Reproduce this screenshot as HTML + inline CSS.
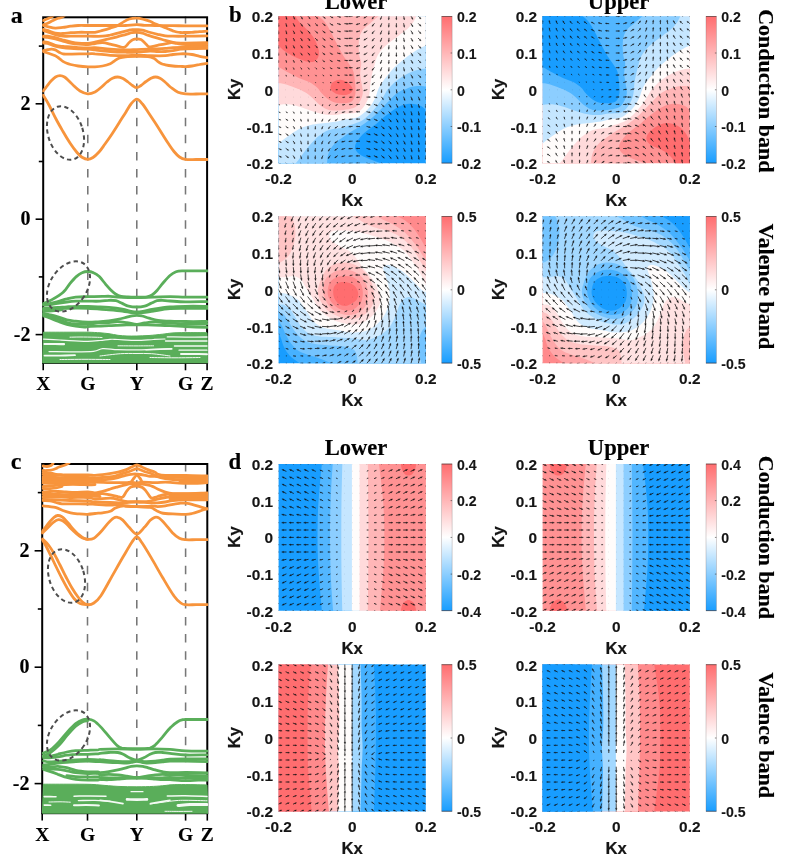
<!DOCTYPE html><html><head><meta charset="utf-8"><title>Band structure and spin texture</title>
<style>html,body{margin:0;padding:0;background:#fff}body{width:785px;height:862px;overflow:hidden}svg{display:block}.sb{font-family:"Liberation Serif","Times New Roman",serif;font-weight:bold;fill:#000;stroke:#000;stroke-width:0.15px;stroke-linejoin:round}.ab{font-family:"Liberation Sans",Arial,sans-serif;font-weight:bold;font-size:15.4px;fill:#151515;stroke:#151515;stroke-width:0.15px;stroke-linejoin:round}.cb{font-family:"Liberation Sans",Arial,sans-serif;font-weight:bold;font-size:14.1px;fill:#151515;stroke:#151515;stroke-width:0.12px;stroke-linejoin:round}.al{font-family:"Liberation Sans",Arial,sans-serif;font-weight:bold;font-size:16.8px;fill:#151515;stroke:#151515;stroke-width:0.2px;stroke-linejoin:round}</style></head><body>
<svg width="785" height="862" viewBox="0 0 785 862" role="img" aria-label="Band structures and spin textures">
<defs><linearGradient id="cbg" x1="0" y1="0" x2="0" y2="1"><stop offset="0" stop-color="#ff6d6f"/><stop offset="0.5" stop-color="#ffffff"/><stop offset="1" stop-color="#189dff"/></linearGradient></defs>
<rect width="785" height="862" fill="#fff"/>
<g>
<clipPath id="bc1"><rect x="42.3" y="16.4" width="165.7" height="347.4"/></clipPath>
<g clip-path="url(#bc1)">
<path d="M87.8 15.1 V362.9" stroke="#777" stroke-width="1.55" stroke-dasharray="8.5 8.6" fill="none"/>
<path d="M136.8 15.1 V362.9" stroke="#777" stroke-width="1.55" stroke-dasharray="8.5 8.6" fill="none"/>
<path d="M185.5 15.1 V362.9" stroke="#777" stroke-width="1.55" stroke-dasharray="8.5 8.6" fill="none"/>
</g>
<rect x="43.2" y="17.3" width="163.9" height="345.6" fill="none" stroke="#000" stroke-width="2"/>
<path d="M38.8 46.1 H43.2" stroke="#000" stroke-width="1.6"/>
<path d="M35.6 103.8 H43.2" stroke="#000" stroke-width="1.6"/>
<text x="30.4" y="109.9" text-anchor="end" class="sb" font-size="20">2</text>
<path d="M38.8 161.5 H43.2" stroke="#000" stroke-width="1.6"/>
<path d="M35.6 219.2 H43.2" stroke="#000" stroke-width="1.6"/>
<text x="30.4" y="225.3" text-anchor="end" class="sb" font-size="20">0</text>
<path d="M38.8 276.9 H43.2" stroke="#000" stroke-width="1.6"/>
<path d="M35.6 334.6 H43.2" stroke="#000" stroke-width="1.6"/>
<text x="30.4" y="340.7" text-anchor="end" class="sb" font-size="20">-2</text>
<path d="M43.2 362.9 V370.3" stroke="#000" stroke-width="1.6"/>
<path d="M87.8 362.9 V370.3" stroke="#000" stroke-width="1.6"/>
<path d="M136.8 362.9 V370.3" stroke="#000" stroke-width="1.6"/>
<path d="M185.5 362.9 V370.3" stroke="#000" stroke-width="1.6"/>
<path d="M207.1 362.9 V370.3" stroke="#000" stroke-width="1.6"/>
<text x="43.2" y="390.4" text-anchor="middle" class="sb" font-size="19.5">X</text>
<text x="87.8" y="390.4" text-anchor="middle" class="sb" font-size="19.5">G</text>
<text x="136.8" y="390.4" text-anchor="middle" class="sb" font-size="19.5">Y</text>
<text x="185.5" y="390.4" text-anchor="middle" class="sb" font-size="19.5">G</text>
<text x="207.1" y="390.4" text-anchor="middle" class="sb" font-size="19.5">Z</text>
<g clip-path="url(#bc1)">
<g fill="none" stroke="#f7943c" stroke-width="2.8" stroke-linecap="round" stroke-linejoin="round">
<path d="M43.2 95.3C44.2 96.9 46.9 101 49 105C51.1 109 53.7 114.6 56 119C58.3 123.4 60.7 127.5 63 131.5C65.3 135.5 67.7 139.5 70 143C72.3 146.5 75 150.1 77 152.5C79 154.9 80.2 156.2 82 157.3C83.8 158.4 86 159.3 87.8 159.3C89.6 159.3 91.1 158.7 93 157.5C94.9 156.3 97 154.2 99 152C101 149.8 102.8 147 105 144C107.2 141 109.7 137.5 112 134C114.3 130.5 116.7 126.7 119 123C121.3 119.3 124 115.2 126 112C128 108.8 129.2 106.1 131 104C132.8 101.9 134.9 99.2 136.8 99.2C138.7 99.2 140.6 101.9 142.5 104C144.4 106.1 146.1 109.2 148 112C149.9 114.8 151.8 117.7 154 121C156.2 124.3 158.7 128.3 161 132C163.3 135.7 165.8 139.8 168 143C170.2 146.2 172.1 149.2 174 151.5C175.9 153.8 177.6 155.7 179.5 157C181.4 158.3 182.8 159 185.5 159.4C188.2 159.8 192.4 159.5 196 159.5C199.6 159.5 205.4 159.5 207.3 159.5"/>
<path d="M43.2 91C43.8 90.2 45.7 87.7 47 86C48.3 84.3 49.6 82.5 51 81C52.4 79.5 54 77.9 55.5 77C57 76.1 58.5 75.7 60 75.7C61.5 75.7 63 76.1 64.5 77C66 77.9 67.4 79.5 69 81C70.6 82.5 72.2 84.3 74 86C75.8 87.7 77.7 89.7 80 91C82.3 92.3 85.3 93.7 87.8 93.9C90.3 94.1 92.8 93.1 95 92C97.2 90.9 99 89.2 101 87.5C103 85.8 105.1 83.5 107 82C108.9 80.5 110.7 79 112.5 78.2C114.3 77.4 116 77 117.7 77C119.5 77 121.3 77.7 123 78.5C124.7 79.3 126.4 80.8 128 82C129.6 83.2 131 84.5 132.5 85.5C134 86.5 135.4 87.7 136.8 87.7C138.2 87.7 139.5 86.5 141 85.5C142.5 84.5 144.3 82.7 146 81.5C147.7 80.3 149.4 79 151 78.2C152.6 77.5 154 77 155.5 77C157 77 158.4 77.5 160 78.3C161.6 79.1 163.2 80.5 165 82C166.8 83.5 168.8 85.8 171 87.5C173.2 89.2 175.6 91.2 178 92.3C180.4 93.4 182.5 93.6 185.5 93.9C188.5 94.2 192.4 94 196 94C199.6 94 205.4 93.9 207.3 93.9"/>
<path d="M43.4 25.5C44.1 25.7 45.6 26.2 47.6 26.6C49.6 27 52.8 28 55.3 28.1C57.8 28.2 60.4 27.7 62.9 27.4C65.5 27.1 68 26.5 70.6 26.2C73.1 25.9 75.3 25.6 78.2 25.5C81.1 25.4 84.4 25.5 88 25.5C91.6 25.5 95 25.5 100 25.5C105 25.5 113.6 25.5 117.9 25.5C122.2 25.5 122.4 25.6 125.6 25.5C128.8 25.4 133.7 24.7 136.9 24.7C140.1 24.7 141.7 25.2 144.7 25.3C147.7 25.4 150.3 25.4 155 25.5C159.7 25.6 167.8 25.5 172.9 25.6C178 25.7 180 25.8 185.7 25.9C191.4 25.9 203.4 25.9 207 25.9"/>
<path d="M43.4 29.3C44.1 29.5 45.6 29.8 47.6 30.4C49.6 31 52.8 32.6 55.3 33.1C57.8 33.6 60.4 33.6 62.9 33.5C65.5 33.4 68 32.9 70.6 32.7C73.1 32.5 75.3 32.4 78.2 32.3C81.1 32.2 85.2 32.3 88 32.3C90.8 32.3 92.6 32.6 95 32.3C97.4 32 100 31.1 102.6 30.4C105.1 29.7 107.8 28.9 110.3 28.1C112.8 27.3 115.6 26.6 117.9 25.5C120.2 24.4 122.1 22.7 124 21.6C125.9 20.5 127.2 19.6 129.4 19C131.6 18.4 134.5 18.1 136.9 18.2C139.3 18.3 141.7 18.9 143.9 19.4C146.1 19.9 148.3 20.7 150 21.3C151.7 21.9 152.5 22.6 153.8 23.2C155.1 23.8 156.3 24.2 157.6 24.7C158.9 25.2 160.2 25.7 161.5 26.2C162.8 26.7 164 27.3 165.3 27.8C166.6 28.3 167.8 28.8 169.1 29.3C170.4 29.8 171.6 30.4 172.9 30.8C174.2 31.2 175.5 31.7 176.8 32C178.1 32.3 179.1 32.4 180.6 32.5C182.1 32.6 183.8 32.5 185.7 32.5C187.6 32.5 189.7 32.4 192 32.3C194.3 32.1 197.2 31.8 199.7 31.6C202.2 31.4 205.8 31.3 207 31.2"/>
<path d="M43.4 30.4C44.1 30.7 45.6 31.3 47.6 32C49.6 32.7 52.8 33.9 55.3 34.6C57.8 35.3 60.4 35.9 62.9 36.2C65.5 36.5 66.4 36.2 70.6 36.2C74.8 36.2 82.7 36.2 88 36.2C93.3 36.2 98.9 36.4 102.6 36.2C106.3 36 107.8 35.5 110.3 35C112.8 34.5 115.4 33.7 117.9 33.1C120.5 32.5 123.3 31.8 125.6 31.2C127.9 30.6 129.8 29.9 131.7 29.7C133.6 29.4 135.1 29.6 136.9 29.7C138.7 29.8 140.5 29.7 142.4 30.1C144.3 30.5 146 31.3 148.5 32C151 32.7 154.8 33.7 157.6 34.3C160.4 34.9 162.8 35.5 165.3 35.8C167.9 36.1 169.5 36.1 172.9 36.2C176.3 36.3 180 36.3 185.7 36.2C191.4 36.1 203.4 35.9 207 35.8"/>
<path d="M43.4 36.2C44.1 36.2 45.6 36 47.6 36.2C49.6 36.5 52.8 37.1 55.3 37.7C57.8 38.3 60.4 39.3 62.9 40C65.5 40.7 68 41.4 70.6 41.9C73.1 42.4 75.3 42.9 78.2 43.1C81.1 43.4 85.2 43.6 88 43.4C90.8 43.2 92.6 42.5 95 42C97.4 41.5 100 41 102.6 40.4C105.1 39.8 107.8 39.1 110.3 38.5C112.8 37.9 115.4 37.2 117.9 36.6C120.5 36 123.3 35.2 125.6 34.6C127.9 34 129.8 33.1 131.7 32.7C133.6 32.3 135.1 32.2 136.9 32.3C138.7 32.4 140.5 32.6 142.4 33.1C144.3 33.6 146 34.6 148.5 35.4C151 36.2 154.8 37.3 157.6 38.1C160.4 38.9 162.8 39.7 165.3 40.4C167.9 41.1 170.4 41.8 172.9 42.3C175.4 42.8 178.5 43 180.6 43.1C182.7 43.2 181.3 43.3 185.7 43.2C190.1 43.1 203.4 42.8 207 42.7"/>
<path d="M43.4 36.9C44.1 37 45.6 37 47.6 37.3C49.6 37.6 52.8 38.2 55.3 38.8C57.8 39.4 60.4 40.4 62.9 41.1C65.5 41.8 68 42.6 70.6 43.1C73.1 43.6 75.3 44 78.2 44.2C81.1 44.5 85.2 44.7 88 44.6C90.8 44.5 92.6 43.8 95 43.5C97.4 43.2 100 42.6 102.6 42.7C105.1 42.8 107.8 43.6 110.3 44.2C112.8 44.8 115.8 45.6 117.9 46.1C120 46.6 121.7 47.3 123 47.4C124.3 47.5 124.5 47.4 125.6 46.5C126.7 45.6 128.1 43.4 129.4 42.3C130.7 41.1 131.9 40.2 133.2 39.6C134.4 39 135.6 38.8 136.9 38.8C138.2 38.8 139.6 39 140.9 39.6C142.2 40.2 143.5 41.6 144.7 42.7C145.8 43.8 146.8 45.4 147.8 46.1C148.8 46.8 148.9 47 150.5 46.9C152.1 46.8 155.1 45.8 157.6 45.3C160.1 44.8 163 44.2 165.3 43.8C167.6 43.4 169.5 42.8 171.4 42.7C173.3 42.6 174.4 43.1 176.8 43.4C179.2 43.7 180.7 44.4 185.7 44.6C190.7 44.8 203.4 44.6 207 44.6"/>
<path d="M43.4 41.9C44.1 42 45.6 41.7 47.6 42.3C49.6 42.9 52.8 44.6 55.3 45.3C57.8 46 60.4 46.2 62.9 46.5C65.5 46.8 68 46.7 70.6 46.9C73.1 47.1 75.3 47.4 78.2 47.6C81.1 47.8 85.2 48 88 48C90.8 48 91.3 47.4 95 47.6C98.7 47.8 105.2 48.8 110.3 49.2C115.4 49.6 121.2 49.8 125.6 49.9C130 50 133.1 49.7 136.9 49.6C140.7 49.5 145.1 49.3 148.5 49.2C151.9 49.1 154.8 48.9 157.6 48.8C160.4 48.7 162.8 48.6 165.3 48.4C167.9 48.2 169.5 47.8 172.9 47.6C176.3 47.4 180 47.4 185.7 47.3C191.4 47.2 203.4 47 207 47"/>
<path d="M43.4 43.1C44.1 43.1 45.6 42.9 47.6 43.4C49.6 43.9 52.8 45.4 55.3 46.1C57.8 46.8 60.4 47.2 62.9 47.6C65.5 48 68 48.2 70.6 48.4C73.1 48.6 75.3 48.7 78.2 48.8C81.1 48.9 85.2 49 88 49.2C90.8 49.4 91.3 49.5 95 49.9C98.7 50.3 105.2 51.1 110.3 51.5C115.4 51.9 121.2 52.1 125.6 52.2C130 52.3 132.8 52.4 136.9 52.2C141 52 146.6 51.1 150 51C153.4 50.9 155 51.4 157.6 51.5C160.2 51.6 162.8 51.6 165.3 51.5C167.9 51.4 170.4 51.1 172.9 50.7C175.4 50.3 178.5 49.5 180.6 49.2C182.7 48.9 181.3 48.9 185.7 48.8C190.1 48.7 203.4 48.5 207 48.4"/>
<path d="M43.4 50.7C44.1 50.5 46.2 49.9 47.6 49.6C49 49.4 50.2 49.2 51.5 49.2C52.8 49.2 54 49.4 55.3 49.9C56.6 50.4 57.8 51.6 59.1 52.2C60.4 52.9 61 53.5 62.9 53.8C64.8 54.1 66.4 54.1 70.6 54.1C74.8 54.1 83.9 53.8 88 53.8C92.1 53.8 91.3 53.5 95 53.8C98.7 54 105.2 55 110.3 55.3C115.4 55.6 121.2 55.7 125.6 55.7C130 55.7 132.8 55.3 136.9 55.3C141 55.3 145.3 55.6 150 55.7C154.7 55.8 161.5 55.9 165.3 55.7C169.1 55.5 170.4 54.8 172.9 54.5C175.4 54.2 178.5 53.9 180.6 53.8C182.7 53.7 183.8 53.7 185.7 53.8C187.6 53.9 189.7 54.1 192 54.5C194.3 54.9 197.2 55.9 199.7 56.4C202.2 56.9 205.8 57.4 207 57.6"/>
<path d="M43.4 51.5C44.1 51.8 45.6 52.3 47.6 53C49.6 53.7 53.4 54.8 55.3 55.7C57.2 56.6 57.8 57.3 59.1 58.3C60.4 59.2 61.6 60.6 62.9 61.4C64.2 62.2 65.5 62.8 66.8 63.3C68.1 63.8 68.7 64 70.6 64.5C72.5 65 75.3 65.6 78.2 66C81.1 66.4 85.2 66.7 88 66.8C90.8 66.9 92.6 66.9 95 66.8C97.4 66.7 100 66.5 102.6 66C105.1 65.5 108.2 64.6 110.3 63.7C112.3 62.8 113.4 61.6 114.9 60.6C116.4 59.6 117.7 58.6 119.5 58C121.3 57.4 122.7 57.1 125.6 56.8C128.5 56.5 133.2 56.4 136.9 56.4C140.6 56.4 145.2 56.3 148 56.6C150.8 56.9 152.2 57.5 153.8 58.3C155.4 59.1 156.3 60.5 157.6 61.4C158.9 62.3 160.2 63.1 161.5 63.7C162.8 64.3 163.4 64.4 165.3 64.8C167.2 65.2 170.4 65.7 172.9 66C175.4 66.3 178.5 66.3 180.6 66.4C182.7 66.5 183.8 66.7 185.7 66.6C187.6 66.5 189.7 66.3 192 66C194.3 65.7 197.2 65 199.7 64.5C202.2 64 205.8 63.5 207 63.3"/>
<path d="M43.4 20.5C44 20.2 45.8 19.5 46.9 19C48 18.5 48.9 18.2 49.9 17.7C50.9 17.2 52.5 16.3 53 16"/>
<path d="M43.4 24.7C44.1 24.4 46 23.9 47.6 23.2C49.2 22.5 51.2 21.3 53 20.5C54.8 19.7 56.9 18.7 58.3 18.2C59.7 17.7 60.4 17.8 61.4 17.4C62.4 17 63.6 16.2 64 16"/>
</g>
<g fill="none" stroke="#5aae5a" stroke-width="2.8" stroke-linecap="round" stroke-linejoin="round">
<path d="M43.7 303.4C45.1 302.8 48.7 301.5 52 299.6C55.3 297.7 60.6 294.6 63.5 291.9C66.5 289.3 67.8 286.2 69.9 283.6C72 281.1 74.3 278.4 76.3 276.6C78.3 274.8 80.1 273.6 82 272.8C84 271.9 85.9 271.5 87.8 271.5C89.7 271.5 91.6 271.9 93.5 272.8C95.4 273.6 97.3 274.7 99.3 276.6C101.3 278.5 103.7 282 105.7 284.3C107.6 286.5 109.1 288.3 110.8 290C112.5 291.7 114.2 293.2 115.9 294.2C117.6 295.3 119 295.9 121 296.4C123 296.9 125.4 296.9 128 297C130.6 297.2 133.6 297.2 136.8 297.2C140 297.2 144.5 297.2 147 296.8C149.5 296.4 150.3 296.1 152 295C153.7 293.9 155.2 292.5 157 290.5C158.8 288.5 160.8 285.5 163 283C165.2 280.5 167.8 277.4 170 275.5C172.2 273.6 174 272.6 176 271.8C178 271 176.8 271 182 270.9C187.2 270.8 203.1 270.9 207.3 270.9"/>
<path d="M43.4 304.3C44.3 304.2 46.6 304.2 49 303.8C51.4 303.4 54.8 302.4 57.8 301.6C60.8 300.8 63.8 299.6 66.8 298.9C69.8 298.1 72.2 297.5 75.7 297.1C79.2 296.7 83.5 296.8 88 296.7C92.5 296.6 98.8 296.5 102.5 296.4C106.2 296.3 107.5 296.2 110 296.3C112.5 296.4 113.3 296.9 117.8 297.1C122.3 297.3 130.9 297.6 136.8 297.6C142.8 297.6 148 297.2 153.5 297.1C159 297 164.7 296.7 170 296.7C175.3 296.7 179.3 297 185.5 297.1C191.7 297.2 203.4 297.1 207 297.1"/>
<path d="M43.4 305.2C44.3 305.1 46.6 305 49 304.7C51.4 304.4 54.8 303.8 57.8 303.4C60.8 302.9 63.8 302.4 66.8 302C69.8 301.6 72.2 301.3 75.7 301.2C79.2 301.1 84 301.2 88 301.2C92 301.2 96.5 301.3 100 301.2C103.5 301.1 106.2 300.4 108.9 300.3C111.6 300.2 113.8 300.2 116 300.7C118.2 301.2 120.2 302.5 122.3 303.4C124.4 304.3 126.1 305.5 128.5 306.1C130.9 306.7 134.1 307 136.8 307C139.5 307 142.3 306.7 144.6 306.1C146.9 305.5 148.7 304.3 150.8 303.4C152.9 302.5 155.2 301.2 157.1 300.7C159 300.2 160.2 300.2 162.4 300.3C164.6 300.4 166.2 300.8 170 301C173.8 301.2 179.3 301.7 185.5 301.8C191.7 301.9 203.4 301.6 207 301.6"/>
<path d="M43.4 308.5C44.3 308.4 46.6 308.2 49 308C51.4 307.8 54.8 307.7 57.8 307.5C60.8 307.3 63.8 307 66.8 306.8C69.8 306.6 72.2 306.4 75.7 306.3C79.2 306.2 84.3 306.4 88 306.5C91.7 306.6 94.5 306.8 98 306.9C101.5 307 104.9 307 108.9 307.4C113 307.8 118.6 308.5 122.3 309.2C126 309.9 128.8 310.9 131.2 311.4C133.6 311.9 134.9 312 136.8 312C138.7 312 140 311.9 142.8 311.4C145.6 310.9 149 309.9 153.5 309.2C158 308.5 164.7 307.5 170 307C175.3 306.5 179.3 306.4 185.5 306.3C191.7 306.2 203.4 306.3 207 306.3"/>
<path d="M43.4 309.5C45.8 309.4 52.4 309.1 57.8 308.8C63.2 308.6 70.7 308.1 75.7 308C80.7 307.9 82.5 308 88 308.3C93.5 308.6 103.2 309.4 108.9 309.8C114.6 310.2 118.6 310.5 122.3 311C126 311.5 128.8 312.4 131.2 312.7C133.6 313 134.9 313 136.8 313C138.7 313 140 313 142.8 312.7C145.6 312.4 149 311.7 153.5 311C158 310.3 164.7 309.1 170 308.7C175.3 308.2 179.3 308.4 185.5 308.3C191.7 308.2 203.4 308.3 207 308.3"/>
<path d="M43.4 313.2C44.3 313.4 46.6 313.9 49 314.5C51.4 315.1 54.8 315.9 57.8 316.8C60.8 317.7 63.8 319.2 66.8 319.9C69.8 320.6 72.2 320.8 75.7 321.2C79.2 321.6 84.3 322.1 88 322.2C91.7 322.3 94.5 322 98 321.8C101.5 321.6 105.6 321.2 108.9 320.8C112.2 320.4 114.8 320 117.8 319.4C120.8 318.8 124.4 317.8 126.8 317.2C129.2 316.6 130.4 316.2 132.1 315.9C133.8 315.6 135.2 315.4 136.8 315.4C138.4 315.4 139.9 315.4 141.9 315.9C143.9 316.3 146.3 317.4 149 318.1C151.7 318.8 154.5 319.8 158 320.3C161.5 320.8 165.4 321 170 321.2C174.6 321.4 179.3 321.4 185.5 321.5C191.7 321.6 203.4 321.5 207 321.5"/>
<path d="M43.4 314.5C44.3 314.8 46.6 315.2 49 316C51.4 316.8 54.8 317.9 57.8 319C60.8 320.1 63.8 321.7 66.8 322.5C69.8 323.3 72.2 323.7 75.7 324C79.2 324.3 84 324.5 88 324.3C92 324.1 96.5 322.9 100 322.6C103.5 322.3 105.9 322.8 108.9 322.6C111.9 322.5 114.8 321.7 117.8 321.7C120.8 321.7 123.6 322.2 126.8 322.6C130 323 133.8 324.2 136.8 324.3C139.8 324.4 141.5 323.4 144.6 323C147.7 322.6 152.3 321.8 155.3 321.7C158.3 321.6 160 322.4 162.4 322.6C164.8 322.8 166.2 322.8 170 323C173.8 323.2 179.3 323.8 185.5 324C191.7 324.2 203.4 324 207 324"/>
<path d="M43.4 315.9C44.3 316.2 46.6 316.8 49 317.7C51.4 318.6 54.8 320.1 57.8 321.2C60.8 322.3 63.8 323.5 66.8 324.3C69.8 325.1 72.7 325.7 75.7 326.1C78.7 326.6 82.5 326.9 84.6 327C86.6 327.1 85.8 326.8 88 326.6C90.2 326.5 94.5 326.2 98 326.1C101.5 326 104.1 325.9 108.9 325.7C113.7 325.5 122.1 324.9 126.8 324.8C131.4 324.7 132.4 324.8 136.8 324.8C141.2 324.8 148 324.9 153.5 325C159 325.1 164.7 325.4 170 325.7C175.3 325.9 179.3 326.2 185.5 326.5C191.7 326.8 203.4 327.2 207 327.3"/>
<path d="M43.4 311C44.3 311 47.1 311.1 49 311C50.9 310.9 52.8 310.8 55 310.5C57.2 310.2 60.8 309.7 62 309.5"/>
</g>
<path d="M43.4 332.2C47.8 332.2 62.6 332.2 70 332.2C77.4 332.2 83 332.1 88 332.2C93 332.3 96.5 332.6 100 332.8C103.5 333.1 106 333.3 109 333.7C112 334.1 115 334.9 118 335.3C121 335.7 123.9 335.9 127 336C130.1 336.1 133.1 336.1 136.8 336C140.5 335.9 144.7 335.8 149 335.5C153.3 335.2 158.6 334.6 162.4 334.2C166.2 333.8 168.2 333.3 172 333C175.8 332.7 179.7 332.7 185.5 332.6C191.3 332.6 203.4 332.7 207 332.7L208 362.9 L42.4 362.9 Z" fill="#5aae5a" stroke="#5aae5a" stroke-width="1"/>
<path d="M43.6 339.1C46.3 339.2 54.8 339.7 60 340C65.2 340.3 70.3 340.6 75 340.8C79.7 341 83.8 341.4 88 341.3C92.2 341.2 96.3 340.8 100 340.5C103.7 340.2 107 339.5 110 339.3C113 339.1 113.5 339.3 118 339.5C122.5 339.7 130.9 340.4 136.8 340.4C142.7 340.4 148.8 339.7 153.5 339.5C158.2 339.3 163.1 339.1 165 339" fill="none" stroke="#f4faf4" stroke-width="1.2" stroke-linecap="round"/>
<path d="M44.5 344C46.2 344 51.8 344 55 344C58.2 344 62.5 344.2 64 344.2" fill="none" stroke="#f4faf4" stroke-width="2.2" stroke-linecap="round"/>
<path d="M70 337.2C71.7 337.2 75.8 337 80 337C84.2 337 91.3 337.1 95 337.2C98.7 337.3 100.8 337.4 102 337.5" fill="none" stroke="#f4faf4" stroke-width="1" stroke-linecap="round"/>
<path d="M118 345.8C121 345.8 130.1 345.9 136 345.9C141.9 345.9 150.6 345.8 153.5 345.8" fill="none" stroke="#f4faf4" stroke-width="1" stroke-linecap="round"/>
<path d="M49 351.6C52.5 351.6 62.6 351.8 70 351.8C77.4 351.8 88 351.9 93.5 351.4C99 350.9 98.7 348.9 102.7 348.6C106.8 348.3 112.1 349.4 117.8 349.6C123.5 349.8 130.9 349.9 136.8 349.9C142.8 349.8 147.8 349.5 153.5 349.3C159.2 349.1 168.1 348.8 171 348.7" fill="none" stroke="#f4faf4" stroke-width="1.2" stroke-linecap="round"/>
<path d="M44.5 355.6C47.1 355.6 54.9 355.7 60 355.6C65.1 355.5 72.5 355.3 75 355.2" fill="none" stroke="#f4faf4" stroke-width="1.8" stroke-linecap="round"/>
<path d="M100 356C103.4 355.6 114.5 354.1 120.5 353.7C126.5 353.3 130.8 353.5 136 353.5C141.2 353.5 146 353.3 151.7 353.7C157.4 354.1 166.9 355.6 170 356" fill="none" stroke="#f4faf4" stroke-width="1" stroke-linecap="round"/>
<path d="M60 359.5C64.2 359.5 76.7 359.3 85 359.3C93.3 359.3 105.8 359.5 110 359.5" fill="none" stroke="#f4faf4" stroke-width="1" stroke-linecap="round"/>
<path d="M167.3 336.9C170.4 336.9 179 337.1 185.6 337.1C192.2 337.1 203.4 337 207 337" fill="none" stroke="#f4faf4" stroke-width="1.3" stroke-linecap="round"/>
<path d="M165.5 341C168.8 341 178.1 341 185 341C191.9 341 203.3 341 207 341" fill="none" stroke="#f4faf4" stroke-width="1.3" stroke-linecap="round"/>
<path d="M174.4 346C177 346 184.6 346 190 346C195.4 346 204.2 346 207 346" fill="none" stroke="#f4faf4" stroke-width="1.3" stroke-linecap="round"/>
<path d="M146 349.8C148.3 349.7 155.7 349.4 160 349.2C164.3 349 169.8 348.9 171.8 348.9" fill="none" stroke="#f4faf4" stroke-width="1.6" stroke-linecap="round"/>
<path d="M179 350.2C181.7 350.2 190.3 350.2 195 350.2C199.7 350.2 205 350.2 207 350.2" fill="none" stroke="#f4faf4" stroke-width="1.2" stroke-linecap="round"/>
<path d="M181 353.9C183.3 353.9 190.7 353.9 195 354C199.3 354.1 205 354.2 207 354.2" fill="none" stroke="#f4faf4" stroke-width="2" stroke-linecap="round"/>
<path d="M150 357.5C154.2 357.6 166.7 357.8 175 357.8C183.3 357.8 195.8 357.6 200 357.5" fill="none" stroke="#f4faf4" stroke-width="1" stroke-linecap="round"/>
</g>
<ellipse cx="65.5" cy="133" rx="17.5" ry="27.5" transform="rotate(-17 65.5 133)" fill="none" stroke="#4d4d4d" stroke-width="2" stroke-dasharray="4.3 3.3"/>
<ellipse cx="68.5" cy="286.5" rx="18.5" ry="27.5" transform="rotate(33 68.5 286.5)" fill="none" stroke="#4d4d4d" stroke-width="2" stroke-dasharray="4.3 3.3"/>
</g>
<g>
<clipPath id="bc2"><rect x="41.3" y="463.1" width="166.9" height="351"/></clipPath>
<g clip-path="url(#bc2)">
<path d="M87.5 463.1 V813.2" stroke="#777" stroke-width="1.55" stroke-dasharray="8.5 8.6" fill="none"/>
<path d="M136.8 463.1 V813.2" stroke="#777" stroke-width="1.55" stroke-dasharray="8.5 8.6" fill="none"/>
<path d="M185.6 463.1 V813.2" stroke="#777" stroke-width="1.55" stroke-dasharray="8.5 8.6" fill="none"/>
</g>
<rect x="42.2" y="464" width="165.1" height="349.2" fill="none" stroke="#000" stroke-width="2"/>
<path d="M37.8 492.6 H42.2" stroke="#000" stroke-width="1.6"/>
<path d="M34.6 550.8 H42.2" stroke="#000" stroke-width="1.6"/>
<text x="29.4" y="556.9" text-anchor="end" class="sb" font-size="20">2</text>
<path d="M37.8 609 H42.2" stroke="#000" stroke-width="1.6"/>
<path d="M34.6 667.2 H42.2" stroke="#000" stroke-width="1.6"/>
<text x="29.4" y="673.3" text-anchor="end" class="sb" font-size="20">0</text>
<path d="M37.8 725.4 H42.2" stroke="#000" stroke-width="1.6"/>
<path d="M34.6 783.6 H42.2" stroke="#000" stroke-width="1.6"/>
<text x="29.4" y="789.7" text-anchor="end" class="sb" font-size="20">-2</text>
<path d="M42.2 813.2 V820.6" stroke="#000" stroke-width="1.6"/>
<path d="M87.5 813.2 V820.6" stroke="#000" stroke-width="1.6"/>
<path d="M136.8 813.2 V820.6" stroke="#000" stroke-width="1.6"/>
<path d="M185.6 813.2 V820.6" stroke="#000" stroke-width="1.6"/>
<path d="M207.3 813.2 V820.6" stroke="#000" stroke-width="1.6"/>
<text x="42.2" y="840.7" text-anchor="middle" class="sb" font-size="19.5">X</text>
<text x="87.5" y="840.7" text-anchor="middle" class="sb" font-size="19.5">G</text>
<text x="136.8" y="840.7" text-anchor="middle" class="sb" font-size="19.5">Y</text>
<text x="185.6" y="840.7" text-anchor="middle" class="sb" font-size="19.5">G</text>
<text x="207.3" y="840.7" text-anchor="middle" class="sb" font-size="19.5">Z</text>
<g clip-path="url(#bc2)">
<g fill="none" stroke="#f7943c" stroke-width="2.8" stroke-linecap="round" stroke-linejoin="round">
<path d="M42.5 539C43.5 540 46.6 542.6 48.5 545C50.4 547.4 52.1 550.2 54 553.5C55.9 556.8 58 561.1 60 565C62 568.9 64 573.2 66 577C68 580.8 70 584.7 72 588C74 591.3 76.2 594.7 78 597C79.8 599.3 80.9 600.7 82.5 602C84.1 603.3 85.6 604.5 87.5 604.7C89.4 604.9 91.7 604.5 93.9 603C96.1 601.5 97.9 600.2 100.9 595.7C103.9 591.3 108.4 582.7 112.1 576.1C115.8 569.6 120 562.1 123.3 556.5C126.6 550.9 129.5 545.8 131.7 542.5C134 539.2 135.1 536.9 136.8 536.9C138.5 536.9 139.4 539 141.8 542.5C144.2 546 147.9 552.1 151.3 557.9C154.8 563.7 158.8 571.2 162.6 577.5C166.3 583.8 170.7 591.5 173.8 595.7C176.8 600 178.8 601.5 180.8 603C182.7 604.5 183 604.4 185.5 604.7C188.1 605 192.5 604.7 196.2 604.7C199.8 604.7 205.5 604.7 207.4 604.7"/>
<path d="M42.5 540C43.1 541 44.7 543.5 46 546C47.3 548.5 48.8 551.6 50.5 555C52.2 558.4 54.1 562.6 56 566.5C57.9 570.4 60 574.7 62 578.5C64 582.3 66 586.2 68 589.5C70 592.8 72 596.2 74 598.5C76 600.8 77.8 602.5 80 603.5C82.2 604.5 86.2 604.5 87.5 604.7"/>
<path d="M42.2 531.5C42.8 530.7 44.7 528.2 46 526.5C47.3 524.8 48.7 523 50 521.5C51.3 520 52.7 518.3 54 517.3C55.3 516.3 56.5 515.6 57.7 515.5C59 515.4 60.3 515.8 61.5 516.5C62.7 517.2 63.8 518.2 65 519.5C66.2 520.8 67.7 522.4 69 524C70.3 525.6 71.5 527.3 73 529C74.5 530.7 76.4 532.6 78 534C79.6 535.4 80.9 536.6 82.5 537.5C84.1 538.4 85.6 539.2 87.5 539.3C89.4 539.4 91.7 539.5 93.9 538.3C96.1 537 98.6 534.3 100.9 531.8C103.2 529.4 105.8 525.7 107.9 523.4C110 521.1 111.9 519.1 113.5 518.1C115.1 517.1 116.2 516.9 117.7 517.3C119.3 517.6 120.9 518.4 122.8 520.1C124.6 521.7 126.6 524.7 128.9 527.1C131.3 529.4 134.2 534.1 136.8 534.1C139.4 534.1 142.4 529.3 144.6 527.1C146.8 524.8 148.3 522.3 149.9 520.6C151.6 519 153.2 517.7 154.7 517.3C156.2 516.8 157.4 516.9 159.2 518.1C161 519.3 163.2 521.8 165.4 524.3C167.6 526.7 170 530.3 172.4 532.7C174.7 535 177.2 537.1 179.4 538.3C181.6 539.5 182.7 539.5 185.5 539.7C188.3 539.9 192.5 539.7 196.2 539.7C199.8 539.7 205.5 539.7 207.4 539.7"/>
<path d="M42.2 533C42.8 532.4 44.7 530.8 46 529.5C47.3 528.2 48.7 526.8 50 525.5C51.3 524.2 52.6 522.8 54 521.8C55.4 520.8 57.2 519.8 58.5 519.6C59.8 519.4 60.8 519.9 62 520.5C63.2 521.1 64.3 522 65.5 523C66.7 524 67.8 525.2 69 526.5C70.2 527.8 71.5 529.1 73 530.5C74.5 531.9 76.4 533.8 78 535C79.6 536.2 80.9 537.3 82.5 538C84.1 538.7 86.7 539.1 87.5 539.3"/>
<path d="M43.2 470.5C43.8 470.5 45.6 470.6 47 470.5C48.4 470.4 50.1 470.3 51.5 470C52.9 469.7 54.2 469.3 55.5 468.8C56.8 468.3 57.4 467.6 59 467C60.6 466.4 63.3 465.7 65 465C66.7 464.3 68.3 463.3 69 463"/>
<path d="M43.2 466C43.8 466.1 45.7 466.6 47 466.5C48.3 466.4 50 466 51 465.5C52 465 52.7 463.8 53 463.5"/>
<path d="M43.2 472.5C44.3 472.6 47.9 472.7 50 473C52.1 473.3 54 474 56 474.3C58 474.6 61 474.7 62 474.8"/>
<path d="M43.2 474.5C45.2 474.6 50.5 474.9 55 475C59.5 475.1 64.5 475 70 475C75.5 475 83.8 474.8 88 474.8C92.2 474.9 91.9 475.4 95 475.3C98.1 475.2 102.7 474.6 106.5 474.1C110.3 473.6 114.7 472.9 117.9 472.2C121.1 471.5 123.4 470.7 125.6 469.9C127.8 469.1 129.1 468.1 131 467.3C132.9 466.5 135 465 136.9 465C138.8 465 140.5 466.5 142.4 467.3C144.3 468.1 146.4 469.1 148.5 469.9C150.6 470.7 153.5 471.5 155 472.2C156.5 472.9 155.9 473.6 157.6 474.1C159.3 474.6 160.6 475.1 165.3 475.3C170 475.5 178.7 475.2 185.7 475.3C192.7 475.4 203.7 475.9 207.3 476"/>
<path d="M43.2 477C45.2 477.1 50.5 477.4 55 477.5C59.5 477.6 64.5 477.5 70 477.5C75.5 477.5 83.8 477.2 88 477.3C92.2 477.4 91.9 478 95 478C98.1 478 103.3 477.5 106.5 477.2C109.7 476.9 111.5 477 114 476.4C116.5 475.8 119.2 474.6 121.8 473.8C124.4 473 127.2 472.3 129.4 471.5C131.6 470.7 133.6 469.7 134.8 469.2C136.1 468.7 136.2 468.4 136.9 468.4C137.6 468.4 137.8 468.7 139 469.2C140.2 469.7 142.2 470.7 144.4 471.5C146.6 472.3 149.8 472.9 152 473.8C154.2 474.7 155.4 476 157.6 476.8C159.8 477.6 162.8 478.2 165.3 478.7C167.9 479.1 169.5 479.3 172.9 479.5C176.3 479.7 180 479.8 185.7 479.9C191.4 480 203.7 479.9 207.3 479.9"/>
<path d="M43.2 480C45.2 480.1 50.5 480.4 55 480.5C59.5 480.6 64.5 480.6 70 480.5C75.5 480.4 83.8 480 88 480C92.2 480 91.3 480.8 95 480.6C98.7 480.5 106.5 479.6 110.3 479.1C114.1 478.6 115.4 478.2 117.9 477.6C120.5 477 123 475.9 125.6 475.3C128.1 474.7 131.3 474.3 133.2 474.1C135.1 473.9 135.6 474 136.9 474.1C138.2 474.2 139 474.2 140.9 474.5C142.8 474.8 146.2 475.8 148.5 476.1C150.8 476.4 152.2 476.2 155 476.4C157.8 476.5 160.2 476.8 165.3 477C170.4 477.2 178.7 477.3 185.7 477.5C192.7 477.7 203.7 477.9 207.3 478"/>
<path d="M43.2 483C45.2 483.1 50.5 483.2 55 483.3C59.5 483.4 64.5 483.6 70 483.5C75.5 483.4 83.8 482.7 88 482.5C92.2 482.3 91.3 482.2 95 482.2C98.7 482.2 105.2 482.5 110.3 482.6C115.4 482.7 122.1 482.7 125.6 482.6C129 482.5 129.1 482.1 131 482.2C132.9 482.2 135 482.9 136.9 482.9C138.8 482.9 139.4 482.2 142.4 482.2C145.4 482.1 151.2 482.6 155 482.6C158.8 482.6 162.3 482.2 165.3 482.2C168.3 482.2 169.5 482.4 172.9 482.6C176.3 482.8 181.9 483.2 185.7 483.3C189.5 483.4 192.3 483.4 195.9 483.3C199.5 483.2 205.4 482.7 207.3 482.6"/>
<path d="M131.3 482C131.8 481.3 133.1 479.1 134 478C134.9 476.9 135.9 475.3 136.9 475.3C137.9 475.3 139 476.9 139.8 478C140.7 479.1 141.6 481.3 142 482"/>
<path d="M43.2 486.5C44.3 486.4 47.5 486.2 50 486C52.5 485.8 55.3 485.2 58 485C60.7 484.8 62.3 484.6 66 484.5C69.7 484.4 76.3 484.4 80 484.5C83.7 484.6 85.5 484.8 88 484.8C90.5 484.8 93.8 484.6 95 484.5"/>
<path d="M43.2 492C44.3 491.9 47.5 491.6 50 491.5C52.5 491.4 55.3 491.4 58 491.5C60.7 491.6 63.2 491.9 66 492C68.8 492.1 71.3 492.3 75 492.3C78.7 492.3 84.7 491.7 88 491.8C91.3 491.9 92.6 493 95 492.9C97.4 492.8 100 491.9 102.6 491.3C105.1 490.7 107.8 489.8 110.3 489C112.8 488.2 115.4 487.5 117.9 486.8C120.5 486.1 123.3 485.3 125.6 484.8C127.9 484.3 129.8 483.9 131.7 483.7C133.6 483.5 135.1 483.6 136.9 483.7C138.7 483.8 140.5 483.9 142.4 484.1C144.3 484.4 146.7 484.8 148.5 485.2C150.3 485.6 151.5 486 153 486.6C154.5 487.2 155.5 488.1 157.6 489C159.7 489.9 162.8 491.3 165.3 492.1C167.9 492.9 169.5 493.4 172.9 493.6C176.3 493.9 180 493.7 185.7 493.6C191.4 493.5 203.7 493 207.3 492.9"/>
<path d="M43.2 494.5C45.2 494.5 50.5 494.5 55 494.5C59.5 494.5 64.5 494.6 70 494.5C75.5 494.4 83.8 494.1 88 494C92.2 493.9 92.6 493.7 95 493.6C97.4 493.5 100 493.4 102.6 493.6C105.1 493.8 107.8 494.3 110.3 494.8C112.8 495.3 116.1 496.2 117.9 496.7C119.7 497.1 120.4 497.5 121.3 497.5C122.2 497.5 122.3 497.6 123.3 496.5C124.3 495.4 125.8 492.2 127.1 490.6C128.4 489 129.3 487.9 130.9 487.1C132.5 486.3 135 485.9 136.9 486C138.8 486.1 140.9 486.6 142.4 487.5C143.9 488.4 144.9 489.8 146.2 491.3C147.5 492.8 149 495.6 150 496.7C151 497.8 151 498.2 152.3 498.2C153.6 498.2 155.4 497.1 157.6 496.5C159.8 495.9 162.8 494.9 165.3 494.5C167.9 494.1 169.5 493.9 172.9 493.8C176.3 493.7 180 494 185.7 494C191.4 494 203.7 494 207.3 494"/>
<path d="M43.2 497C45.2 497 50.5 496.9 55 497C59.5 497.1 64.5 497.4 70 497.5C75.5 497.6 83.8 497.2 88 497.5C92.2 497.8 91.3 498.9 95 499C98.7 499.1 106.2 498.1 110.3 498.2C114.4 498.3 117 499.3 119.5 499.8C122 500.3 122.7 501 125.6 501.3C128.5 501.6 133.1 501.7 136.9 501.7C140.7 501.7 145.5 501.6 148.5 501.3C151.5 501 152.2 500.4 155 499.8C157.8 499.2 162.3 498 165.3 497.5C168.3 497 169.5 496.7 172.9 496.7C176.3 496.7 180 497.5 185.7 497.5C191.4 497.5 203.7 496.8 207.3 496.7"/>
<path d="M43.2 499.3C45.2 499.4 50.5 499.6 55 499.8C59.5 500 64.5 500.3 70 500.5C75.5 500.7 83.8 500.8 88 501C92.2 501.2 91.3 501.8 95 502C98.7 502.2 106.2 502.4 110.3 502.5C114.4 502.6 117 502.8 119.5 502.8C122 502.8 122.7 502.6 125.6 502.5C128.5 502.4 132.8 501.9 136.9 502C141 502.1 146.6 502.7 150 502.8C153.4 502.9 155 502.9 157.6 502.8C160.2 502.7 162.8 502.4 165.3 502C167.9 501.6 169.5 500.9 172.9 500.5C176.3 500.1 180 499.9 185.7 499.8C191.4 499.7 203.7 499.8 207.3 499.8"/>
<path d="M43.2 500.5C44.3 500.6 47.9 500.5 50 500.8C52.1 501.1 54 502 56 502.5C58 503 59.7 503.6 62 503.8C64.3 504 65.7 503.8 70 503.8C74.3 503.8 83.8 503.9 88 504C92.2 504.1 91.3 504.1 95 504.3C98.7 504.5 106.5 505.1 110.3 505.1C114.1 505.1 115.4 504.4 117.9 504.5C120.5 504.6 122.4 505.6 125.6 506C128.8 506.4 133.1 506.6 136.9 506.6C140.7 506.7 145.9 506.4 148.5 506.3C151.1 506.2 150.8 505.8 152.3 505.9C153.8 505.9 155.4 506.6 157.6 506.6C159.8 506.6 162.8 506.3 165.3 505.9C167.9 505.5 170.4 504.8 172.9 504.3C175.4 503.9 178.5 503.4 180.6 503.2C182.7 503 183.8 503 185.7 503.2C187.6 503.4 189.7 503.7 192 504.3C194.3 504.9 197.1 505.8 199.7 506.6C202.2 507.4 206 508.5 207.3 508.9"/>
<path d="M43.2 505.9C45.2 506.1 52 506.6 55.3 507.4C58.6 508.2 60.4 509.6 62.9 510.5C65.5 511.4 68 512.2 70.6 512.8C73.1 513.4 75.4 513.6 78.2 513.9C81 514.1 84.6 514.4 87.4 514.3C90.2 514.2 92.5 513.8 95 513.5C97.5 513.2 100 513.2 102.6 512.8C105.1 512.4 108.2 512 110.3 511.2C112.3 510.4 113.2 509 114.9 508.2C116.6 507.4 118.4 506.7 120.2 506.3C122 505.9 122.8 505.9 125.6 506C128.4 506.1 132.8 506.4 136.9 506.6C141 506.8 147.2 507 150 507.4C152.8 507.8 152.5 508.3 153.8 508.9C155.1 509.5 156.3 510.6 157.6 511.2C158.9 511.8 160.2 512.4 161.5 512.8C162.8 513.2 163.4 513.3 165.3 513.5C167.2 513.7 169.5 513.8 172.9 513.9C176.3 514 182.5 514.4 185.7 514.3C188.9 514.2 189.7 514 192 513.5C194.3 513 197.8 511.8 199.7 511.2C201.6 510.6 202.2 510.1 203.5 509.7C204.8 509.3 206.7 509 207.3 508.9"/>
<path d="M43.2 488.5C44.3 488.5 47.9 488.7 50 488.6C52.1 488.5 54 488.4 56 488C58 487.6 61 486.8 62 486.5"/>
<path d="M43.2 478.5C45.2 478.6 50.5 478.9 55 479C59.5 479.1 64.5 479.1 70 479C75.5 478.9 83 478.7 88 478.7C93 478.7 98 478.9 100 479"/>
<path d="M43.2 481.5C45.2 481.6 50.5 481.9 55 482C59.5 482.1 64.5 482.1 70 482C75.5 481.9 83 481.4 88 481.3C93 481.2 98 481.5 100 481.5"/>
<path d="M60 496C61.7 496 65.3 496 70 496C74.7 496 83 495.7 88 495.8C93 495.9 98 496.4 100 496.5"/>
<path d="M170 495.5C172.6 495.6 179.5 495.8 185.7 495.8C191.9 495.8 203.7 495.6 207.3 495.5"/>
<path d="M170 498.7C172.6 498.7 179.5 498.8 185.7 498.8C191.9 498.8 203.7 498.6 207.3 498.5"/>
<path d="M180 481.5C181.7 481.5 185.4 481.6 190 481.5C194.6 481.4 204.4 481.2 207.3 481.2"/>
</g>
<g fill="none" stroke="#5aae5a" stroke-width="2.8" stroke-linecap="round" stroke-linejoin="round">
<path d="M43.2 753.1C44.4 752.6 47.8 751.6 50.4 749.8C53.1 747.9 56.1 744.9 58.9 741.9C61.7 739 64.5 735.2 67.3 732.1C70.1 729.1 73.1 725.8 75.7 723.7C78.2 721.7 80.7 720.5 82.7 719.8C84.7 719 85.9 719 87.7 719.2C89.6 719.4 91.7 719.6 93.9 720.9C96.1 722.2 98.3 724.4 100.9 727.1C103.5 729.7 106.7 733.9 109.3 736.9C111.9 739.8 114.2 742.9 116.3 744.7C118.4 746.6 118.5 747.4 121.9 748.1C125.3 748.7 132.1 748.7 136.8 748.7C141.4 748.7 146.8 748.7 149.9 748.1C153.1 747.4 153.4 746.6 155.5 744.7C157.7 742.9 160 739.8 162.6 736.9C165.1 733.9 168.4 729.6 171 727.1C173.5 724.5 176.1 722.7 178 721.5C179.8 720.3 180.9 720.1 182.2 719.8C183.4 719.5 182.2 719.6 185.5 719.5C189.7 719.5 203.8 719.5 207.4 719.5"/>
<path d="M43.2 755.9C44.4 755.4 47.8 754.4 50.4 752.6C53.1 750.8 56.1 748.2 58.9 745.3C61.7 742.4 64.5 738.4 67.3 735.2C70.1 732 73.1 728.5 75.7 726.2C78.2 724 80.7 722.7 82.7 721.7C84.7 720.8 86.9 720.8 87.7 720.6"/>
<path d="M43.6 756.5C44.5 756.5 46.5 756.9 48.9 756.5C51.3 756.1 54.8 755 57.8 754.3C60.8 753.5 63.8 752.6 66.8 752C69.8 751.4 72.2 751 75.7 750.7C79.2 750.4 84.3 750.4 88 750.3C91.7 750.1 96 749.9 98 749.8C100 749.6 98 749.5 100 749.4C103.3 749.2 111.7 748.9 117.8 748.9C123.9 748.9 130.9 749.4 136.8 749.4C142.8 749.4 148 748.9 153.5 748.9C159 748.9 164.7 749.1 170 749.4C175.3 749.7 179.4 750.5 185.6 750.8C191.8 751.1 203.8 751.1 207.4 751.2"/>
<path d="M43.6 757.8C44.5 757.8 46.5 757.9 48.9 757.8C51.3 757.6 54.8 757.3 57.8 756.9C60.8 756.5 63.8 755.6 66.8 755.2C69.8 754.8 72.2 754.4 75.7 754.3C79.2 754.1 84.3 754.4 88 754.3C91.7 754.2 96 753.9 98 753.8C100 753.6 98.2 753.6 100 753.4C101.8 753.2 105.9 752.6 108.9 752.5C111.9 752.4 115.4 752.2 117.8 752.5C120.2 752.8 121.3 753.4 123.2 754.3C125.1 755.2 127.1 756.8 129.4 757.8C131.7 758.8 134.4 760.1 136.8 760.1C139.2 760.1 141.5 758.8 143.7 757.8C145.9 756.8 148.1 755.2 150 754.3C151.9 753.4 153.2 752.8 155.3 752.5C157.4 752.2 160 752.4 162.4 752.5C164.8 752.6 166.1 753 170 753.4C173.9 753.8 179.4 754.8 185.6 755C191.8 755.2 203.8 754.8 207.4 754.8"/>
<path d="M43.6 761C44.5 761.1 46.5 761.8 48.9 761.9C51.3 762 54.8 761.6 57.8 761.4C60.8 761.2 63.8 760.8 66.8 760.5C69.8 760.2 72.2 760 75.7 759.8C79.2 759.6 84.3 759.4 88 759.4C91.7 759.4 96 759.8 98 759.8C100 759.8 98.2 759.5 100 759.6C101.8 759.8 105.9 760.4 108.9 760.7C111.9 761 114.8 761.2 117.8 761.4C120.8 761.6 124.4 761.7 126.8 761.7C129.2 761.7 130.4 761.6 132.1 761.4C133.8 761.2 135.2 760.7 136.8 760.7C138.4 760.7 140.3 761.2 141.9 761.4C143.5 761.6 144.2 761.7 146.4 761.7C148.6 761.7 152.6 761.5 155.3 761.2C158 760.9 160 760.4 162.4 760.1C164.8 759.8 166.1 759.4 170 759.2C173.9 759 179.4 759 185.6 759C191.8 759 203.8 759 207.4 759"/>
<path d="M43.6 765C44.5 764.9 46.5 764.8 48.9 764.5C51.3 764.2 54.8 763.6 57.8 763.2C60.8 762.8 63.8 762.5 66.8 762.3C69.8 762 72.2 761.9 75.7 761.7C79.2 761.5 84.3 761.2 88 761.2C91.7 761.2 96 761.6 98 761.7C100 761.8 98.2 761.6 100 761.7C101.8 761.8 105.9 762.1 108.9 762.3C111.9 762.5 114.8 762.6 117.8 762.7C120.8 762.8 124.4 763.1 126.8 763C129.2 762.9 130.4 762.6 132.1 762.3C133.8 762 135.2 761.4 136.8 761.4C138.4 761.4 140.3 762 141.9 762.3C143.5 762.6 144.2 763 146.4 763C148.6 763 152.6 762.7 155.3 762.5C158 762.3 160 762.1 162.4 761.9C164.8 761.6 166.1 761.1 170 761C173.9 760.9 179.4 761.1 185.6 761.2C191.8 761.3 203.8 761.5 207.4 761.6"/>
<path d="M43.6 766.8C44.5 766.9 46.5 767.3 48.9 767.2C51.3 767.1 54.8 766.2 57.8 766.3C60.8 766.4 63.8 767 66.8 767.7C69.8 768.4 72.2 769.6 75.7 770.3C79.2 771 84.3 771.5 88 771.8C91.7 772 96 771.7 98 771.8C100 771.9 98.2 772.6 100 772.6C101.8 772.6 105.9 772.2 108.9 771.7C111.9 771.2 115.1 770.5 117.8 769.9C120.5 769.3 122.8 768.7 125 768.1C127.2 767.5 129.2 766.7 131.2 766.3C133.2 765.9 134.9 765.9 136.8 765.9C138.7 765.9 140.8 765.9 142.8 766.3C144.9 766.7 147 767.5 149.1 768.1C151.2 768.7 153.1 769.3 155.3 769.9C157.5 770.5 160 771.2 162.4 771.7C164.8 772.2 166.1 772.5 170 772.6C173.9 772.7 179.4 772.5 185.6 772.5C191.8 772.5 203.8 772.8 207.4 772.8"/>
<path d="M43.6 767.7C44.5 767.9 46.5 768.7 48.9 769C51.3 769.3 54.8 769.1 57.8 769.4C60.8 769.7 63.8 770.3 66.8 770.8C69.8 771.3 72.2 772.1 75.7 772.6C79.2 773.1 84.3 773.4 88 773.5C91.7 773.6 96 773.3 98 773.5C100 773.7 98.2 774.7 100 774.8C101.8 774.9 105.9 774.3 108.9 774.3C111.9 774.3 114.8 774.5 117.8 774.8C120.8 775.1 123.6 775.6 126.8 776.1C130 776.6 133.5 777.5 136.8 777.5C140.1 777.5 143.3 776.6 146.4 776.1C149.5 775.6 152.6 775.1 155.3 774.8C158 774.5 160 774.3 162.4 774.3C164.8 774.3 166.1 774.6 170 774.8C173.9 775 179.4 775.4 185.6 775.5C191.8 775.6 203.8 775.6 207.4 775.6"/>
<path d="M66.8 775.7C68.3 775.9 72.2 776.4 75.7 776.6C79.2 776.8 84.3 776.9 88 777C91.7 777.1 96 776.9 98 777C100 777.1 98.2 777.4 100 777.5C101.8 777.6 105.9 777.8 108.9 777.9C111.9 778 114.8 778 117.8 777.9C120.8 777.8 123.6 777.5 126.8 777.5C130 777.5 133.5 777.9 136.8 777.9C140.1 777.9 143.3 777.5 146.4 777.5C149.5 777.5 152.6 777.8 155.3 777.9C158 778 160 778 162.4 777.9C164.8 777.8 166.1 777.5 170 777.5C173.9 777.5 179.4 778.1 185.6 778.2C191.8 778.3 203.8 778 207.4 778"/>
<path d="M43.6 769.4C44.5 769.7 46.5 770.4 48.9 771.2C51.3 772 54.8 773.2 57.8 774.3C60.8 775.3 63.8 776.7 66.8 777.5C69.8 778.3 72.2 778.9 75.7 779.3C79.2 779.7 84.3 780 88 780.1C91.7 780.2 96 780.2 98 780.1C100 780 98.2 779.8 100 779.7C101.8 779.6 105.9 779.8 108.9 779.7C111.9 779.6 114.8 779.3 117.8 779.1C120.8 778.9 123.6 778.5 126.8 778.4C130 778.2 133.5 778.2 136.8 778.2C140.1 778.2 143.3 778.2 146.4 778.4C149.5 778.5 152.6 778.9 155.3 779.1C158 779.3 160 779.6 162.4 779.7C164.8 779.8 166.1 779.5 170 779.7C173.9 779.9 180.8 780.6 185.6 780.7C190.3 780.8 194.9 780.3 198.5 780.2C202.1 780.1 205.9 780.2 207.4 780.2"/>
</g>
<path d="M43.4 784.2C47.8 784.2 62.6 784.2 70 784.2C77.4 784.2 83 784.2 88 784.3C93 784.4 95 784.6 100 785C105 785.4 111.9 786.1 118 786.4C124.1 786.7 130.9 786.8 136.8 786.8C142.7 786.8 148.8 786.6 153.5 786.4C158.2 786.2 161.9 785.8 165 785.5C168.1 785.2 168.6 784.9 172 784.8C175.4 784.6 179.8 784.6 185.6 784.6C191.4 784.6 203.4 784.9 207 785L208 813.2 L42.4 813.2 Z" fill="#5aae5a" stroke="#5aae5a" stroke-width="1"/>
<path d="M44.2 796.6C45.2 796.6 48 796.6 50 796.6C52 796.6 55 796.8 56 796.8" fill="none" stroke="#f4faf4" stroke-width="1.6" stroke-linecap="round"/>
<path d="M74 796.2C76.7 796.2 84.7 796 90 796C95.3 796 103.3 796.2 106 796.3" fill="none" stroke="#f4faf4" stroke-width="1.5" stroke-linecap="round"/>
<path d="M49 802C50.8 802 56.5 801.8 60 801.8C63.5 801.8 68.6 802.1 70.3 802.2" fill="none" stroke="#f4faf4" stroke-width="1" stroke-linecap="round"/>
<path d="M78.4 800.6C81.2 800.6 89.7 800.3 95 800.4C100.3 800.5 107.5 801.1 110 801.2" fill="none" stroke="#f4faf4" stroke-width="1.4" stroke-linecap="round"/>
<path d="M44.2 805.1C45.3 805.1 49.6 805.2 50.7 805.2" fill="none" stroke="#f4faf4" stroke-width="1.6" stroke-linecap="round"/>
<path d="M74 805.2C76 805.2 81.8 805 86 805C90.2 805 96.8 805.3 98.9 805.4" fill="none" stroke="#f4faf4" stroke-width="2" stroke-linecap="round"/>
<path d="M127 799.4C128.6 799.4 133.5 799.6 136.8 799.6C140.1 799.6 145.3 799.4 147 799.4" fill="none" stroke="#f4faf4" stroke-width="2.6" stroke-linecap="round"/>
<path d="M131 791.7C133 791.7 141 791.7 143 791.7" fill="none" stroke="#f4faf4" stroke-width="1.2" stroke-linecap="round"/>
<path d="M100 800.2C101.8 800.4 107.2 801 111 801.6C114.8 802.2 121 803.3 123 803.6" fill="none" stroke="#f4faf4" stroke-width="1.6" stroke-linecap="round"/>
<path d="M150.5 803.6C152.4 803.3 158.8 802.2 162 801.6C165.2 801 168.7 800.4 170 800.2" fill="none" stroke="#f4faf4" stroke-width="1.6" stroke-linecap="round"/>
<path d="M167.3 796C170.2 796 178.4 795.7 185 795.8C191.6 795.9 203.3 796.3 207 796.4" fill="none" stroke="#f4faf4" stroke-width="1.5" stroke-linecap="round"/>
<path d="M150 804C152.2 803.7 158.7 802.8 163 802.2C167.3 801.6 172.2 800.9 176 800.6C179.8 800.3 180.8 800.3 186 800.3C191.2 800.3 203.5 800.7 207 800.8" fill="none" stroke="#f4faf4" stroke-width="1" stroke-linecap="round"/>
<path d="M178 805.5C180 805.4 185.2 804.8 190 804.6C194.8 804.4 204.2 804.5 207 804.5" fill="none" stroke="#f4faf4" stroke-width="3" stroke-linecap="round"/>
<path d="M165 811.3C167.5 811.3 175.5 811.4 180 811.4C184.5 811.4 190 811.3 192 811.3" fill="none" stroke="#f4faf4" stroke-width="1" stroke-linecap="round"/>
</g>
<ellipse cx="66.5" cy="576" rx="17.5" ry="27.5" transform="rotate(-17 66.5 576)" fill="none" stroke="#4d4d4d" stroke-width="2" stroke-dasharray="4.3 3.3"/>
<ellipse cx="68.5" cy="735.5" rx="18.5" ry="27.5" transform="rotate(33 68.5 735.5)" fill="none" stroke="#4d4d4d" stroke-width="2" stroke-dasharray="4.3 3.3"/>
</g>
<g>
<clipPath id="hc1"><rect x="278.6" y="16.3" width="147.2" height="146.9"/></clipPath>
<g clip-path="url(#hc1)">
<rect x="277.6" y="15.3" width="149.2" height="148.9" fill="#189dff"/>
<path d="M433.8 109.9L425.8 109.9C425.1 109.3 423.1 107.2 421.3 106.3C419.5 105.4 417.2 104.7 415.2 104.3C413.2 103.9 411.5 103.5 409.1 103.8C406.7 104 403.7 104.7 401 105.8C398.3 106.9 395.5 108.6 392.8 110.4C390.1 112.2 387.3 114.3 384.6 116.5C381.9 118.7 379.2 121.5 376.5 123.7C373.8 125.9 370.9 127.8 368.3 129.8C365.8 131.8 363.2 133.7 361.2 135.9C359.2 138.1 357.1 141 356.1 143C355.1 145 354.8 146.4 355.1 148.1C355.5 149.8 356.5 151.7 358.2 153.2C359.9 154.7 362.8 156.1 365.3 157.3C367.8 158.5 370.8 159.4 373.4 160.4C375.9 161.4 379.4 162.7 380.6 163.2L380.6 171.2L270.6 171.2L270.6 8.3L433.8 8.3Z" fill="#52b6ff"/>
<path d="M433.8 86.4L425.8 86.4C424.7 86.3 421.8 85.8 419.3 85.9C416.9 86 413.5 86.3 411.1 86.9C408.7 87.5 406.6 88.9 405 89.5C403.4 90.1 403 89.7 401.5 90.5C400 91.3 398 92.3 395.9 94.1C393.8 95.9 391.2 98.7 388.7 101.2C386.1 103.8 383.3 106.7 380.6 109.4C377.9 112.1 375.1 115.2 372.4 117.6C369.7 120 367 121.8 364.3 123.7C361.6 125.6 358.6 127.3 356.1 128.8C353.6 130.3 351.5 131.5 349.4 132.8C347.3 134.2 345.5 135.4 343.3 136.9C341.1 138.4 338.2 140.1 336.2 142C334.2 143.9 332.5 145.9 331.1 148.1C329.7 150.3 328.7 152.8 328 155.3C327.3 157.8 327.2 161.9 327 163.2L327 171.2L270.6 171.2L270.6 8.3L433.8 8.3Z" fill="#8cceff"/>
<path d="M433.8 68.6L425.8 68.6C424.7 68.8 421.8 69 419.3 69.6C416.9 70.2 413.8 71 411.1 72.1C408.4 73.2 405.5 74.7 403 76.2C400.5 77.7 398.1 79.4 395.9 81.3C393.7 83.2 391.1 86 389.7 87.4C388.2 88.9 388.2 88.5 387.2 90C386.2 91.5 385.2 93.7 383.6 96.2C382 98.8 379.7 102.4 377.5 105.3C375.3 108.2 372.9 111 370.4 113.5C367.8 116 364.8 118.9 362.2 120.6C359.6 122.3 357.2 122.7 355.1 123.5C353 124.3 351.4 124.5 349.4 125.2C347.4 125.9 345.7 127.1 343.3 127.7C340.9 128.3 337.8 128.3 335.1 128.8C332.4 129.3 329.7 129.6 327 130.8C324.3 132 321.4 133.9 318.8 135.9C316.2 137.9 313.9 140.6 311.7 143C309.5 145.4 307.5 147.8 305.6 150.2C303.7 152.6 302.1 155.1 300.5 157.3C298.9 159.5 296.7 162.2 295.9 163.2L295.9 171.2L270.6 171.2L270.6 8.3L433.8 8.3Z" fill="#c5e6ff"/>
<path d="M433.8 45.6L425.8 45.6C424.7 46.1 421.8 47.3 419.3 48.7C416.9 50.1 413.8 51.9 411.1 53.8C408.4 55.7 405.7 57.7 403 59.9C400.3 62.1 397.4 64.5 394.8 67C392.2 69.5 389.9 72.5 387.7 75.2C385.5 77.9 383.2 80.8 381.6 83.3C380 85.8 379 87.7 378 90C377 92.3 376.8 94.5 375.5 97.2C374.2 99.9 372.4 103.6 370.4 106.3C368.3 109 365.6 111.6 363.2 113.5C360.8 115.4 359.1 116.8 356.1 117.8C353.1 118.8 348.5 119 345.3 119.6C342.1 120.2 340.1 121.1 337.2 121.6C334.3 122.1 331.2 122.3 328 122.7C324.8 123.1 321.2 123.2 317.8 123.7C314.4 124.2 310.7 124.8 307.6 125.7C304.6 126.6 302.2 127.4 299.5 128.8C296.8 130.2 293.9 132.2 291.3 133.9C288.8 135.6 286.3 137.4 284.2 139C282.1 140.6 279.5 142.8 278.6 143.5L270.6 143.5L270.6 8.3L433.8 8.3Z" fill="#fffcfb"/>
<path d="M416.2 8.3L416.2 16.3C415.7 17.3 414.7 20 413.2 22.2C411.7 24.4 409.5 27.1 407.1 29.3C404.7 31.5 401.6 33.4 398.9 35.4C396.2 37.4 393.4 39.5 390.8 41.6C388.2 43.7 385.8 45.3 383.6 47.7C381.4 50.1 379 52.9 377.5 55.8C376 58.7 375.4 61.8 374.5 65C373.6 68.2 372.6 72.2 371.9 75.2C371.2 78.2 370.7 80.8 370.4 83.3C370.1 85.8 370.2 87.5 369.9 90C369.5 92.5 369.4 95.3 368.3 98.2C367.2 101.1 365.2 105 363.2 107.4C361.2 109.8 359.1 111.7 356.1 112.7C353.1 113.7 348.8 113.1 345.3 113.5C341.8 113.9 338.5 114.8 335.1 115C331.7 115.2 328.4 115 325 114.5C321.6 114 318.2 112.9 314.8 111.9C311.4 110.9 308 109.5 304.6 108.4C301.2 107.3 297.5 106 294.4 105.3C291.3 104.6 288.8 104.4 286.2 104.3C283.6 104.2 279.9 104.7 278.6 104.8L270.6 104.8L270.6 8.3Z" fill="#ffdadb"/>
<path d="M378.5 8.3L378.5 16.3C377.1 17.4 372.9 21 370.4 23.2C367.8 25.4 365 27.1 363.2 29.3C361.4 31.5 360.4 34 359.7 36.5C358.9 39 358.8 41.6 358.7 44.6C358.6 47.6 358.8 51.7 359.2 54.8C359.6 57.9 361 60 361.2 63C361.4 66 360.2 70 360.2 73.1C360.2 76.1 360.8 78.5 361.2 81.3C361.6 84.1 362.5 87.5 362.7 90C362.9 92.5 362.9 93.8 362.2 96.2C361.4 98.6 359.6 102.3 358.2 104.3C356.8 106.3 356 107.1 353.5 108C351 108.9 346.7 109.5 343.3 109.9C339.9 110.3 336.2 110.7 333.1 110.4C330.1 110.2 327.6 109.6 325 108.4C322.4 107.2 320 105.2 317.8 103.3C315.6 101.4 313.9 99.1 311.7 97.2C309.5 95.3 306.8 93.5 304.6 92.1C302.4 90.7 300.2 89.8 298.5 89C296.8 88.2 296.4 88.2 294.4 87.4C292.3 86.6 288.8 85.1 286.2 84.4C283.6 83.7 279.9 83.5 278.6 83.3L270.6 83.3L270.6 8.3Z" fill="#ffb6b7"/>
<path d="M318.8 8.3L318.8 16.3C319.8 17.3 322.9 19.5 325 22.2C327.1 24.9 329.2 29 331.1 32.4C333 35.8 334.2 38.7 336.2 42.6C338.2 46.5 340.9 51.9 343.3 55.8C345.7 59.7 348.7 63.3 350.4 66C352.1 68.7 352.7 69.1 353.5 72C354.3 74.9 354.8 80.3 355.1 83.3C355.4 86.3 355.5 88 355.5 90C355.5 92 355.7 93.2 355.1 95.1C354.5 97 354 99.8 352 101.2C350 102.6 346.3 103.1 343.3 103.3C340.3 103.5 336.8 103.1 334.1 102.3C331.4 101.5 329.1 99.8 327 98.2C324.9 96.7 323.1 94.8 321.5 93C319.9 91.2 319.3 89.5 317.3 87.7C315.3 85.9 312.7 83.9 309.7 82.3C306.7 80.7 302.9 79.7 299.5 78.2C296.1 76.7 292.8 75 289.3 73.1C285.8 71.2 280.4 68 278.6 67L270.6 67L270.6 8.3Z" fill="#ff9293"/>
<path d="M295.4 8.3L295.4 16.3C296.1 17.3 297.5 19.9 299.5 22.2C301.5 24.5 305.1 27.4 307.6 30.3C310.2 33.2 312.9 36.1 314.8 39.5C316.7 42.9 318.3 47.6 318.8 50.7C319.3 53.8 318.8 56 317.8 57.9C316.8 59.8 314.9 61.4 312.7 61.9C310.5 62.4 307.7 61.8 304.6 60.9C301.6 60 297.8 58.5 294.4 56.8C291 55.1 286.8 52.6 284.2 50.7C281.6 48.8 279.5 46.5 278.6 45.6L270.6 45.6L270.6 8.3Z" fill="#ff6d6f"/>
<path d="M330.5 88C330.4 86.8 330.9 85.1 331.5 84C332.1 82.9 332.6 82.2 334 81.5C335.4 80.8 337.8 79.7 340 79.8C342.2 79.9 345.1 80.9 347 82C348.9 83.1 350.6 85.2 351.5 86.5C352.4 87.8 352.8 88.8 352.5 90C352.2 91.2 351.3 92.7 350 93.5C348.7 94.3 346.7 95 344.5 95.1C342.3 95.2 339.1 94.7 337 94C334.9 93.3 333.1 92 332 91C330.9 90 330.6 89.2 330.5 88Z" fill="#ff6d6f"/>
<path d="M278.6 15.9L278.6 18.2M278.6 23.3L278.6 25.5M278.6 30.6L278.6 32.8M278.6 38L278.6 40.1M278.6 45.3L278.6 47.3M278.6 52.7L278.6 54.6M278.6 60.1L278.6 61.7M278.6 67.5L278.6 68.8M278.6 74.9L278.6 75.8M278.6 82.4h.1M278.6 89.8h.1M278.6 97.1h.1M278.5 104.4L279.3 104.8M278.4 111.7L279.6 112.3M278.3 119L279.8 119.7M278.3 126.3L280 127.1M278.3 133.7L280.1 134.5M278.3 141L280.2 141.9M278.3 148.4L280.2 149.3M278.3 155.7L280.3 156.6M278.2 163L280.3 164M285.9 15.9L286.4 18.1M285.9 23.3L286.4 25.4M285.9 30.6L286.4 32.7M285.9 38L286.4 40M285.9 45.3L286.4 47.3M285.9 52.7L286.4 54.5M285.9 60.1L286.3 61.7M285.9 67.5L286.3 68.8M285.9 74.9L286.2 75.8M285.9 82.4h.1M285.9 89.8h.1M285.9 97.1h.1M285.8 104.3L286.5 104.9M285.8 111.6L286.9 112.4M285.7 119L287.1 119.9M285.7 126.3L287.2 127.4M285.7 133.6L287.3 134.8M285.7 141L287.4 142.2M285.7 148.3L287.4 149.5M285.6 155.6L287.5 156.9M285.6 163L287.5 164.3M293.2 15.9L294.1 18M293.2 23.3L294.1 25.3M293.2 30.7L294.1 32.6M293.2 38L294.1 39.9M293.2 45.4L294 47.2M293.2 52.7L294 54.4M293.2 60.1L293.9 61.6M293.2 67.5L293.8 68.7M293.3 74.9L293.6 75.8M293.3 82.4h.1M293.3 89.8h.1M293.3 97.1h.1M293.2 104.3L293.7 105.1M293.2 111.6L293.9 112.8M293.2 118.9L294 120.3M293.2 126.2L294.1 127.8M293.1 133.5L294.1 135.3M293.1 140.9L294.2 142.7M293.1 148.2L294.2 150.1M293.1 155.5L294.2 157.4M293.1 162.9L294.3 164.8M300.5 16L301.8 17.8M300.5 23.3L301.7 25.1M300.5 30.7L301.7 32.5M300.5 38L301.7 39.8M300.5 45.4L301.6 47M300.5 52.8L301.6 54.3M300.5 60.1L301.5 61.5M300.5 67.5L301.3 68.6M300.6 74.9L301.1 75.7M300.6 82.4h.1M300.6 89.8h.1M300.6 97.1h.1M300.6 104.3L300.9 105.2M300.6 111.6L301 112.9M300.6 118.9L301 120.5M300.6 126.2L301.1 128M300.6 133.5L301.1 135.4M300.6 140.8L301.1 142.8M300.6 148.1L301.1 150.2M300.6 155.5L301.2 157.6M300.6 162.8L301.2 165M307.8 16L309.2 17.7M307.8 23.4L309.2 25.1M307.8 30.7L309.2 32.4M307.8 38.1L309.2 39.7M307.8 45.4L309.1 47M307.8 52.8L309 54.2M307.9 60.1L308.9 61.4M307.9 67.5L308.8 68.6M307.9 74.9L308.5 75.7M308 82.4h.1M308 89.8h.1M308 97.1h.1M308 104.3L308.1 105.2M308 111.5L308.1 112.9M308 118.8L308.1 120.5M308 126.2L308 128M308 133.5L308 135.5M308 140.8L308 142.9M308 148.1L308 150.3M308 155.5L308 157.7M308 162.8L308 165.1M315.1 16L316.7 17.6M315.1 23.4L316.7 24.9M315.1 30.7L316.7 32.3M315.1 38.1L316.6 39.6M315.2 45.4L316.6 46.9M315.2 52.8L316.5 54.1M315.2 60.2L316.4 61.4M315.2 67.5L316.2 68.5M315.3 74.9L316 75.7M315.3 82.3L315.7 82.8M315.4 89.8h.1M315.4 97L315.5 97.6M315.4 104.3L315.4 105.3M315.4 111.5L315.3 112.9M315.4 118.8L315.3 120.5M315.4 126.2L315.3 128M315.4 133.5L315.3 135.5M315.4 140.8L315.2 142.9M315.4 148.1L315.2 150.3M315.4 155.5L315.2 157.7M315.4 162.8L315.2 165.1M322.5 16.1L324.2 17.5M322.5 23.4L324.2 24.8M322.5 30.8L324.2 32.1M322.5 38.1L324.2 39.4M322.5 45.5L324.1 46.7M322.5 52.8L324 54M322.5 60.2L323.9 61.3M322.6 67.6L323.7 68.5M322.6 74.9L323.5 75.6M322.7 82.3L323.2 82.8M322.7 89.8h.1M322.8 97L322.7 97.6M322.8 104.3L322.5 105.3M322.8 111.5L322.4 112.9M322.9 118.8L322.3 120.5M322.9 126.2L322.2 128M322.9 133.5L322.2 135.4M322.9 140.8L322.2 142.8M322.9 148.2L322.1 150.2M322.9 155.5L322.1 157.6M322.9 162.8L322.1 165M329.8 16.1L331.8 17.3M329.8 23.4L331.7 24.6M329.8 30.8L331.7 31.9M329.8 38.1L331.7 39.2M329.8 45.5L331.6 46.5M329.8 52.9L331.5 53.8M329.8 60.2L331.4 61.1M329.9 67.6L331.3 68.4M329.9 75L331 75.6M330 82.3L330.8 82.8M330 89.7L330.5 89.9M330.2 97L329.7 97.5M330.2 104.3L329.5 105.3M330.3 111.6L329.4 112.9M330.3 118.9L329.2 120.4M330.3 126.2L329.2 127.8M330.3 133.5L329.1 135.2M330.3 140.9L329.1 142.6M330.3 148.2L329.1 150M330.3 155.5L329 157.4M330.3 162.9L329 164.8M337.1 16.2L339.3 16.8M337.1 23.5L339.3 24.1M337.1 30.9L339.3 31.5M337.1 38.2L339.3 38.8M337.1 45.6L339.2 46.1M337.1 52.9L339.1 53.5M337.2 60.3L339.1 60.8M337.2 67.6L338.9 68.1M337.2 75L338.7 75.4M337.3 82.4L338.5 82.6M337.7 89.7L336.6 89.8M337.7 97L336.5 97.4M337.7 104.3L336.4 105.1M337.7 111.6L336.2 112.6M337.8 118.9L336.1 120M337.8 126.3L336.1 127.5M337.8 133.6L336 134.9M337.8 140.9L336 142.2M337.8 148.3L335.9 149.6M337.8 155.6L335.9 156.9M337.8 163L335.9 164.3M344.4 16.3L346.8 16.5M344.4 23.6L346.8 23.8M344.4 31L346.8 31.2M344.4 38.3L346.7 38.5M344.5 45.6L346.7 45.8M344.5 53L346.7 53.2M344.5 60.3L346.6 60.5M344.5 67.7L346.5 67.8M344.5 75L346.3 75.2M344.6 82.4L346.2 82.5M345.1 89.7L343.6 89.8M345.1 97.1L343.5 97.3M345.1 104.4L343.4 104.8M345.2 111.7L343.2 112.2M345.2 119L343.1 119.6M345.2 126.4L343.1 126.9M345.2 133.7L343 134.3M345.2 141.1L343 141.7M345.2 148.4L343 149M345.2 155.8L343 156.4M345.2 163.1L343 163.7M352.6 16.3L350.2 16.3M352.6 23.6L350.2 23.6M352.6 31L350.2 31M352.6 38.3L350.2 38.3M352.6 45.7L350.3 45.7M352.6 53L350.3 53M352.6 60.4L350.3 60.4M352.6 67.7L350.4 67.7M352.6 75.1L350.5 75.1M352.5 82.4L350.6 82.4M352.5 89.7L350.6 89.8M352.5 97.1L350.6 97.2M352.6 104.4L350.5 104.6M352.6 111.8L350.4 111.9M352.6 119.1L350.3 119.3M352.6 126.4L350.3 126.6M352.6 133.8L350.3 134M352.6 141.1L350.3 141.3M352.6 148.5L350.2 148.7M352.6 155.8L350.2 156M352.6 163.2L350.2 163.4M360 16.2L357.6 16.8M360 23.5L357.6 24.2M360 30.9L357.6 31.5M360 38.2L357.6 38.8M360 45.6L357.7 46.2M360 52.9L357.7 53.5M360 60.3L357.7 60.9M359.9 67.6L357.7 68.2M359.9 75L357.8 75.5M359.9 82.3L357.8 82.8M359.9 89.7L357.8 90.1M359.9 97.1L357.7 97.3M359.9 104.4L357.7 104.5M360 111.8L357.7 111.8M360 119.1L357.6 119.1M360 126.5L357.6 126.5M360 133.8L357.6 133.8M360 141.2L357.6 141.2M360 148.5L357.6 148.5M360 155.9L357.6 155.9M360 163.2L357.6 163.2M367.3 16.1L365.2 17.3M367.3 23.4L365.2 24.6M367.3 30.8L365.2 32M367.3 38.1L365.2 39.3M367.3 45.5L365.2 46.7M367.3 52.8L365.2 54M367.3 60.2L365.2 61.4M367.3 67.5L365.2 68.7M367.3 74.9L365.2 76M367.3 82.2L365.2 83.2M367.3 89.6L365.1 90.3M366.5 97.1L368.8 97.1M366.5 104.4L368.8 104.8M366.5 111.7L368.8 112.2M366.5 119L368.8 119.6M366.5 126.4L368.8 127M366.5 133.7L368.8 134.3M366.5 141.1L368.9 141.7M366.5 148.4L368.9 149M366.5 155.7L368.9 156.4M366.5 163.1L368.9 163.7M374.5 16L373 17.8M374.5 23.3L373 25.2M374.5 30.7L373 32.5M374.5 38L373 39.9M374.5 45.4L373 47.2M374.5 52.7L373 54.6M374.5 60.1L373 61.9M374.5 67.4L373 69.2M374.6 74.7L373 76.6M374.6 82.1L372.9 83.8M374.6 89.6L373 90.7M373.9 97L375.9 97.4M373.9 104.3L376.1 105.2M373.9 111.6L376.1 112.6M373.9 119L376.1 120M373.9 126.3L376.1 127.3M373.9 133.6L376.1 134.7M373.9 141L376.1 142M373.9 148.3L376.1 149.4M373.9 155.7L376.1 156.7M373.9 163L376.1 164.1M381.8 15.9L381 18.2M381.8 23.3L381 25.5M381.8 30.6L381 32.9M381.8 37.9L381 40.2M381.8 45.3L381 47.6M381.8 52.6L381 54.9M381.8 60L381 62.3M381.8 67.3L381 69.6M381.8 74.7L381 77M381.8 82L381.1 84.3M381.7 89.4L381.5 91.5M381.4 96.8L382.6 98.6M381.3 104.2L383.1 105.8M381.3 111.5L383.2 113.1M381.3 118.9L383.2 120.4M381.3 126.2L383.2 127.8M381.3 133.6L383.2 135.1M381.3 140.9L383.2 142.5M381.3 148.2L383.2 149.8M381.3 155.6L383.2 157.1M381.3 162.9L383.2 164.5M389 15.9L388.8 18.3M389 23.2L388.8 25.7M389 30.6L388.8 33M389 37.9L388.8 40.3M389 45.3L388.8 47.7M389 52.6L388.8 55M389 60L388.8 62.4M389 67.3L388.8 69.7M389 74.6L388.9 77.1M389 82L389 84.4M388.9 89.3L389.3 91.7M388.8 96.7L389.9 98.9M388.8 104.1L390.1 106.1M388.7 111.5L390.2 113.4M388.7 118.8L390.3 120.7M388.7 126.2L390.3 128M388.7 133.5L390.3 135.4M388.7 140.8L390.3 142.7M388.7 148.2L390.3 150.1M388.7 155.5L390.3 157.4M388.7 162.9L390.3 164.7M396.4 15.9L396.4 18.3M396.4 23.2L396.4 25.7M396.4 30.6L396.4 33M396.4 37.9L396.4 40.4M396.4 45.3L396.4 47.7M396.4 52.6L396.4 55M396.4 60L396.4 62.4M396.4 67.3L396.4 69.7M396.3 74.6L396.4 77.1M396.3 82L396.5 84.4M396.3 89.3L396.7 91.7M396.2 96.7L397 99M396.2 104.1L397.2 106.3M396.2 111.4L397.3 113.6M396.2 118.8L397.4 120.9M396.2 126.1L397.4 128.2M396.2 133.5L397.4 135.6M396.2 140.8L397.4 142.9M396.2 148.1L397.4 150.3M396.2 155.5L397.4 157.6M396.2 162.8L397.4 164.9M403.6 15.9L404.1 18.3M403.6 23.2L404.1 25.6M403.6 30.6L404.1 33M403.6 37.9L404.1 40.3M403.6 45.3L404.1 47.7M403.6 52.6L404.1 55M403.6 60L404.1 62.4M403.6 67.3L404.1 69.7M403.6 74.6L404.1 77M403.6 82L404.1 84.4M403.6 89.3L404.3 91.7M403.6 96.7L404.4 99M403.6 104.1L404.5 106.3M403.5 111.4L404.5 113.6M403.5 118.7L404.6 121M403.5 126.1L404.6 128.3M403.5 133.4L404.6 135.6M403.5 140.8L404.6 143M403.5 148.1L404.6 150.3M403.5 155.5L404.6 157.7M403.5 162.8L404.6 165M410.9 15.9L412.1 18M410.9 23.3L412.1 25.4M410.9 30.6L412.1 32.7M410.9 38L412.1 40.1M410.9 45.3L412.1 47.4M410.9 52.7L412.1 54.8M410.9 60L412.1 62.1M410.9 67.4L412.1 69.5M410.9 74.7L412.1 76.8M410.9 82L412 84.2M410.9 89.4L411.9 91.6M410.9 96.7L411.8 99M411 104L411.7 106.4M411 111.4L411.6 113.7M411 118.7L411.6 121.1M411 126.1L411.6 128.4M411 133.4L411.6 135.8M411 140.8L411.6 143.1M411 148.1L411.6 150.5M411 155.4L411.6 157.8M411 162.8L411.6 165.1M418.1 16L419.9 17.7M418.1 23.3L419.9 25.1M418.1 30.7L419.9 32.4M418.1 38L419.9 39.8M418.1 45.4L419.9 47.1M418.1 52.7L419.9 54.5M418.1 60.1L419.9 61.8M418.1 67.4L419.9 69.2M418.2 74.8L419.8 76.5M418.2 82.1L419.7 83.9M418.2 89.4L419.5 91.4M418.3 96.7L419.2 99M418.3 104L418.9 106.4M418.4 111.4L418.8 113.8M418.4 118.7L418.8 121.1M418.4 126.1L418.8 128.5M418.4 133.4L418.8 135.8M418.4 140.8L418.8 143.2M418.4 148.1L418.8 150.5M418.4 155.4L418.8 157.8M418.4 162.8L418.8 165.2M425.5 16L427.3 17.6M425.5 23.4L427.3 24.9M425.5 30.7L427.3 32.3M425.5 38.1L427.3 39.6M425.5 45.4L427.3 47M425.5 52.8L427.3 54.3M425.5 60.1L427.3 61.7M425.5 67.4L427.3 69M425.5 74.8L427.3 76.4M425.5 82.1L427.2 83.8M425.6 89.4L426.9 91.4M425.7 96.7L426.3 99M425.8 104L426 106.4M425.8 111.4L425.9 113.8M425.8 118.7L425.8 121.1M425.8 126.1L425.8 128.5M425.8 133.4L425.8 135.8M425.8 140.7L425.8 143.2M425.8 148.1L425.8 150.5M425.8 155.4L425.8 157.9M425.8 162.8L425.8 165.2" stroke="#111" stroke-width="0.78" fill="none"/>
<path d="M278.6 19.8L278 18.2L279.2 18.2zM278.6 27.1L278 25.5L279.2 25.5zM278.6 34.4L278 32.8L279.2 32.8zM278.6 41.6L278.1 40.1L279.1 40.1zM278.6 48.8L278.1 47.3L279.1 47.3zM278.6 55.9L278.1 54.6L279.1 54.6zM278.6 62.9L278.2 61.7L279 61.7zM278.6 69.8L278.3 68.8L279 68.8zM278.6 76.5L278.4 75.8L278.9 75.8zM279.8 105.1L279.1 105L279.4 104.6zM280.5 112.7L279.4 112.6L279.7 112zM280.9 120.2L279.6 120.1L280 119.3zM281.2 127.7L279.8 127.6L280.2 126.7zM281.4 135.1L279.9 135L280.3 134zM281.5 142.5L279.9 142.4L280.4 141.4zM281.6 149.9L280 149.8L280.5 148.8zM281.7 157.3L280 157.2L280.5 156.1zM281.8 164.7L280 164.5L280.5 163.5zM286.9 19.7L285.9 18.3L287 18zM286.9 27L285.9 25.6L287 25.3zM286.8 34.2L285.9 32.9L287 32.6zM286.8 41.5L285.9 40.2L286.9 39.9zM286.8 48.7L285.9 47.4L286.9 47.1zM286.7 55.8L285.9 54.6L286.8 54.4zM286.6 62.8L285.9 61.8L286.7 61.6zM286.5 69.7L285.9 68.9L286.6 68.7zM286.4 76.4L285.9 75.9L286.4 75.7zM287.1 105.4L286.4 105.1L286.7 104.7zM287.6 113L286.6 112.7L287.1 112.2zM288 120.6L286.8 120.3L287.3 119.6zM288.3 128.1L286.9 127.8L287.5 127zM288.5 135.6L287 135.2L287.6 134.3zM288.6 143L287.1 142.6L287.7 141.7zM288.7 150.4L287.1 150L287.8 149.1zM288.8 157.8L287.1 157.4L287.8 156.4zM288.8 165.2L287.2 164.8L287.8 163.8zM294.8 19.5L293.6 18.2L294.6 17.7zM294.8 26.8L293.6 25.6L294.6 25.1zM294.7 34L293.6 32.9L294.6 32.4zM294.7 41.3L293.6 40.1L294.5 39.7zM294.6 48.5L293.5 47.4L294.5 47zM294.5 55.6L293.5 54.6L294.4 54.2zM294.4 62.7L293.5 61.8L294.3 61.4zM294.2 69.6L293.5 68.9L294.1 68.6zM293.9 76.4L293.4 75.9L293.9 75.7zM294 105.7L293.5 105.2L293.9 105zM294.4 113.6L293.6 112.9L294.2 112.6zM294.6 121.4L293.6 120.5L294.4 120.1zM294.8 129L293.7 128L294.5 127.6zM294.9 136.5L293.7 135.5L294.6 135zM294.9 144L293.7 142.9L294.7 142.4zM295 151.4L293.7 150.3L294.7 149.8zM295 158.8L293.7 157.7L294.7 157.2zM295.1 166.2L293.7 165.1L294.8 164.5zM302.7 19.2L301.3 18.2L302.2 17.5zM302.7 26.5L301.3 25.5L302.2 24.8zM302.6 33.7L301.2 32.8L302.2 32.1zM302.5 41L301.2 40.1L302.1 39.4zM302.5 48.2L301.2 47.3L302.1 46.7zM302.3 55.4L301.2 54.6L302 54zM302.2 62.5L301.1 61.7L301.8 61.2zM301.9 69.4L301 68.8L301.6 68.4zM301.5 76.3L300.9 75.8L301.3 75.6zM301.1 105.8L300.7 105.3L301.2 105.1zM301.3 113.8L300.6 113L301.3 112.8zM301.4 121.6L300.6 120.6L301.5 120.3zM301.4 129.3L300.6 128.1L301.6 127.8zM301.5 136.8L300.6 135.6L301.6 135.3zM301.5 144.3L300.6 143L301.7 142.7zM301.6 151.8L300.6 150.4L301.7 150.1zM301.6 159.2L300.6 157.8L301.7 157.5zM301.6 166.6L300.6 165.2L301.7 164.9zM310.3 19L308.8 18.1L309.7 17.4zM310.3 26.3L308.8 25.4L309.7 24.7zM310.2 33.6L308.8 32.7L309.6 32zM310.1 40.8L308.7 40L309.6 39.3zM310 48.1L308.7 47.3L309.5 46.6zM309.9 55.3L308.7 54.5L309.4 53.9zM309.7 62.4L308.6 61.7L309.3 61.2zM309.4 69.4L308.5 68.8L309 68.4zM309 76.2L308.3 75.8L308.7 75.5zM308.2 105.9L307.9 105.3L308.4 105.2zM308.1 113.9L307.7 112.9L308.4 112.9zM308.1 121.7L307.6 120.5L308.5 120.5zM308 129.4L307.6 128L308.5 128zM308 136.9L307.5 135.5L308.6 135.5zM308 144.4L307.5 142.9L308.6 142.9zM308 151.9L307.5 150.3L308.6 150.3zM308 159.3L307.5 157.7L308.6 157.7zM308 166.7L307.5 165.1L308.6 165.1zM317.9 18.8L316.3 18L317.1 17.2zM317.8 26.1L316.3 25.4L317.1 24.5zM317.8 33.4L316.3 32.7L317.1 31.9zM317.7 40.7L316.2 40L317 39.2zM317.6 47.9L316.2 47.2L317 46.5zM317.5 55.1L316.2 54.5L316.9 53.8zM317.3 62.2L316.1 61.7L316.7 61.1zM316.9 69.3L316 68.8L316.5 68.3zM316.5 76.2L315.8 75.8L316.2 75.5zM316 83.1L315.6 82.9L315.8 82.7zM315.6 98L315.3 97.6L315.6 97.5zM315.4 106L315.1 105.3L315.7 105.3zM315.3 114L315 112.9L315.7 113zM315.2 121.7L314.9 120.5L315.7 120.6zM315.2 129.4L314.8 128L315.8 128.1zM315.1 136.9L314.7 135.4L315.8 135.5zM315.1 144.4L314.7 142.9L315.8 143zM315.1 151.9L314.7 150.3L315.8 150.4zM315.1 159.3L314.7 157.6L315.8 157.7zM315.1 166.7L314.6 165L315.8 165.1zM325.5 18.5L323.9 17.9L324.6 17zM325.5 25.8L323.9 25.2L324.6 24.3zM325.4 33.1L323.8 32.6L324.5 31.7zM325.4 40.4L323.8 39.9L324.5 39zM325.3 47.6L323.8 47.1L324.4 46.3zM325.1 54.9L323.7 54.4L324.3 53.6zM324.9 62L323.6 61.6L324.2 60.9zM324.6 69.1L323.5 68.8L324 68.2zM324.1 76.1L323.3 75.9L323.6 75.4zM323.6 83.1L323.1 82.9L323.3 82.7zM322.7 98L322.6 97.6L322.9 97.6zM322.3 106.1L322.2 105.2L322.8 105.4zM322 113.9L322 112.8L322.7 113.1zM321.8 121.7L321.8 120.3L322.7 120.6zM321.7 129.3L321.7 127.8L322.7 128.1zM321.7 136.8L321.7 135.2L322.7 135.6zM321.6 144.3L321.6 142.6L322.7 143zM321.6 151.7L321.6 150L322.7 150.4zM321.6 159.1L321.6 157.4L322.7 157.8zM321.6 166.5L321.6 164.8L322.7 165.2zM333.2 18.1L331.5 17.8L332.1 16.7zM333.2 25.4L331.4 25.1L332 24.1zM333.1 32.7L331.4 32.4L332 31.4zM333 40L331.4 39.7L332 38.7zM332.9 47.3L331.4 47L331.9 46.1zM332.8 54.6L331.3 54.3L331.8 53.4zM332.6 61.8L331.2 61.5L331.7 60.7zM332.3 68.9L331.1 68.7L331.5 68zM331.8 76L330.9 75.9L331.2 75.3zM331.4 83.1L330.7 83L330.9 82.6zM330.9 90.1L330.5 90.1L330.6 89.8zM329.4 97.9L329.6 97.4L329.9 97.6zM329 106L329.2 105.1L329.8 105.5zM328.7 113.8L329 112.6L329.7 113.1zM328.5 121.5L328.9 120.1L329.6 120.6zM328.3 129L328.7 127.5L329.6 128.1zM328.3 136.5L328.7 134.9L329.6 135.6zM328.2 143.9L328.6 142.3L329.6 143zM328.1 151.3L328.6 149.7L329.5 150.4zM328.1 158.7L328.6 157.1L329.5 157.7zM328.1 166.1L328.5 164.4L329.5 165.1zM341 17.2L339.2 17.4L339.5 16.2zM340.9 24.6L339.2 24.7L339.5 23.6zM340.9 31.9L339.1 32L339.5 30.9zM340.8 39.2L339.1 39.4L339.4 38.3zM340.7 46.6L339.1 46.7L339.4 45.6zM340.6 53.9L339 54L339.3 52.9zM340.4 61.2L338.9 61.3L339.2 60.3zM340.2 68.4L338.8 68.5L339 67.6zM339.8 75.6L338.6 75.7L338.8 75zM339.4 82.7L338.4 82.9L338.6 82.3zM335.7 89.8L336.5 89.5L336.6 90.1zM335.6 97.7L336.4 97.1L336.6 97.7zM335.4 105.6L336.2 104.7L336.6 105.4zM335.2 113.3L336 112.2L336.5 113zM335 120.9L335.9 119.6L336.4 120.5zM334.8 128.3L335.8 127L336.4 127.9zM334.7 135.8L335.7 134.4L336.3 135.3zM334.6 143.2L335.6 141.7L336.3 142.7zM334.6 150.5L335.6 149.1L336.3 150.1zM334.6 157.9L335.6 156.5L336.3 157.4zM334.5 165.3L335.6 163.8L336.3 164.8zM348.5 16.6L346.7 17.1L346.8 15.9zM348.5 24L346.7 24.4L346.8 23.2zM348.4 31.3L346.7 31.8L346.8 30.6zM348.4 38.6L346.7 39.1L346.8 37.9zM348.3 46L346.7 46.4L346.8 45.3zM348.2 53.3L346.6 53.8L346.7 52.6zM348.1 60.7L346.5 61.1L346.6 60zM347.9 68L346.4 68.4L346.5 67.3zM347.7 75.3L346.3 75.6L346.4 74.7zM347.4 82.5L346.2 82.9L346.2 82zM342.4 89.8L343.5 89.4L343.6 90.2zM342.3 97.4L343.4 96.9L343.6 97.7zM342.1 105L343.3 104.3L343.5 105.2zM341.8 112.5L343.1 111.7L343.4 112.7zM341.7 120L343 119L343.3 120.1zM341.5 127.4L342.9 126.4L343.2 127.5zM341.5 134.7L342.9 133.7L343.2 134.9zM341.4 142.1L342.8 141.1L343.2 142.2zM341.4 149.4L342.8 148.4L343.1 149.6zM341.3 156.8L342.8 155.8L343.1 156.9zM341.3 164.1L342.8 163.1L343.1 164.3zM348.5 16.3L350.2 15.7L350.2 16.9zM348.5 23.6L350.2 23L350.2 24.3zM348.5 31L350.2 30.4L350.2 31.6zM348.5 38.3L350.2 37.7L350.2 38.9zM348.6 45.7L350.3 45.1L350.3 46.3zM348.6 53L350.3 52.4L350.3 53.6zM348.7 60.4L350.3 59.8L350.3 61zM348.8 67.7L350.4 67.1L350.4 68.3zM349 75.1L350.5 74.5L350.5 75.6zM349.1 82.4L350.6 81.9L350.6 82.9zM349.2 89.8L350.6 89.3L350.6 90.3zM349.1 97.3L350.5 96.7L350.6 97.7zM349 104.7L350.4 104L350.5 105.1zM348.8 112.1L350.4 111.4L350.4 112.5zM348.7 119.4L350.3 118.7L350.4 119.9zM348.6 126.8L350.3 126L350.4 127.2zM348.6 134.1L350.2 133.4L350.3 134.6zM348.6 141.5L350.2 140.7L350.3 141.9zM348.5 148.8L350.2 148.1L350.3 149.3zM348.5 156.2L350.2 155.4L350.3 156.6zM348.5 163.5L350.2 162.8L350.3 164zM355.9 17.3L357.5 16.2L357.8 17.4zM355.9 24.6L357.5 23.6L357.8 24.8zM356 32L357.5 30.9L357.8 32.1zM356 39.3L357.5 38.2L357.8 39.5zM356 46.6L357.5 45.6L357.8 46.8zM356 54L357.5 52.9L357.8 54.1zM356 61.3L357.5 60.3L357.8 61.5zM356.1 68.6L357.6 67.6L357.9 68.8zM356.2 75.9L357.6 74.9L357.9 76.1zM356.2 83.2L357.7 82.2L357.9 83.4zM356.2 90.3L357.7 89.5L357.9 90.6zM356.2 97.4L357.7 96.7L357.8 97.8zM356.1 104.6L357.7 103.9L357.7 105.1zM356 111.8L357.6 111.2L357.7 112.4zM355.9 119.1L357.6 118.5L357.6 119.7zM355.9 126.5L357.6 125.9L357.6 127.1zM355.9 133.8L357.6 133.2L357.6 134.4zM355.8 141.2L357.6 140.5L357.6 141.8zM355.8 148.5L357.6 147.9L357.6 149.1zM355.8 155.9L357.6 155.2L357.6 156.5zM355.8 163.2L357.6 162.6L357.6 163.8zM363.7 18.2L364.9 16.8L365.5 17.9zM363.7 25.5L364.9 24.1L365.5 25.2zM363.7 32.9L364.9 31.4L365.5 32.5zM363.7 40.2L364.9 38.8L365.5 39.9zM363.7 47.5L364.9 46.1L365.5 47.2zM363.7 54.9L364.9 53.5L365.5 54.6zM363.7 62.2L364.9 60.8L365.5 61.9zM363.7 69.5L364.9 68.1L365.5 69.2zM363.7 76.8L364.9 75.4L365.5 76.5zM363.7 83.9L364.9 82.7L365.4 83.8zM363.5 90.7L364.9 89.7L365.2 90.8zM370.5 97.1L368.8 97.7L368.8 96.5zM370.5 105.1L368.7 105.4L368.9 104.2zM370.5 112.6L368.7 112.8L369 111.6zM370.5 120.1L368.7 120.2L369 119zM370.5 127.4L368.7 127.6L369 126.4zM370.5 134.8L368.7 134.9L369 133.7zM370.5 142.1L368.7 142.3L369 141.1zM370.5 149.5L368.7 149.6L369 148.4zM370.6 156.8L368.7 157L369 155.8zM370.6 164.2L368.7 164.3L369 163.1zM371.9 19.2L372.5 17.4L373.5 18.2zM371.9 26.5L372.5 24.8L373.5 25.6zM371.9 33.9L372.5 32.1L373.5 32.9zM371.9 41.2L372.5 39.5L373.5 40.3zM371.9 48.6L372.5 46.8L373.5 47.6zM371.9 55.9L372.5 54.2L373.5 55zM371.9 63.2L372.5 61.5L373.5 62.3zM371.9 70.6L372.5 68.8L373.5 69.6zM371.8 77.9L372.5 76.2L373.5 77zM371.8 85.1L372.5 83.4L373.4 84.3zM371.8 91.5L372.7 90.3L373.3 91.1zM377.3 97.7L375.8 97.9L376 96.9zM377.7 105.8L375.9 105.8L376.4 104.6zM377.7 113.3L375.8 113.2L376.4 112zM377.7 120.7L375.8 120.5L376.4 119.4zM377.7 128.1L375.8 127.9L376.4 126.7zM377.7 135.4L375.8 135.2L376.4 134.1zM377.7 142.8L375.8 142.6L376.4 141.4zM377.7 150.1L375.8 149.9L376.4 148.8zM377.7 157.4L375.8 157.3L376.4 156.1zM377.7 164.8L375.8 164.6L376.4 163.5zM380.3 19.8L380.4 18L381.5 18.4zM380.3 27.2L380.4 25.3L381.5 25.8zM380.3 34.5L380.4 32.7L381.5 33.1zM380.3 41.9L380.4 40L381.5 40.4zM380.4 49.2L380.4 47.4L381.5 47.8zM380.4 56.6L380.4 54.7L381.5 55.1zM380.4 63.9L380.4 62L381.6 62.5zM380.4 71.3L380.4 69.4L381.6 69.8zM380.4 78.6L380.4 76.7L381.6 77.2zM380.6 86L380.5 84.1L381.7 84.5zM381.4 93L381 91.5L382.1 91.5zM383.5 99.8L382.2 98.9L383.1 98.3zM384.3 107L382.6 106.3L383.5 105.4zM384.5 114.3L382.7 113.6L383.6 112.6zM384.5 121.6L382.8 120.9L383.6 119.9zM384.5 128.9L382.8 128.3L383.6 127.3zM384.5 136.2L382.8 135.6L383.6 134.6zM384.5 143.6L382.8 142.9L383.6 142zM384.5 150.9L382.8 150.3L383.6 149.3zM384.5 158.3L382.8 157.6L383.6 156.7zM384.5 165.6L382.8 165L383.6 164zM388.7 20.1L388.2 18.3L389.5 18.4zM388.7 27.4L388.2 25.6L389.5 25.7zM388.7 34.8L388.2 32.9L389.5 33.1zM388.7 42.1L388.2 40.3L389.5 40.4zM388.7 49.4L388.2 47.6L389.5 47.7zM388.7 56.8L388.2 55L389.5 55.1zM388.7 64.1L388.2 62.3L389.5 62.4zM388.7 71.5L388.2 69.7L389.5 69.8zM388.8 78.8L388.3 77L389.5 77.1zM389 86.2L388.4 84.4L389.6 84.4zM389.6 93.5L388.7 91.8L390 91.6zM390.6 100.5L389.3 99.2L390.4 98.6zM391.2 107.5L389.6 106.4L390.7 105.7zM391.3 114.7L389.8 113.8L390.7 113zM391.4 122L389.8 121.1L390.8 120.3zM391.4 129.4L389.8 128.4L390.8 127.6zM391.4 136.7L389.8 135.8L390.8 135zM391.4 144.1L389.8 143.1L390.8 142.3zM391.4 151.4L389.8 150.5L390.8 149.6zM391.4 158.7L389.8 157.8L390.8 157zM391.4 166.1L389.8 165.2L390.8 164.3zM396.4 20.1L395.7 18.3L397 18.3zM396.4 27.4L395.7 25.7L397 25.7zM396.4 34.8L395.7 33L397 33zM396.4 42.1L395.7 40.4L397 40.4zM396.4 49.5L395.7 47.7L397 47.7zM396.4 56.8L395.7 55L397 55zM396.4 64.1L395.7 62.4L397 62.4zM396.4 71.5L395.7 69.7L397 69.7zM396.5 78.8L395.8 77.1L397 77.1zM396.6 86.2L395.9 84.5L397.1 84.4zM397 93.5L396.1 91.8L397.3 91.6zM397.6 100.6L396.4 99.2L397.6 98.8zM398 107.8L396.7 106.5L397.8 106zM398.2 115.1L396.8 113.9L397.9 113.2zM398.2 122.4L396.8 121.2L397.9 120.6zM398.2 129.8L396.8 128.5L397.9 127.9zM398.2 137.1L396.8 135.9L397.9 135.2zM398.2 144.4L396.8 143.2L397.9 142.6zM398.2 151.8L396.8 150.6L397.9 149.9zM398.2 159.1L396.8 157.9L397.9 157.3zM398.2 166.5L396.8 165.3L397.9 164.6zM404.4 20L403.4 18.4L404.7 18.2zM404.4 27.4L403.4 25.7L404.7 25.5zM404.4 34.7L403.4 33.1L404.7 32.9zM404.4 42.1L403.4 40.4L404.7 40.2zM404.4 49.4L403.4 47.8L404.7 47.6zM404.4 56.7L403.4 55.1L404.7 54.9zM404.4 64.1L403.4 62.5L404.7 62.2zM404.4 71.4L403.5 69.8L404.7 69.6zM404.4 78.8L403.5 77.2L404.7 76.9zM404.5 86.1L403.5 84.5L404.8 84.2zM404.7 93.4L403.6 91.9L404.9 91.5zM405 100.7L403.8 99.2L405 98.8zM405.2 107.9L403.9 106.5L405.1 106.1zM405.3 115.2L404 113.9L405.1 113.4zM405.3 122.6L404 121.2L405.1 120.7zM405.3 129.9L404 128.6L405.1 128zM405.3 137.2L404 135.9L405.1 135.4zM405.3 144.6L404 143.3L405.1 142.7zM405.3 151.9L404 150.6L405.1 150.1zM405.3 159.3L404 158L405.1 157.4zM405.3 166.6L404 165.3L405.1 164.8zM413 19.6L411.5 18.4L412.6 17.7zM413 26.9L411.5 25.7L412.6 25.1zM413 34.3L411.5 33.1L412.6 32.4zM413 41.6L411.5 40.4L412.6 39.8zM413 49L411.5 47.7L412.6 47.1zM413 56.3L411.5 55.1L412.6 54.5zM413 63.6L411.5 62.4L412.6 61.8zM413 71L411.5 69.8L412.6 69.2zM412.9 78.4L411.5 77.1L412.6 76.5zM412.8 85.7L411.5 84.5L412.6 83.9zM412.7 93.2L411.3 91.8L412.5 91.3zM412.4 100.6L411.2 99.2L412.4 98.8zM412.2 108L411.1 106.6L412.3 106.2zM412.1 115.4L411 113.9L412.2 113.6zM412.1 122.8L411 121.2L412.2 120.9zM412.1 130.1L411 128.6L412.2 128.3zM412.1 137.5L411 135.9L412.2 135.6zM412.1 144.8L411 143.3L412.2 142.9zM412.1 152.2L411 150.6L412.2 150.3zM412.1 159.5L411 158L412.2 157.6zM412.1 166.9L411 165.3L412.2 165zM421.1 19L419.4 18.2L420.3 17.3zM421.1 26.3L419.4 25.5L420.3 24.6zM421.1 33.7L419.4 32.9L420.3 32zM421.1 41L419.4 40.2L420.3 39.3zM421.1 48.4L419.4 47.6L420.3 46.7zM421.1 55.7L419.4 54.9L420.3 54zM421.1 63L419.4 62.2L420.3 61.4zM421.1 70.4L419.4 69.6L420.3 68.7zM421 77.8L419.4 77L420.3 76.1zM420.9 85.3L419.3 84.4L420.2 83.5zM420.5 92.9L419 91.8L420.1 91.1zM419.9 100.6L418.6 99.2L419.8 98.7zM419.4 108.1L418.3 106.6L419.6 106.2zM419.2 115.5L418.2 113.9L419.5 113.6zM419.1 122.8L418.2 121.2L419.4 121zM419.1 130.2L418.2 128.6L419.4 128.3zM419.1 137.5L418.2 135.9L419.4 135.7zM419.1 144.9L418.2 143.3L419.4 143zM419.1 152.2L418.2 150.6L419.4 150.4zM419.1 159.6L418.2 158L419.4 157.7zM419.1 166.9L418.2 165.3L419.4 165.1zM428.7 18.7L426.9 18.1L427.8 17.1zM428.7 26.1L426.9 25.4L427.8 24.5zM428.7 33.4L426.9 32.8L427.8 31.8zM428.7 40.8L426.9 40.1L427.8 39.1zM428.7 48.1L426.9 47.5L427.8 46.5zM428.7 55.5L426.9 54.8L427.8 53.8zM428.7 62.8L426.9 62.2L427.8 61.2zM428.7 70.2L426.9 69.5L427.7 68.5zM428.6 77.6L426.9 76.9L427.7 75.9zM428.5 85.1L426.8 84.3L427.7 83.4zM427.9 92.9L426.4 91.8L427.5 91.1zM426.8 100.7L425.7 99.2L427 98.9zM426.1 108.2L425.3 106.5L426.6 106.4zM425.9 115.6L425.2 113.8L426.5 113.8zM425.8 122.9L425.2 121.2L426.5 121.1zM425.8 130.3L425.2 128.5L426.4 128.5zM425.8 137.6L425.2 135.8L426.4 135.8zM425.8 144.9L425.2 143.2L426.4 143.2zM425.8 152.3L425.2 150.5L426.4 150.5zM425.8 159.6L425.2 157.9L426.4 157.9zM425.8 167L425.2 165.2L426.4 165.2z" stroke="#111" stroke-width="0.3" fill="#111" stroke-linejoin="round"/>
</g>
<text x="273.1" y="22.3" text-anchor="end" class="ab">0.2</text>
<text x="273.1" y="59" text-anchor="end" class="ab">0.1</text>
<text x="273.1" y="95.8" text-anchor="end" class="ab">0</text>
<text x="273.1" y="132.5" text-anchor="end" class="ab">-0.1</text>
<text x="273.1" y="169.2" text-anchor="end" class="ab">-0.2</text>
<text x="278.6" y="183.9" text-anchor="middle" class="ab">-0.2</text>
<text x="352.2" y="183.9" text-anchor="middle" class="ab">0</text>
<text x="425.8" y="183.9" text-anchor="middle" class="ab">0.2</text>
<text x="352.2" y="205.9" text-anchor="middle" class="al">Kx</text>
<text transform="translate(240.4 89.3) rotate(-90)" text-anchor="middle" class="al">Ky</text>
<rect x="441.7" y="16.3" width="10.4" height="146.9" fill="url(#cbg)" stroke="#6a5a5a" stroke-opacity="0.45" stroke-width="0.6"/>
<path d="M441.7 16.5h10.4M441.7 163h10.4" stroke="#2a1a1a" stroke-opacity="0.6" stroke-width="0.8"/>
<text x="456.9" y="22" class="cb">0.2</text>
<path d="M452.1 53h-1.5" stroke="#333" stroke-width="0.6"/>
<text x="456.9" y="58.7" class="cb">0.1</text>
<path d="M452.1 89.8h-1.5" stroke="#333" stroke-width="0.6"/>
<text x="456.9" y="95.5" class="cb">0</text>
<path d="M452.1 126.5h-1.5" stroke="#333" stroke-width="0.6"/>
<text x="456.9" y="132.2" class="cb">-0.1</text>
<text x="456.9" y="168.9" class="cb">-0.2</text>
</g>
<g>
<clipPath id="hc2"><rect x="542.6" y="16.3" width="147.2" height="146.9"/></clipPath>
<g clip-path="url(#hc2)">
<rect x="541.6" y="15.3" width="149.2" height="148.9" fill="#ff9293"/>
<path d="M697.8 141L689.8 141C689 139.6 687.1 135.2 685.3 132.8C683.5 130.4 681.4 128.2 679.2 126.7C677 125.2 674.5 124.3 672.1 123.7C669.7 123.1 667.4 122.9 665 123.2C662.6 123.5 660.2 124.4 657.8 125.7C655.4 127 652.6 128.9 650.7 130.8C648.8 132.7 647.1 135 646.6 136.9C646.1 138.8 646.6 140.5 647.6 142C648.6 143.5 650.7 144.9 652.7 146.1C654.8 147.3 657.5 147.9 659.9 149.1C662.3 150.3 665 151.7 667 153.2C669 154.7 670.8 156.6 672.1 158.3C673.5 160 674.6 162.4 675.1 163.2L675.1 171.2L697.8 171.2Z" fill="#ff6d6f"/>
<path d="M697.8 109.9L689.8 109.9C689 109.3 687.1 107.2 685.3 106.3C683.5 105.4 681.2 104.7 679.2 104.3C677.2 103.9 675.5 103.5 673.1 103.8C670.7 104 667.7 104.7 665 105.8C662.3 106.9 659.5 108.6 656.8 110.4C654.1 112.2 651.3 114.3 648.6 116.5C645.9 118.7 643.2 121.5 640.5 123.7C637.8 125.9 634.8 127.8 632.3 129.8C629.8 131.8 627.2 133.7 625.2 135.9C623.2 138.1 621.1 141 620.1 143C619.1 145 618.8 146.4 619.1 148.1C619.5 149.8 620.5 151.7 622.2 153.2C623.9 154.7 626.8 156.1 629.3 157.3C631.8 158.5 634.8 159.4 637.4 160.4C640 161.4 643.4 162.7 644.6 163.2L644.6 171.2L534.6 171.2L534.6 8.3L697.8 8.3Z" fill="#ffb6b7"/>
<path d="M697.8 86.4L689.8 86.4C688.7 86.3 685.8 85.8 683.3 85.9C680.8 86 677.5 86.3 675.1 86.9C672.7 87.5 670.6 88.9 669 89.5C667.4 90.1 667 89.7 665.5 90.5C664 91.3 662 92.3 659.9 94.1C657.8 95.9 655.2 98.7 652.7 101.2C650.2 103.8 647.3 106.7 644.6 109.4C641.9 112.1 639.1 115.2 636.4 117.6C633.7 120 631 121.8 628.3 123.7C625.6 125.6 622.6 127.3 620.1 128.8C617.6 130.3 615.5 131.5 613.4 132.8C611.3 134.2 609.5 135.4 607.3 136.9C605.1 138.4 602.2 140.1 600.2 142C598.2 143.9 596.5 145.9 595.1 148.1C593.7 150.3 592.7 152.8 592 155.3C591.3 157.8 591.2 161.9 591 163.2L591 171.2L534.6 171.2L534.6 8.3L697.8 8.3Z" fill="#ffdadb"/>
<path d="M697.8 68.6L689.8 68.6C688.7 68.8 685.8 69 683.3 69.6C680.8 70.2 677.8 71 675.1 72.1C672.4 73.2 669.5 74.7 667 76.2C664.5 77.7 662.1 79.4 659.9 81.3C657.7 83.2 655.2 86 653.7 87.4C652.2 88.9 652.2 88.5 651.2 90C650.2 91.5 649.2 93.7 647.6 96.2C646 98.8 643.7 102.4 641.5 105.3C639.3 108.2 636.9 111 634.4 113.5C631.9 116 628.8 118.9 626.2 120.6C623.7 122.3 621.2 122.7 619.1 123.5C617 124.3 615.4 124.5 613.4 125.2C611.4 125.9 609.7 127.1 607.3 127.7C604.9 128.3 601.8 128.3 599.1 128.8C596.4 129.3 593.7 129.6 591 130.8C588.3 132 585.3 133.9 582.8 135.9C580.2 137.9 577.9 140.6 575.7 143C573.5 145.4 571.5 147.8 569.6 150.2C567.7 152.6 566.1 155.1 564.5 157.3C562.9 159.5 560.7 162.2 559.9 163.2L559.9 171.2L534.6 171.2L534.6 8.3L697.8 8.3Z" fill="#fffcfb"/>
<path d="M697.8 45.6L689.8 45.6C688.7 46.1 685.8 47.3 683.3 48.7C680.8 50.1 677.8 51.9 675.1 53.8C672.4 55.7 669.7 57.7 667 59.9C664.3 62.1 661.3 64.5 658.8 67C656.2 69.5 653.9 72.5 651.7 75.2C649.5 77.9 647.2 80.8 645.6 83.3C644 85.8 643 87.7 642 90C641 92.3 640.8 94.5 639.5 97.2C638.2 99.9 636.4 103.6 634.4 106.3C632.4 109 629.6 111.6 627.2 113.5C624.8 115.4 623.1 116.8 620.1 117.8C617.1 118.8 612.4 119 609.3 119.6C606.1 120.2 604.1 121.1 601.2 121.6C598.3 122.1 595.2 122.3 592 122.7C588.8 123.1 585.2 123.2 581.8 123.7C578.4 124.2 574.6 124.8 571.6 125.7C568.6 126.6 566.2 127.4 563.5 128.8C560.8 130.2 557.8 132.2 555.3 133.9C552.8 135.6 550.3 137.4 548.2 139C546.1 140.6 543.5 142.8 542.6 143.5L534.6 143.5L534.6 8.3L697.8 8.3Z" fill="#c5e6ff"/>
<path d="M680.2 8.3L680.2 16.3C679.7 17.3 678.7 20 677.2 22.2C675.7 24.4 673.5 27.1 671.1 29.3C668.7 31.5 665.6 33.4 662.9 35.4C660.2 37.4 657.3 39.5 654.8 41.6C652.2 43.7 649.8 45.3 647.6 47.7C645.4 50.1 643 52.9 641.5 55.8C640 58.7 639.4 61.8 638.5 65C637.6 68.2 636.6 72.2 635.9 75.2C635.2 78.2 634.7 80.8 634.4 83.3C634.1 85.8 634.2 87.5 633.9 90C633.5 92.5 633.4 95.3 632.3 98.2C631.2 101.1 629.2 105 627.2 107.4C625.2 109.8 623.1 111.7 620.1 112.7C617.1 113.7 612.8 113.1 609.3 113.5C605.8 113.9 602.5 114.8 599.1 115C595.7 115.2 592.4 115 589 114.5C585.6 114 582.2 112.9 578.8 111.9C575.4 110.9 572 109.5 568.6 108.4C565.2 107.3 561.5 106 558.4 105.3C555.3 104.6 552.8 104.4 550.2 104.3C547.6 104.2 543.9 104.7 542.6 104.8L534.6 104.8L534.6 8.3Z" fill="#8cceff"/>
<path d="M642.5 8.3L642.5 16.3C641.1 17.4 636.9 21 634.4 23.2C631.9 25.4 629 27.1 627.2 29.3C625.4 31.5 624.5 34 623.7 36.5C623 39 622.8 41.6 622.7 44.6C622.6 47.6 622.8 51.7 623.2 54.8C623.6 57.9 625 60 625.2 63C625.4 66 624.2 70 624.2 73.1C624.2 76.1 624.8 78.5 625.2 81.3C625.6 84.1 626.5 87.5 626.7 90C626.9 92.5 627 93.8 626.2 96.2C625.5 98.6 623.7 102.3 622.2 104.3C620.8 106.3 620 107.1 617.5 108C615 108.9 610.7 109.5 607.3 109.9C603.9 110.3 600.1 110.7 597.1 110.4C594.1 110.2 591.5 109.6 589 108.4C586.5 107.2 584 105.2 581.8 103.3C579.6 101.4 577.9 99.1 575.7 97.2C573.5 95.3 570.8 93.5 568.6 92.1C566.4 90.7 564.2 89.8 562.5 89C560.8 88.2 560.4 88.2 558.4 87.4C556.4 86.6 552.8 85.1 550.2 84.4C547.6 83.7 543.9 83.5 542.6 83.3L534.6 83.3L534.6 8.3Z" fill="#52b6ff"/>
<path d="M582.8 8.3L582.8 16.3C583.8 17.3 587 19.5 589 22.2C591 24.9 593.2 29 595.1 32.4C597 35.8 598.2 38.7 600.2 42.6C602.2 46.5 604.9 51.9 607.3 55.8C609.7 59.7 612.7 63.3 614.4 66C616.1 68.7 616.7 69.1 617.5 72C618.3 74.9 618.8 80.3 619.1 83.3C619.4 86.3 619.5 88 619.5 90C619.5 92 619.7 93.2 619.1 95.1C618.5 97 618 99.8 616 101.2C614 102.6 610.3 103.1 607.3 103.3C604.3 103.5 600.8 103.1 598.1 102.3C595.4 101.5 593.1 99.8 591 98.2C588.9 96.7 587.1 94.8 585.5 93C583.9 91.2 583.3 89.5 581.3 87.7C579.3 85.9 576.7 83.9 573.7 82.3C570.7 80.7 566.9 79.7 563.5 78.2C560.1 76.7 556.8 75 553.3 73.1C549.8 71.2 544.4 68 542.6 67L534.6 67L534.6 8.3Z" fill="#189dff"/>
<path d="M559.4 8.3L559.4 16.3C560.1 17.3 561.5 19.9 563.5 22.2C565.5 24.5 569.1 27.4 571.6 30.3C574.1 33.2 576.9 36.1 578.8 39.5C580.7 42.9 582.3 47.6 582.8 50.7C583.3 53.8 582.8 56 581.8 57.9C580.8 59.8 578.9 61.4 576.7 61.9C574.5 62.4 571.7 61.8 568.6 60.9C565.5 60 561.8 58.5 558.4 56.8C555 55.1 550.8 52.6 548.2 50.7C545.6 48.8 543.5 46.5 542.6 45.6L534.6 45.6L534.6 8.3Z" fill="#189dff"/>
<path d="M594.5 88C594.4 86.8 594.9 85.1 595.5 84C596.1 82.9 596.6 82.2 598 81.5C599.4 80.8 601.8 79.7 604 79.8C606.2 79.9 609.1 80.9 611 82C612.9 83.1 614.6 85.2 615.5 86.5C616.4 87.8 616.8 88.8 616.5 90C616.2 91.2 615.3 92.7 614 93.5C612.7 94.3 610.7 95 608.5 95.1C606.3 95.2 603.1 94.7 601 94C598.9 93.3 597.1 92 596 91C594.9 90 594.6 89.2 594.5 88Z" fill="#189dff"/>
<path d="M542.6 16.7L542.6 14.4M542.6 24L542.6 21.8M542.6 31.4L542.6 29.2M542.6 38.7L542.6 36.6M542.6 46L542.6 44M542.6 53.3L542.6 51.5M542.6 60.7L542.6 59M542.6 67.9L542.6 66.6M542.6 75.2L542.6 74.3M542.6 82.4h.1M542.6 89.8h.1M542.6 97.1h.1M542.7 104.5L541.9 104.1M542.8 111.9L541.6 111.3M542.9 119.3L541.4 118.5M542.9 126.6L541.2 125.8M542.9 134L541.1 133.1M542.9 141.3L541 140.4M542.9 148.7L541 147.8M542.9 156L540.9 155.1M543 163.4L540.9 162.4M550.1 16.7L549.5 14.5M550.1 24L549.5 21.9M550.1 31.4L549.5 29.3M550.1 38.7L549.5 36.7M550 46L549.5 44.1M550 53.3L549.6 51.5M550 60.6L549.6 59.1M550 67.9L549.7 66.6M550 75.2L549.7 74.3M549.9 82.4h.1M549.9 89.8h.1M549.9 97.1h.1M550.1 104.5L549.4 104M550.1 111.9L549.1 111.1M550.2 119.3L548.8 118.3M550.2 126.7L548.7 125.6M550.2 134L548.6 132.9M550.3 141.4L548.5 140.2M550.3 148.7L548.5 147.5M550.3 156.1L548.5 154.8M550.3 163.4L548.4 162.1M557.5 16.7L556.5 14.6M557.5 24L556.5 22M557.5 31.3L556.6 29.4M557.5 38.7L556.6 36.8M557.5 46L556.6 44.2M557.5 53.3L556.7 51.6M557.4 60.6L556.7 59.1M557.4 67.9L556.8 66.7M557.4 75.2L557 74.4M557.3 82.4h.1M557.3 89.8h.1M557.3 97.1h.1M557.4 104.6L556.9 103.8M557.4 112L556.8 110.8M557.5 119.4L556.6 117.9M557.5 126.8L556.6 125.1M557.5 134.1L556.5 132.4M557.5 141.5L556.5 139.7M557.5 148.8L556.4 147M557.5 156.2L556.4 154.3M557.5 163.5L556.4 161.6M564.9 16.6L563.6 14.8M564.9 24L563.6 22.1M564.9 31.3L563.7 29.5M564.9 38.6L563.7 36.9M564.9 46L563.7 44.3M564.9 53.3L563.8 51.8M564.8 60.6L563.9 59.2M564.8 67.9L564 66.8M564.8 75.2L564.2 74.4M564.6 82.4h.1M564.6 89.8h.1M564.6 97.1h.1M564.7 104.6L564.4 103.7M564.7 112L564.4 110.7M564.8 119.4L564.3 117.8M564.8 126.8L564.3 125M564.8 134.2L564.3 132.2M564.8 141.5L564.2 139.5M564.8 148.9L564.2 146.8M564.8 156.2L564.2 154.1M564.8 163.6L564.2 161.4M572.3 16.6L570.8 14.9M572.3 23.9L570.9 22.2M572.3 31.3L570.9 29.6M572.3 38.6L570.9 37M572.3 45.9L571 44.4M572.2 53.3L571 51.8M572.2 60.6L571.2 59.3M572.2 67.9L571.3 66.8M572.1 75.2L571.5 74.4M572 82.4h.1M572 89.8h.1M572 97.1h.1M572.1 104.6L572 103.6M572 112L572 110.7M572 119.4L572 117.7M572 126.8L572 124.9M572 134.2L572 132.2M572 141.5L572 139.4M572 148.9L572 146.7M572 156.2L572 154M572 163.6L572 161.3M579.7 16.6L578.1 15M579.7 23.9L578.1 22.3M579.7 31.3L578.1 29.7M579.7 38.6L578.2 37.1M579.6 45.9L578.2 44.5M579.6 53.3L578.3 51.9M579.6 60.6L578.4 59.4M579.6 67.9L578.6 66.9M579.5 75.2L578.8 74.5M579.5 82.5L579.1 82M579.4 89.8h.1M579.4 97.2L579.3 96.6M579.4 104.6L579.4 103.6M579.4 112L579.5 110.6M579.4 119.4L579.5 117.7M579.4 126.8L579.5 124.9M579.4 134.2L579.5 132.2M579.4 141.5L579.6 139.4M579.4 148.9L579.6 146.7M579.4 156.2L579.6 154M579.4 163.6L579.6 161.3M587.1 16.5L585.3 15.1M587.1 23.9L585.3 22.5M587.1 31.2L585.3 29.9M587.1 38.6L585.4 37.2M587 45.9L585.4 44.6M587 53.2L585.5 52M587 60.6L585.6 59.5M587 67.9L585.8 67M586.9 75.2L586.1 74.5M586.9 82.5L586.3 82M586.7 89.8h.1M586.8 97.2L586.8 96.6M586.7 104.6L587 103.6M586.7 112L587.2 110.6M586.7 119.4L587.2 117.8M586.6 126.8L587.3 125M586.6 134.2L587.3 132.2M586.6 141.5L587.4 139.5M586.6 148.9L587.4 146.8M586.6 156.2L587.4 154.1M586.6 163.6L587.4 161.4M594.5 16.5L592.5 15.3M594.5 23.8L592.5 22.7M594.5 31.2L592.5 30.1M594.4 38.5L592.6 37.4M594.4 45.9L592.6 44.8M594.4 53.2L592.7 52.2M594.4 60.5L592.8 59.6M594.4 67.9L593 67.1M594.3 75.2L593.2 74.5M594.3 82.5L593.5 82M594.2 89.8L593.7 89.6M594 97.2L594.5 96.7M594 104.6L594.7 103.6M594 112L594.9 110.7M593.9 119.4L595 117.9M593.9 126.8L595.1 125.1M593.9 134.1L595.1 132.4M593.9 141.5L595.2 139.7M593.9 148.8L595.2 147M593.9 156.2L595.2 154.3M593.9 163.5L595.2 161.6M601.9 16.4L599.6 15.8M601.9 23.7L599.6 23.2M601.9 31.1L599.7 30.5M601.9 38.4L599.7 37.9M601.8 45.8L599.7 45.2M601.8 53.1L599.8 52.6M601.8 60.5L599.9 60M601.8 67.8L600.1 67.3M601.7 75.1L600.3 74.8M601.7 82.4L600.5 82.2M601.3 89.8L602.4 89.7M601.3 97.2L602.5 96.8M601.3 104.6L602.6 103.8M601.2 112L602.7 111M601.2 119.3L602.8 118.2M601.2 126.7L602.9 125.5M601.2 134L603 132.8M601.2 141.4L603 140.1M601.2 148.7L603 147.4M601.2 156.1L603 154.8M601.2 163.4L603.1 162.1M609.2 16.3L606.9 16.1M609.2 23.7L606.9 23.5M609.2 31L606.9 30.8M609.2 38.4L606.9 38.2M609.2 45.7L607 45.5M609.2 53.1L607 52.9M609.2 60.4L607.1 60.2M609.2 67.7L607.2 67.6M609.2 75.1L607.3 75M609.1 82.4L607.5 82.4M608.6 89.8L610.1 89.7M608.6 97.1L610.2 96.9M608.5 104.5L610.3 104.1M608.5 111.9L610.4 111.4M608.5 119.2L610.5 118.7M608.5 126.6L610.6 126M608.5 133.9L610.6 133.3M608.5 141.3L610.7 140.7M608.5 148.6L610.7 148M608.4 156L610.7 155.4M608.4 163.3L610.7 162.7M615.8 16.3L618.2 16.3M615.8 23.6L618.2 23.6M615.8 31L618.2 31M615.8 38.3L618.2 38.3M615.8 45.7L618.1 45.7M615.8 53L618.1 53M615.8 60.4L618.1 60.4M615.8 67.7L618 67.7M615.8 75.1L617.9 75.1M615.9 82.4L617.8 82.4M615.9 89.8L617.8 89.7M615.9 97.1L617.8 97M615.8 104.5L617.9 104.3M615.8 111.8L618 111.6M615.8 119.2L618.1 119M615.8 126.5L618.1 126.3M615.8 133.9L618.1 133.7M615.8 141.2L618.1 141M615.8 148.5L618.2 148.3M615.8 155.9L618.2 155.7M615.8 163.2L618.2 163M623.2 16.4L625.5 15.8M623.2 23.8L625.5 23.1M623.2 31.1L625.5 30.5M623.2 38.4L625.5 37.8M623.2 45.8L625.5 45.2M623.2 53.1L625.5 52.5M623.2 60.5L625.4 59.9M623.2 67.8L625.4 67.2M623.2 75.2L625.4 74.6M623.2 82.5L625.3 82M623.2 89.8L625.3 89.4M623.2 97.1L625.4 96.9M623.2 104.5L625.4 104.4M623.2 111.8L625.5 111.8M623.2 119.1L625.5 119.1M623.2 126.5L625.5 126.5M623.1 133.8L625.5 133.8M623.1 141.2L625.5 141.2M623.1 148.5L625.5 148.5M623.1 155.9L625.6 155.9M623.1 163.2L625.6 163.2M630.6 16.5L632.7 15.3M630.6 23.9L632.7 22.6M630.6 31.2L632.7 30M630.6 38.5L632.7 37.3M630.6 45.9L632.6 44.7M630.6 53.2L632.6 52M630.6 60.6L632.6 59.4M630.6 67.9L632.6 66.7M630.6 75.3L632.6 74.1M630.6 82.6L632.7 81.6M630.5 89.9L632.8 89.2M631.3 97.1L629 97.1M631.3 104.5L629 104.1M631.3 111.9L629 111.3M631.3 119.2L629 118.6M631.3 126.6L629 126M631.3 133.9L629 133.3M631.3 141.3L629 140.6M631.3 148.6L629 148M631.3 156L629 155.3M631.3 163.3L629 162.7M638 16.6L639.6 14.8M638 24L639.6 22.1M638 31.3L639.6 29.5M638 38.7L639.6 36.8M638 46L639.6 44.1M638 53.3L639.6 51.5M638 60.7L639.6 58.8M638 68L639.6 66.2M638 75.4L639.6 73.6M638 82.7L639.6 81M638 89.9L639.6 88.8M638.6 97.2L636.7 96.8M638.7 104.6L636.4 103.7M638.7 112L636.5 111M638.7 119.3L636.5 118.3M638.7 126.7L636.5 125.6M638.7 134L636.5 133M638.7 141.3L636.5 140.3M638.7 148.7L636.5 147.7M638.7 156L636.5 155M638.7 163.4L636.5 162.3M645.5 16.7L646.3 14.4M645.5 24L646.3 21.8M645.5 31.4L646.3 29.1M645.5 38.7L646.3 36.4M645.5 46.1L646.3 43.8M645.5 53.4L646.3 51.1M645.5 60.8L646.3 58.5M645.5 68.1L646.3 65.8M645.5 75.5L646.3 73.2M645.5 82.8L646.2 80.5M645.6 90.1L645.8 88M645.8 97.4L644.7 95.6M645.9 104.7L644.2 103.1M646 112.1L644.1 110.5M646 119.4L644.1 117.8M646 126.7L644.1 125.2M646 134.1L644.1 132.5M646 141.4L644.1 139.9M646 148.8L644.1 147.2M646 156.1L644.1 154.6M646 163.5L644.1 161.9M653 16.7L653.2 14.3M653 24.1L653.2 21.6M653 31.4L653.2 29M653 38.8L653.2 36.3M653 46.1L653.2 43.7M653 53.4L653.2 51M653 60.8L653.2 58.4M653 68.1L653.2 65.7M653 75.5L653.1 73.1M653 82.8L653 80.4M653.1 90.2L652.7 87.8M653.2 97.5L652.1 95.3M653.2 104.8L651.9 102.8M653.3 112.1L651.8 110.2M653.3 119.5L651.7 117.6M653.3 126.8L651.7 124.9M653.3 134.1L651.7 132.3M653.3 141.5L651.7 139.6M653.3 148.8L651.7 147M653.3 156.2L651.7 154.3M653.3 163.5L651.7 161.7M660.4 16.7L660.4 14.3M660.4 24.1L660.4 21.6M660.4 31.4L660.4 29M660.4 38.8L660.4 36.3M660.4 46.1L660.4 43.7M660.4 53.4L660.4 51M660.4 60.8L660.4 58.4M660.4 68.1L660.3 65.7M660.4 75.5L660.3 73M660.4 82.8L660.2 80.4M660.4 90.2L660 87.8M660.5 97.5L659.7 95.2M660.5 104.8L659.5 102.6M660.6 112.2L659.4 110M660.6 119.5L659.4 117.4M660.6 126.8L659.4 124.7M660.6 134.2L659.4 132.1M660.6 141.5L659.4 139.4M660.6 148.9L659.4 146.8M660.6 156.2L659.4 154.1M660.6 163.6L659.4 161.5M667.8 16.7L667.4 14.3M667.8 24.1L667.4 21.7M667.8 31.4L667.4 29M667.8 38.7L667.4 36.3M667.8 46.1L667.4 43.7M667.8 53.4L667.4 51M667.8 60.8L667.4 58.4M667.8 68.1L667.4 65.7M667.8 75.5L667.3 73.1M667.8 82.8L667.3 80.4M667.8 90.2L667.2 87.8M667.9 97.5L667 95.2M667.9 104.8L666.9 102.6M667.9 112.2L666.9 109.9M667.9 119.5L666.9 117.3M667.9 126.9L666.9 124.6M667.9 134.2L666.9 132M667.9 141.5L666.9 139.3M667.9 148.9L666.9 146.7M667.9 156.2L666.9 154M667.9 163.6L666.9 161.4M675.3 16.7L674.1 14.6M675.3 24L674.1 21.9M675.3 31.4L674.1 29.2M675.3 38.7L674.1 36.6M675.3 46L674.1 43.9M675.3 53.4L674.1 51.3M675.3 60.7L674.1 58.6M675.3 68.1L674.1 66M675.3 75.4L674.1 73.3M675.3 82.8L674.1 80.6M675.3 90.1L674.2 87.9M675.2 97.5L674.4 95.2M675.2 104.8L674.5 102.5M675.2 112.2L674.5 109.8M675.2 119.5L674.5 117.2M675.2 126.9L674.6 124.5M675.2 134.2L674.6 131.9M675.2 141.6L674.6 139.2M675.2 148.9L674.6 146.6M675.2 156.3L674.6 153.9M675.2 163.6L674.6 161.3M682.7 16.6L681 14.9M682.7 23.9L681 22.2M682.7 31.3L681 29.6M682.7 38.6L681 36.9M682.7 46L681 44.3M682.7 53.3L681 51.6M682.7 60.7L681 58.9M682.7 68L681 66.3M682.7 75.4L681.1 73.6M682.7 82.7L681.1 80.9M682.7 90.1L681.3 88.1M682.6 97.5L681.7 95.2M682.5 104.8L681.9 102.5M682.5 112.2L682 109.8M682.5 119.5L682.1 117.1M682.5 126.9L682.1 124.5M682.5 134.2L682.1 131.8M682.5 141.6L682.1 139.2M682.5 148.9L682.1 146.5M682.5 156.3L682.1 153.9M682.5 163.6L682.1 161.2M690.1 16.6L688.3 15M690.1 23.9L688.3 22.3M690.1 31.3L688.3 29.7M690.1 38.6L688.3 37M690.1 46L688.3 44.4M690.1 53.3L688.3 51.7M690.1 60.6L688.3 59.1M690.1 68L688.3 66.4M690.1 75.3L688.3 73.7M690.1 82.7L688.4 81M690 90.1L688.7 88.1M689.9 97.5L689.3 95.2M689.8 104.9L689.6 102.4M689.8 112.2L689.7 109.8M689.8 119.5L689.8 117.1M689.8 126.9L689.8 124.5M689.8 134.2L689.8 131.8M689.8 141.6L689.8 139.1M689.8 148.9L689.8 146.5M689.8 156.3L689.8 153.8M689.8 163.6L689.8 161.2" stroke="#111" stroke-width="0.78" fill="none"/>
<path d="M542.6 12.8L543.2 14.4L542 14.4zM542.6 20.2L543.2 21.8L542 21.8zM542.6 27.6L543.2 29.2L542 29.2zM542.6 35.1L543.1 36.6L542.1 36.6zM542.6 42.6L543.1 44L542.1 44zM542.6 50.1L543.1 51.5L542.1 51.5zM542.6 57.8L543 59L542.2 59zM542.6 65.6L542.9 66.6L542.2 66.6zM542.6 73.6L542.8 74.3L542.3 74.3zM541.4 103.7L542.1 103.9L541.8 104.3zM540.7 110.9L541.8 111L541.5 111.6zM540.3 118L541.6 118.2L541.2 118.9zM540 125.3L541.4 125.4L541 126.3zM539.8 132.5L541.3 132.6L540.9 133.6zM539.7 139.8L541.3 139.9L540.8 140.9zM539.6 147.1L541.2 147.2L540.7 148.3zM539.5 154.4L541.2 154.6L540.7 155.6zM539.4 161.7L541.2 161.9L540.7 162.9zM549.1 12.9L550 14.3L548.9 14.6zM549.1 20.3L550 21.7L548.9 22zM549.1 27.7L550 29.1L549 29.4zM549.1 35.2L550 36.5L549 36.8zM549.2 42.7L550 43.9L549 44.2zM549.2 50.2L550 51.4L549.1 51.7zM549.3 57.9L550 58.9L549.2 59.2zM549.4 65.7L550 66.6L549.3 66.7zM549.6 73.7L550 74.3L549.5 74.4zM548.9 103.5L549.5 103.8L549.2 104.1zM548.3 110.5L549.3 110.8L548.9 111.4zM547.9 117.6L549.1 118L548.6 118.7zM547.6 124.8L549 125.2L548.4 126zM547.4 132L548.9 132.4L548.3 133.3zM547.3 139.3L548.9 139.7L548.2 140.6zM547.2 146.6L548.8 147L548.2 147.9zM547.1 153.9L548.8 154.3L548.1 155.3zM547.1 161.2L548.8 161.6L548.1 162.6zM555.8 13.1L557.1 14.4L556 14.9zM555.9 20.5L557.1 21.7L556 22.2zM555.9 27.9L557.1 29.1L556 29.6zM555.9 35.4L557.1 36.5L556.1 37zM556 42.9L557.1 44L556.1 44.4zM556.1 50.4L557.1 51.4L556.2 51.8zM556.2 58L557.1 58.9L556.4 59.3zM556.4 65.8L557.2 66.6L556.5 66.9zM556.7 73.8L557.2 74.3L556.8 74.5zM556.6 103.2L557.2 103.7L556.7 103.9zM556.3 110L557.1 110.6L556.5 111zM556 116.9L557 117.7L556.3 118.2zM555.9 124L557 124.9L556.1 125.4zM555.8 131.1L556.9 132.1L556 132.6zM555.7 138.3L556.9 139.4L556 139.9zM555.6 145.6L556.9 146.7L555.9 147.2zM555.6 152.9L556.9 154L555.9 154.6zM555.6 160.2L556.9 161.3L555.9 161.9zM562.7 13.4L564.1 14.4L563.1 15.1zM562.7 20.8L564.1 21.8L563.2 22.5zM562.7 28.2L564.1 29.2L563.2 29.8zM562.8 35.7L564.1 36.6L563.2 37.2zM562.9 43.1L564.2 44L563.3 44.6zM563 50.7L564.2 51.5L563.4 52zM563.2 58.3L564.3 59L563.5 59.5zM563.5 66L564.3 66.6L563.8 67zM563.9 73.9L564.4 74.3L564 74.6zM564.2 103.1L564.7 103.6L564.2 103.8zM564.1 109.8L564.7 110.6L564 110.8zM564 116.7L564.7 117.7L563.9 117.9zM563.9 123.7L564.7 124.9L563.8 125.1zM563.9 130.8L564.8 132.1L563.7 132.4zM563.8 138L564.8 139.3L563.7 139.6zM563.8 145.3L564.8 146.6L563.7 146.9zM563.8 152.5L564.8 153.9L563.6 154.2zM563.8 159.8L564.8 161.2L563.6 161.5zM569.8 13.6L571.3 14.5L570.4 15.2zM569.8 21L571.3 21.9L570.4 22.6zM569.9 28.4L571.3 29.2L570.5 30zM569.9 35.8L571.3 36.6L570.5 37.4zM570 43.3L571.4 44.1L570.6 44.7zM570.2 50.8L571.4 51.5L570.7 52.2zM570.4 58.4L571.5 59L570.8 59.6zM570.7 66.1L571.6 66.6L571 67.1zM571.1 73.9L571.7 74.3L571.4 74.6zM571.9 103L572.2 103.6L571.7 103.7zM572 109.7L572.4 110.6L571.7 110.7zM572 116.5L572.5 117.7L571.6 117.8zM572 123.6L572.5 124.9L571.5 124.9zM572 130.7L572.6 132.2L571.5 132.2zM572 137.9L572.6 139.4L571.5 139.4zM572 145.1L572.6 146.7L571.5 146.7zM572 152.4L572.6 154L571.5 154zM572 159.7L572.6 161.3L571.5 161.3zM576.9 13.8L578.5 14.6L577.7 15.4zM577 21.2L578.5 21.9L577.7 22.8zM577 28.6L578.5 29.3L577.7 30.1zM577.1 36L578.6 36.7L577.8 37.5zM577.2 43.5L578.6 44.1L577.8 44.9zM577.3 51L578.6 51.6L577.9 52.3zM577.5 58.5L578.7 59.1L578.1 59.7zM577.9 66.2L578.8 66.6L578.3 67.1zM578.3 73.9L579 74.3L578.6 74.6zM578.8 81.7L579.2 81.9L579 82.1zM579.2 96.2L579.5 96.6L579.2 96.7zM579.4 102.9L579.7 103.6L579.1 103.6zM579.5 109.6L579.8 110.6L579.1 110.6zM579.6 116.5L579.9 117.8L579.1 117.7zM579.6 123.6L580 125L579 124.9zM579.7 130.7L580.1 132.2L579 132.1zM579.7 137.9L580.1 139.5L579 139.4zM579.7 145.1L580.1 146.8L579 146.7zM579.7 152.4L580.1 154.1L579 154zM579.7 159.7L580.2 161.4L579 161.3zM584 14.1L585.6 14.7L584.9 15.6zM584 21.5L585.7 22L584.9 23zM584.1 28.9L585.7 29.4L585 30.3zM584.1 36.3L585.7 36.8L585 37.7zM584.3 43.7L585.8 44.2L585.1 45.1zM584.4 51.2L585.8 51.6L585.2 52.4zM584.6 58.7L585.9 59.1L585.3 59.8zM585 66.3L586 66.7L585.6 67.3zM585.4 74L586.2 74.3L585.9 74.7zM585.9 81.7L586.4 81.9L586.2 82.2zM586.8 96.2L587 96.6L586.6 96.6zM587.2 102.8L587.3 103.6L586.7 103.5zM587.5 109.6L587.5 110.8L586.8 110.5zM587.7 116.6L587.7 117.9L586.8 117.6zM587.8 123.7L587.8 125.1L586.8 124.8zM587.8 130.8L587.8 132.4L586.8 132zM587.9 138L587.9 139.7L586.8 139.3zM587.9 145.3L587.9 147L586.8 146.6zM588 152.6L587.9 154.3L586.8 153.9zM588 159.9L588 161.6L586.8 161.2zM591 14.5L592.8 14.8L592.2 15.9zM591.1 21.9L592.8 22.2L592.2 23.2zM591.1 29.3L592.8 29.6L592.2 30.6zM591.2 36.6L592.8 36.9L592.3 37.9zM591.3 44.1L592.9 44.3L592.3 45.3zM591.4 51.5L593 51.8L592.4 52.7zM591.7 59L593 59.2L592.6 60zM592 66.5L593.2 66.7L592.8 67.4zM592.4 74.1L593.4 74.3L593 74.8zM592.9 81.7L593.6 81.8L593.3 82.2zM593.3 89.4L593.8 89.4L593.6 89.7zM594.8 96.3L594.6 96.8L594.4 96.6zM595.3 102.8L595 103.8L594.5 103.4zM595.5 109.8L595.2 110.9L594.5 110.5zM595.8 116.8L595.4 118.2L594.6 117.6zM595.9 123.9L595.5 125.4L594.6 124.8zM596 131.2L595.6 132.7L594.7 132.1zM596.1 138.4L595.6 140L594.7 139.4zM596.1 145.7L595.7 147.3L594.7 146.7zM596.1 153L595.7 154.7L594.7 154zM596.2 160.3L595.7 162L594.7 161.3zM598 15.4L599.8 15.2L599.5 16.4zM598 22.7L599.8 22.6L599.5 23.7zM598.1 30.1L599.8 29.9L599.5 31.1zM598.1 37.4L599.8 37.3L599.5 38.4zM598.2 44.8L599.9 44.7L599.6 45.8zM598.3 52.2L600 52.1L599.7 53.1zM598.5 59.6L600 59.5L599.8 60.4zM598.8 67L600.2 66.9L599.9 67.8zM599.2 74.5L600.3 74.4L600.2 75.2zM599.6 82.1L600.5 81.9L600.4 82.6zM603.2 89.7L602.4 90L602.4 89.4zM603.3 96.5L602.6 97.1L602.4 96.4zM603.5 103.3L602.8 104.2L602.4 103.5zM603.8 110.3L603 111.4L602.5 110.6zM604 117.4L603.1 118.6L602.5 117.8zM604.1 124.6L603.2 125.9L602.6 125zM604.2 131.9L603.3 133.3L602.6 132.3zM604.3 139.2L603.3 140.6L602.7 139.6zM604.4 146.5L603.4 147.9L602.7 146.9zM604.4 153.8L603.4 155.3L602.7 154.3zM604.4 161.1L603.4 162.6L602.7 161.6zM605.2 16L606.9 15.5L606.8 16.7zM605.2 23.3L607 22.9L606.9 24.1zM605.2 30.7L607 30.2L606.9 31.4zM605.3 38L607 37.6L606.9 38.8zM605.3 45.4L607 44.9L606.9 46.1zM605.4 52.7L607.1 52.3L607 53.4zM605.6 60.1L607.1 59.7L607 60.8zM605.8 67.5L607.2 67.1L607.2 68.1zM606 74.9L607.4 74.5L607.3 75.4zM606.3 82.3L607.5 81.9L607.5 82.8zM611.3 89.7L610.1 90.1L610.1 89.3zM611.4 96.7L610.2 97.3L610.1 96.5zM611.6 103.8L610.4 104.6L610.2 103.7zM611.8 111L610.6 111.9L610.3 110.9zM612 118.3L610.7 119.2L610.4 118.2zM612.1 125.6L610.7 126.6L610.5 125.5zM612.2 132.9L610.8 133.9L610.5 132.8zM612.3 140.2L610.8 141.3L610.5 140.1zM612.3 147.6L610.9 148.6L610.5 147.4zM612.4 154.9L610.9 155.9L610.6 154.8zM612.4 162.3L610.9 163.3L610.6 162.1zM619.9 16.3L618.2 16.9L618.2 15.7zM619.9 23.6L618.2 24.3L618.2 23zM619.9 31L618.2 31.6L618.2 30.4zM619.9 38.3L618.2 38.9L618.2 37.7zM619.8 45.7L618.1 46.3L618.1 45.1zM619.8 53L618.1 53.6L618.1 52.4zM619.7 60.4L618.1 61L618.1 59.8zM619.6 67.7L618 68.3L618 67.1zM619.4 75L617.9 75.6L617.9 74.5zM619.3 82.4L617.8 82.9L617.8 81.9zM619.2 89.7L617.8 90.2L617.8 89.2zM619.3 96.9L617.9 97.5L617.8 96.5zM619.4 104.2L618 104.9L617.9 103.8zM619.6 111.5L618 112.2L618 111.1zM619.7 118.8L618.1 119.6L618 118.4zM619.8 126.2L618.1 126.9L618 125.7zM619.8 133.5L618.2 134.3L618.1 133zM619.8 140.8L618.2 141.6L618.1 140.4zM619.9 148.2L618.2 149L618.1 147.7zM619.9 155.5L618.2 156.3L618.1 155.1zM619.9 162.9L618.2 163.6L618.1 162.4zM627.2 15.3L625.7 16.4L625.3 15.2zM627.2 22.7L625.6 23.7L625.3 22.5zM627.2 30L625.6 31.1L625.3 29.9zM627.2 37.4L625.6 38.4L625.3 37.2zM627.1 44.7L625.6 45.8L625.3 44.6zM627.1 52.1L625.6 53.1L625.3 51.9zM627.1 59.4L625.6 60.5L625.3 59.3zM627 66.8L625.6 67.8L625.3 66.6zM627 74.2L625.5 75.2L625.2 74zM626.9 81.6L625.5 82.6L625.2 81.4zM626.9 89.2L625.4 90L625.2 88.9zM627 96.8L625.4 97.5L625.3 96.4zM627.1 104.3L625.4 105L625.4 103.8zM627.1 111.7L625.5 112.4L625.5 111.2zM627.2 119.1L625.5 119.7L625.5 118.5zM627.2 126.5L625.5 127.1L625.5 125.9zM627.3 133.8L625.5 134.4L625.5 133.2zM627.3 141.2L625.5 141.8L625.5 140.5zM627.3 148.5L625.5 149.1L625.5 147.9zM627.3 155.9L625.6 156.5L625.6 155.2zM627.3 163.2L625.6 163.8L625.6 162.6zM634.2 14.4L633 15.8L632.3 14.7zM634.2 21.8L633 23.2L632.3 22.1zM634.2 29.1L633 30.5L632.3 29.4zM634.2 36.5L633 37.9L632.3 36.8zM634.2 43.8L633 45.2L632.3 44.1zM634.2 51.2L633 52.6L632.3 51.5zM634.1 58.5L632.9 59.9L632.3 58.8zM634.1 65.9L632.9 67.3L632.3 66.2zM634.1 73.3L632.9 74.7L632.3 73.6zM634.2 80.9L632.9 82.1L632.4 81zM634.4 88.8L632.9 89.8L632.6 88.7zM627.3 97.1L629 96.5L629 97.7zM627.3 103.8L629.1 103.5L628.9 104.7zM627.3 110.9L629.2 110.7L628.9 111.9zM627.3 118.2L629.2 118L628.8 119.2zM627.3 125.5L629.2 125.4L628.8 126.6zM627.3 132.9L629.2 132.7L628.8 133.9zM627.3 140.2L629.2 140L628.8 141.3zM627.3 147.5L629.1 147.4L628.8 148.6zM627.3 154.9L629.1 154.7L628.8 155.9zM627.3 162.2L629.1 162.1L628.8 163.3zM640.7 13.4L640.1 15.2L639.1 14.4zM640.7 20.8L640.1 22.5L639.1 21.7zM640.7 28.1L640.1 29.9L639.1 29zM640.7 35.5L640.1 37.2L639.1 36.4zM640.7 42.8L640.1 44.5L639.1 43.7zM640.7 50.1L640.1 51.9L639.1 51.1zM640.7 57.5L640 59.2L639.1 58.4zM640.7 64.9L640 66.6L639.1 65.8zM640.7 72.2L640 74L639.1 73.2zM640.8 79.7L640.1 81.4L639.2 80.5zM640.8 88L639.9 89.2L639.3 88.4zM635.3 96.5L636.8 96.3L636.6 97.3zM634.8 103.1L636.7 103.1L636.2 104.3zM634.9 110.3L636.7 110.4L636.2 111.5zM634.9 117.6L636.7 117.7L636.2 118.9zM634.9 124.9L636.7 125.1L636.2 126.2zM634.9 132.2L636.7 132.4L636.2 133.5zM634.9 139.6L636.7 139.7L636.2 140.9zM634.9 146.9L636.7 147.1L636.2 148.2zM634.9 154.3L636.7 154.4L636.2 155.6zM634.9 161.6L636.7 161.8L636.2 162.9zM646.9 12.8L646.9 14.6L645.7 14.2zM646.9 20.1L646.9 22L645.7 21.5zM646.9 27.4L646.9 29.3L645.7 28.9zM646.9 34.8L646.9 36.7L645.7 36.2zM646.9 42.1L646.9 44L645.7 43.6zM646.9 49.5L646.9 51.4L645.7 50.9zM646.9 56.8L646.9 58.7L645.7 58.3zM646.9 64.2L646.9 66L645.7 65.6zM646.9 71.5L646.9 73.4L645.7 73zM646.7 78.8L646.8 80.7L645.6 80.3zM645.9 86.5L646.3 88L645.2 88zM643.8 94.4L645.1 95.3L644.2 95.9zM642.9 101.8L644.6 102.6L643.8 103.5zM642.8 109.3L644.5 110L643.7 110.9zM642.8 116.7L644.5 117.3L643.7 118.3zM642.8 124L644.5 124.7L643.7 125.7zM642.8 131.4L644.5 132L643.7 133zM642.7 138.7L644.5 139.4L643.7 140.4zM642.7 146.1L644.5 146.7L643.7 147.7zM642.7 153.4L644.5 154.1L643.7 155zM642.7 160.8L644.5 161.4L643.7 162.4zM653.3 12.5L653.8 14.3L652.5 14.2zM653.3 19.9L653.8 21.7L652.5 21.6zM653.3 27.2L653.8 29L652.5 28.9zM653.3 34.6L653.8 36.4L652.5 36.3zM653.3 41.9L653.8 43.7L652.5 43.6zM653.3 49.3L653.8 51.1L652.5 51zM653.3 56.6L653.8 58.4L652.5 58.3zM653.3 64L653.8 65.8L652.5 65.7zM653.2 71.3L653.7 73.1L652.5 73zM653 78.6L653.6 80.4L652.4 80.4zM652.4 86L653.3 87.7L652 87.9zM651.4 93.7L652.7 95L651.6 95.5zM650.8 101.4L652.4 102.4L651.3 103.2zM650.7 108.8L652.2 109.8L651.3 110.6zM650.6 116.2L652.2 117.2L651.2 118zM650.6 123.6L652.2 124.5L651.2 125.3zM650.6 130.9L652.2 131.9L651.2 132.7zM650.6 138.3L652.2 139.2L651.2 140zM650.6 145.6L652.2 146.6L651.2 147.4zM650.6 153L652.2 153.9L651.2 154.7zM650.6 160.3L652.2 161.2L651.2 162.1zM660.4 12.5L661 14.3L659.7 14.3zM660.4 19.9L661 21.6L659.7 21.6zM660.4 27.2L661 29L659.7 29zM660.4 34.6L661 36.3L659.7 36.3zM660.4 41.9L661 43.7L659.7 43.7zM660.4 49.2L661 51L659.7 51zM660.4 56.6L661 58.4L659.7 58.4zM660.3 63.9L661 65.7L659.7 65.7zM660.3 71.3L660.9 73L659.7 73.1zM660.1 78.6L660.8 80.4L659.6 80.4zM659.7 86L660.6 87.7L659.4 87.9zM659.1 93.5L660.3 95L659.1 95.4zM658.7 101L660.1 102.4L658.9 102.9zM658.6 108.5L660 109.7L658.8 110.3zM658.5 115.8L659.9 117.1L658.8 117.7zM658.5 123.2L659.9 124.4L658.8 125zM658.5 130.5L659.9 131.8L658.8 132.4zM658.5 137.9L659.9 139.1L658.8 139.7zM658.5 145.2L659.9 146.4L658.8 147.1zM658.5 152.6L659.9 153.8L658.8 154.4zM658.5 159.9L659.9 161.1L658.8 161.8zM667.1 12.6L668 14.2L666.7 14.4zM667.1 19.9L668 21.5L666.7 21.8zM667.1 27.3L668 28.9L666.7 29.1zM667.1 34.6L668 36.2L666.7 36.5zM667.1 42L668 43.6L666.7 43.8zM667.1 49.3L668 50.9L666.7 51.2zM667.1 56.6L668 58.3L666.7 58.5zM667 64L668 65.6L666.7 65.8zM667 71.3L668 73L666.7 73.2zM666.9 78.7L667.9 80.3L666.7 80.6zM666.7 86.1L667.8 87.6L666.6 88zM666.5 93.5L667.6 95L666.4 95.4zM666.3 101L667.5 102.3L666.4 102.8zM666.2 108.3L667.5 109.7L666.3 110.2zM666.1 115.7L667.5 117L666.3 117.6zM666.1 123L667.4 124.4L666.3 124.9zM666.1 130.4L667.4 131.7L666.3 132.3zM666.1 137.7L667.4 139.1L666.3 139.6zM666.1 145.1L667.4 146.4L666.3 147zM666.1 152.4L667.4 153.8L666.3 154.3zM666.1 159.8L667.4 161.1L666.3 161.6zM673.2 13L674.6 14.2L673.5 14.9zM673.2 20.4L674.6 21.6L673.5 22.2zM673.2 27.7L674.6 28.9L673.5 29.6zM673.2 35.1L674.6 36.3L673.5 36.9zM673.2 42.4L674.6 43.6L673.5 44.3zM673.2 49.8L674.6 51L673.5 51.6zM673.2 57.1L674.6 58.3L673.5 58.9zM673.2 64.4L674.6 65.6L673.5 66.3zM673.2 71.8L674.7 73L673.5 73.6zM673.3 79.1L674.7 80.3L673.6 80.9zM673.5 86.3L674.8 87.7L673.7 88.2zM673.8 93.6L675 95L673.8 95.4zM674 100.8L675.1 102.3L673.9 102.7zM674.1 108.1L675.1 109.7L673.9 110zM674.1 115.5L675.2 117L673.9 117.4zM674.1 122.8L675.2 124.4L673.9 124.7zM674.1 130.2L675.2 131.7L673.9 132zM674.1 137.5L675.2 139.1L673.9 139.4zM674.1 144.9L675.2 146.4L673.9 146.7zM674.1 152.2L675.2 153.7L673.9 154.1zM674.1 159.5L675.2 161.1L673.9 161.4zM679.8 13.6L681.5 14.4L680.6 15.3zM679.8 21L681.5 21.8L680.6 22.7zM679.8 28.3L681.5 29.1L680.6 30zM679.8 35.7L681.5 36.5L680.6 37.4zM679.8 43L681.5 43.8L680.6 44.7zM679.8 50.3L681.5 51.1L680.6 52zM679.8 57.7L681.5 58.5L680.6 59.4zM679.8 65L681.5 65.8L680.6 66.7zM679.8 72.3L681.5 73.2L680.6 74zM680 79.5L681.6 80.5L680.6 81.3zM680.4 86.6L681.9 87.7L680.8 88.4zM681 93.6L682.3 95L681.1 95.5zM681.5 100.8L682.5 102.3L681.3 102.6zM681.7 108.1L682.7 109.7L681.4 109.9zM681.8 115.4L682.7 117L681.4 117.3zM681.8 122.8L682.7 124.4L681.5 124.6zM681.8 130.1L682.7 131.7L681.5 131.9zM681.8 137.4L682.7 139.1L681.5 139.3zM681.8 144.8L682.7 146.4L681.5 146.6zM681.8 152.1L682.7 153.8L681.5 154zM681.8 159.5L682.7 161.1L681.5 161.3zM686.9 13.9L688.7 14.5L687.8 15.5zM686.9 21.2L688.7 21.9L687.8 22.8zM686.9 28.6L688.7 29.2L687.8 30.2zM686.9 35.9L688.7 36.6L687.8 37.5zM686.9 43.2L688.7 43.9L687.8 44.9zM686.9 50.6L688.7 51.2L687.8 52.2zM686.9 57.9L688.7 58.6L687.8 59.6zM686.9 65.3L688.7 65.9L687.9 66.9zM687 72.5L688.7 73.2L687.9 74.2zM687.1 79.7L688.8 80.5L687.9 81.4zM687.7 86.6L689.2 87.7L688.1 88.4zM688.8 93.5L689.9 95L688.6 95.3zM689.5 100.7L690.3 102.4L689 102.5zM689.7 108L690.4 109.8L689.1 109.8zM689.8 115.4L690.4 117.1L689.1 117.1zM689.8 122.7L690.4 124.5L689.2 124.5zM689.8 130L690.4 131.8L689.2 131.8zM689.8 137.4L690.4 139.1L689.2 139.1zM689.8 144.7L690.4 146.5L689.2 146.5zM689.8 152.1L690.4 153.8L689.2 153.8zM689.8 159.4L690.4 161.2L689.2 161.2z" stroke="#111" stroke-width="0.3" fill="#111" stroke-linejoin="round"/>
</g>
<text x="537.1" y="22.3" text-anchor="end" class="ab">0.2</text>
<text x="537.1" y="59" text-anchor="end" class="ab">0.1</text>
<text x="537.1" y="95.8" text-anchor="end" class="ab">0</text>
<text x="537.1" y="132.5" text-anchor="end" class="ab">-0.1</text>
<text x="537.1" y="169.2" text-anchor="end" class="ab">-0.2</text>
<text x="542.6" y="183.9" text-anchor="middle" class="ab">-0.2</text>
<text x="616.2" y="183.9" text-anchor="middle" class="ab">0</text>
<text x="689.8" y="183.9" text-anchor="middle" class="ab">0.2</text>
<text x="616.2" y="205.9" text-anchor="middle" class="al">Kx</text>
<text transform="translate(504.4 89.3) rotate(-90)" text-anchor="middle" class="al">Ky</text>
<rect x="706" y="16.3" width="10.4" height="146.9" fill="url(#cbg)" stroke="#6a5a5a" stroke-opacity="0.45" stroke-width="0.6"/>
<path d="M706 16.5h10.4M706 163h10.4" stroke="#2a1a1a" stroke-opacity="0.6" stroke-width="0.8"/>
<text x="721.2" y="22" class="cb">0.2</text>
<path d="M716.4 53h-1.5" stroke="#333" stroke-width="0.6"/>
<text x="721.2" y="58.7" class="cb">0.1</text>
<path d="M716.4 89.8h-1.5" stroke="#333" stroke-width="0.6"/>
<text x="721.2" y="95.5" class="cb">0</text>
<path d="M716.4 126.5h-1.5" stroke="#333" stroke-width="0.6"/>
<text x="721.2" y="132.2" class="cb">-0.1</text>
<text x="721.2" y="168.9" class="cb">-0.2</text>
</g>
<g>
<clipPath id="hc3"><rect x="278.6" y="216.3" width="147.2" height="146.9"/></clipPath>
<g clip-path="url(#hc3)">
<rect x="277.6" y="215.3" width="149.2" height="148.9" fill="#189dff"/>
<path d="M270.6 332.8L278.6 332.8C279 333.8 280.1 336.2 281 338.5C281.9 340.8 282.5 344 283.7 346.5C284.9 349 286.4 351.5 288 353.5C289.6 355.5 291.1 357 293 358.6C294.9 360.2 298.4 362.4 299.5 363.1L299.5 371.1L433.8 371.2L433.8 208.3L270.6 208.3Z" fill="#46b1ff"/>
<path d="M270.6 321.2L278.6 321.2C279.2 322 280.8 323.7 282 326C283.2 328.3 284.4 332 286 335C287.6 338 289.5 341.4 291.5 344C293.5 346.6 295.4 348.8 298 350.5C300.6 352.2 303.8 353.3 307 354.5C310.2 355.7 313.8 356.4 317 357.5C320.2 358.6 323.7 360.1 326 361C328.3 361.9 330.2 362.8 331 363.1L331 371.1L433.8 371.2L433.8 208.3L270.6 208.3Z" fill="#74c4ff"/>
<path d="M270.6 312.2L278.6 312.2C279.4 312.5 281.7 312.5 283.3 313.9C284.9 315.3 286.7 318.1 288.2 320.4C289.7 322.7 290.8 325.4 292.3 327.7C293.8 330 295.3 332.2 297.2 334.2C299.1 336.2 301.2 338.4 303.7 339.9C306.1 341.4 308.9 342.4 311.9 343.2C314.9 344 318.2 344.4 321.7 344.8C325.2 345.2 330.1 345.5 333.1 345.7C336.2 345.9 337.2 345.7 340 346.1C342.8 346.5 347.5 347.2 350 348.1C352.5 349 353.9 349.7 355.1 351.2C356.3 352.7 356.7 355.3 357.1 357.3C357.5 359.3 357.5 362.1 357.6 363.1L357.6 371.1L421.3 371.1L421.3 363.1C421 361.5 419.7 356.1 419.3 353.2C418.9 350.3 418.8 348.5 418.8 346C418.8 343.5 419 340.5 419.5 338C420 335.5 420.9 332.9 422 331C423.1 329.1 425.2 327.5 425.8 326.8L433.8 326.8L433.8 208.3L270.6 208.3Z" fill="#a3d8ff"/>
<path d="M270.6 304.9L278.6 304.9C279.5 304.9 282.3 304.2 284.2 304.9C286.1 305.6 288.1 307.1 289.9 309C291.7 310.9 293.2 313.7 294.8 316.3C296.4 318.9 297.9 322.1 299.6 324.5C301.4 326.9 303.1 329.2 305.3 331C307.5 332.8 310 334.2 312.7 335.1C315.4 336.1 317.1 336.3 321.7 336.7C326.2 337.1 334.6 337.2 340 337.5C345.4 337.8 349.7 338 354 338.5C358.3 339 362.6 340.4 366 340.3C369.4 340.2 371.5 338.9 374.2 337.8C376.9 336.7 379.9 335.3 382.3 333.7C384.7 332.1 386.9 330.3 388.8 328C390.7 325.7 392.3 322.6 393.7 319.9C395.1 317.2 395.9 314.4 397 311.7C398.1 309 399 305.8 400.2 303.6C401.4 301.4 402.8 299.8 404.3 298.7C405.8 297.6 407.4 297 409.2 297C411 297 413 297.9 414.9 298.7C416.8 299.5 418.8 300.9 420.6 301.9C422.4 302.8 424.9 304 425.8 304.4L433.8 304.4L433.8 208.3L270.6 208.3Z" fill="#d1ebff"/>
<path d="M270.6 293.1L278.6 293.1C280 293.3 284.6 293.4 287.2 294.1C289.8 294.8 292.5 296.4 294.4 297.5C296.3 298.6 297.4 299.1 298.8 300.5C300.2 301.9 301.4 303.6 302.9 305.7C304.4 307.8 306.2 310.6 307.8 313C309.4 315.4 310.9 318.3 312.7 320.4C314.5 322.4 316.1 323.9 318.4 325.3C320.7 326.7 322.9 327.6 326.5 328.5C330.1 329.4 336.1 329.8 340 330.5C343.9 331.2 346.3 332.3 350 332.5C353.7 332.7 358.5 332.6 362.2 331.8C365.9 331 369.3 329.6 372.4 327.7C375.5 325.8 378.2 323.5 380.6 320.6C383 317.7 385.2 314.1 386.7 310.4C388.2 306.7 389.3 301.6 389.7 298.2C390.1 294.8 389.6 293 389.2 290C388.8 287 387.9 283.1 387 280C386.1 276.9 384.6 273.6 384 271.5C383.4 269.4 383.2 268.5 383.5 267.5C383.8 266.5 384.8 265.6 386 265.3C387.2 265 388.7 264.9 390.8 265.5C392.9 266.1 396.2 267.5 398.9 269.1C401.6 270.7 404.4 272.8 407.1 275.2C409.8 277.6 412.8 280.9 415.2 283.3C417.6 285.7 419.5 288 421.3 289.5C423.1 291 425.1 292 425.8 292.5L433.8 292.5L433.8 208.3L270.6 208.3Z" fill="#fffcfb"/>
<path d="M270.6 277.2L278.6 277.2C279.9 277.2 283.6 277.4 286.2 277.2C288.8 277 292 275.8 294.4 276.2C296.8 276.6 298.8 277.8 300.5 279.3C302.2 280.8 303.4 283.4 304.6 285.4C305.9 287.3 306.6 288.9 308 291C309.4 293.1 310.9 295.3 312.7 298.2C314.5 301.1 316.4 305.4 318.8 308.4C321.2 311.4 323.9 313.8 327 316C330.1 318.2 333.8 320.2 337.2 321.5C340.6 322.8 344.6 323.5 347.4 324C350.2 324.5 351.9 324.6 354 324.5C356.1 324.4 357.6 324.7 360.2 323.7C362.8 322.7 366.7 320.8 369.4 318.6C372.1 316.4 374.7 313 376.5 310.4C378.3 307.8 379.4 305.4 380 303C380.6 300.6 380.6 298.2 380.3 296C380 293.8 378.9 292.2 378 290C377.1 287.8 376.3 285.3 375 283C373.7 280.7 371.9 278.4 370 276C368.1 273.6 365.7 271.2 363.8 268.8C361.9 266.4 360.3 263.9 358.7 261.7C357.1 259.5 355.7 257.5 354 255.6C352.3 253.7 350.8 252 348.5 250.5C346.2 249 342.9 247.8 340.4 246.4C337.8 245 335 243.8 333.2 242.3C331.4 240.9 330.3 238.9 329.7 237.7C329.1 236.5 329.2 236.1 329.5 235.2C329.8 234.3 330.1 232.9 331.2 232.1C332.3 231.3 333.9 230.8 336.3 230.6C338.7 230.3 342.3 230.4 345.5 230.6C348.7 230.8 352.3 231.1 355.7 231.6C359.1 232.1 362.5 232.8 365.9 233.7C369.3 234.5 372.6 235.6 376 236.7C379.4 237.8 383.3 239.1 386.2 240.3C389.1 241.5 391.1 242.7 393.4 243.9C395.7 245.1 397.9 245.9 400 247.4C402.1 248.9 404.1 250.6 406.1 252.8C408.1 255.1 410.2 258 412.2 260.9C414.2 263.8 416.4 267 418.3 270.1C420.2 273.2 422.1 276.8 423.4 279.3C424.6 281.9 425.4 284.4 425.8 285.4L433.8 285.4L433.8 208.3L270.6 208.3Z" fill="#ffe2e2"/>
<path d="M291.3 208.3L291.3 216.3C291.8 217.6 293.7 221.2 294.4 224.2C295.1 227.2 295.6 230.8 295.4 234.4C295.2 238 294.4 242.2 293.4 245.6C292.4 249 290.8 252.4 289.3 254.8C287.8 257.2 286 258.5 284.2 259.9C282.4 261.3 279.5 262.5 278.6 263L270.6 263L270.6 208.3Z" fill="#ffc5c5"/>
<path d="M320 282.1C321.1 278.9 322.2 275.6 324.1 272.9C326 270.2 328.5 267.5 331.2 265.8C333.9 264.1 337.2 263.1 340.4 262.7C343.6 262.3 347.6 262.5 350.6 263.2C353.7 263.9 356.3 265.4 358.7 266.8C361.1 268.2 362.9 269.9 364.8 271.9C366.7 273.9 368.5 276.4 369.9 279C371.3 281.6 372.3 284.3 373 287.2C373.7 290.1 374.4 293.3 374.3 296.3C374.2 299.3 373.6 302.5 372.5 305C371.4 307.5 369.9 309.6 368 311.5C366.1 313.4 363.7 315.2 361 316.5C358.3 317.8 355 318.8 352 319C349 319.2 346 318.8 343 318C340 317.2 336.8 316 334 314.5C331.2 313 328.2 311.2 326 309C323.8 306.8 321.9 303.8 320.5 301C319.1 298.2 317.9 295.1 317.8 292C317.7 288.9 318.9 285.3 320 282.1Z" fill="#ffc5c5"/>
<path d="M352.8 208.3L352.8 216.3C353.8 216.9 356.9 218.4 358.9 219.6C360.9 220.8 362.8 222.3 365 223.5C367.2 224.7 369.5 225.6 372 226.5C374.5 227.4 377.6 228.4 380 229.1C382.4 229.8 383.8 229.6 386.4 230.4C389 231.2 392.9 232.6 395.9 234.2C398.9 235.8 401.8 237.9 404.2 239.9C406.6 241.9 408.7 244.1 410.6 246.3C412.5 248.5 414.2 251 415.7 253.3C417.2 255.6 418.3 257.9 419.5 260C420.7 262.1 421.9 264.2 423 266C424.1 267.8 425.3 270.2 425.8 271L433.8 271L433.8 208.3Z" fill="#ffc5c5"/>
<path d="M323.1 291.2C323 287.7 323.6 283.1 325.1 280C326.6 276.9 329.3 274.6 332.2 272.9C335.1 271.2 339 270.1 342.4 269.8C345.8 269.5 349.5 269.9 352.6 270.9C355.7 271.9 358.6 274 360.8 276C363 278 364.7 280.4 365.9 283.1C367.1 285.8 367.6 289.4 367.9 292.3C368.1 295.2 367.8 298.1 367.4 300.4C367 302.7 366.4 304.4 365.5 306C364.6 307.6 363.8 308.7 362 310C360.2 311.3 357.5 313.2 355 314C352.5 314.8 349.7 315.2 347 315C344.3 314.8 341.7 314.2 339 313C336.3 311.8 333.2 310 331 308C328.8 306 327.3 303.8 326 301C324.7 298.2 323.2 294.7 323.1 291.2Z" fill="#ffa7a9"/>
<path d="M377.5 208.3L377.5 216.3C378.4 216.9 381.2 218.8 383 219.8C384.8 220.8 385.8 220.9 388.3 222.1C390.8 223.3 394.9 225.4 397.8 227.2C400.7 229 403.2 230.8 405.5 232.9C407.8 235 409.8 237.5 411.8 239.9C413.8 242.3 415.9 245.2 417.6 247.6C419.3 250 420.6 252.5 422 254.6C423.4 256.7 425.2 259.4 425.8 260.3L433.8 260.3L433.8 208.3Z" fill="#ffa7a9"/>
<path d="M327.6 291.2C327.8 288.6 328.6 284.5 330.2 282.1C331.8 279.7 334.6 278 337.3 277C340 276 343.6 275.8 346.5 276C349.4 276.2 352.2 276.6 354.6 278C357 279.4 359.4 281.7 360.8 284.1C362.2 286.5 362.6 289.6 362.8 292.3C363 295 362.5 298.3 361.8 300.4C361.1 302.5 360 303.6 358.7 305C357.4 306.4 355.9 308.1 354 309C352.1 309.9 349.3 310.7 347 310.7C344.7 310.7 342.2 310 340 309C337.8 308 335.3 306.3 333.5 304.5C331.7 302.7 330 300.2 329 298C328 295.8 327.4 293.8 327.6 291.2Z" fill="#ff8a8c"/>
<path d="M397.8 208.3L397.8 216.3C399.1 217.1 403.2 219.1 405.5 220.8C407.8 222.5 409.9 224.6 411.8 226.6C413.7 228.6 415.3 230.7 416.9 232.9C418.5 235.1 419.9 237.4 421.4 239.9C422.9 242.4 425.1 246.8 425.8 248.2L433.8 248.2L433.8 208.3Z" fill="#ff8a8c"/>
<path d="M333.2 291.2C333.3 289 333.9 286.6 335.3 285.1C336.7 283.6 339 282.4 341.4 282.1C343.8 281.8 347.2 282.2 349.6 283.1C352 284 354.3 285.5 355.7 287.2C357.1 288.9 358 291.3 358.2 293.3C358.4 295.3 357.8 297.7 356.7 299.4C355.6 301.1 353.5 302.4 351.6 303.5C349.7 304.6 347.6 305.9 345.5 306C343.4 306.1 340.8 305.2 339 304C337.2 302.8 335.5 300.6 334.5 298.5C333.5 296.4 333.1 293.4 333.2 291.2Z" fill="#ff6d6f"/>
<path d="M278.7 215.8L278 218.5M278.7 223.2L278.1 225.9M278.7 230.5L278.2 233.2M278.7 237.9L278.3 240.6M278.6 245.2L278.5 248M278.6 252.6L278.7 255.3M278.5 259.9L278.9 262.6M278.5 267.1L279.3 271M278.4 274.5L279.6 278.3M278.3 281.7L280.4 286.6M278.2 289.1L280.8 293.7M278.2 296.5L281.2 300.8M278.1 303.9L281.6 307.8M278.1 311.4L281.1 314.1M278.2 318.8L280.4 320.5M278.3 326.3L279.8 327.2M278.5 333.8L279 334M278.5 341.1L279.1 341.3M278.5 348.5L279.1 348.7M278.5 355.8L279.1 356M278.5 363.2L279.1 363.3M286.1 215.9L285.2 218.5M286.1 223.2L285.3 225.8M286.1 230.5L285.4 233.2M286 237.9L285.6 240.6M286 245.2L285.7 247.9M286 252.6L285.9 255.3M285.9 259.7L286.2 263.8M285.9 267.1L286.5 271.1M285.8 274.4L286.9 278.3M285.7 281.7L287.7 286.6M285.6 289.1L288.1 293.7M285.5 296.5L288.6 300.8M285.4 303.9L289 307.8M285.5 311.4L288.5 314M285.6 318.9L287.8 320.4M285.5 326.2L288 327.6M285.5 333.6L288.1 334.7M285.7 341.1L287.3 341.6M285.7 348.4L287.3 348.9M285.9 355.8L286.4 355.9M285.9 363.2L286.4 363.3M293.6 215.7L292 219.4M293.5 223.2L292.5 225.8M293.5 230.5L292.6 233.2M293.4 237.9L292.8 240.6M293.4 245.2L292.9 247.9M293.4 252.4L293 256.4M293.3 259.7L293.3 263.8M293.3 267.1L293.7 271.1M293.2 274.4L294.1 278.4M293.1 281.7L294.9 286.7M293 289.1L295.5 293.7M292.9 296.5L296 300.8M292.8 303.9L296.5 307.7M292.7 311.3L296.9 314.6M292.8 318.8L296.2 320.9M292.7 326.2L296.4 327.9M292.9 333.7L295.5 334.6M292.9 341L295.5 341.8M293 348.5L294.7 348.8M293 355.8L294.7 356M293.2 363.2L293.8 363.2M301 215.7L299.1 219.3M300.9 223.1L299.3 226.7M300.9 230.4L299.4 234.2M300.9 237.7L299.6 241.6M300.8 245.1L299.9 249M300.8 252.4L300.1 256.4M300.7 259.7L300.5 263.8M300.7 267.1L300.8 271.1M300.6 274.4L301.3 278.4M300.4 281.7L302.1 286.7M300.3 289.1L302.8 293.8M300.2 296.5L303.4 300.7M300.1 303.9L303.9 307.6M300.1 311.3L304.4 314.4M300 318.8L304.7 321.3M300.1 326.2L303.8 327.7M300.1 333.6L303.9 334.7M300.2 341.1L302.9 341.6M300.2 348.5L302.9 348.8M300.4 355.8L302.1 355.9M300.4 363.2L302.1 363.2M308.4 215.8L306.3 219.2M308.3 223.1L306.4 226.6M308.3 230.4L306.5 234M308.3 237.8L306.7 241.5M308.2 245.1L306.9 248.9M308.2 252.4L307.2 256.3M308.1 259.7L307.5 263.7M308.1 267.1L307.9 271.1M308 274.4L308.4 278.4M307.9 281.8L309 285.7M307.8 289.2L309.5 292.8M307.6 296.5L310.8 300.7M307.5 303.9L311.4 307.5M307.4 311.4L311.9 314.2M307.3 318.8L312.2 320.9M307.3 326.3L312.4 327.8M307.4 333.7L311.4 334.4M307.4 341.1L311.4 341.5M307.6 348.5L310.3 348.6M307.7 355.9L309.5 355.8M307.7 363.2L309.5 363.1M315.8 215.8L313.4 219.1M315.8 223.1L313.5 226.5M315.7 230.4L313.6 233.9M315.7 237.8L313.8 241.3M315.7 245.1L314 248.8M315.6 252.4L314.2 256.2M315.6 259.8L314.5 263.7M315.5 267.1L314.9 271.1M315.4 274.4L315.5 278.5M315.3 281.8L316.1 285.7M315.1 289.2L316.8 292.8M315 296.6L317.5 299.8M314.8 304L319 307.3M314.7 311.4L319.4 313.8M314.7 318.9L319.7 320.5M314.7 326.3L319.9 327.3M314.6 333.8L319.9 334.2M314.8 341.2L318.8 341.2M314.9 348.5L317.7 348.4M314.9 355.9L317.7 355.6M315.1 363.2L316.8 363M323.2 215.8L320.6 218.9M323.2 223.2L320.6 226.3M323.1 230.5L320.7 233.7M323.1 237.8L320.8 241.1M323.1 245.1L321 248.6M323.1 252.5L321.2 256M323 259.8L321.5 263.5M322.9 267.1L321.8 271M322.8 274.4L322.4 278.4M322.7 281.9L323 284.7M322.6 289.3L323.6 291.9M322.5 296.7L324.2 298.8M322.2 304.1L325.6 306.3M322.2 311.6L326 312.9M322 319L327.2 319.9M322 326.4L327.3 326.7M322 333.9L327.3 333.6M322.1 341.2L326.1 340.8M322.3 348.6L325 348.1M322.3 356L325 355.4M322.5 363.3L324.1 362.8M330.6 215.9L327.7 218.7M330.6 223.2L327.7 226.1M330.6 230.5L327.8 233.5M330.5 237.9L327.9 240.9M330.5 245.2L328 248.3M330.5 252.5L328.1 255.8M330.5 259.8L328.3 263.3M330.3 267.3L329.1 269.8M330.2 274.8L329.7 276.4M330.1 282.3L330.1 282.9M330.1 289.6L330.2 290.2M330.1 297L330.4 297.5M329.9 304.3L331.4 305.1M329.7 311.7L332.4 312.1M329.4 319.1L334.7 319.1M329.4 326.6L334.6 325.9M329.4 334L334.6 332.9M329.5 341.3L333.4 340.3M329.7 348.6L332.3 347.8M329.7 356L332.3 355.1M329.8 363.3L331.5 362.7M338 215.9L334.8 218.4M338 223.2L334.9 225.8M338.1 230.5L334 233.9M338 237.8L334.1 241.4M337.9 245.2L335 248M337.9 252.6L335.1 255.4M337.9 259.9L335.2 262.9M337.8 267.3L336 269.5M337.6 274.8L336.7 276.2M337.5 282.3L337.2 282.8M337.4 289.8h.1M337.4 297.1h.1M337.4 304.4L337.9 304.6M337.2 311.8L338.9 311.7M336.9 319.3L340.8 318.3M336.8 326.7L341.8 325M336.8 334.1L341.7 332.2M336.9 341.4L340.6 339.8M337 348.7L339.6 347.6M337.1 356.1L339.5 354.9M337.1 363.4L339.5 362.2M345.4 215.9L342 218.2M345.4 223.3L342 225.5M345.5 230.6L341.1 233.5M345.5 237.9L341.1 240.9M345.5 245.3L341.1 248.2M345.4 252.7L342 255M345.4 260L342.1 262.3M345.2 267.4L343 269M345.1 274.9L343.6 275.8M344.9 282.4L344.4 282.6M344.8 289.8h.1M344.8 297.1h.1M344.8 304.4h.1M344.6 311.9L346.1 311.2M344.3 319.5L347.8 317.4M344.2 326.9L348.7 324.1M344.2 334.2L348.7 331.5M344.3 341.5L347.7 339.4M344.4 348.8L346.8 347.3M344.4 356.1L346.8 354.6M344.4 363.5L346.8 362M352.8 216L349.2 217.9M352.8 223.3L349.2 225.2M352.8 230.7L349.2 232.6M352.9 238L348.1 240.4M352.9 245.4L348.1 247.6M352.9 252.7L348.1 254.9M352.8 260.1L349.1 261.7M352.6 267.6L350.1 268.5M352.5 275L350.8 275.4M352.3 282.4L351.7 282.3M352.2 289.8h.1M352.2 297.1h.1M352.1 304.5L352.5 304.1M352 312L353.1 310.7M351.8 319.6L354.5 316.6M351.7 327L355.5 323.3M351.6 334.3L355.6 330.8M351.7 341.6L354.8 339M351.7 348.9L354.8 346.3M351.8 356.2L354 354.4M351.8 363.5L354 361.8M360 216.1L357.5 217.2M360.1 223.4L356.4 224.9M360.2 230.8L356.4 232.2M360.3 238.1L355.3 239.8M360.3 245.5L355.2 247M360.3 252.8L355.2 254.2M360.3 260.2L355.1 261.2M360 267.7L357.3 267.9M360 275.1L357.3 275M359.8 282.5L358.2 281.9M359.6 289.8L359.2 289.4M359.6 297.2L359.5 296.6M359.5 304.7L359.8 303M359.4 312.2L360.3 309.6M359.3 319.7L361.2 316.1M359.1 327.1L362.1 322.7M359.1 334.4L362.4 330.2M359.1 341.6L361.8 338.6M359.1 349L361.9 346M359.1 356.3L361.9 353.4M359.1 363.6L362 360.8M367.4 216.2L364.8 217M367.4 223.5L364.7 224.3M367.5 230.8L363.6 231.9M367.7 238.2L362.5 239.3M367.7 245.6L362.4 246.4M367.7 252.9L362.4 253.5M367.7 260.4L362.4 260.5M367.7 267.8L362.4 267.3M367.4 275.2L364.7 274.5M367.3 282.6L364.9 281.3M367.1 290L365.9 288.7M367 297.4L366.3 295.8M367 304.9L366.6 302.2M366.9 312.3L367.2 309.5M366.7 319.7L367.9 315.9M366.6 327.2L368.8 322.3M366.5 334.5L369.1 329.9M366.6 341.7L368.8 338.3M366.5 349L368.9 345.8M366.5 356.4L369 353.2M366.5 363.7L369.1 360.6M374.7 216.2L372.1 216.8M374.7 223.6L372 224.1M374.9 230.9L370.9 231.5M375 238.3L369.8 238.8M375 245.6L369.7 245.9M375 253L369.7 252.9M375 260.5L369.8 259.8M375 267.9L369.9 266.6M375 275.4L370.1 273.3M374.8 282.8L371.5 280.5M374.7 290.2L372 287.2M374.6 297.7L372.7 294.1M374.4 305.1L373.5 301.1M374.3 312.4L374.2 308.4M374.2 319.9L374.9 314.6M374.1 327.2L375.5 322.1M374 334.5L375.9 329.6M374 341.7L375.8 338.1M374 349.1L376 345.6M373.9 356.4L376.1 353M373.9 363.7L376.2 360.4M381.9 216.3L380.2 216.5M382.1 223.6L379.4 223.9M382.3 231L378.3 231.2M382.3 238.3L378.2 238.4M382.4 245.7L377.1 245.4M382.4 253.1L377.1 252.4M382.4 260.5L377.2 259.3M382.4 268L377.4 266.1M382.3 275.4L377.7 272.9M382.2 282.9L378.1 279.6M382.1 290.3L378.7 286.3M382 297.8L379.5 293.1M381.9 305.2L380.3 300.1M381.7 312.5L381.1 307.3M381.6 319.9L381.8 314.6M381.5 327.2L382.4 322M381.4 334.6L382.8 329.4M381.4 341.8L382.8 338M381.4 349.1L383 345.4M381.4 356.4L383.2 352.8M381.3 363.7L383.3 360.3M389.3 216.3L387.6 216.4M389.5 223.6L386.7 223.7M389.5 231L386.7 230.9M389.6 238.4L385.6 238.1M389.8 245.8L384.5 245M389.7 253.2L384.6 252M389.7 260.6L384.7 258.9M389.7 268L384.9 265.8M389.6 275.5L385.2 272.6M389.6 282.9L385.6 279.4M389.5 290.3L386.2 286.2M389.4 297.8L386.8 293.1M389.3 305.2L387.5 300.2M389.1 312.5L388.2 307.3M389 319.9L388.8 314.6M388.9 327.2L389.3 321.9M388.9 334.4L389.6 330.5M388.8 341.8L389.9 337.9M388.8 349.1L390.1 345.3M388.8 356.4L390.3 352.7M388.7 363.8L390.4 360.1M396.7 216.3L394.9 216.3M396.7 223.7L394.9 223.6M396.8 231L394.1 230.8M397 238.4L393 237.8M397.1 245.9L391.9 244.7M397.1 253.3L392 251.6M397.1 260.7L392.2 258.6M397 268.1L392.4 265.5M397 275.5L392.7 272.4M396.9 282.9L393.1 279.3M396.8 290.3L393.6 286.2M396.7 297.8L394.1 293.2M396.6 305.1L394.7 300.2M396.5 312.5L395.3 307.4M396.4 319.8L396 315.8M396.4 327.1L396.3 323.1M396.3 334.5L396.7 330.4M396.2 341.8L397 337.8M396.2 349.1L397.2 345.2M396.2 356.5L397.4 352.6M396.1 363.8L397.6 360M403.8 216.3L403.2 216.3M404 223.7L402.3 223.5M404 231L402.3 230.8M404.2 238.4L401.5 237.8M404.3 245.9L400.5 244.7M404.4 253.3L399.5 251.4M404.4 260.7L399.7 258.3M404.4 268.1L399.9 265.3M404.3 275.5L400.2 272.2M404.3 282.9L400.5 279.2M404.2 290.4L401 286.1M404.1 297.8L401.4 293.2M404 305L402.4 301.3M403.9 312.4L402.8 308.5M403.8 319.8L403.2 315.8M403.8 327.1L403.5 323.1M403.7 334.5L403.8 330.4M403.7 341.8L404.1 337.8M403.6 349.1L404.3 345.2M403.6 356.5L404.5 352.6M403.5 363.8L404.7 360M411.2 216.3L410.6 216.2M411.2 223.7L410.6 223.6M411.4 231.1L409.7 230.7M411.4 238.4L409.7 237.9M411.5 245.8L408.9 244.9M411.7 253.3L408 251.6M411.7 260.7L407.1 258.1M411.7 268.1L407.4 265.1M411.7 275.6L407.6 272.1M411.6 283L408 279.1M411.5 290.4L408.4 286.1M411.5 297.8L408.8 293.2M411.3 305L409.7 301.3M411.3 312.4L410 308.6M411.2 319.7L410.4 315.8M411.2 327.1L410.7 323.1M411.1 334.5L411 330.4M411 341.8L411.2 337.8M411 349.1L411.5 345.1M411 356.5L411.7 352.5M410.9 363.8L411.9 359.9M418.5 216.3L418 216.2M418.5 223.7L418 223.5M418.5 231L418 230.9M418.7 238.4L417.1 237.9M418.7 245.8L417.1 245.1M418.9 253.2L416.4 252M419 260.7L415.6 258.6M418.9 268.1L415.7 265.7M419 275.6L415.1 272M419 283L415.4 279M418.9 290.4L415.7 286.1M418.8 297.7L416.1 293.2M418.7 305L417 301.4M418.6 312.4L417.3 308.6M418.6 319.7L417.6 315.8M418.5 327.1L417.9 323.1M418.5 334.5L418.2 330.4M418.4 341.8L418.4 337.8M418.4 349.1L418.7 345.1M418.4 356.5L418.9 352.5M418.3 363.8L419.1 359.9M425.9 216.3L425.3 216.2M425.9 223.7L425.3 223.5M425.9 231L425.3 230.8M425.9 238.4L425.3 238.2M425.9 245.7L425.4 245.5M426.1 253.2L424.6 252.3M426.2 260.6L423.9 259.1M426.2 268L424 266.3M426.3 275.5L423.3 272.7M426.2 282.9L423.6 279.9M426.2 290.4L423.1 286.1M426.2 297.7L423.5 293.2M426.1 305L424.3 301.4M426 312.4L424.6 308.6M426 319.7L424.9 315.9M425.9 327.1L425.2 323.1M425.9 334.3L425.5 331.6M425.8 341.6L425.7 338.9M425.8 349L425.9 346.2M425.8 356.3L426 353.6M425.7 363.7L426.1 360.9" stroke="#111" stroke-width="0.78" fill="none"/>
<path d="M277.4 220.4L277.3 218.3L278.7 218.7zM277.6 227.8L277.4 225.7L278.8 226zM277.8 235.2L277.5 233.1L278.9 233.4zM278.1 242.6L277.6 240.5L279 240.7zM278.4 250L277.8 247.9L279.2 248zM278.7 257.3L277.9 255.3L279.4 255.3zM279.1 264.6L278.1 262.7L279.6 262.6zM279.7 273.3L278.5 271.2L280.1 270.9zM280.3 280.5L278.8 278.5L280.4 278.1zM281.3 288.7L279.6 286.9L281.1 286.3zM281.9 295.7L280.1 294.1L281.5 293.3zM282.6 302.7L280.6 301.3L281.9 300.3zM283.2 309.5L281 308.4L282.2 307.3zM282.8 315.6L280.6 314.7L281.7 313.5zM282 321.7L280 321.1L280.9 319.9zM280.9 327.9L279.6 327.6L280.1 326.8zM279.4 334.2L279 334.2L279.1 333.9zM279.5 341.5L279 341.5L279.1 341.2zM279.5 348.8L279 348.8L279.1 348.5zM279.5 356.1L279 356.1L279.1 355.8zM279.5 363.4L279.1 363.4L279.1 363.1zM284.5 220.3L284.5 218.2L285.9 218.7zM284.7 227.7L284.6 225.6L286 226zM285 235.1L284.7 233L286.1 233.4zM285.2 242.5L284.9 240.5L286.3 240.7zM285.5 249.9L285 247.9L286.4 248zM285.9 257.3L285.2 255.3L286.6 255.3zM286.3 266.1L285.3 263.8L287 263.7zM286.9 273.3L285.7 271.2L287.3 270.9zM287.5 280.6L286.1 278.6L287.7 278.1zM288.5 288.7L286.9 286.9L288.4 286.3zM289.3 295.7L287.4 294.1L288.9 293.3zM290 302.6L287.9 301.3L289.3 300.3zM290.6 309.5L288.4 308.3L289.7 307.2zM290.3 315.5L288 314.6L289.1 313.4zM289.5 321.5L287.4 321L288.2 319.8zM289.7 328.5L287.6 328.2L288.3 326.9zM289.9 335.5L287.8 335.4L288.3 334.1zM288.5 342L287.2 342L287.5 341.2zM288.5 349.2L287.2 349.3L287.5 348.4zM286.9 356L286.4 356.1L286.5 355.8zM286.9 363.3L286.4 363.4L286.5 363.1zM291.1 221.5L291.2 219.1L292.8 219.7zM291.8 227.7L291.9 225.5L293.2 226zM292.1 235.1L292 233L293.3 233.4zM292.3 242.5L292.1 240.4L293.5 240.7zM292.6 249.9L292.2 247.8L293.6 248zM292.8 258.7L292.2 256.3L293.8 256.5zM293.3 266.1L292.5 263.8L294.2 263.8zM293.9 273.4L292.9 271.2L294.5 271zM294.6 280.6L293.3 278.6L294.9 278.2zM295.7 288.8L294.1 286.9L295.7 286.4zM296.6 295.8L294.7 294.1L296.2 293.4zM297.4 302.6L295.3 301.2L296.7 300.3zM298.1 309.4L295.9 308.3L297.1 307.1zM298.7 316L296.4 315.3L297.4 314zM298.2 322.1L295.8 321.6L296.6 320.2zM298.5 328.9L296 328.7L296.7 327.2zM297.3 335.3L295.2 335.3L295.7 333.9zM297.4 342.3L295.3 342.5L295.7 341.1zM295.9 349L294.6 349.2L294.8 348.3zM296 356.2L294.7 356.5L294.8 355.6zM294.2 363.3L293.8 363.4L293.8 363.1zM298.1 221.4L298.4 219L299.9 219.7zM298.3 228.8L298.5 226.4L300 227.1zM298.6 236.3L298.7 233.8L300.2 234.5zM298.9 243.8L298.8 241.3L300.4 241.8zM299.3 251.2L299.1 248.8L300.7 249.2zM299.8 258.6L299.3 256.2L300.9 256.5zM300.3 266.1L299.6 263.7L301.3 263.8zM300.9 273.4L300 271.1L301.7 271.1zM301.7 280.7L300.5 278.5L302.1 278.3zM302.8 288.9L301.3 287L302.9 286.4zM303.8 295.8L302 294.2L303.5 293.4zM304.8 302.6L302.7 301.2L304.1 300.2zM305.6 309.2L303.4 308.2L304.5 307zM306.2 315.8L303.9 315.1L304.9 313.8zM306.7 322.3L304.3 322L305.1 320.5zM306 328.6L303.5 328.5L304.1 326.9zM306.2 335.4L303.7 335.5L304.2 333.9zM304.9 342L302.8 342.3L303.1 340.9zM304.9 349L302.9 349.5L303 348.1zM303.3 356L302.1 356.4L302.1 355.5zM303.4 363.2L302.1 363.7L302.1 362.8zM305.1 221.2L305.6 218.8L307 219.6zM305.3 228.6L305.7 226.2L307.1 227zM305.5 236.1L305.8 233.7L307.3 234.4zM305.8 243.6L306 241.1L307.5 241.8zM306.2 251.1L306.2 248.6L307.7 249.2zM306.6 258.5L306.4 256.1L308 256.5zM307.2 266L306.7 263.6L308.3 263.9zM307.8 273.4L307.1 271.1L308.8 271.1zM308.7 280.7L307.6 278.5L309.2 278.3zM309.6 287.9L308.2 285.9L309.8 285.4zM310.6 294.9L308.8 293.2L310.3 292.4zM312.2 302.5L310.1 301.2L311.5 300.2zM313.1 309L310.9 308.1L312 306.8zM313.8 315.4L311.5 314.9L312.3 313.5zM314.3 321.9L311.9 321.7L312.5 320.2zM314.6 328.4L312.2 328.6L312.6 327zM313.6 334.9L311.2 335.3L311.5 333.6zM313.7 341.7L311.3 342.3L311.5 340.7zM312.3 348.6L310.3 349.3L310.3 347.9zM310.7 355.8L309.5 356.3L309.5 355.4zM310.7 363L309.5 363.5L309.4 362.6zM312.1 220.9L312.8 218.6L314.1 219.5zM312.2 228.4L312.8 226L314.2 226.9zM312.4 235.9L312.9 233.5L314.3 234.3zM312.7 243.3L313.1 240.9L314.5 241.7zM313 250.8L313.2 248.4L314.7 249.1zM313.4 258.4L313.4 255.9L315 256.5zM313.9 265.9L313.7 263.4L315.3 263.9zM314.6 273.4L314.1 271L315.8 271.2zM315.5 280.8L314.6 278.5L316.3 278.4zM316.6 288L315.3 285.9L316.9 285.6zM317.8 294.9L316.1 293.2L317.6 292.5zM318.9 301.5L316.9 300.3L318.2 299.2zM320.8 308.7L318.4 307.9L319.5 306.6zM321.5 314.9L319.1 314.6L319.8 313.1zM321.9 321.2L319.5 321.3L320 319.7zM322.1 327.7L319.7 328.1L320 326.5zM322.2 334.4L319.9 335L320 333.4zM321.1 341.2L318.8 342L318.8 340.3zM319.7 348.2L317.7 349.1L317.6 347.6zM319.6 355.4L317.7 356.3L317.6 354.9zM318 362.8L316.9 363.4L316.7 362.5zM319.1 220.6L319.9 218.3L321.2 219.4zM319.2 228.1L320 225.8L321.3 226.8zM319.3 235.5L320.1 233.2L321.4 234.2zM319.5 243L320.2 240.7L321.5 241.6zM319.8 250.5L320.3 248.1L321.7 249zM320.1 258.1L320.5 255.6L321.9 256.4zM320.6 265.6L320.7 263.2L322.2 263.8zM321.2 273.2L321 270.8L322.6 271.2zM322.1 280.7L321.6 278.3L323.2 278.5zM323.2 286.7L322.3 284.7L323.7 284.6zM324.4 293.7L323 292.1L324.3 291.6zM325.5 300.4L323.7 299.3L324.8 298.4zM327.5 307.5L325.2 307L326.1 305.6zM328.1 313.7L325.7 313.7L326.2 312.1zM329.5 320.3L327.1 320.7L327.4 319.1zM329.6 326.8L327.3 327.5L327.3 325.9zM329.6 333.5L327.3 334.4L327.3 332.8zM328.4 340.5L326.2 341.6L326 339.9zM327 347.8L325.1 348.8L324.9 347.4zM326.9 354.9L325.1 356.1L324.8 354.7zM325.3 362.5L324.3 363.3L324 362.4zM326.1 220.3L327.1 218.1L328.3 219.3zM326.1 227.7L327.2 225.5L328.3 226.7zM326.2 235.2L327.2 232.9L328.4 234zM326.4 242.6L327.3 240.3L328.5 241.4zM326.5 250.1L327.3 247.8L328.6 248.8zM326.8 257.6L327.5 255.3L328.8 256.3zM327.1 265.2L327.6 262.8L329 263.7zM328.2 271.6L328.5 269.4L329.8 270.1zM329.3 277.6L329.3 276.3L330.1 276.6zM330 283.3L329.9 282.9L330.2 282.9zM330.3 290.7L330.1 290.3L330.4 290.2zM330.7 297.8L330.3 297.6L330.5 297.4zM332.5 305.7L331.2 305.5L331.6 304.7zM334.3 312.4L332.3 312.8L332.5 311.4zM337 319L334.7 319.9L334.6 318.2zM336.9 325.6L334.7 326.7L334.5 325.1zM336.8 332.5L334.7 333.7L334.4 332.1zM335.6 339.7L333.6 341.1L333.2 339.5zM334.2 347.3L332.5 348.5L332.1 347.2zM334.2 354.5L332.5 355.8L332.1 354.4zM332.6 362.3L331.6 363.1L331.3 362.3zM333.1 219.9L334.3 217.8L335.4 219.1zM333.1 227.3L334.3 225.2L335.4 226.5zM332.3 235.4L333.5 233.3L334.6 234.6zM332.4 242.9L333.5 240.7L334.6 242zM333.3 249.6L334.4 247.4L335.6 248.6zM333.4 257L334.5 254.8L335.6 256zM333.6 264.5L334.6 262.3L335.8 263.4zM334.8 271L335.5 269L336.6 269.9zM336 277.3L336.3 276L337 276.5zM337 283.2L337.1 282.7L337.4 282.9zM338.4 304.7L337.9 304.7L338 304.4zM340.1 311.6L338.9 312.1L338.9 311.2zM343 317.7L341 319.1L340.6 317.5zM344 324.3L342 325.8L341.5 324.3zM343.9 331.4L342 333L341.4 331.4zM342.7 339L340.9 340.6L340.3 339.1zM341.4 346.8L339.9 348.2L339.3 346.9zM341.3 354L339.8 355.5L339.2 354.2zM341.3 361.3L339.8 362.8L339.2 361.6zM340.1 219.5L341.6 217.5L342.5 218.9zM340.1 226.8L341.6 224.9L342.5 226.2zM339.2 234.8L340.6 232.8L341.5 234.2zM339.2 242.2L340.6 240.2L341.5 241.6zM339.2 249.5L340.6 247.6L341.6 248.9zM340.2 256.3L341.6 254.3L342.5 255.6zM340.2 263.6L341.6 261.6L342.5 263zM341.4 270.2L342.6 268.5L343.4 269.6zM342.6 276.5L343.4 275.5L343.9 276.2zM344 282.8L344.3 282.5L344.5 282.8zM347.3 310.7L346.3 311.6L346 310.8zM349.7 316.2L348.2 318.1L347.3 316.7zM350.7 322.9L349.2 324.8L348.3 323.4zM350.7 330.3L349.1 332.2L348.3 330.7zM349.7 338.2L348.2 340.1L347.3 338.7zM348.5 346.3L347.2 347.9L346.4 346.7zM348.5 353.6L347.2 355.3L346.4 354zM348.5 360.9L347.2 362.6L346.4 361.4zM347.2 219L348.8 217.2L349.6 218.6zM347.2 226.3L348.8 224.5L349.6 226zM347.1 233.6L348.8 231.8L349.6 233.3zM346.1 241.4L347.8 239.6L348.5 241.1zM346 248.6L347.8 246.9L348.5 248.4zM346 255.8L347.7 254.1L348.4 255.7zM346.9 262.6L348.7 260.9L349.4 262.4zM348.2 269.2L349.8 267.8L350.3 269.2zM349.6 275.6L350.7 274.9L350.9 275.8zM351.3 282.3L351.7 282.2L351.7 282.5zM352.8 303.7L352.6 304.2L352.4 304zM354 309.8L353.5 311L352.8 310.4zM356.1 315L355.1 317.2L353.9 316.1zM357.1 321.7L356 323.9L354.9 322.7zM357.3 329.2L356.1 331.4L355 330.2zM356.5 337.5L355.3 339.6L354.2 338.3zM356.6 344.9L355.3 347L354.3 345.7zM355.5 353.2L354.4 355L353.5 353.9zM355.6 360.6L354.4 362.4L353.5 361.2zM355.6 218L357.2 216.5L357.7 217.9zM354.3 225.8L356.1 224.2L356.7 225.7zM354.2 233L356.1 231.4L356.7 233zM353.1 240.6L355 239.1L355.6 240.6zM353 247.7L355 246.2L355.5 247.8zM352.9 254.8L355 253.4L355.4 255zM352.8 261.7L354.9 260.4L355.3 262.1zM355.3 268.1L357.2 267.2L357.4 268.7zM355.3 274.9L357.3 274.2L357.3 275.7zM357.1 281.4L358.4 281.5L358.1 282.3zM359 289.1L359.4 289.3L359.1 289.5zM359.4 296.2L359.6 296.6L359.3 296.6zM360 301.8L360.3 303.1L359.4 303zM361 307.8L361 309.9L359.6 309.4zM362.3 314.1L361.9 316.5L360.4 315.8zM363.4 320.8L362.8 323.2L361.4 322.3zM363.8 328.4L363 330.8L361.7 329.7zM363.3 336.9L362.4 339.1L361.2 338.1zM363.4 344.3L362.5 346.6L361.3 345.5zM363.6 351.8L362.5 354L361.4 352.9zM363.6 359.2L362.6 361.4L361.4 360.2zM362.9 217.6L364.5 216.3L365 217.7zM362.8 224.9L364.5 223.6L364.9 225zM361.4 232.4L363.4 231L363.8 232.7zM360.2 239.8L362.3 238.5L362.7 240.1zM360.2 246.8L362.3 245.6L362.6 247.3zM360.1 253.7L362.3 252.7L362.5 254.3zM360.1 260.5L362.4 259.6L362.4 261.3zM360.1 267.1L362.5 266.5L362.3 268.1zM362.8 274L364.9 273.8L364.5 275.2zM363.1 280.4L365.2 280.7L364.6 282zM365.1 287.8L366.2 288.4L365.6 289zM365.8 294.7L366.8 295.6L365.9 296zM366.4 300.2L367.4 302.1L365.9 302.3zM367.4 307.5L367.9 309.6L366.5 309.4zM368.6 313.7L368.7 316.1L367.1 315.6zM369.7 320.2L369.5 322.7L368 322zM370.3 327.8L369.9 330.3L368.4 329.5zM370 336.4L369.5 338.8L368.1 337.9zM370.3 343.9L369.6 346.2L368.2 345.3zM370.4 351.4L369.7 353.7L368.4 352.7zM370.6 358.8L369.7 361.1L368.5 360.1zM370.1 217.3L371.9 216.1L372.2 217.5zM370.1 224.5L371.9 223.4L372.2 224.8zM368.7 231.9L370.8 230.7L371.1 232.3zM367.5 239.1L369.7 238L369.9 239.6zM367.4 246L369.7 245.1L369.8 246.7zM367.4 252.8L369.8 252.1L369.7 253.7zM367.5 259.5L369.9 259L369.7 260.6zM367.6 266.1L370.1 265.8L369.7 267.4zM368 272.4L370.4 272.5L369.8 274.1zM369.6 279.2L371.9 279.8L371 281.2zM370.5 285.5L372.6 286.7L371.4 287.8zM371.7 292L373.5 293.7L372 294.4zM373 298.9L374.3 300.9L372.7 301.3zM374.2 306.1L375 308.4L373.4 308.4zM375.3 312.4L375.8 314.8L374.1 314.5zM376.1 319.9L376.3 322.3L374.7 321.9zM376.8 327.5L376.7 329.9L375.2 329.3zM376.8 336L376.5 338.5L375 337.8zM377.1 343.6L376.7 346L375.2 345.1zM377.3 351L376.8 353.4L375.4 352.5zM377.5 358.5L376.9 360.9L375.5 359.9zM379 216.7L380.2 216.1L380.3 217zM377.4 224.1L379.3 223.2L379.5 224.6zM376 231.3L378.2 230.4L378.3 232zM375.9 238.4L378.2 237.5L378.3 239.2zM374.8 245.3L377.2 244.6L377.1 246.2zM374.9 252.1L377.3 251.6L377 253.2zM375 258.8L377.4 258.5L377 260.1zM375.2 265.3L377.7 265.4L377.1 266.9zM375.6 271.8L378.1 272.1L377.3 273.6zM376.3 278.1L378.6 278.9L377.6 280.2zM377.2 284.5L379.4 285.7L378.1 286.8zM378.4 291.1L380.2 292.7L378.8 293.5zM379.6 297.9L381.1 299.9L379.5 300.3zM380.8 305L381.9 307.2L380.3 307.4zM381.9 312.3L382.6 314.6L381 314.6zM382.7 319.7L383.2 322.1L381.5 321.9zM383.4 327.2L383.6 329.7L382 329.2zM383.6 335.8L383.6 338.3L382 337.7zM383.9 343.3L383.8 345.7L382.2 345.1zM384.2 350.8L383.9 353.2L382.4 352.5zM384.5 358.3L384 360.7L382.6 359.8zM386.3 216.5L387.5 216L387.6 216.9zM384.7 223.8L386.7 223L386.7 224.4zM384.7 230.9L386.7 230.2L386.7 231.7zM383.3 237.9L385.7 237.2L385.6 238.9zM382.2 244.7L384.6 244.2L384.4 245.8zM382.3 251.5L384.8 251.2L384.4 252.8zM382.5 258.2L385 258.1L384.4 259.7zM382.8 264.8L385.3 265L384.5 266.5zM383.3 271.3L385.6 271.9L384.7 273.3zM383.9 277.9L386.2 278.8L385.1 280zM384.7 284.4L386.8 285.7L385.5 286.7zM385.7 291.1L387.5 292.7L386.1 293.5zM386.7 298L388.3 299.9L386.7 300.4zM387.7 305.1L389 307.2L387.3 307.5zM388.7 312.3L389.6 314.6L387.9 314.6zM389.5 319.7L390.1 322L388.5 321.9zM390 328.2L390.4 330.6L388.8 330.3zM390.4 335.7L390.7 338.1L389.1 337.7zM390.8 343.1L390.9 345.6L389.3 345zM391.1 350.6L391 353L389.5 352.4zM391.4 358L391.2 360.5L389.7 359.8zM393.7 216.3L394.9 215.9L394.9 216.8zM393.7 223.5L395 223.1L394.9 224zM392.1 230.6L394.2 230.1L394 231.5zM390.7 237.4L393.1 237L392.9 238.6zM389.7 244.1L392.1 243.8L391.8 245.5zM389.8 250.9L392.3 250.9L391.8 252.4zM390.1 257.7L392.5 257.8L391.9 259.4zM390.4 264.4L392.8 264.8L392 266.2zM390.8 271L393.2 271.7L392.2 273zM391.4 277.7L393.7 278.7L392.5 279.9zM392.1 284.4L394.2 285.7L392.9 286.7zM393 291.2L394.8 292.7L393.4 293.6zM393.9 298.1L395.5 299.9L393.9 300.5zM394.7 305.1L396.1 307.2L394.5 307.6zM395.7 313.5L396.8 315.7L395.1 315.9zM396.3 320.8L397.2 323.1L395.5 323.1zM396.9 328.1L397.5 330.5L395.8 330.4zM397.4 335.6L397.8 338L396.1 337.7zM397.8 343L398 345.4L396.4 345zM398.1 350.4L398.2 352.9L396.6 352.4zM398.4 357.9L398.3 360.3L396.8 359.7zM402.8 216.2L403.2 216.1L403.2 216.4zM401.1 223.4L402.4 223L402.3 223.9zM401.1 230.6L402.4 230.3L402.2 231.2zM399.6 237.4L401.7 237.1L401.3 238.5zM398.3 244L400.7 243.9L400.2 245.5zM397.4 250.5L399.8 250.6L399.2 252.1zM397.6 257.3L400 257.6L399.3 259.1zM397.9 264.1L400.3 264.6L399.4 266zM398.4 270.8L400.7 271.6L399.7 272.9zM398.9 277.5L401.1 278.6L399.9 279.8zM399.6 284.3L401.6 285.6L400.3 286.6zM400.3 291.2L402.2 292.8L400.7 293.6zM401.5 299.2L403.2 301L401.6 301.6zM402.1 306.3L403.6 308.3L402 308.8zM402.8 313.5L404 315.6L402.3 315.9zM403.3 320.8L404.3 323L402.7 323.1zM403.9 328.1L404.6 330.4L403 330.4zM404.3 335.5L404.9 337.9L403.3 337.7zM404.7 342.9L405.1 345.3L403.5 345zM405.1 350.3L405.3 352.8L403.7 352.4zM405.4 357.8L405.5 360.2L403.9 359.7zM410.2 216.2L410.6 216.1L410.6 216.4zM410.2 223.5L410.6 223.4L410.6 223.7zM408.5 230.4L409.8 230.2L409.6 231.1zM408.5 237.6L409.8 237.5L409.6 238.4zM407.1 244.2L409.2 244.2L408.7 245.6zM405.9 250.6L408.3 250.9L407.6 252.4zM405.1 257L407.5 257.4L406.7 258.9zM405.5 263.8L407.8 264.4L406.9 265.8zM405.9 270.6L408.2 271.5L407.1 272.7zM406.4 277.4L408.6 278.5L407.4 279.7zM407 284.3L409 285.6L407.7 286.6zM407.6 291.2L409.5 292.8L408.1 293.6zM408.8 299.2L410.5 301L408.9 301.7zM409.3 306.4L410.8 308.3L409.3 308.8zM409.9 313.6L411.2 315.6L409.6 316zM410.4 320.8L411.5 323L409.9 323.2zM410.9 328.1L411.8 330.4L410.2 330.5zM411.4 335.5L412.1 337.8L410.4 337.7zM411.8 342.9L412.3 345.2L410.7 345zM412.1 350.3L412.5 352.7L410.9 352.4zM412.4 357.7L412.7 360.1L411.1 359.7zM417.5 216.1L418 216.1L417.9 216.4zM417.5 223.4L418 223.4L417.9 223.7zM417.6 230.7L418 230.7L417.9 231zM415.9 237.5L417.2 237.4L416.9 238.3zM416 244.6L417.3 244.7L417 245.5zM414.6 251.1L416.7 251.3L416.1 252.6zM413.6 257.4L416 257.9L415.1 259.3zM413.9 264.3L416.2 265L415.2 266.3zM413.4 270.5L415.6 271.4L414.5 272.6zM413.8 277.3L416 278.5L414.8 279.6zM414.4 284.3L416.4 285.6L415.1 286.6zM414.9 291.2L416.8 292.8L415.4 293.6zM416 299.3L417.8 301L416.3 301.7zM416.6 306.4L418.1 308.3L416.5 308.9zM417.1 313.6L418.4 315.6L416.8 316zM417.6 320.8L418.7 323L417.1 323.3zM418 328.1L419 330.4L417.4 330.5zM418.4 335.5L419.3 337.8L417.6 337.8zM418.8 342.8L419.5 345.2L417.8 345.1zM419.2 350.2L419.7 352.6L418.1 352.4zM419.5 357.6L419.9 360L418.3 359.7zM424.9 216.1L425.4 216L425.3 216.3zM424.9 223.4L425.4 223.4L425.3 223.7zM424.9 230.7L425.4 230.7L425.3 231zM424.9 238L425.4 238L425.3 238.3zM425 245.3L425.4 245.3L425.3 245.6zM423.5 251.7L424.8 251.9L424.3 252.7zM422.3 258L424.3 258.5L423.5 259.7zM422.5 265L424.5 265.7L423.6 266.9zM421.7 271.1L423.9 272.1L422.8 273.3zM422 278.1L424.2 279.3L422.9 280.4zM421.8 284.2L423.8 285.6L422.5 286.6zM422.3 291.2L424.2 292.8L422.8 293.6zM423.3 299.3L425.1 301L423.6 301.7zM423.8 306.5L425.4 308.3L423.8 308.9zM424.3 313.6L425.7 315.6L424.1 316.1zM424.7 320.9L426 323L424.3 323.3zM425.3 329.6L426.3 331.5L424.8 331.6zM425.6 336.9L426.4 338.9L425 338.9zM425.9 344.2L426.6 346.2L425.1 346.2zM426.2 351.6L426.7 353.6L425.3 353.5zM426.4 359L426.8 361L425.4 360.8z" stroke="#111" stroke-width="0.3" fill="#111" stroke-linejoin="round"/>
</g>
<text x="273.1" y="222.3" text-anchor="end" class="ab">0.2</text>
<text x="273.1" y="259" text-anchor="end" class="ab">0.1</text>
<text x="273.1" y="295.8" text-anchor="end" class="ab">0</text>
<text x="273.1" y="332.5" text-anchor="end" class="ab">-0.1</text>
<text x="273.1" y="369.2" text-anchor="end" class="ab">-0.2</text>
<text x="278.6" y="383.9" text-anchor="middle" class="ab">-0.2</text>
<text x="352.2" y="383.9" text-anchor="middle" class="ab">0</text>
<text x="425.8" y="383.9" text-anchor="middle" class="ab">0.2</text>
<text x="352.2" y="405.9" text-anchor="middle" class="al">Kx</text>
<text transform="translate(240.4 289.4) rotate(-90)" text-anchor="middle" class="al">Ky</text>
<rect x="441.7" y="216.3" width="10.4" height="146.9" fill="url(#cbg)" stroke="#6a5a5a" stroke-opacity="0.45" stroke-width="0.6"/>
<path d="M441.7 216.5h10.4M441.7 363h10.4" stroke="#2a1a1a" stroke-opacity="0.6" stroke-width="0.8"/>
<text x="456.9" y="222" class="cb">0.5</text>
<path d="M452.1 289.8h-1.5" stroke="#333" stroke-width="0.6"/>
<text x="456.9" y="295.4" class="cb">0</text>
<text x="456.9" y="368.9" class="cb">-0.5</text>
</g>
<g>
<clipPath id="hc4"><rect x="542.6" y="216.3" width="147.2" height="146.9"/></clipPath>
<g clip-path="url(#hc4)">
<rect x="541.6" y="215.3" width="149.2" height="148.9" fill="#ff8a8c"/>
<path d="M534.6 332.8L542.6 332.8C543 333.8 544.1 336.2 545 338.5C545.9 340.8 546.5 344 547.7 346.5C548.9 349 550.5 351.5 552 353.5C553.5 355.5 555.1 357 557 358.6C558.9 360.2 562.4 362.4 563.5 363.1L563.5 371.1L697.8 371.2L697.8 208.3L534.6 208.3Z" fill="#ffa7a9"/>
<path d="M534.6 321.2L542.6 321.2C543.2 322 544.8 323.7 546 326C547.2 328.3 548.4 332 550 335C551.6 338 553.5 341.4 555.5 344C557.5 346.6 559.4 348.8 562 350.5C564.6 352.2 567.8 353.3 571 354.5C574.2 355.7 577.8 356.4 581 357.5C584.2 358.6 587.7 360.1 590 361C592.3 361.9 594.2 362.8 595 363.1L595 371.1L697.8 371.2L697.8 208.3L534.6 208.3Z" fill="#ffc5c5"/>
<path d="M534.6 312.2L542.6 312.2C543.4 312.5 545.7 312.5 547.3 313.9C548.9 315.3 550.7 318.1 552.2 320.4C553.7 322.7 554.8 325.4 556.3 327.7C557.8 330 559.3 332.2 561.2 334.2C563.1 336.2 565.2 338.4 567.7 339.9C570.2 341.4 572.9 342.4 575.9 343.2C578.9 344 582.2 344.4 585.7 344.8C589.2 345.2 594.1 345.5 597.1 345.7C600.1 345.9 601.2 345.7 604 346.1C606.8 346.5 611.5 347.2 614 348.1C616.5 349 617.9 349.7 619.1 351.2C620.3 352.7 620.7 355.3 621.1 357.3C621.5 359.3 621.5 362.1 621.6 363.1L621.6 371.1L685.3 371.1L685.3 363.1C685 361.5 683.7 356.1 683.3 353.2C682.9 350.3 682.8 348.5 682.8 346C682.8 343.5 683 340.5 683.5 338C684 335.5 685 332.9 686 331C687 329.1 689.2 327.5 689.8 326.8L697.8 326.8L697.8 208.3L534.6 208.3Z" fill="#ffe2e2"/>
<path d="M534.6 304.9L542.6 304.9C543.5 304.9 546.3 304.2 548.2 304.9C550.1 305.6 552.1 307.1 553.9 309C555.7 310.9 557.2 313.7 558.8 316.3C560.4 318.9 561.9 322.1 563.6 324.5C565.4 326.9 567.1 329.2 569.3 331C571.5 332.8 574 334.2 576.7 335.1C579.4 336.1 581.2 336.3 585.7 336.7C590.2 337.1 598.6 337.2 604 337.5C609.4 337.8 613.7 338 618 338.5C622.3 339 626.6 340.4 630 340.3C633.4 340.2 635.5 338.9 638.2 337.8C640.9 336.7 643.9 335.3 646.3 333.7C648.7 332.1 650.9 330.3 652.8 328C654.7 325.7 656.3 322.6 657.7 319.9C659.1 317.2 659.9 314.4 661 311.7C662.1 309 663 305.8 664.2 303.6C665.4 301.4 666.8 299.8 668.3 298.7C669.8 297.6 671.4 297 673.2 297C675 297 677 297.9 678.9 298.7C680.8 299.5 682.8 300.9 684.6 301.9C686.4 302.8 688.9 304 689.8 304.4L697.8 304.4L697.8 208.3L534.6 208.3Z" fill="#fffcfb"/>
<path d="M534.6 293.1L542.6 293.1C544 293.3 548.6 293.4 551.2 294.1C553.8 294.8 556.5 296.4 558.4 297.5C560.3 298.6 561.4 299.1 562.8 300.5C564.2 301.9 565.4 303.6 566.9 305.7C568.4 307.8 570.2 310.6 571.8 313C573.4 315.4 574.9 318.3 576.7 320.4C578.5 322.4 580.1 323.9 582.4 325.3C584.7 326.7 586.9 327.6 590.5 328.5C594.1 329.4 600.1 329.8 604 330.5C607.9 331.2 610.3 332.3 614 332.5C617.7 332.7 622.5 332.6 626.2 331.8C629.9 331 633.3 329.6 636.4 327.7C639.5 325.8 642.2 323.5 644.6 320.6C647 317.7 649.2 314.1 650.7 310.4C652.2 306.7 653.3 301.6 653.7 298.2C654.1 294.8 653.7 293 653.2 290C652.8 287 651.9 283.1 651 280C650.1 276.9 648.6 273.6 648 271.5C647.4 269.4 647.2 268.5 647.5 267.5C647.8 266.5 648.8 265.6 650 265.3C651.2 265 652.6 264.9 654.8 265.5C656.9 266.1 660.2 267.5 662.9 269.1C665.6 270.7 668.4 272.8 671.1 275.2C673.8 277.6 676.8 280.9 679.2 283.3C681.6 285.7 683.5 288 685.3 289.5C687.1 291 689 292 689.8 292.5L697.8 292.5L697.8 208.3L534.6 208.3Z" fill="#d1ebff"/>
<path d="M534.6 277.2L542.6 277.2C543.9 277.2 547.6 277.4 550.2 277.2C552.8 277 556 275.8 558.4 276.2C560.8 276.6 562.8 277.8 564.5 279.3C566.2 280.8 567.4 283.4 568.6 285.4C569.9 287.3 570.6 288.9 572 291C573.4 293.1 574.9 295.3 576.7 298.2C578.5 301.1 580.4 305.4 582.8 308.4C585.2 311.4 587.9 313.8 591 316C594.1 318.2 597.8 320.2 601.2 321.5C604.6 322.8 608.6 323.5 611.4 324C614.2 324.5 615.9 324.6 618 324.5C620.1 324.4 621.6 324.7 624.2 323.7C626.8 322.7 630.7 320.8 633.4 318.6C636.1 316.4 638.7 313 640.5 310.4C642.3 307.8 643.4 305.4 644 303C644.6 300.6 644.6 298.2 644.3 296C644 293.8 642.9 292.2 642 290C641.1 287.8 640.3 285.3 639 283C637.7 280.7 635.9 278.4 634 276C632.1 273.6 629.7 271.2 627.8 268.8C625.9 266.4 624.3 263.9 622.7 261.7C621.1 259.5 619.7 257.5 618 255.6C616.3 253.7 614.8 252 612.5 250.5C610.2 249 606.9 247.8 604.4 246.4C601.9 245 599 243.8 597.2 242.3C595.4 240.9 594.3 238.9 593.7 237.7C593.1 236.5 593.2 236.1 593.5 235.2C593.8 234.3 594.1 232.9 595.2 232.1C596.3 231.3 597.9 230.8 600.3 230.6C602.7 230.3 606.3 230.4 609.5 230.6C612.7 230.8 616.3 231.1 619.7 231.6C623.1 232.1 626.5 232.8 629.9 233.7C633.3 234.5 636.6 235.6 640 236.7C643.4 237.8 647.3 239.1 650.2 240.3C653.1 241.5 655.1 242.7 657.4 243.9C659.7 245.1 661.9 245.9 664 247.4C666.1 248.9 668.1 250.6 670.1 252.8C672.1 255.1 674.2 258 676.2 260.9C678.2 263.8 680.4 267 682.3 270.1C684.2 273.2 686.1 276.8 687.4 279.3C688.6 281.9 689.4 284.4 689.8 285.4L697.8 285.4L697.8 208.3L534.6 208.3Z" fill="#a3d8ff"/>
<path d="M555.3 208.3L555.3 216.3C555.8 217.6 557.7 221.2 558.4 224.2C559.1 227.2 559.6 230.8 559.4 234.4C559.2 238 558.4 242.2 557.4 245.6C556.4 249 554.8 252.4 553.3 254.8C551.8 257.2 550 258.5 548.2 259.9C546.4 261.3 543.5 262.5 542.6 263L534.6 263L534.6 208.3Z" fill="#74c4ff"/>
<path d="M584 282.1C585 278.9 586.2 275.6 588.1 272.9C590 270.2 592.5 267.5 595.2 265.8C597.9 264.1 601.2 263.1 604.4 262.7C607.6 262.3 611.5 262.5 614.6 263.2C617.7 263.9 620.3 265.4 622.7 266.8C625.1 268.2 626.9 269.9 628.8 271.9C630.7 273.9 632.5 276.4 633.9 279C635.3 281.6 636.3 284.3 637 287.2C637.7 290.1 638.4 293.3 638.3 296.3C638.2 299.3 637.5 302.5 636.5 305C635.5 307.5 633.9 309.6 632 311.5C630.1 313.4 627.7 315.2 625 316.5C622.3 317.8 619 318.8 616 319C613 319.2 610 318.8 607 318C604 317.2 600.8 316 598 314.5C595.2 313 592.2 311.2 590 309C587.8 306.8 585.9 303.8 584.5 301C583.1 298.2 581.9 295.1 581.8 292C581.7 288.9 583 285.3 584 282.1Z" fill="#74c4ff"/>
<path d="M616.8 208.3L616.8 216.3C617.8 216.9 620.9 218.4 622.9 219.6C624.9 220.8 626.8 222.3 629 223.5C631.2 224.7 633.5 225.6 636 226.5C638.5 227.4 641.6 228.4 644 229.1C646.4 229.8 647.8 229.6 650.4 230.4C653 231.2 656.9 232.6 659.9 234.2C662.9 235.8 665.8 237.9 668.2 239.9C670.7 241.9 672.7 244.1 674.6 246.3C676.5 248.5 678.2 251 679.7 253.3C681.2 255.6 682.3 257.9 683.5 260C684.7 262.1 686 264.2 687 266C688 267.8 689.3 270.2 689.8 271L697.8 271L697.8 208.3Z" fill="#74c4ff"/>
<path d="M587.1 291.2C587 287.7 587.6 283.1 589.1 280C590.6 276.9 593.3 274.6 596.2 272.9C599.1 271.2 603 270.1 606.4 269.8C609.8 269.5 613.5 269.9 616.6 270.9C619.7 271.9 622.6 274 624.8 276C627 278 628.7 280.4 629.9 283.1C631.1 285.8 631.6 289.4 631.9 292.3C632.1 295.2 631.8 298.1 631.4 300.4C631 302.7 630.4 304.4 629.5 306C628.6 307.6 627.8 308.7 626 310C624.2 311.3 621.5 313.2 619 314C616.5 314.8 613.7 315.2 611 315C608.3 314.8 605.7 314.2 603 313C600.3 311.8 597.2 310 595 308C592.8 306 591.3 303.8 590 301C588.7 298.2 587.2 294.7 587.1 291.2Z" fill="#46b1ff"/>
<path d="M641.5 208.3L641.5 216.3C642.4 216.9 645.2 218.8 647 219.8C648.8 220.8 649.8 220.9 652.3 222.1C654.8 223.3 658.9 225.4 661.8 227.2C664.7 229 667.2 230.8 669.5 232.9C671.8 235 673.8 237.5 675.8 239.9C677.8 242.3 679.9 245.2 681.6 247.6C683.3 250 684.6 252.5 686 254.6C687.4 256.7 689.2 259.4 689.8 260.3L697.8 260.3L697.8 208.3Z" fill="#46b1ff"/>
<path d="M591.6 291.2C591.8 288.6 592.6 284.5 594.2 282.1C595.8 279.7 598.6 278 601.3 277C604 276 607.6 275.8 610.5 276C613.4 276.2 616.2 276.6 618.6 278C621 279.4 623.4 281.7 624.8 284.1C626.2 286.5 626.6 289.6 626.8 292.3C627 295 626.5 298.3 625.8 300.4C625.1 302.5 624 303.6 622.7 305C621.4 306.4 620 308.1 618 309C616 309.9 613.3 310.7 611 310.7C608.7 310.7 606.2 310 604 309C601.8 308 599.3 306.3 597.5 304.5C595.7 302.7 594 300.2 593 298C592 295.8 591.4 293.8 591.6 291.2Z" fill="#189dff"/>
<path d="M661.8 208.3L661.8 216.3C663.1 217.1 667.2 219.1 669.5 220.8C671.8 222.5 673.9 224.6 675.8 226.6C677.7 228.6 679.3 230.7 680.9 232.9C682.5 235.1 683.9 237.4 685.4 239.9C686.9 242.4 689.1 246.8 689.8 248.2L697.8 248.2L697.8 208.3Z" fill="#189dff"/>
<path d="M597.2 291.2C597.3 289 597.9 286.6 599.3 285.1C600.7 283.6 603 282.4 605.4 282.1C607.8 281.8 611.2 282.2 613.6 283.1C616 284 618.3 285.5 619.7 287.2C621.1 288.9 622 291.3 622.2 293.3C622.4 295.3 621.8 297.7 620.7 299.4C619.6 301.1 617.5 302.4 615.6 303.5C613.7 304.6 611.6 305.9 609.5 306C607.4 306.1 604.8 305.2 603 304C601.2 302.8 599.5 300.6 598.5 298.5C597.5 296.4 597.1 293.4 597.2 291.2Z" fill="#189dff"/>
<path d="M542.5 216.8L543.2 214.1M542.5 224.1L543.1 221.4M542.5 231.5L543 228.7M542.5 238.8L542.9 236.1M542.6 246.2L542.7 243.4M542.6 253.5L542.5 250.7M542.7 260.8L542.3 258.1M542.7 268.3L541.9 264.4M542.8 275.7L541.6 271.8M542.9 283.1L540.8 278.2M543 290.4L540.4 285.8M543 297.7L540 293.4M543.1 305L539.6 301.1M543.1 312.2L540.1 309.5M543 319.4L540.8 317.8M542.9 326.6L541.4 325.7M542.7 333.9L542.2 333.6M542.7 341.2L542.1 341M542.7 348.5L542.1 348.4M542.7 355.9L542.1 355.7M542.7 363.2L542.1 363.1M549.8 216.7L550.7 214.1M549.8 224.1L550.6 221.5M549.8 231.5L550.5 228.8M549.9 238.8L550.4 236.1M549.9 246.2L550.2 243.4M549.9 253.5L550 250.7M550 261L549.7 257M550.1 268.3L549.4 264.4M550.1 275.7L549.1 271.8M550.2 283.1L548.3 278.2M550.3 290.4L547.8 285.8M550.4 297.7L547.3 293.4M550.5 305L546.9 301.1M550.4 312.2L547.4 309.6M550.4 319.4L548.1 317.8M550.4 326.7L548 325.4M550.4 334L547.9 332.9M550.2 341.3L548.6 340.7M550.2 348.6L548.6 348.1M550.1 355.9L549.5 355.8M550.1 363.2L549.5 363.1M557.1 216.9L558.6 213.2M557.2 224.1L558.1 221.5M557.2 231.4L558 228.8M557.2 238.8L557.9 236.1M557.2 246.1L557.7 243.4M557.3 253.7L557.6 249.6M557.3 261L557.3 257M557.4 268.3L556.9 264.3M557.5 275.7L556.6 271.8M557.6 283.1L555.7 278.2M557.7 290.4L555.2 285.8M557.8 297.7L554.6 293.4M557.8 305L554.2 301.2M557.9 312.3L553.8 309M557.9 319.5L554.4 317.4M557.9 326.7L554.3 325M557.8 334L555.2 333M557.8 341.3L555.1 340.6M557.6 348.6L555.9 348.2M557.6 355.9L555.9 355.7M557.4 363.2L556.8 363.2M564.4 216.9L566.2 213.3M564.4 224.2L566.1 220.6M564.4 231.6L565.9 227.8M564.5 238.9L565.7 235.1M564.5 246.3L565.5 242.4M564.6 253.6L565.2 249.7M564.6 261L564.9 257M564.7 268.3L564.5 264.3M564.8 275.7L564.1 271.7M564.9 283.1L563.2 278.1M565 290.4L562.6 285.7M565.1 297.7L562 293.5M565.2 305L561.4 301.3M565.3 312.2L561 309.1M565.4 319.5L560.7 317M565.3 326.7L561.5 325.2M565.3 334L561.4 332.9M565.1 341.3L562.4 340.7M565.2 348.6L562.4 348.2M565 355.9L563.3 355.8M565 363.2L563.3 363.2M571.7 216.8L573.8 213.4M571.7 224.2L573.7 220.7M571.8 231.6L573.5 227.9M571.8 238.9L573.4 235.2M571.8 246.3L573.1 242.5M571.9 253.6L572.9 249.7M571.9 261L572.6 257M572 268.3L572.2 264.3M572.1 275.7L571.7 271.7M572.2 283L571.1 279.1M572.3 290.3L570.5 286.7M572.5 297.7L569.3 293.5M572.6 304.9L568.7 301.4M572.7 312.2L568.2 309.4M572.7 319.4L567.9 317.3M572.8 326.7L567.7 325.2M572.7 333.9L568.7 333.2M572.7 341.2L568.7 340.8M572.5 348.5L569.8 348.4M572.3 355.8L570.6 355.9M572.3 363.2L570.6 363.3M579 216.8L581.4 213.5M579 224.2L581.3 220.8M579.1 231.5L581.2 228.1M579.1 238.9L581 235.3M579.1 246.3L580.8 242.6M579.2 253.6L580.6 249.8M579.2 261L580.3 257.1M579.3 268.3L579.9 264.4M579.4 275.7L579.3 271.7M579.5 283L578.7 279.1M579.7 290.3L578 286.7M579.8 297.6L577.3 294.4M580 304.9L575.8 301.6M580.1 312.1L575.4 309.7M580.1 319.4L575.1 317.8M580.1 326.6L574.9 325.7M580.2 333.9L574.9 333.5M580 341.2L576 341.2M579.9 348.5L577.1 348.7M579.9 355.8L577.1 356.1M579.7 363.2L578 363.4M586.3 216.8L589 213.7M586.4 224.1L588.9 221M586.4 231.5L588.8 228.3M586.4 238.9L588.7 235.5M586.4 246.2L588.5 242.8M586.5 253.6L588.3 250M586.5 261L588.1 257.2M586.6 268.3L587.7 264.4M586.7 275.7L587.1 271.7M586.8 282.9L586.5 280.1M586.9 290.2L585.9 287.6M587.1 297.5L585.3 295.4M587.3 304.8L583.9 302.6M587.4 312L583.6 310.6M587.5 319.3L582.3 318.4M587.5 326.5L582.2 326.3M587.5 333.8L582.2 334M587.4 341.1L583.4 341.6M587.2 348.4L584.5 348.9M587.2 355.8L584.5 356.3M587 363.1L585.4 363.6M593.7 216.7L596.5 213.9M593.7 224.1L596.5 221.2M593.7 231.5L596.4 228.5M593.7 238.8L596.4 235.8M593.7 246.2L596.3 243M593.7 253.5L596.1 250.3M593.8 260.9L595.9 257.5M593.9 268.1L595.1 265.7M594 275.3L594.5 273.7M594.1 282.5L594.2 281.9M594.1 289.9L594 289.3M594.2 297.2L593.8 296.7M594.4 304.6L592.9 303.8M594.6 311.9L591.9 311.4M594.9 319.1L589.6 319.2M594.9 326.4L589.6 327M594.9 333.7L589.7 334.7M594.7 341L590.8 342M594.6 348.4L591.9 349.2M594.6 355.7L592 356.6M594.4 363.1L592.8 363.7M601 216.7L604.1 214.2M601 224.1L604.1 221.5M600.9 231.5L604.9 228M600.9 238.8L604.9 235.3M601 246.1L604 243.4M601 253.5L603.9 250.6M601 260.8L603.8 257.9M601.2 268.1L602.9 265.9M601.3 275.3L602.3 273.9M601.4 282.5L601.7 282M601.4 289.8h.1M601.4 297.1h.1M601.6 304.5L601 304.3M601.8 311.8L600.1 311.9M602.1 319L598.2 320M602.2 326.2L597.2 327.9M602.2 333.5L597.2 335.4M602.1 340.9L598.4 342.5M601.9 348.3L599.4 349.4M601.9 355.7L599.4 356.8M601.9 363L599.4 364.2M608.3 216.7L611.7 214.4M608.3 224L611.7 221.8M608.2 231.4L612.6 228.5M608.2 238.8L612.6 235.8M608.2 246.1L612.6 243.1M608.3 253.4L611.6 251.1M608.3 260.7L611.6 258.4M608.5 268L610.7 266.4M608.6 275.2L610 274.3M608.7 282.4L609.3 282.2M608.8 289.8h.1M608.8 297.1h.1M608.8 304.4h.1M609.1 311.7L607.5 312.4M609.4 318.8L605.9 320.9M609.5 326.1L605 328.8M609.5 333.4L605 336.2M609.4 340.8L606 342.9M609.2 348.3L606.9 349.7M609.2 355.6L606.9 357.1M609.2 362.9L606.9 364.4M615.6 216.6L619.2 214.7M615.6 223.9L619.2 222.1M615.6 231.3L619.2 229.4M615.5 238.7L620.3 236.3M615.5 246L620.3 243.7M615.5 253.3L620.3 251.2M615.6 260.6L619.3 259.1M615.8 267.9L618.3 266.9M615.9 275.1L617.6 274.8M616.1 282.4L616.7 282.5M616.2 289.8h.1M616.2 297.1h.1M616.3 304.4L615.9 304.8M616.4 311.6L615.3 312.9M616.6 318.7L613.9 321.6M616.7 325.9L612.9 329.6M616.8 333.3L612.8 336.9M616.7 340.8L613.6 343.4M616.7 348.1L613.6 350.7M616.6 355.6L614.4 357.3M616.6 362.9L614.4 364.6M623.1 216.5L625.7 215.4M623 223.9L626.7 222.4M623 231.2L626.7 229.8M622.8 238.6L627.8 236.8M622.8 245.9L627.9 244.3M622.8 253.2L627.9 251.9M622.8 260.5L628 259.5M623.1 267.8L625.8 267.5M623.1 275L625.8 275.2M623.3 282.3L624.9 282.9M623.5 289.7L623.9 290.1M623.5 297L623.6 297.6M623.6 304.1L623.3 305.8M623.7 311.3L622.8 313.9M623.9 318.6L621.9 322.1M624 325.8L621 330.2M624 333.2L620.8 337.4M624 340.7L621.3 343.7M624 348L621.2 351M624 355.4L621.2 358.3M624 362.8L621.1 365.6M630.5 216.4L633.1 215.6M630.5 223.8L633.1 223M630.3 231.2L634.2 230.1M630.2 238.5L635.4 237.4M630.2 245.8L635.4 244.9M630.2 253.1L635.4 252.5M630.2 260.4L635.5 260.3M630.2 267.6L635.4 268.1M630.5 274.9L633.1 275.6M630.5 282.2L632.9 283.5M630.7 289.5L631.9 290.8M630.8 296.8L631.5 298.4M630.9 304L631.2 306.7M631 311.3L630.6 314M631.1 318.5L629.9 322.4M631.2 325.8L629.1 330.6M631.3 333.2L628.7 337.8M631.3 340.6L629.1 344M631.3 348L628.9 351.3M631.3 355.4L628.8 358.5M631.3 362.7L628.7 365.8M637.8 216.4L640.5 215.8M637.8 223.7L640.5 223.2M637.7 231.1L641.6 230.5M637.5 238.4L642.8 237.8M637.5 245.7L642.8 245.5M637.5 253L642.8 253.1M637.5 260.3L642.8 260.9M637.5 267.5L642.7 268.8M637.6 274.8L642.5 276.8M637.8 282L641.1 284.3M637.9 289.3L640.5 292.3M638 296.5L639.8 300.1M638.1 303.8L639 307.7M638.3 311.2L638.3 315.2M638.4 318.4L637.6 323.6M638.5 325.7L637 330.8M638.6 333.1L636.6 338M638.6 340.6L636.8 344.2M638.6 348L636.6 351.5M638.6 355.3L636.5 358.7M638.6 362.7L636.3 366M645.3 216.3L647 216.1M645.2 223.7L647.9 223.4M645 231L649 230.8M645 238.3L649 238.3M644.9 245.6L650.2 245.9M644.9 252.9L650.1 253.6M644.9 260.2L650.1 261.4M644.9 267.5L649.9 269.3M645 274.7L649.6 277.2M645 281.9L649.2 285.2M645.2 289.2L648.6 293.2M645.3 296.4L647.8 301.1M645.4 303.7L647 308.8M645.6 311L646.2 316.3M645.7 318.4L645.5 323.7M645.8 325.7L644.9 331M645.8 333.1L644.5 338.2M645.9 340.6L644.5 344.4M645.9 347.9L644.3 351.6M645.9 355.3L644.1 358.9M646 362.7L644 366.1M652.7 216.3L654.4 216.2M652.5 223.7L655.3 223.6M652.5 231L655.3 231M652.4 238.3L656.4 238.6M652.2 245.6L657.5 246.4M652.3 252.9L657.4 254.1M652.3 260.1L657.3 261.8M652.3 267.4L657.1 269.7M652.4 274.6L656.8 277.5M652.4 281.9L656.4 285.4M652.5 289.2L655.8 293.3M652.6 296.4L655.2 301.1M652.7 303.7L654.5 308.7M652.9 311L653.8 316.2M653 318.4L653.2 323.7M653.1 325.7L652.7 331M653.1 333.2L652.4 337.2M653.2 340.6L652.1 344.5M653.2 347.9L651.9 351.7M653.2 355.3L651.7 359M653.3 362.6L651.6 366.3M660.1 216.3L661.8 216.3M660.1 223.6L661.8 223.7M659.9 230.9L662.6 231.2M659.7 238.2L663.7 238.9M659.6 245.5L664.8 246.7M659.6 252.8L664.7 254.4M659.7 260.1L664.5 262.2M659.7 267.3L664.3 269.9M659.7 274.6L664 277.7M659.8 281.9L663.6 285.5M659.9 289.2L663.2 293.3M660 296.4L662.6 301M660.1 303.7L662 308.7M660.2 311L661.4 316.2M660.3 318.5L660.8 322.5M660.4 325.8L660.4 329.9M660.4 333.2L660.1 337.2M660.5 340.5L659.8 344.5M660.5 347.9L659.5 351.8M660.6 355.3L659.3 359.1M660.6 362.6L659.1 366.4M667.6 216.3L668.2 216.3M667.4 223.6L669.1 223.8M667.4 230.9L669.1 231.2M667.3 238.2L669.9 238.8M667.1 245.5L671 246.7M667 252.7L671.9 254.7M667 260L671.8 262.4M667.1 267.3L671.6 270.1M667.1 274.6L671.3 277.9M667.2 281.9L670.9 285.6M667.3 289.1L670.5 293.4M667.3 296.4L670 301M667.5 303.9L669 307.6M667.5 311.2L668.7 315M667.6 318.5L668.3 322.5M667.7 325.8L667.9 329.9M667.7 333.2L667.6 337.2M667.8 340.5L667.4 344.5M667.8 347.9L667.1 351.9M667.9 355.2L666.9 359.2M667.9 362.6L666.7 366.4M675 216.3L675.6 216.4M675 223.6L675.6 223.7M674.8 230.9L676.5 231.3M674.8 238.3L676.4 238.7M674.6 245.5L677.2 246.5M674.5 252.8L678.2 254.4M674.4 260L679 262.6M674.5 267.3L678.8 270.3M674.5 274.6L678.5 278M674.6 281.9L678.2 285.7M674.6 289.1L677.8 293.4M674.7 296.4L677.4 301M674.8 303.9L676.5 307.5M674.9 311.2L676.1 315M674.9 318.5L675.8 322.5M675 325.8L675.5 329.8M675.1 333.2L675.2 337.2M675.1 340.5L674.9 344.6M675.2 347.9L674.7 351.9M675.2 355.2L674.5 359.2M675.2 362.6L674.3 366.5M682.3 216.3L682.9 216.4M682.3 223.6L682.9 223.8M682.3 231L682.9 231.1M682.2 238.2L683.8 238.8M682.2 245.6L683.8 246.2M682 252.8L684.5 254.1M681.9 260L685.3 262.2M681.9 267.3L685.2 269.8M681.9 274.5L685.8 278.1M681.9 281.8L685.5 285.8M682 289.1L685.1 293.4M682.1 296.4L684.8 301M682.2 303.9L683.9 307.5M682.2 311.2L683.6 315M682.3 318.5L683.3 322.4M682.3 325.8L683 329.8M682.4 333.2L682.7 337.2M682.4 340.5L682.4 344.6M682.5 347.9L682.2 351.9M682.5 355.2L682 359.2M682.6 362.6L681.8 366.5M689.7 216.3L690.3 216.4M689.7 223.6L690.3 223.8M689.7 231L690.3 231.1M689.7 238.3L690.3 238.5M689.7 245.6L690.2 245.9M689.5 252.9L691 253.7M689.4 260.1L691.7 261.6M689.4 267.4L691.6 269.1M689.3 274.6L692.3 277.4M689.4 281.9L692 285M689.4 289.1L692.5 293.4M689.4 296.4L692.1 301M689.5 303.9L691.3 307.5M689.6 311.2L691 315M689.6 318.5L690.7 322.4M689.7 325.9L690.4 329.8M689.7 333.3L690.1 336.1M689.8 340.7L689.9 343.4M689.8 348L689.7 350.8M689.8 355.4L689.6 358.1M689.9 362.7L689.5 365.5" stroke="#111" stroke-width="0.78" fill="none"/>
<path d="M543.8 212.2L543.9 214.3L542.5 213.9zM543.6 219.5L543.8 221.6L542.4 221.3zM543.4 226.8L543.7 228.9L542.3 228.6zM543.1 234.1L543.6 236.2L542.2 236zM542.8 241.4L543.4 243.4L542 243.4zM542.5 248.8L543.3 250.7L541.8 250.8zM542.1 256.1L543.1 258L541.6 258.2zM541.5 262.1L542.7 264.2L541.1 264.6zM540.9 269.6L542.4 271.6L540.8 272.1zM539.9 276.1L541.6 277.9L540.1 278.6zM539.3 283.8L541.1 285.4L539.7 286.2zM538.6 291.5L540.6 292.9L539.3 293.9zM538 299.3L540.2 300.5L539 301.6zM538.4 308L540.6 308.9L539.5 310.1zM539.2 316.6L541.2 317.2L540.3 318.3zM540.3 325.1L541.6 325.4L541.1 326.1zM541.8 333.4L542.2 333.5L542.1 333.7zM541.7 340.8L542.2 340.8L542.1 341.1zM541.7 348.2L542.2 348.2L542.1 348.5zM541.7 355.6L542.2 355.6L542.1 355.9zM541.7 363L542.1 363L542.1 363.3zM551.4 212.3L551.4 214.4L550 213.9zM551.2 219.5L551.3 221.7L549.9 221.3zM551 226.8L551.2 228.9L549.8 228.6zM550.7 234.1L551.1 236.2L549.6 236zM550.4 241.4L550.9 243.5L549.5 243.3zM550.1 248.8L550.7 250.8L549.3 250.7zM549.6 254.7L550.6 256.9L548.9 257zM549.1 262.1L550.2 264.2L548.6 264.5zM548.5 269.6L549.9 271.6L548.3 272zM547.4 276.1L549 277.9L547.5 278.5zM546.7 283.8L548.5 285.4L547 286.2zM546 291.6L548 292.9L546.6 293.9zM545.3 299.4L547.5 300.5L546.3 301.7zM545.6 308.1L547.9 308.9L546.8 310.2zM546.4 316.7L548.5 317.3L547.7 318.4zM546.2 324.4L548.3 324.8L547.6 326zM546 332.1L548.2 332.3L547.6 333.6zM547.4 340.3L548.8 340.3L548.5 341.1zM547.4 347.8L548.7 347.7L548.5 348.6zM549.1 355.7L549.5 355.6L549.4 355.9zM549 363.1L549.5 363L549.5 363.3zM559.5 211.1L559.4 213.5L557.9 212.9zM558.8 219.6L558.8 221.8L557.4 221.3zM558.6 226.9L558.7 229L557.3 228.6zM558.3 234.2L558.6 236.3L557.2 235.9zM558 241.5L558.4 243.6L557 243.3zM557.8 247.4L558.4 249.7L556.8 249.6zM557.3 254.7L558.1 257L556.5 257zM556.7 262.1L557.8 264.2L556.1 264.4zM556 269.5L557.4 271.6L555.7 271.9zM554.9 276L556.5 277.9L555 278.4zM554.1 283.7L555.9 285.4L554.4 286.1zM553.3 291.6L555.3 292.9L554 293.9zM552.6 299.5L554.8 300.6L553.6 301.8zM552 307.5L554.3 308.3L553.2 309.6zM552.5 316.2L554.9 316.6L554 318.1zM552.2 324L554.6 324.3L553.9 325.8zM553.3 332.4L555.4 332.4L554.9 333.7zM553.2 340L555.3 339.9L554.9 341.3zM554.7 348L556 347.8L555.8 348.7zM554.7 355.5L556 355.2L555.8 356.1zM556.4 363.1L556.8 363L556.8 363.3zM567.3 211.2L567 213.6L565.5 212.9zM567 218.5L566.8 220.9L565.3 220.2zM566.8 225.7L566.7 228.1L565.1 227.5zM566.4 232.9L566.5 235.4L564.9 234.9zM566.1 240.2L566.3 242.6L564.7 242.2zM565.6 247.4L566 249.8L564.4 249.5zM565.1 254.7L565.7 257L564.1 256.9zM564.4 262L565.3 264.3L563.7 264.4zM563.7 269.5L564.9 271.6L563.3 271.9zM562.5 275.9L564 277.8L562.5 278.4zM561.5 283.7L563.3 285.3L561.9 286.1zM560.6 291.6L562.6 293L561.3 294zM559.8 299.7L562 300.7L560.8 301.9zM559.1 307.8L561.5 308.5L560.5 309.8zM558.6 315.9L561.1 316.3L560.3 317.7zM559.4 324.4L561.8 324.5L561.2 326zM559.2 332.3L561.6 332.1L561.2 333.7zM560.5 340.4L562.6 340L562.3 341.4zM560.4 348L562.5 347.5L562.3 349zM562 355.7L563.3 355.3L563.2 356.2zM562 363.2L563.3 362.7L563.3 363.6zM575 211.4L574.5 213.8L573.1 213zM574.8 218.7L574.4 221.1L572.9 220.3zM574.5 225.9L574.3 228.3L572.8 227.6zM574.3 233.1L574.1 235.5L572.6 234.9zM573.9 240.3L573.9 242.7L572.4 242.2zM573.5 247.5L573.7 249.9L572.1 249.5zM572.9 254.7L573.4 257.1L571.7 256.9zM572.2 262L573 264.4L571.3 264.3zM571.4 269.4L572.5 271.6L570.8 271.8zM570.5 276.9L571.9 278.9L570.3 279.4zM569.5 284.6L571.3 286.3L569.8 287.1zM567.9 291.7L569.9 293L568.6 294zM566.9 299.9L569.2 300.8L568.1 302zM566.2 308.2L568.6 308.7L567.8 310.1zM565.8 316.4L568.2 316.6L567.5 318.1zM565.5 324.5L567.9 324.4L567.5 326zM566.4 332.8L568.9 332.4L568.6 334zM566.4 340.6L568.7 340L568.6 341.6zM567.8 348.4L569.8 347.7L569.7 349.2zM569.4 355.9L570.6 355.4L570.6 356.3zM569.4 363.4L570.6 362.9L570.7 363.8zM582.7 211.7L582 214L580.7 213.1zM582.6 218.9L582 221.3L580.6 220.4zM582.4 226.1L581.9 228.5L580.5 227.7zM582.1 233.3L581.7 235.7L580.3 235zM581.8 240.5L581.6 242.9L580.1 242.3zM581.4 247.7L581.4 250.1L579.8 249.6zM580.9 254.9L581.1 257.3L579.5 256.9zM580.2 262.1L580.7 264.5L579 264.2zM579.3 269.4L580.2 271.7L578.5 271.7zM578.2 276.8L579.5 278.9L577.9 279.3zM577 284.6L578.7 286.3L577.2 287zM575.9 292.6L577.9 293.9L576.6 295zM574 300.2L576.4 301L575.3 302.3zM573.3 308.7L575.7 309L575 310.5zM572.9 317.1L575.3 317L574.8 318.5zM572.7 325.3L575.1 324.8L574.8 326.5zM572.6 333.3L574.9 332.6L574.8 334.3zM573.7 341.2L576 340.3L576 342zM575.1 348.8L577.1 347.9L577.2 349.4zM575.2 356.4L577.1 355.4L577.2 356.8zM576.8 363.6L577.9 363L578.1 363.9zM590.5 212L589.6 214.3L588.3 213.2zM590.3 219.2L589.5 221.5L588.2 220.5zM590.2 226.4L589.5 228.8L588.1 227.8zM590 233.6L589.4 236L588 235.1zM589.7 240.8L589.2 243.2L587.8 242.4zM589.4 248L589.1 250.4L587.6 249.6zM588.9 255.1L588.8 257.6L587.3 256.9zM588.3 262.2L588.5 264.7L586.9 264.2zM587.4 269.4L588 271.8L586.3 271.6zM586.3 278.2L587.2 280.1L585.8 280.2zM585.1 285.8L586.6 287.4L585.2 287.9zM584 293.8L585.8 294.9L584.7 295.8zM582 301.3L584.4 301.9L583.5 303.3zM581.4 309.9L583.8 309.9L583.3 311.4zM580 318L582.4 317.5L582.1 319.2zM579.9 326.2L582.3 325.4L582.2 327.1zM579.9 334.2L582.2 333.2L582.3 334.9zM581.1 341.8L583.3 340.7L583.5 342.4zM582.5 349.2L584.4 348.2L584.6 349.6zM582.6 356.8L584.4 355.6L584.7 357zM584.2 363.9L585.3 363.1L585.5 364zM598.2 212.3L597.1 214.5L596 213.3zM598.1 219.6L597.1 221.8L595.9 220.6zM598 226.8L597 229.1L595.8 227.9zM597.9 234L597 236.3L595.7 235.2zM597.7 241.3L596.9 243.6L595.6 242.5zM597.5 248.4L596.8 250.8L595.4 249.8zM597.1 255.5L596.6 257.9L595.2 257.1zM596 263.9L595.8 266L594.5 265.4zM594.9 272.5L595 273.8L594.1 273.6zM594.2 281.5L594.3 281.9L594 281.9zM594 288.8L594.2 289.2L593.9 289.3zM593.6 296.3L594 296.6L593.7 296.8zM591.8 303.2L593.1 303.4L592.7 304.2zM589.9 311.1L592 310.7L591.8 312.1zM587.3 319.2L589.6 318.4L589.6 320zM587.3 327.3L589.5 326.2L589.7 327.8zM587.4 335.2L589.5 333.9L589.8 335.5zM588.6 342.6L590.6 341.2L591 342.8zM590 349.7L591.7 348.5L592.1 349.9zM590.1 357.2L591.7 355.9L592.2 357.3zM591.6 364.1L592.6 363.3L592.9 364.1zM605.9 212.7L604.6 214.8L603.6 213.5zM605.9 220L604.6 222.1L603.6 220.8zM606.7 226.5L605.5 228.7L604.4 227.4zM606.6 233.8L605.4 235.9L604.3 234.7zM605.7 241.8L604.5 244L603.4 242.8zM605.5 249L604.5 251.2L603.3 250.1zM605.4 256.2L604.4 258.4L603.2 257.3zM604.2 264.4L603.5 266.4L602.4 265.5zM603 272.9L602.7 274.1L601.9 273.6zM602 281.6L601.9 282.1L601.6 281.9zM600.6 304.2L601.1 304.1L601 304.4zM598.8 312L600 311.4L600.1 312.3zM596 320.5L598 319.2L598.4 320.8zM595 328.6L596.9 327.1L597.4 328.7zM595.1 336.3L596.9 334.7L597.5 336.2zM596.2 343.4L598 341.7L598.7 343.2zM597.6 350.3L599.1 348.8L599.7 350.1zM597.6 357.7L599.1 356.2L599.7 357.5zM597.6 365.1L599.1 363.6L599.7 364.8zM613.6 213.1L612.1 215.1L611.2 213.7zM613.6 220.5L612.1 222.4L611.2 221.1zM614.5 227.2L613.1 229.1L612.1 227.8zM614.5 234.5L613.1 236.5L612.1 235.1zM614.5 241.8L613.1 243.8L612.1 242.4zM613.5 249.8L612.1 251.8L611.2 250.4zM613.5 257.1L612.1 259.1L611.2 257.7zM612.3 265.2L611.1 267L610.3 265.8zM611.1 273.6L610.3 274.7L609.8 273.9zM609.7 282L609.4 282.3L609.2 282.1zM606.4 312.9L607.4 312L607.7 312.8zM603.9 322L605.5 320.1L606.3 321.6zM603 330L604.5 328.1L605.4 329.5zM603 337.4L604.5 335.5L605.4 336.9zM604 344.2L605.5 342.2L606.4 343.7zM605.2 350.8L606.5 349.1L607.3 350.3zM605.2 358.1L606.5 356.5L607.3 357.7zM605.2 365.5L606.5 363.8L607.3 365zM621.2 213.6L619.6 215.4L618.8 214zM621.2 221L619.6 222.8L618.8 221.3zM621.3 228.4L619.6 230.2L618.8 228.7zM622.3 235.3L620.6 237L619.9 235.6zM622.4 242.7L620.6 244.5L619.9 243zM622.4 250.2L620.7 251.9L620 250.4zM621.5 258.2L619.7 259.8L619 258.3zM620.2 266.3L618.6 267.6L618.1 266.3zM618.8 274.5L617.7 275.2L617.5 274.3zM617.1 282.5L616.7 282.6L616.7 282.3zM615.6 305.2L615.8 304.7L616 304.9zM614.4 313.8L614.9 312.6L615.6 313.1zM612.3 323.3L613.3 321.1L614.5 322.2zM611.3 331.2L612.4 329L613.5 330.2zM611.1 338.4L612.3 336.2L613.4 337.5zM611.9 344.9L613.1 342.7L614.2 344zM611.8 352.1L613.1 350L614.1 351.3zM612.9 358.5L614 356.7L614.9 357.8zM612.8 365.8L614 364L614.9 365.2zM627.5 214.6L625.9 216.1L625.4 214.7zM628.8 221.5L627 223.1L626.4 221.6zM628.9 229L627 230.6L626.4 229zM630 236.1L628.1 237.6L627.6 236.1zM630.1 243.6L628.1 245.1L627.6 243.5zM630.2 251.3L628.2 252.7L627.7 251.1zM630.3 259.1L628.2 260.3L627.9 258.7zM627.8 267.3L625.9 268.2L625.8 266.8zM627.8 275.2L625.8 275.9L625.9 274.4zM626.1 283.4L624.7 283.3L625.1 282.5zM624.2 290.4L623.8 290.2L624 290zM623.7 298L623.5 297.6L623.8 297.6zM623.1 307.1L622.9 305.8L623.7 305.9zM622.1 315.8L622.1 313.7L623.5 314.2zM620.8 324.1L621.2 321.7L622.7 322.5zM619.7 332.1L620.3 329.8L621.7 330.7zM619.3 339.2L620.1 336.9L621.4 337.9zM619.8 345.5L620.7 343.2L622 344.3zM619.7 352.7L620.6 350.4L621.9 351.6zM619.6 359.9L620.6 357.7L621.8 358.9zM619.5 367.2L620.5 365L621.7 366.2zM635 215L633.3 216.3L632.9 214.9zM635 222.4L633.3 223.7L632.9 222.3zM636.4 229.5L634.4 230.9L634 229.3zM637.6 236.9L635.5 238.2L635.2 236.5zM637.7 244.5L635.5 245.7L635.3 244.1zM637.7 252.3L635.5 253.4L635.3 251.7zM637.8 260.2L635.5 261.1L635.4 259.4zM637.7 268.4L635.4 269L635.5 267.3zM635.1 276.1L632.9 276.3L633.3 274.9zM634.7 284.4L632.6 284.1L633.3 282.8zM632.8 291.7L631.6 291.1L632.2 290.5zM632 299.5L631.1 298.6L631.9 298.2zM631.4 308.7L630.5 306.8L631.9 306.6zM630.4 316L629.9 314L631.4 314.1zM629.3 324.6L629.1 322.1L630.7 322.6zM628.1 332.7L628.3 330.3L629.8 331zM627.6 339.8L628 337.4L629.4 338.2zM627.8 345.9L628.4 343.6L629.8 344.5zM627.6 353.1L628.3 350.8L629.6 351.7zM627.4 360.3L628.2 358L629.5 359zM627.3 367.6L628.1 365.3L629.4 366.3zM642.4 215.3L640.7 216.5L640.3 215.1zM642.5 222.8L640.7 223.9L640.4 222.5zM643.9 230.1L641.8 231.3L641.5 229.6zM645.1 237.6L642.9 238.7L642.7 237zM645.1 245.3L642.9 246.3L642.8 244.6zM645.1 253.2L642.8 254L642.8 252.3zM645.1 261.2L642.7 261.7L642.9 260.1zM644.9 269.4L642.5 269.6L642.9 268zM644.6 277.7L642.1 277.6L642.8 276.1zM643 285.6L640.6 285L641.5 283.6zM642.1 294L639.9 292.8L641.2 291.7zM640.9 302.2L639.1 300.5L640.6 299.7zM639.6 310L638.2 307.9L639.9 307.6zM638.4 317.5L637.5 315.2L639.2 315.2zM637.3 325.9L636.8 323.5L638.4 323.7zM636.4 333.1L636.2 330.6L637.8 331.1zM635.8 340.2L635.8 337.7L637.4 338.3zM635.8 346.3L636.1 343.9L637.5 344.6zM635.5 353.5L635.9 351.1L637.3 351.9zM635.2 360.7L635.8 358.3L637.2 359.2zM635 367.9L635.7 365.5L637 366.5zM648.3 215.9L647.1 216.5L647 215.6zM649.9 223.2L648 224.1L647.8 222.7zM651.3 230.6L649.1 231.6L649 230zM651.3 238.3L649 239.1L649 237.5zM652.5 246.1L650.1 246.8L650.2 245.1zM652.4 254L650 254.5L650.2 252.8zM652.3 262L649.9 262.2L650.2 260.6zM652.1 270.1L649.6 270.1L650.2 268.5zM651.6 278.4L649.2 278L650 276.5zM651 286.7L648.7 285.9L649.7 284.6zM650 295L647.9 293.8L649.2 292.7zM648.9 303.1L647.1 301.5L648.5 300.7zM647.6 311L646.2 309L647.8 308.5zM646.4 318.6L645.3 316.4L647 316.2zM645.4 326L644.7 323.6L646.3 323.7zM644.5 333.2L644.1 330.8L645.7 331.1zM643.9 340.4L643.7 338L645.3 338.4zM643.7 346.5L643.7 344.1L645.3 344.6zM643.3 353.7L643.5 351.3L645 352zM643.1 360.9L643.4 358.5L644.8 359.3zM642.8 368.1L643.2 365.7L644.7 366.6zM655.7 216.1L654.5 216.6L654.4 215.7zM657.3 223.5L655.3 224.3L655.3 222.9zM657.3 231.1L655.3 231.8L655.3 230.3zM658.7 238.8L656.3 239.4L656.4 237.8zM659.8 246.7L657.4 247.2L657.6 245.5zM659.7 254.6L657.2 254.9L657.6 253.3zM659.5 262.6L657 262.6L657.6 261zM659.2 270.6L656.7 270.4L657.5 268.9zM658.7 278.8L656.4 278.2L657.3 276.8zM658.1 287L655.8 286L656.9 284.8zM657.3 295.1L655.2 293.8L656.5 292.8zM656.3 303.1L654.5 301.5L655.9 300.7zM655.3 310.9L653.7 309L655.3 308.4zM654.3 318.5L653 316.4L654.7 316.1zM653.3 326L652.4 323.7L654.1 323.6zM652.5 333.3L651.9 330.9L653.5 331.1zM652 339.4L651.6 337L653.2 337.3zM651.6 346.7L651.3 344.2L652.9 344.7zM651.2 353.9L651.1 351.5L652.7 352zM650.9 361.1L651 358.7L652.5 359.3zM650.6 368.4L650.8 365.9L652.3 366.6zM663 216.3L661.8 216.7L661.8 215.8zM663 223.8L661.8 224.2L661.8 223.3zM664.6 231.4L662.6 231.9L662.7 230.5zM666 239.2L663.6 239.7L663.8 238zM667 247.2L664.6 247.5L665 245.9zM666.9 255.1L664.4 255.2L664.9 253.6zM666.7 263.1L664.2 262.9L664.9 261.4zM666.3 271.1L663.9 270.7L664.7 269.2zM665.9 279.1L663.5 278.4L664.5 277.1zM665.3 287.1L663.1 286.1L664.2 285zM664.6 295.1L662.5 293.8L663.8 292.8zM663.7 303L661.9 301.4L663.3 300.6zM662.9 310.8L661.3 309L662.8 308.4zM662 318.4L660.6 316.4L662.2 316zM661 324.8L659.9 322.6L661.6 322.4zM660.4 332.2L659.6 329.9L661.2 329.9zM659.8 339.5L659.2 337.1L660.9 337.3zM659.4 346.8L659 344.4L660.6 344.7zM659 354L658.7 351.6L660.3 352zM658.6 361.3L658.5 358.8L660.1 359.3zM658.3 368.5L658.4 366.1L659.9 366.7zM668.6 216.4L668.2 216.5L668.2 216.2zM670.4 223.9L669.1 224.2L669.2 223.4zM670.4 231.4L669.1 231.7L669.2 230.8zM671.9 239.3L669.8 239.5L670.1 238.1zM673.2 247.3L670.7 247.5L671.2 245.9zM674.1 255.5L671.6 255.5L672.2 253.9zM673.8 263.4L671.4 263.1L672.1 261.7zM673.5 271.4L671.1 270.8L672 269.4zM673.1 279.3L670.7 278.5L671.8 277.2zM672.5 287.3L670.3 286.2L671.5 285.1zM671.9 295.2L669.8 293.9L671.1 292.9zM671.2 303L669.3 301.4L670.7 300.6zM669.9 309.7L668.3 307.9L669.8 307.2zM669.3 317.3L667.9 315.3L669.5 314.8zM668.7 324.7L667.5 322.6L669.1 322.3zM668.1 332.2L667.1 329.9L668.8 329.8zM667.6 339.5L666.8 337.2L668.5 337.2zM667.1 346.8L666.5 344.5L668.2 344.6zM666.7 354.1L666.3 351.7L667.9 352zM666.4 361.4L666.1 359L667.7 359.3zM666 368.6L665.9 366.2L667.5 366.7zM676 216.4L675.5 216.5L675.6 216.2zM676 223.8L675.5 223.9L675.6 223.6zM677.7 231.6L676.4 231.7L676.6 230.9zM677.6 239.1L676.3 239.2L676.6 238.3zM679.1 247.2L677 247.1L677.5 245.8zM680.3 255.4L677.8 255.2L678.5 253.7zM681 263.7L678.6 263.3L679.4 261.9zM680.7 271.6L678.3 271L679.3 269.6zM680.3 279.5L678 278.6L679.1 277.4zM679.8 287.4L677.6 286.3L678.8 285.1zM679.2 295.2L677.1 293.9L678.5 292.9zM678.5 303L676.7 301.4L678.1 300.6zM677.4 309.6L675.7 307.9L677.2 307.2zM676.8 317.2L675.3 315.3L676.9 314.8zM676.3 324.7L675 322.6L676.6 322.3zM675.7 332.1L674.6 329.9L676.3 329.8zM675.2 339.5L674.3 337.2L676 337.2zM674.8 346.9L674.1 344.5L675.7 344.6zM674.4 354.2L673.9 351.8L675.5 352zM674 361.5L673.6 359L675.3 359.3zM673.7 368.7L673.5 366.3L675.1 366.7zM683.3 216.5L682.9 216.5L683 216.2zM683.3 223.8L682.9 223.9L683 223.6zM683.3 231.2L682.9 231.3L683 231zM685 239.2L683.6 239.2L683.9 238.4zM684.9 246.7L683.6 246.7L683.9 245.8zM686.2 255L684.1 254.7L684.8 253.4zM687.3 263.4L684.9 262.9L685.8 261.5zM687 271.1L684.7 270.4L685.7 269.1zM687.5 279.7L685.2 278.7L686.4 277.5zM687 287.5L684.9 286.3L686.1 285.2zM686.5 295.2L684.5 293.9L685.8 292.9zM685.9 303L684 301.4L685.5 300.6zM684.8 309.6L683.1 307.9L684.6 307.2zM684.3 317.2L682.8 315.3L684.3 314.7zM683.8 324.7L682.5 322.6L684.1 322.2zM683.3 332.1L682.2 330L683.8 329.7zM682.9 339.5L681.9 337.3L683.5 337.1zM682.4 346.9L681.6 344.6L683.3 344.6zM682.1 354.2L681.4 351.8L683 352zM681.7 361.5L681.2 359.1L682.8 359.3zM681.4 368.8L681 366.4L682.6 366.7zM690.7 216.5L690.2 216.6L690.3 216.3zM690.7 223.9L690.2 223.9L690.3 223.6zM690.7 231.3L690.2 231.3L690.3 231zM690.7 238.7L690.2 238.7L690.3 238.4zM690.6 246.1L690.2 246L690.3 245.8zM692.1 254.3L690.8 254.1L691.3 253.3zM693.3 262.8L691.3 262.2L692.1 261zM693.1 270.4L691.1 269.7L692 268.6zM693.9 279L691.7 278L692.8 276.8zM693.6 286.7L691.4 285.5L692.7 284.4zM693.8 295.3L691.8 293.9L693.1 292.9zM693.3 303L691.4 301.4L692.8 300.6zM692.3 309.6L690.5 307.9L692 307.1zM691.8 317.1L690.2 315.3L691.8 314.7zM691.3 324.6L689.9 322.6L691.5 322.2zM690.9 332.1L689.6 330L691.3 329.7zM690.3 338.1L689.3 336.2L690.8 336zM690 345.4L689.2 343.5L690.6 343.4zM689.7 352.8L689 350.8L690.5 350.8zM689.4 360.1L688.9 358.1L690.3 358.2zM689.2 367.4L688.8 365.4L690.2 365.6z" stroke="#111" stroke-width="0.3" fill="#111" stroke-linejoin="round"/>
</g>
<text x="537.1" y="222.3" text-anchor="end" class="ab">0.2</text>
<text x="537.1" y="259" text-anchor="end" class="ab">0.1</text>
<text x="537.1" y="295.8" text-anchor="end" class="ab">0</text>
<text x="537.1" y="332.5" text-anchor="end" class="ab">-0.1</text>
<text x="537.1" y="369.2" text-anchor="end" class="ab">-0.2</text>
<text x="542.6" y="383.9" text-anchor="middle" class="ab">-0.2</text>
<text x="616.2" y="383.9" text-anchor="middle" class="ab">0</text>
<text x="689.8" y="383.9" text-anchor="middle" class="ab">0.2</text>
<text x="616.2" y="405.9" text-anchor="middle" class="al">Kx</text>
<text transform="translate(504.4 289.4) rotate(-90)" text-anchor="middle" class="al">Ky</text>
<rect x="706" y="216.3" width="10.4" height="146.9" fill="url(#cbg)" stroke="#6a5a5a" stroke-opacity="0.45" stroke-width="0.6"/>
<path d="M706 216.5h10.4M706 363h10.4" stroke="#2a1a1a" stroke-opacity="0.6" stroke-width="0.8"/>
<text x="721.2" y="222" class="cb">0.5</text>
<path d="M716.4 289.8h-1.5" stroke="#333" stroke-width="0.6"/>
<text x="721.2" y="295.4" class="cb">0</text>
<text x="721.2" y="368.9" class="cb">-0.5</text>
</g>
<g>
<clipPath id="hc5"><rect x="278.6" y="463.9" width="147.2" height="146.9"/></clipPath>
<g clip-path="url(#hc5)">
<rect x="277.6" y="462.9" width="149.2" height="148.9" fill="#189dff"/>
<path d="M321.9 455.9L321.9 463.9C321.5 467.4 320.4 477.9 319.8 484.9C319.2 491.9 318.6 498.9 318.2 505.9C317.8 512.9 317.7 519.9 317.6 526.9C317.5 533.9 317.5 540.8 317.6 547.8C317.7 554.8 318 561.8 318.4 568.8C318.8 575.8 319.4 582.8 320 589.8C320.6 596.8 321.6 607.3 321.9 610.8L321.9 618.8L433.8 618.8L433.8 455.9Z" fill="#52b6ff"/>
<path d="M332.7 455.9L332.7 463.9C332.4 468 331.6 480.2 331.2 488.4C330.8 496.5 330.4 504.7 330.2 512.9C330 521 330 529.2 330 537.3C330 545.5 330.1 553.7 330.3 561.8C330.5 570 330.8 578.2 331.3 586.3C331.8 594.5 332.8 606.7 333.1 610.8L333.1 618.8L433.8 618.8L433.8 455.9Z" fill="#8cceff"/>
<path d="M342.3 455.9L342.3 463.9C342.2 470 341.7 488.4 341.5 500.6C341.3 512.9 341.3 525.1 341.3 537.3C341.3 549.6 341.3 561.8 341.5 574.1C341.7 586.3 342.2 604.7 342.3 610.8L342.3 618.8L433.8 618.8L433.8 455.9Z" fill="#c5e6ff"/>
<path d="M351.9 455.9L351.9 463.9C351.9 488.4 351.9 586.3 351.9 610.8L351.9 618.8L433.8 618.8L433.8 455.9Z" fill="#fffcfb"/>
<path d="M359.6 455.9L359.6 463.9C359.6 488.4 359.6 586.3 359.6 610.8L359.6 618.8L433.8 618.8L433.8 455.9Z" fill="#ffdadb"/>
<path d="M367.8 455.9L367.8 463.9C367.9 470 368.1 488.4 368.2 500.6C368.3 512.9 368.4 525.1 368.4 537.3C368.4 549.6 368.3 561.8 368.2 574.1C368.1 586.3 367.9 604.7 367.8 610.8L367.8 618.8L433.8 618.8L433.8 455.9Z" fill="#ffb6b7"/>
<path d="M379 455.9L379 463.9C379.4 467.4 380.8 477.9 381.5 484.9C382.2 491.9 383.1 498.9 383.5 505.9C383.9 512.9 384.1 519.9 384.2 526.9C384.3 533.9 384.3 540.8 384.2 547.8C384.1 554.8 383.9 561.8 383.5 568.8C383.1 575.8 382.4 582.8 381.8 589.8C381.2 596.8 380.3 607.3 380 610.8L380 618.8L433.8 618.8L433.8 455.9Z" fill="#ff9293"/>
<path d="M416.1 463.1C416.1 464.9 415.8 466.9 415.3 468.5C414.9 470.2 414.1 471.7 413.2 472.9C412.4 474 411.3 474.9 410.2 475.3C409.1 475.7 407.9 475.7 406.8 475.3C405.7 474.9 404.6 474 403.8 472.9C402.9 471.7 402.1 470.2 401.7 468.5C401.2 466.9 400.9 464.9 400.9 463.1C400.9 461.3 401.2 459.3 401.7 457.7C402.1 456 402.9 454.5 403.8 453.3C404.6 452.2 405.7 451.3 406.8 450.9C407.9 450.5 409.1 450.5 410.2 450.9C411.3 451.3 412.4 452.2 413.2 453.3C414.1 454.5 414.9 456 415.3 457.7C415.8 459.3 416.1 461.3 416.1 463.1Z" fill="#ff6d6f"/>
<path d="M416.1 611.6C416.1 613.3 415.8 615.1 415.3 616.6C414.9 618.1 414.1 619.6 413.2 620.6C412.4 621.6 411.3 622.4 410.2 622.8C409.1 623.2 407.9 623.2 406.8 622.8C405.7 622.4 404.6 621.6 403.8 620.6C402.9 619.6 402.1 618.1 401.7 616.6C401.2 615.1 400.9 613.3 400.9 611.6C400.9 609.9 401.2 608.1 401.7 606.6C402.1 605.1 402.9 603.6 403.8 602.6C404.6 601.6 405.7 600.8 406.8 600.4C407.9 600 409.1 600 410.2 600.4C411.3 600.8 412.4 601.6 413.2 602.6C414.1 603.6 414.9 605.1 415.3 606.6C415.8 608.1 416.1 609.9 416.1 611.6Z" fill="#ff6d6f"/>
<path d="M279 464.1L276.5 462.9M279 471.4L276.5 470.3M279 478.8L276.5 477.6M279 486.1L276.5 485M279 493.5L276.5 492.3M279 500.8L276.5 499.7M279.1 508.2L276.4 507.1M279.1 515.4L276.3 514.8M279.1 522.7L276.2 522.7M279.1 530L276.2 530M279.1 537.4L276.2 537.4M279.1 544.7L276.2 544.7M279.1 552L276.2 552M279.1 559.3L276.3 559.9M279.1 566.5L276.4 567.6M279 573.9L276.5 575M279 581.2L276.5 582.4M279 588.6L276.5 589.7M279 595.9L276.5 597.1M279 603.3L276.5 604.4M279 610.6L276.5 611.8M286.4 464.1L283.8 462.9M286.4 471.4L283.8 470.3M286.4 478.8L283.8 477.6M286.4 486.1L283.8 485M286.4 493.5L283.8 492.3M286.4 500.8L283.8 499.7M286.4 508.2L283.8 507.1M286.4 515.4L283.7 514.8M286.5 522.7L283.6 522.7M286.5 530L283.6 530M286.5 537.4L283.6 537.4M286.5 544.7L283.6 544.7M286.5 552L283.6 552M286.4 559.3L283.7 559.9M286.4 566.5L283.8 567.6M286.4 573.9L283.8 575M286.4 581.2L283.8 582.4M286.4 588.6L283.8 589.7M286.4 595.9L283.8 597.1M286.4 603.3L283.8 604.4M286.4 610.6L283.8 611.8M293.8 464.1L291.2 462.9M293.8 471.4L291.2 470.3M293.8 478.8L291.2 477.6M293.8 486.1L291.2 485M293.8 493.5L291.2 492.3M293.8 500.8L291.2 499.7M293.8 508.2L291.1 507.1M293.8 515.4L291 514.8M293.8 522.7L291 522.7M293.8 530L291 530M293.8 537.4L291 537.4M293.8 544.7L291 544.7M293.8 552L291 552M293.8 559.3L291 559.9M293.8 566.5L291.1 567.6M293.8 573.9L291.2 575M293.8 581.2L291.2 582.4M293.8 588.6L291.2 589.7M293.8 595.9L291.2 597.1M293.8 603.3L291.2 604.4M293.8 610.6L291.2 611.8M301.1 464.1L298.5 462.9M301.1 471.4L298.5 470.3M301.1 478.8L298.5 477.6M301.1 486.1L298.5 485M301.1 493.5L298.5 492.3M301.1 500.8L298.5 499.7M301.1 508.2L298.5 507.1M301.2 515.4L298.4 514.8M301.2 522.7L298.3 522.7M301.2 530L298.3 530M301.2 537.4L298.3 537.4M301.2 544.7L298.3 544.7M301.2 552L298.3 552M301.2 559.3L298.4 559.9M301.1 566.5L298.5 567.6M301.1 573.9L298.5 575M301.1 581.2L298.5 582.4M301.1 588.6L298.5 589.7M301.1 595.9L298.5 597.1M301.1 603.3L298.5 604.4M301.1 610.6L298.5 611.8M308.5 464.1L305.9 462.9M308.5 471.4L305.9 470.3M308.5 478.8L305.9 477.6M308.5 486.1L305.9 485M308.5 493.5L305.9 492.3M308.5 500.8L305.9 499.7M308.5 508.2L305.9 507.1M308.5 515.4L305.7 514.8M308.5 522.7L305.7 522.7M308.5 530L305.7 530M308.5 537.4L305.7 537.4M308.5 544.7L305.7 544.7M308.5 552L305.7 552M308.5 559.3L305.7 559.9M308.5 566.5L305.9 567.6M308.5 573.9L305.9 575M308.5 581.2L305.9 582.4M308.5 588.6L305.9 589.7M308.5 595.9L305.9 597.1M308.5 603.3L305.9 604.4M308.5 610.6L305.9 611.8M315.8 464.1L313.5 463M315.8 471.4L313.5 470.4M315.8 478.8L313.5 477.7M315.8 486.1L313.5 485.1M315.8 493.5L313.4 492.4M315.8 500.8L313.4 499.8M315.8 508.1L313.4 507.2M315.8 515.4L313.3 514.9M315.8 522.7L313.3 522.7M315.8 530L313.3 530M315.8 537.4L313.3 537.4M315.8 544.7L313.3 544.7M315.8 552L313.3 552M315.8 559.3L313.3 559.8M315.8 566.6L313.4 567.5M315.8 573.9L313.4 574.9M315.8 581.2L313.4 582.3M315.8 588.6L313.5 589.6M315.8 595.9L313.5 597M315.8 603.3L313.5 604.3M315.8 610.6L313.5 611.7M323.1 464L321.2 463.2M323.1 471.4L321.2 470.5M323.1 478.7L321.2 477.9M323.1 486.1L321.2 485.2M323.1 493.4L321.2 492.6M323.1 500.8L321.2 499.9M323.1 508.1L321.2 507.3M323.1 515.4L321.1 515M323.1 522.7L321 522.7M323.1 530L321 530M323.1 537.4L321 537.4M323.1 544.7L321 544.7M323.1 552L321 552M323.1 559.3L321.1 559.7M323.1 566.6L321.2 567.4M323.1 573.9L321.2 574.8M323.1 581.3L321.2 582.1M323.1 588.6L321.2 589.5M323.1 596L321.2 596.8M323.1 603.3L321.2 604.2M323.1 610.7L321.2 611.5M330.4 464L329 463.4M330.4 471.4L329 470.7M330.4 478.7L329 478.1M330.4 486L329 485.4M330.4 493.4L328.9 492.8M330.4 500.7L328.9 500.1M330.4 508.1L328.9 507.5M330.4 515.4L328.9 515.1M330.4 522.7L328.8 522.7M330.4 530L328.8 530M330.4 537.4L328.8 537.4M330.4 544.7L328.8 544.7M330.4 552L328.8 552M330.4 559.3L328.9 559.6M330.4 566.6L328.9 567.2M330.4 574L328.9 574.6M330.4 581.3L328.9 581.9M330.4 588.7L329 589.3M330.4 596L329 596.6M330.4 603.3L329 604M330.4 610.7L329 611.3M337.6 464L336.7 463.5M337.6 471.3L336.7 470.9M337.6 478.7L336.7 478.2M337.6 486L336.7 485.6M337.6 493.4L336.7 492.9M337.6 500.7L336.7 500.3M337.6 508L336.7 507.6M337.7 515.4L336.6 515.1M337.7 522.7L336.6 522.7M337.7 530L336.6 530M337.7 537.4L336.6 537.4M337.7 544.7L336.6 544.7M337.7 552L336.6 552M337.7 559.3L336.6 559.6M337.6 566.7L336.7 567.1M337.6 574L336.7 574.4M337.6 581.3L336.7 581.8M337.6 588.7L336.7 589.1M337.6 596L336.7 596.5M337.6 603.4L336.7 603.8M337.6 610.7L336.7 611.2M344.8 463.9h.1M344.8 471.2h.1M344.8 478.6h.1M344.8 485.9h.1M344.8 493.3h.1M344.8 500.6h.1M344.8 508h.1M344.8 515.3h.1M344.8 522.7h.1M344.8 530h.1M344.8 537.4h.1M344.8 544.7h.1M344.8 552h.1M344.8 559.4h.1M344.8 566.7h.1M344.8 574.1h.1M344.8 581.4h.1M344.8 588.8h.1M344.8 596.1h.1M344.8 603.5h.1M344.8 610.8h.1M352.2 463.9h.1M352.2 471.2h.1M352.2 478.6h.1M352.2 485.9h.1M352.2 493.3h.1M352.2 500.6h.1M352.2 508h.1M352.2 515.3h.1M352.2 522.7h.1M352.2 530h.1M352.2 537.4h.1M352.2 544.7h.1M352.2 552h.1M352.2 559.4h.1M352.2 566.7h.1M352.2 574.1h.1M352.2 581.4h.1M352.2 588.8h.1M352.2 596.1h.1M352.2 603.5h.1M352.2 610.8h.1M359.5 463.9h.1M359.5 471.2h.1M359.5 478.6h.1M359.5 485.9h.1M359.5 493.3h.1M359.5 500.6h.1M359.5 508h.1M359.5 515.3h.1M359.5 522.7h.1M359.5 530h.1M359.5 537.4h.1M359.5 544.7h.1M359.5 552h.1M359.5 559.4h.1M359.5 566.7h.1M359.5 574.1h.1M359.5 581.4h.1M359.5 588.8h.1M359.5 596.1h.1M359.5 603.5h.1M359.5 610.8h.1M366.8 464L367.7 463.5M366.8 471.3L367.7 470.9M366.8 478.7L367.7 478.2M366.8 486L367.7 485.6M366.8 493.4L367.7 492.9M366.8 500.7L367.7 500.3M366.8 508L367.7 507.6M366.7 515.4L367.8 515.1M366.7 522.7L367.8 522.7M366.7 530L367.8 530M366.7 537.4L367.8 537.4M366.7 544.7L367.8 544.7M366.7 552L367.8 552M366.7 559.3L367.8 559.6M366.8 566.7L367.7 567.1M366.8 574L367.7 574.4M366.8 581.3L367.7 581.8M366.8 588.7L367.7 589.1M366.8 596L367.7 596.5M366.8 603.4L367.7 603.8M366.8 610.7L367.7 611.2M374 464L375.4 463.4M374 471.4L375.4 470.7M374 478.7L375.4 478.1M374 486L375.4 485.4M374 493.4L375.5 492.8M374 500.7L375.5 500.1M374 508.1L375.5 507.5M374 515.4L375.5 515.1M374 522.7L375.6 522.7M374 530L375.6 530M374 537.4L375.6 537.4M374 544.7L375.6 544.7M374 552L375.6 552M374 559.3L375.5 559.6M374 566.6L375.5 567.2M374 574L375.5 574.6M374 581.3L375.5 581.9M374 588.7L375.4 589.3M374 596L375.4 596.6M374 603.3L375.4 604M374 610.7L375.4 611.3M381.3 464L383.2 463.2M381.3 471.4L383.2 470.5M381.3 478.7L383.2 477.9M381.3 486.1L383.2 485.2M381.3 493.4L383.2 492.6M381.3 500.8L383.2 499.9M381.3 508.1L383.2 507.3M381.3 515.4L383.3 515M381.3 522.7L383.4 522.7M381.3 530L383.4 530M381.3 537.4L383.4 537.4M381.3 544.7L383.4 544.7M381.3 552L383.4 552M381.3 559.3L383.3 559.7M381.3 566.6L383.2 567.4M381.3 573.9L383.2 574.8M381.3 581.3L383.2 582.1M381.3 588.6L383.2 589.5M381.3 596L383.2 596.8M381.3 603.3L383.2 604.2M381.3 610.7L383.2 611.5M388.6 464.1L390.9 463M388.6 471.4L390.9 470.4M388.6 478.8L390.9 477.7M388.6 486.1L390.9 485.1M388.6 493.5L391 492.4M388.6 500.8L391 499.8M388.6 508.1L391 507.2M388.6 515.4L391.1 514.9M388.6 522.7L391.1 522.7M388.6 530L391.1 530M388.6 537.4L391.1 537.4M388.6 544.7L391.1 544.7M388.6 552L391.1 552M388.6 559.3L391.1 559.8M388.6 566.6L391 567.5M388.6 573.9L391 574.9M388.6 581.2L391 582.3M388.6 588.6L390.9 589.6M388.6 595.9L390.9 597M388.6 603.3L390.9 604.3M388.6 610.6L390.9 611.7M395.9 464.1L398.5 462.9M395.9 471.4L398.5 470.3M395.9 478.8L398.5 477.6M395.9 486.1L398.5 485M395.9 493.5L398.5 492.3M395.9 500.8L398.5 499.7M395.9 508.2L398.5 507.1M395.9 515.4L398.7 514.8M395.9 522.7L398.7 522.7M395.9 530L398.7 530M395.9 537.4L398.7 537.4M395.9 544.7L398.7 544.7M395.9 552L398.7 552M395.9 559.3L398.7 559.9M395.9 566.5L398.5 567.6M395.9 573.9L398.5 575M395.9 581.2L398.5 582.4M395.9 588.6L398.5 589.7M395.9 595.9L398.5 597.1M395.9 603.3L398.5 604.4M395.9 610.6L398.5 611.8M403.3 464.1L405.9 462.9M403.3 471.4L405.9 470.3M403.3 478.8L405.9 477.6M403.3 486.1L405.9 485M403.3 493.5L405.9 492.3M403.3 500.8L405.9 499.7M403.3 508.2L405.9 507.1M403.2 515.4L406 514.8M403.2 522.7L406.1 522.7M403.2 530L406.1 530M403.2 537.4L406.1 537.4M403.2 544.7L406.1 544.7M403.2 552L406.1 552M403.2 559.3L406 559.9M403.3 566.5L405.9 567.6M403.3 573.9L405.9 575M403.3 581.2L405.9 582.4M403.3 588.6L405.9 589.7M403.3 595.9L405.9 597.1M403.3 603.3L405.9 604.4M403.3 610.6L405.9 611.8M410.6 464.1L413.2 462.9M410.6 471.4L413.2 470.3M410.6 478.8L413.2 477.6M410.6 486.1L413.2 485M410.6 493.5L413.2 492.3M410.6 500.8L413.2 499.7M410.6 508.2L413.3 507.1M410.6 515.4L413.4 514.8M410.6 522.7L413.4 522.7M410.6 530L413.4 530M410.6 537.4L413.4 537.4M410.6 544.7L413.4 544.7M410.6 552L413.4 552M410.6 559.3L413.4 559.9M410.6 566.5L413.3 567.6M410.6 573.9L413.2 575M410.6 581.2L413.2 582.4M410.6 588.6L413.2 589.7M410.6 595.9L413.2 597.1M410.6 603.3L413.2 604.4M410.6 610.6L413.2 611.8M418 464.1L420.6 462.9M418 471.4L420.6 470.3M418 478.8L420.6 477.6M418 486.1L420.6 485M418 493.5L420.6 492.3M418 500.8L420.6 499.7M418 508.2L420.6 507.1M418 515.4L420.7 514.8M417.9 522.7L420.8 522.7M417.9 530L420.8 530M417.9 537.4L420.8 537.4M417.9 544.7L420.8 544.7M417.9 552L420.8 552M418 559.3L420.7 559.9M418 566.5L420.6 567.6M418 573.9L420.6 575M418 581.2L420.6 582.4M418 588.6L420.6 589.7M418 595.9L420.6 597.1M418 603.3L420.6 604.4M418 610.6L420.6 611.8M425.4 464.1L427.9 462.9M425.4 471.4L427.9 470.3M425.4 478.8L427.9 477.6M425.4 486.1L427.9 485M425.4 493.5L427.9 492.3M425.4 500.8L427.9 499.7M425.3 508.2L428 507.1M425.3 515.4L428.1 514.8M425.3 522.7L428.2 522.7M425.3 530L428.2 530M425.3 537.4L428.2 537.4M425.3 544.7L428.2 544.7M425.3 552L428.2 552M425.3 559.3L428.1 559.9M425.3 566.5L428 567.6M425.4 573.9L427.9 575M425.4 581.2L427.9 582.4M425.4 588.6L427.9 589.7M425.4 595.9L427.9 597.1M425.4 603.3L427.9 604.4M425.4 610.6L427.9 611.8" stroke="#111" stroke-width="0.78" fill="none"/>
<path d="M274.6 462.1L276.8 462.3L276.2 463.6zM274.6 469.4L276.8 469.6L276.2 471zM274.6 476.8L276.8 476.9L276.2 478.3zM274.6 484.1L276.8 484.3L276.2 485.6zM274.6 491.5L276.8 491.6L276.2 493zM274.6 498.8L276.8 499L276.1 500.3zM274.5 506.3L276.7 506.4L276.1 507.8zM274.3 514.4L276.4 514.1L276.1 515.6zM274.2 522.7L276.2 521.9L276.2 523.4zM274.2 530L276.2 529.3L276.2 530.7zM274.2 537.4L276.2 536.6L276.2 538.1zM274.2 544.7L276.2 544L276.2 545.4zM274.2 552L276.2 551.3L276.2 552.8zM274.3 560.3L276.1 559.1L276.4 560.6zM274.5 568.4L276.1 566.9L276.7 568.3zM274.6 575.9L276.1 574.4L276.8 575.7zM274.6 583.2L276.2 581.7L276.8 583.1zM274.6 590.6L276.2 589.1L276.8 590.4zM274.6 597.9L276.2 596.4L276.8 597.8zM274.6 605.3L276.2 603.7L276.8 605.1zM274.6 612.6L276.2 611.1L276.8 612.4zM281.9 462.1L284.1 462.3L283.5 463.6zM281.9 469.4L284.1 469.6L283.5 471zM281.9 476.8L284.1 476.9L283.5 478.3zM281.9 484.1L284.1 484.3L283.5 485.6zM281.9 491.5L284.1 491.6L283.5 493zM281.9 498.8L284.1 499L283.5 500.3zM281.9 506.3L284.1 506.4L283.5 507.8zM281.6 514.4L283.8 514.1L283.5 515.6zM281.6 522.7L283.6 521.9L283.6 523.4zM281.6 530L283.6 529.3L283.6 530.7zM281.6 537.4L283.6 536.6L283.6 538.1zM281.6 544.7L283.6 544L283.6 545.4zM281.6 552L283.6 551.3L283.6 552.8zM281.6 560.3L283.5 559.1L283.8 560.6zM281.9 568.4L283.5 566.9L284.1 568.3zM281.9 575.9L283.5 574.4L284.1 575.7zM281.9 583.2L283.5 581.7L284.1 583.1zM281.9 590.6L283.5 589.1L284.1 590.4zM281.9 597.9L283.5 596.4L284.1 597.8zM281.9 605.3L283.5 603.7L284.1 605.1zM281.9 612.6L283.5 611.1L284.1 612.4zM289.3 462.1L291.5 462.3L290.9 463.6zM289.3 469.4L291.5 469.6L290.9 471zM289.3 476.8L291.5 476.9L290.9 478.3zM289.3 484.1L291.5 484.3L290.9 485.6zM289.3 491.5L291.5 491.6L290.9 493zM289.3 498.8L291.5 499L290.9 500.3zM289.2 506.3L291.4 506.4L290.9 507.8zM289 514.4L291.2 514.1L290.9 515.6zM288.9 522.7L291 521.9L291 523.4zM288.9 530L291 529.3L291 530.7zM288.9 537.4L291 536.6L291 538.1zM288.9 544.7L291 544L291 545.4zM288.9 552L291 551.3L291 552.8zM289 560.3L290.9 559.1L291.2 560.6zM289.2 568.4L290.9 566.9L291.4 568.3zM289.3 575.9L290.9 574.4L291.5 575.7zM289.3 583.2L290.9 581.7L291.5 583.1zM289.3 590.6L290.9 589.1L291.5 590.4zM289.3 597.9L290.9 596.4L291.5 597.8zM289.3 605.3L290.9 603.7L291.5 605.1zM289.3 612.6L290.9 611.1L291.5 612.4zM296.7 462.1L298.8 462.3L298.2 463.6zM296.7 469.4L298.8 469.6L298.2 471zM296.7 476.8L298.8 476.9L298.2 478.3zM296.7 484.1L298.8 484.3L298.2 485.6zM296.7 491.5L298.8 491.6L298.2 493zM296.6 498.8L298.8 499L298.2 500.3zM296.6 506.3L298.8 506.4L298.2 507.8zM296.4 514.4L298.5 514.1L298.2 515.6zM296.3 522.7L298.3 521.9L298.3 523.4zM296.3 530L298.3 529.3L298.3 530.7zM296.3 537.4L298.3 536.6L298.3 538.1zM296.3 544.7L298.3 544L298.3 545.4zM296.3 552L298.3 551.3L298.3 552.8zM296.4 560.3L298.2 559.1L298.5 560.6zM296.6 568.4L298.2 566.9L298.8 568.3zM296.6 575.9L298.2 574.4L298.8 575.7zM296.7 583.2L298.2 581.7L298.8 583.1zM296.7 590.6L298.2 589.1L298.8 590.4zM296.7 597.9L298.2 596.4L298.8 597.8zM296.7 605.3L298.2 603.7L298.8 605.1zM296.7 612.6L298.2 611.1L298.8 612.4zM304 462.1L306.2 462.3L305.6 463.6zM304 469.4L306.2 469.6L305.6 471zM304 476.8L306.2 476.9L305.6 478.3zM304 484.1L306.2 484.3L305.6 485.6zM304 491.5L306.2 491.6L305.6 493zM304 498.8L306.2 499L305.6 500.3zM304 506.3L306.1 506.4L305.6 507.8zM303.7 514.4L305.9 514.1L305.6 515.6zM303.6 522.7L305.7 521.9L305.7 523.4zM303.6 530L305.7 529.3L305.7 530.7zM303.6 537.4L305.7 536.6L305.7 538.1zM303.6 544.7L305.7 544L305.7 545.4zM303.6 552L305.7 551.3L305.7 552.8zM303.7 560.3L305.6 559.1L305.9 560.6zM304 568.4L305.6 566.9L306.1 568.3zM304 575.9L305.6 574.4L306.2 575.7zM304 583.2L305.6 581.7L306.2 583.1zM304 590.6L305.6 589.1L306.2 590.4zM304 597.9L305.6 596.4L306.2 597.8zM304 605.3L305.6 603.7L306.2 605.1zM304 612.6L305.6 611.1L306.2 612.4zM311.7 462.3L313.7 462.4L313.2 463.6zM311.7 469.6L313.7 469.8L313.2 471zM311.7 476.9L313.7 477.1L313.2 478.3zM311.7 484.3L313.7 484.4L313.2 485.7zM311.7 491.6L313.7 491.8L313.2 493zM311.7 499L313.7 499.1L313.2 500.4zM311.7 506.5L313.7 506.5L313.2 507.8zM311.5 514.5L313.4 514.2L313.2 515.5zM311.4 522.7L313.3 522L313.3 523.3zM311.4 530L313.3 529.3L313.3 530.7zM311.4 537.4L313.3 536.7L313.3 538zM311.4 544.7L313.3 544L313.3 545.4zM311.4 552L313.3 551.4L313.3 552.7zM311.5 560.2L313.2 559.2L313.4 560.5zM311.7 568.2L313.2 566.9L313.7 568.2zM311.7 575.7L313.2 574.3L313.7 575.6zM311.7 583.1L313.2 581.7L313.7 582.9zM311.7 590.4L313.2 589L313.7 590.3zM311.7 597.8L313.2 596.4L313.7 597.6zM311.7 605.1L313.2 603.7L313.7 604.9zM311.7 612.4L313.2 611.1L313.7 612.3zM319.8 462.6L321.4 462.7L321 463.7zM319.8 469.9L321.4 470.1L321 471zM319.8 477.3L321.4 477.4L321 478.4zM319.8 484.6L321.4 484.7L321 485.7zM319.8 492L321.4 492.1L321 493.1zM319.8 499.3L321.4 499.4L321 500.4zM319.8 506.8L321.4 506.8L321 507.8zM319.6 514.7L321.2 514.4L321 515.5zM319.6 522.7L321 522.1L321 523.2zM319.6 530L321 529.5L321 530.5zM319.6 537.4L321 536.8L321 537.9zM319.6 544.7L321 544.2L321 545.2zM319.6 552L321 551.5L321 552.6zM319.6 560L321 559.2L321.2 560.3zM319.8 567.9L321 566.9L321.4 567.9zM319.8 575.4L321 574.3L321.4 575.3zM319.8 582.7L321 581.6L321.4 582.6zM319.8 590.1L321 589L321.4 590zM319.8 597.4L321 596.3L321.4 597.3zM319.8 604.8L321 603.7L321.4 604.6zM319.8 612.1L321 611L321.4 612zM327.9 462.9L329.1 463L328.8 463.7zM327.9 470.3L329.1 470.4L328.8 471.1zM327.9 477.6L329.1 477.7L328.8 478.4zM327.9 484.9L329.1 485L328.8 485.8zM327.9 492.3L329.1 492.4L328.8 493.1zM327.9 499.6L329.1 499.7L328.8 500.5zM327.9 507.1L329.1 507.1L328.8 507.9zM327.8 514.8L328.9 514.7L328.8 515.4zM327.7 522.7L328.8 522.3L328.8 523.1zM327.7 530L328.8 529.6L328.8 530.4zM327.7 537.4L328.8 536.9L328.8 537.8zM327.7 544.7L328.8 544.3L328.8 545.1zM327.7 552L328.8 551.6L328.8 552.4zM327.8 559.9L328.8 559.3L328.9 560zM327.9 567.6L328.8 566.8L329.1 567.6zM327.9 575.1L328.8 574.2L329.1 575zM327.9 582.4L328.8 581.6L329.1 582.3zM327.9 589.8L328.8 588.9L329.1 589.7zM327.9 597.1L328.8 596.3L329.1 597zM327.9 604.4L328.8 603.6L329.1 604.3zM327.9 611.8L328.8 611L329.1 611.7zM336 463.2L336.8 463.3L336.6 463.8zM336 470.6L336.8 470.6L336.6 471.1zM336 477.9L336.8 478L336.6 478.5zM336 485.3L336.8 485.3L336.6 485.8zM336 492.6L336.8 492.7L336.6 493.2zM336 500L336.8 500L336.6 500.5zM336 507.4L336.8 507.4L336.6 507.9zM335.9 515L336.7 514.9L336.6 515.4zM335.9 522.7L336.6 522.4L336.6 522.9zM335.9 530L336.6 529.7L336.6 530.3zM335.9 537.4L336.6 537.1L336.6 537.6zM335.9 544.7L336.6 544.4L336.6 545zM335.9 552L336.6 551.8L336.6 552.3zM335.9 559.7L336.6 559.3L336.7 559.8zM336 567.3L336.6 566.8L336.8 567.3zM336 574.7L336.6 574.2L336.8 574.7zM336 582.1L336.6 581.5L336.8 582zM336 589.4L336.6 588.9L336.8 589.4zM336 596.8L336.6 596.2L336.8 596.7zM336 604.1L336.6 603.6L336.8 604.1zM336 611.5L336.6 610.9L336.8 611.4zM368.4 463.2L367.8 463.8L367.6 463.3zM368.4 470.6L367.8 471.1L367.6 470.6zM368.4 477.9L367.8 478.5L367.6 478zM368.4 485.3L367.8 485.8L367.6 485.3zM368.4 492.6L367.8 493.2L367.6 492.7zM368.4 500L367.8 500.5L367.6 500zM368.4 507.4L367.8 507.9L367.6 507.4zM368.5 515L367.8 515.4L367.7 514.9zM368.5 522.7L367.8 522.9L367.8 522.4zM368.5 530L367.8 530.3L367.8 529.7zM368.5 537.4L367.8 537.6L367.8 537.1zM368.5 544.7L367.8 545L367.8 544.4zM368.5 552L367.8 552.3L367.8 551.8zM368.5 559.7L367.7 559.8L367.8 559.3zM368.4 567.3L367.6 567.3L367.8 566.8zM368.4 574.7L367.6 574.7L367.8 574.2zM368.4 582.1L367.6 582L367.8 581.5zM368.4 589.4L367.6 589.4L367.8 588.9zM368.4 596.8L367.6 596.7L367.8 596.2zM368.4 604.1L367.6 604.1L367.8 603.6zM368.4 611.5L367.6 611.4L367.8 610.9zM376.5 462.9L375.6 463.7L375.3 463zM376.5 470.3L375.6 471.1L375.3 470.4zM376.5 477.6L375.6 478.4L375.3 477.7zM376.5 484.9L375.6 485.8L375.3 485zM376.5 492.3L375.6 493.1L375.3 492.4zM376.5 499.6L375.6 500.5L375.3 499.7zM376.5 507.1L375.6 507.9L375.3 507.1zM376.6 514.8L375.6 515.4L375.5 514.7zM376.7 522.7L375.6 523.1L375.6 522.3zM376.7 530L375.6 530.4L375.6 529.6zM376.7 537.4L375.6 537.8L375.6 536.9zM376.7 544.7L375.6 545.1L375.6 544.3zM376.7 552L375.6 552.4L375.6 551.6zM376.6 559.9L375.5 560L375.6 559.3zM376.5 567.6L375.3 567.6L375.6 566.8zM376.5 575.1L375.3 575L375.6 574.2zM376.5 582.4L375.3 582.3L375.6 581.6zM376.5 589.8L375.3 589.7L375.6 588.9zM376.5 597.1L375.3 597L375.6 596.3zM376.5 604.4L375.3 604.3L375.6 603.6zM376.5 611.8L375.3 611.7L375.6 611zM384.6 462.6L383.4 463.7L383 462.7zM384.6 469.9L383.4 471L383 470.1zM384.6 477.3L383.4 478.4L383 477.4zM384.6 484.6L383.4 485.7L383 484.7zM384.6 492L383.4 493.1L383 492.1zM384.6 499.3L383.4 500.4L383 499.4zM384.6 506.8L383.4 507.8L383 506.8zM384.8 514.7L383.4 515.5L383.2 514.4zM384.8 522.7L383.4 523.2L383.4 522.1zM384.8 530L383.4 530.5L383.4 529.5zM384.8 537.4L383.4 537.9L383.4 536.8zM384.8 544.7L383.4 545.2L383.4 544.2zM384.8 552L383.4 552.6L383.4 551.5zM384.8 560L383.2 560.3L383.4 559.2zM384.6 567.9L383 567.9L383.4 566.9zM384.6 575.4L383 575.3L383.4 574.3zM384.6 582.7L383 582.6L383.4 581.6zM384.6 590.1L383 590L383.4 589zM384.6 597.4L383 597.3L383.4 596.3zM384.6 604.8L383 604.6L383.4 603.7zM384.6 612.1L383 612L383.4 611zM392.7 462.3L391.2 463.6L390.7 462.4zM392.7 469.6L391.2 471L390.7 469.8zM392.7 476.9L391.2 478.3L390.7 477.1zM392.7 484.3L391.2 485.7L390.7 484.4zM392.7 491.6L391.2 493L390.7 491.8zM392.7 499L391.2 500.4L390.7 499.1zM392.7 506.5L391.2 507.8L390.7 506.5zM392.9 514.5L391.2 515.5L391 514.2zM393 522.7L391.1 523.3L391.1 522zM393 530L391.1 530.7L391.1 529.3zM393 537.4L391.1 538L391.1 536.7zM393 544.7L391.1 545.4L391.1 544zM393 552L391.1 552.7L391.1 551.4zM392.9 560.2L391 560.5L391.2 559.2zM392.7 568.2L390.7 568.2L391.2 566.9zM392.7 575.7L390.7 575.6L391.2 574.3zM392.7 583.1L390.7 582.9L391.2 581.7zM392.7 590.4L390.7 590.3L391.2 589zM392.7 597.8L390.7 597.6L391.2 596.4zM392.7 605.1L390.7 604.9L391.2 603.7zM392.7 612.4L390.7 612.3L391.2 611.1zM400.4 462.1L398.8 463.6L398.2 462.3zM400.4 469.4L398.8 471L398.2 469.6zM400.4 476.8L398.8 478.3L398.2 476.9zM400.4 484.1L398.8 485.6L398.2 484.3zM400.4 491.5L398.8 493L398.2 491.6zM400.4 498.8L398.8 500.3L398.2 499zM400.4 506.3L398.8 507.8L398.3 506.4zM400.7 514.4L398.8 515.6L398.5 514.1zM400.8 522.7L398.7 523.4L398.7 521.9zM400.8 530L398.7 530.7L398.7 529.3zM400.8 537.4L398.7 538.1L398.7 536.6zM400.8 544.7L398.7 545.4L398.7 544zM400.8 552L398.7 552.8L398.7 551.3zM400.7 560.3L398.5 560.6L398.8 559.1zM400.4 568.4L398.3 568.3L398.8 566.9zM400.4 575.9L398.2 575.7L398.8 574.4zM400.4 583.2L398.2 583.1L398.8 581.7zM400.4 590.6L398.2 590.4L398.8 589.1zM400.4 597.9L398.2 597.8L398.8 596.4zM400.4 605.3L398.2 605.1L398.8 603.7zM400.4 612.6L398.2 612.4L398.8 611.1zM407.7 462.1L406.2 463.6L405.6 462.3zM407.7 469.4L406.2 471L405.6 469.6zM407.7 476.8L406.2 478.3L405.6 476.9zM407.7 484.1L406.2 485.6L405.6 484.3zM407.7 491.5L406.2 493L405.6 491.6zM407.8 498.8L406.2 500.3L405.6 499zM407.8 506.3L406.2 507.8L405.6 506.4zM408 514.4L406.2 515.6L405.9 514.1zM408.1 522.7L406.1 523.4L406.1 521.9zM408.1 530L406.1 530.7L406.1 529.3zM408.1 537.4L406.1 538.1L406.1 536.6zM408.1 544.7L406.1 545.4L406.1 544zM408.1 552L406.1 552.8L406.1 551.3zM408 560.3L405.9 560.6L406.2 559.1zM407.8 568.4L405.6 568.3L406.2 566.9zM407.8 575.9L405.6 575.7L406.2 574.4zM407.7 583.2L405.6 583.1L406.2 581.7zM407.7 590.6L405.6 590.4L406.2 589.1zM407.7 597.9L405.6 597.8L406.2 596.4zM407.7 605.3L405.6 605.1L406.2 603.7zM407.7 612.6L405.6 612.4L406.2 611.1zM415.1 462.1L413.5 463.6L412.9 462.3zM415.1 469.4L413.5 471L412.9 469.6zM415.1 476.8L413.5 478.3L412.9 476.9zM415.1 484.1L413.5 485.6L412.9 484.3zM415.1 491.5L413.5 493L412.9 491.6zM415.1 498.8L413.5 500.3L412.9 499zM415.2 506.3L413.5 507.8L413 506.4zM415.4 514.4L413.5 515.6L413.2 514.1zM415.5 522.7L413.4 523.4L413.4 521.9zM415.5 530L413.4 530.7L413.4 529.3zM415.5 537.4L413.4 538.1L413.4 536.6zM415.5 544.7L413.4 545.4L413.4 544zM415.5 552L413.4 552.8L413.4 551.3zM415.4 560.3L413.2 560.6L413.5 559.1zM415.2 568.4L413 568.3L413.5 566.9zM415.1 575.9L412.9 575.7L413.5 574.4zM415.1 583.2L412.9 583.1L413.5 581.7zM415.1 590.6L412.9 590.4L413.5 589.1zM415.1 597.9L412.9 597.8L413.5 596.4zM415.1 605.3L412.9 605.1L413.5 603.7zM415.1 612.6L412.9 612.4L413.5 611.1zM422.5 462.1L420.9 463.6L420.3 462.3zM422.5 469.4L420.9 471L420.3 469.6zM422.5 476.8L420.9 478.3L420.3 476.9zM422.5 484.1L420.9 485.6L420.3 484.3zM422.5 491.5L420.9 493L420.3 491.6zM422.5 498.8L420.9 500.3L420.3 499zM422.5 506.3L420.9 507.8L420.3 506.4zM422.8 514.4L420.9 515.6L420.6 514.1zM422.8 522.7L420.8 523.4L420.8 521.9zM422.8 530L420.8 530.7L420.8 529.3zM422.8 537.4L420.8 538.1L420.8 536.6zM422.8 544.7L420.8 545.4L420.8 544zM422.8 552L420.8 552.8L420.8 551.3zM422.8 560.3L420.6 560.6L420.9 559.1zM422.5 568.4L420.3 568.3L420.9 566.9zM422.5 575.9L420.3 575.7L420.9 574.4zM422.5 583.2L420.3 583.1L420.9 581.7zM422.5 590.6L420.3 590.4L420.9 589.1zM422.5 597.9L420.3 597.8L420.9 596.4zM422.5 605.3L420.3 605.1L420.9 603.7zM422.5 612.6L420.3 612.4L420.9 611.1zM429.8 462.1L428.2 463.6L427.6 462.3zM429.8 469.4L428.2 471L427.6 469.6zM429.8 476.8L428.2 478.3L427.6 476.9zM429.8 484.1L428.2 485.6L427.6 484.3zM429.8 491.5L428.2 493L427.6 491.6zM429.8 498.8L428.3 500.3L427.6 499zM429.9 506.3L428.3 507.8L427.7 506.4zM430.1 514.4L428.3 515.6L428 514.1zM430.2 522.7L428.2 523.4L428.2 521.9zM430.2 530L428.2 530.7L428.2 529.3zM430.2 537.4L428.2 538.1L428.2 536.6zM430.2 544.7L428.2 545.4L428.2 544zM430.2 552L428.2 552.8L428.2 551.3zM430.1 560.3L428 560.6L428.3 559.1zM429.9 568.4L427.7 568.3L428.3 566.9zM429.8 575.9L427.6 575.7L428.3 574.4zM429.8 583.2L427.6 583.1L428.2 581.7zM429.8 590.6L427.6 590.4L428.2 589.1zM429.8 597.9L427.6 597.8L428.2 596.4zM429.8 605.3L427.6 605.1L428.2 603.7zM429.8 612.6L427.6 612.4L428.2 611.1z" stroke="#111" stroke-width="0.3" fill="#111" stroke-linejoin="round"/>
</g>
<text x="273.1" y="469.9" text-anchor="end" class="ab">0.2</text>
<text x="273.1" y="506.6" text-anchor="end" class="ab">0.1</text>
<text x="273.1" y="543.4" text-anchor="end" class="ab">0</text>
<text x="273.1" y="580.1" text-anchor="end" class="ab">-0.1</text>
<text x="273.1" y="616.8" text-anchor="end" class="ab">-0.2</text>
<text x="278.6" y="631.5" text-anchor="middle" class="ab">-0.2</text>
<text x="352.2" y="631.5" text-anchor="middle" class="ab">0</text>
<text x="425.8" y="631.5" text-anchor="middle" class="ab">0.2</text>
<text x="352.2" y="653.5" text-anchor="middle" class="al">Kx</text>
<text transform="translate(240.4 537) rotate(-90)" text-anchor="middle" class="al">Ky</text>
<rect x="441.7" y="463.9" width="10.4" height="146.9" fill="url(#cbg)" stroke="#6a5a5a" stroke-opacity="0.45" stroke-width="0.6"/>
<path d="M441.7 464.1h10.4M441.7 610.6h10.4" stroke="#2a1a1a" stroke-opacity="0.6" stroke-width="0.8"/>
<text x="456.9" y="469.6" class="cb">0.4</text>
<path d="M452.1 500.6h-1.5" stroke="#333" stroke-width="0.6"/>
<text x="456.9" y="506.3" class="cb">0.2</text>
<path d="M452.1 537.4h-1.5" stroke="#333" stroke-width="0.6"/>
<text x="456.9" y="543.1" class="cb">0</text>
<path d="M452.1 574.1h-1.5" stroke="#333" stroke-width="0.6"/>
<text x="456.9" y="579.8" class="cb">-0.2</text>
<text x="456.9" y="616.5" class="cb">-0.4</text>
</g>
<g>
<clipPath id="hc6"><rect x="542.6" y="463.9" width="147.2" height="146.9"/></clipPath>
<g clip-path="url(#hc6)">
<rect x="541.6" y="462.9" width="149.2" height="148.9" fill="#ff9293"/>
<path d="M567.2 463.1C567.2 464.9 566.9 466.9 566.3 468.5C565.8 470.2 564.9 471.7 563.9 472.9C562.9 474 561.6 474.9 560.4 475.3C559.1 475.7 557.7 475.7 556.4 475.3C555.2 474.9 553.9 474 552.9 472.9C551.9 471.7 551 470.2 550.5 468.5C549.9 466.9 549.6 464.9 549.6 463.1C549.6 461.3 549.9 459.3 550.5 457.7C551 456 551.9 454.5 552.9 453.3C553.9 452.2 555.2 451.3 556.4 450.9C557.7 450.5 559.1 450.5 560.4 450.9C561.6 451.3 562.9 452.2 563.9 453.3C564.9 454.5 565.8 456 566.3 457.7C566.9 459.3 567.2 461.3 567.2 463.1Z" fill="#ff6d6f"/>
<path d="M567.2 611.6C567.2 613.3 566.9 615.2 566.3 616.8C565.8 618.4 564.9 619.9 563.9 621C562.9 622.1 561.6 622.9 560.4 623.3C559.1 623.7 557.7 623.7 556.4 623.3C555.2 622.9 553.9 622.1 552.9 621C551.9 619.9 551 618.4 550.5 616.8C549.9 615.2 549.6 613.3 549.6 611.6C549.6 609.9 549.9 608 550.5 606.4C551 604.8 551.9 603.3 552.9 602.2C553.9 601.1 555.2 600.3 556.4 599.9C557.7 599.5 559.1 599.5 560.4 599.9C561.6 600.3 562.9 601.1 563.9 602.2C564.9 603.3 565.8 604.8 566.3 606.4C566.9 608 567.2 609.9 567.2 611.6Z" fill="#ff6d6f"/>
<path d="M585.9 455.9L585.9 463.9C585.5 467.4 584.4 477.9 583.8 484.9C583.2 491.9 582.6 498.9 582.2 505.9C581.8 512.9 581.7 519.9 581.6 526.9C581.5 533.9 581.5 540.8 581.6 547.8C581.7 554.8 582 561.8 582.4 568.8C582.8 575.8 583.4 582.8 584 589.8C584.6 596.8 585.6 607.3 585.9 610.8L585.9 618.8L697.8 618.8L697.8 455.9Z" fill="#ffb6b7"/>
<path d="M596.7 455.9L596.7 463.9C596.5 468 595.6 480.2 595.2 488.4C594.8 496.5 594.4 504.7 594.2 512.9C594 521 594 529.2 594 537.3C594 545.5 594.1 553.7 594.3 561.8C594.5 570 594.8 578.2 595.3 586.3C595.8 594.5 596.8 606.7 597.1 610.8L597.1 618.8L697.8 618.8L697.8 455.9Z" fill="#ffdadb"/>
<path d="M606.3 455.9L606.3 463.9C606.2 470 605.7 488.4 605.5 500.6C605.3 512.9 605.3 525.1 605.3 537.3C605.3 549.6 605.3 561.8 605.5 574.1C605.7 586.3 606.2 604.7 606.3 610.8L606.3 618.8L697.8 618.8L697.8 455.9Z" fill="#fffcfb"/>
<path d="M615.9 455.9L615.9 463.9C615.9 488.4 615.9 586.3 615.9 610.8L615.9 618.8L697.8 618.8L697.8 455.9Z" fill="#c5e6ff"/>
<path d="M623.6 455.9L623.6 463.9C623.6 488.4 623.6 586.3 623.6 610.8L623.6 618.8L697.8 618.8L697.8 455.9Z" fill="#8cceff"/>
<path d="M631.8 455.9L631.8 463.9C631.9 470 632.1 488.4 632.2 500.6C632.3 512.9 632.4 525.1 632.4 537.3C632.4 549.6 632.3 561.8 632.2 574.1C632.1 586.3 631.9 604.7 631.8 610.8L631.8 618.8L697.8 618.8L697.8 455.9Z" fill="#52b6ff"/>
<path d="M643 455.9L643 463.9C643.4 467.4 644.8 477.9 645.5 484.9C646.2 491.9 647 498.9 647.5 505.9C648 512.9 648.1 519.9 648.2 526.9C648.3 533.9 648.3 540.8 648.2 547.8C648.1 554.8 647.9 561.8 647.5 568.8C647.1 575.8 646.4 582.8 645.8 589.8C645.2 596.8 644.3 607.3 644 610.8L644 618.8L697.8 618.8L697.8 455.9Z" fill="#189dff"/>
<path d="M680.1 463.1C680.1 464.9 679.8 466.9 679.3 468.5C678.9 470.2 678.1 471.7 677.2 472.9C676.4 474 675.3 474.9 674.2 475.3C673.1 475.7 671.9 475.7 670.8 475.3C669.7 474.9 668.6 474 667.8 472.9C666.9 471.7 666.1 470.2 665.7 468.5C665.2 466.9 664.9 464.9 664.9 463.1C664.9 461.3 665.2 459.3 665.7 457.7C666.1 456 666.9 454.5 667.8 453.3C668.6 452.2 669.7 451.3 670.8 450.9C671.9 450.5 673.1 450.5 674.2 450.9C675.3 451.3 676.4 452.2 677.2 453.3C678.1 454.5 678.9 456 679.3 457.7C679.8 459.3 680.1 461.3 680.1 463.1Z" fill="#189dff"/>
<path d="M680.1 611.6C680.1 613.3 679.8 615.1 679.3 616.6C678.9 618.1 678.1 619.6 677.2 620.6C676.4 621.6 675.3 622.4 674.2 622.8C673.1 623.2 671.9 623.2 670.8 622.8C669.7 622.4 668.6 621.6 667.8 620.6C666.9 619.6 666.1 618.1 665.7 616.6C665.2 615.1 664.9 613.3 664.9 611.6C664.9 609.9 665.2 608.1 665.7 606.6C666.1 605.1 666.9 603.6 667.8 602.6C668.6 601.6 669.7 600.8 670.8 600.4C671.9 600 673.1 600 674.2 600.4C675.3 600.8 676.4 601.6 677.2 602.6C678.1 603.6 678.9 605.1 679.3 606.6C679.8 608.1 680.1 609.9 680.1 611.6Z" fill="#189dff"/>
<path d="M542.2 463.7L544.7 464.9M542.2 471L544.7 472.2M542.2 478.4L544.7 479.6M542.2 485.7L544.7 486.9M542.2 493.1L544.7 494.2M542.2 500.4L544.7 501.6M542.1 507.8L544.8 508.9M542.1 515.2L544.9 515.8M542.1 522.7L545 522.7M542.1 530L545 530M542.1 537.4L545 537.4M542.1 544.7L545 544.7M542.1 552L545 552M542.1 559.5L544.9 558.9M542.1 566.9L544.8 565.8M542.2 574.3L544.7 573.1M542.2 581.6L544.7 580.5M542.2 589L544.7 587.8M542.2 596.3L544.7 595.1M542.2 603.7L544.7 602.5M542.2 611L544.7 609.8M549.5 463.7L552.1 464.9M549.5 471L552.1 472.2M549.5 478.4L552.1 479.6M549.5 485.7L552.1 486.9M549.5 493.1L552.1 494.2M549.5 500.4L552.1 501.6M549.5 507.8L552.1 508.9M549.5 515.2L552.3 515.8M549.5 522.7L552.3 522.7M549.5 530L552.3 530M549.5 537.4L552.3 537.4M549.5 544.7L552.3 544.7M549.5 552L552.3 552M549.5 559.5L552.3 558.9M549.5 566.9L552.1 565.8M549.5 574.3L552.1 573.1M549.5 581.6L552.1 580.5M549.5 589L552.1 587.8M549.5 596.3L552.1 595.1M549.5 603.7L552.1 602.5M549.5 611L552.1 609.8M556.9 463.7L559.5 464.9M556.9 471L559.5 472.2M556.9 478.4L559.5 479.6M556.9 485.7L559.5 486.9M556.9 493.1L559.5 494.2M556.9 500.4L559.5 501.6M556.9 507.8L559.5 508.9M556.8 515.2L559.6 515.8M556.8 522.7L559.7 522.7M556.8 530L559.7 530M556.8 537.4L559.7 537.4M556.8 544.7L559.7 544.7M556.8 552L559.7 552M556.8 559.5L559.6 558.9M556.9 566.9L559.5 565.8M556.9 574.3L559.5 573.1M556.9 581.6L559.5 580.5M556.9 589L559.5 587.8M556.9 596.3L559.5 595.1M556.9 603.7L559.5 602.5M556.9 611L559.5 609.8M564.2 463.7L566.8 464.9M564.2 471L566.8 472.2M564.2 478.4L566.8 479.6M564.2 485.7L566.8 486.9M564.2 493.1L566.8 494.2M564.2 500.4L566.8 501.6M564.2 507.8L566.9 508.9M564.2 515.2L567 515.8M564.2 522.7L567 522.7M564.2 530L567 530M564.2 537.4L567 537.4M564.2 544.7L567 544.7M564.2 552L567 552M564.2 559.5L567 558.9M564.2 566.9L566.9 565.8M564.2 574.3L566.8 573.1M564.2 581.6L566.8 580.5M564.2 589L566.8 587.8M564.2 596.3L566.8 595.1M564.2 603.7L566.8 602.5M564.2 611L566.8 609.8M571.6 463.7L574.2 464.9M571.6 471L574.2 472.2M571.6 478.4L574.2 479.6M571.6 485.7L574.2 486.9M571.6 493.1L574.2 494.2M571.6 500.4L574.2 501.6M571.6 507.8L574.2 508.9M571.6 515.2L574.3 515.8M571.5 522.7L574.4 522.7M571.5 530L574.4 530M571.5 537.4L574.4 537.4M571.5 544.7L574.4 544.7M571.5 552L574.4 552M571.6 559.5L574.3 558.9M571.6 566.9L574.2 565.8M571.6 574.3L574.2 573.1M571.6 581.6L574.2 580.5M571.6 589L574.2 587.8M571.6 596.3L574.2 595.1M571.6 603.7L574.2 602.5M571.6 611L574.2 609.8M579 463.7L581.3 464.8M579 471.1L581.3 472.1M579 478.4L581.3 479.5M579 485.8L581.3 486.8M579 493.1L581.4 494.2M579 500.4L581.4 501.5M579 507.8L581.4 508.8M579 515.2L581.5 515.8M579 522.7L581.5 522.7M579 530L581.5 530M579 537.4L581.5 537.4M579 544.7L581.5 544.7M579 552L581.5 552M579 559.5L581.5 558.9M579 566.9L581.4 565.9M579 574.3L581.4 573.2M579 581.6L581.4 580.5M579 588.9L581.3 587.9M579 596.3L581.3 595.2M579 603.6L581.3 602.6M579 611L581.3 609.9M586.4 463.8L588.3 464.6M586.4 471.1L588.3 471.9M586.4 478.4L588.3 479.3M586.4 485.8L588.3 486.6M586.4 493.1L588.3 494M586.4 500.5L588.3 501.3M586.4 507.8L588.3 508.6M586.4 515.2L588.4 515.7M586.4 522.7L588.5 522.7M586.4 530L588.5 530M586.4 537.4L588.5 537.4M586.4 544.7L588.5 544.7M586.4 552L588.5 552M586.4 559.5L588.4 559M586.4 566.9L588.3 566.1M586.4 574.2L588.3 573.4M586.4 581.6L588.3 580.7M586.4 588.9L588.3 588.1M586.4 596.3L588.3 595.4M586.4 603.6L588.3 602.8M586.4 610.9L588.3 610.1M593.9 463.8L595.3 464.4M593.9 471.1L595.3 471.8M593.9 478.5L595.3 479.1M593.9 485.8L595.3 486.5M593.9 493.2L595.3 493.8M593.9 500.5L595.3 501.1M593.9 507.9L595.3 508.5M593.9 515.3L595.4 515.6M593.9 522.7L595.4 522.7M593.9 530L595.4 530M593.9 537.4L595.4 537.4M593.9 544.7L595.4 544.7M593.9 552L595.4 552M593.9 559.4L595.4 559.1M593.9 566.8L595.3 566.2M593.9 574.2L595.3 573.6M593.9 581.5L595.3 580.9M593.9 588.9L595.3 588.2M593.9 596.2L595.3 595.6M593.9 603.6L595.3 602.9M593.9 610.9L595.3 610.3M601.3 463.8L602.3 464.3M601.3 471.2L602.3 471.6M601.3 478.5L602.3 478.9M601.3 485.9L602.3 486.3M601.3 493.2L602.3 493.6M601.3 500.6L602.3 501M601.3 507.9L602.3 508.3M601.3 515.3L602.3 515.5M601.3 522.7L602.3 522.7M601.3 530L602.3 530M601.3 537.4L602.3 537.4M601.3 544.7L602.3 544.7M601.3 552L602.3 552M601.3 559.4L602.3 559.2M601.3 566.8L602.3 566.4M601.3 574.1L602.3 573.7M601.3 581.5L602.3 581.1M601.3 588.8L602.3 588.4M601.3 596.2L602.3 595.8M601.3 603.5L602.3 603.1M601.3 610.9L602.3 610.4M608.8 463.9h.1M608.8 471.2h.1M608.8 478.6h.1M608.8 485.9h.1M608.8 493.3h.1M608.8 500.6h.1M608.8 508h.1M608.8 515.3h.1M608.8 522.7h.1M608.8 530h.1M608.8 537.4h.1M608.8 544.7h.1M608.8 552h.1M608.8 559.4h.1M608.8 566.7h.1M608.8 574.1h.1M608.8 581.4h.1M608.8 588.8h.1M608.8 596.1h.1M608.8 603.5h.1M608.8 610.8h.1M616.2 463.9h.1M616.2 471.2h.1M616.2 478.6h.1M616.2 485.9h.1M616.2 493.3h.1M616.2 500.6h.1M616.2 508h.1M616.2 515.3h.1M616.2 522.7h.1M616.2 530h.1M616.2 537.4h.1M616.2 544.7h.1M616.2 552h.1M616.2 559.4h.1M616.2 566.7h.1M616.2 574.1h.1M616.2 581.4h.1M616.2 588.8h.1M616.2 596.1h.1M616.2 603.5h.1M616.2 610.8h.1M623.5 463.9h.1M623.5 471.2h.1M623.5 478.6h.1M623.5 485.9h.1M623.5 493.3h.1M623.5 500.6h.1M623.5 508h.1M623.5 515.3h.1M623.5 522.7h.1M623.5 530h.1M623.5 537.4h.1M623.5 544.7h.1M623.5 552h.1M623.5 559.4h.1M623.5 566.7h.1M623.5 574.1h.1M623.5 581.4h.1M623.5 588.8h.1M623.5 596.1h.1M623.5 603.5h.1M623.5 610.8h.1M631.1 463.8L630.1 464.3M631.1 471.2L630.1 471.6M631.1 478.5L630.1 478.9M631.1 485.9L630.1 486.3M631.1 493.2L630.1 493.6M631.1 500.6L630.1 501M631.1 507.9L630.1 508.3M631.1 515.3L630.1 515.5M631.1 522.7L630.1 522.7M631.1 530L630.1 530M631.1 537.4L630.1 537.4M631.1 544.7L630.1 544.7M631.1 552L630.1 552M631.1 559.4L630.1 559.2M631.1 566.8L630.1 566.4M631.1 574.1L630.1 573.7M631.1 581.5L630.1 581.1M631.1 588.8L630.1 588.4M631.1 596.2L630.1 595.8M631.1 603.5L630.1 603.1M631.1 610.9L630.1 610.4M638.5 463.8L637.1 464.4M638.5 471.1L637.1 471.8M638.5 478.5L637.1 479.1M638.5 485.8L637.1 486.5M638.5 493.2L637.1 493.8M638.5 500.5L637.1 501.1M638.5 507.9L637.1 508.5M638.5 515.3L637 515.6M638.5 522.7L637 522.7M638.5 530L637 530M638.5 537.4L637 537.4M638.5 544.7L637 544.7M638.5 552L637 552M638.5 559.4L637 559.1M638.5 566.8L637.1 566.2M638.5 574.2L637.1 573.6M638.5 581.5L637.1 580.9M638.5 588.9L637.1 588.2M638.5 596.2L637.1 595.6M638.5 603.6L637.1 602.9M638.5 610.9L637.1 610.3M646 463.8L644.1 464.6M646 471.1L644.1 471.9M646 478.4L644.1 479.3M646 485.8L644.1 486.6M646 493.1L644.1 494M646 500.5L644.1 501.3M646 507.8L644.1 508.6M646 515.2L644 515.7M646 522.7L643.9 522.7M646 530L643.9 530M646 537.4L643.9 537.4M646 544.7L643.9 544.7M646 552L643.9 552M646 559.5L644 559M646 566.9L644.1 566.1M646 574.2L644.1 573.4M646 581.6L644.1 580.7M646 588.9L644.1 588.1M646 596.3L644.1 595.4M646 603.6L644.1 602.8M646 610.9L644.1 610.1M653.4 463.7L651.1 464.8M653.4 471.1L651.1 472.1M653.4 478.4L651.1 479.5M653.4 485.8L651.1 486.8M653.4 493.1L651 494.2M653.4 500.4L651 501.5M653.4 507.8L651 508.8M653.4 515.2L650.9 515.8M653.4 522.7L650.9 522.7M653.4 530L650.9 530M653.4 537.4L650.9 537.4M653.4 544.7L650.9 544.7M653.4 552L650.9 552M653.4 559.5L650.9 558.9M653.4 566.9L651 565.9M653.4 574.3L651 573.2M653.4 581.6L651 580.5M653.4 588.9L651.1 587.9M653.4 596.3L651.1 595.2M653.4 603.6L651.1 602.6M653.4 611L651.1 609.9M660.8 463.7L658.2 464.9M660.8 471L658.2 472.2M660.8 478.4L658.2 479.6M660.8 485.7L658.2 486.9M660.8 493.1L658.2 494.2M660.8 500.4L658.2 501.6M660.8 507.8L658.2 508.9M660.8 515.2L658.1 515.8M660.9 522.7L658 522.7M660.9 530L658 530M660.9 537.4L658 537.4M660.9 544.7L658 544.7M660.9 552L658 552M660.8 559.5L658.1 558.9M660.8 566.9L658.2 565.8M660.8 574.3L658.2 573.1M660.8 581.6L658.2 580.5M660.8 589L658.2 587.8M660.8 596.3L658.2 595.1M660.8 603.7L658.2 602.5M660.8 611L658.2 609.8M668.2 463.7L665.6 464.9M668.2 471L665.6 472.2M668.2 478.4L665.6 479.6M668.2 485.7L665.6 486.9M668.2 493.1L665.6 494.2M668.2 500.4L665.6 501.6M668.2 507.8L665.5 508.9M668.2 515.2L665.4 515.8M668.2 522.7L665.4 522.7M668.2 530L665.4 530M668.2 537.4L665.4 537.4M668.2 544.7L665.4 544.7M668.2 552L665.4 552M668.2 559.5L665.4 558.9M668.2 566.9L665.5 565.8M668.2 574.3L665.6 573.1M668.2 581.6L665.6 580.5M668.2 589L665.6 587.8M668.2 596.3L665.6 595.1M668.2 603.7L665.6 602.5M668.2 611L665.6 609.8M675.5 463.7L672.9 464.9M675.5 471L672.9 472.2M675.5 478.4L672.9 479.6M675.5 485.7L672.9 486.9M675.5 493.1L672.9 494.2M675.5 500.4L672.9 501.6M675.5 507.8L672.9 508.9M675.6 515.2L672.8 515.8M675.6 522.7L672.7 522.7M675.6 530L672.7 530M675.6 537.4L672.7 537.4M675.6 544.7L672.7 544.7M675.6 552L672.7 552M675.6 559.5L672.8 558.9M675.5 566.9L672.9 565.8M675.5 574.3L672.9 573.1M675.5 581.6L672.9 580.5M675.5 589L672.9 587.8M675.5 596.3L672.9 595.1M675.5 603.7L672.9 602.5M675.5 611L672.9 609.8M682.9 463.7L680.3 464.9M682.9 471L680.3 472.2M682.9 478.4L680.3 479.6M682.9 485.7L680.3 486.9M682.9 493.1L680.3 494.2M682.9 500.4L680.3 501.6M682.9 507.8L680.3 508.9M682.9 515.2L680.1 515.8M682.9 522.7L680.1 522.7M682.9 530L680.1 530M682.9 537.4L680.1 537.4M682.9 544.7L680.1 544.7M682.9 552L680.1 552M682.9 559.5L680.1 558.9M682.9 566.9L680.3 565.8M682.9 574.3L680.3 573.1M682.9 581.6L680.3 580.5M682.9 589L680.3 587.8M682.9 596.3L680.3 595.1M682.9 603.7L680.3 602.5M682.9 611L680.3 609.8M690.2 463.7L687.7 464.9M690.2 471L687.7 472.2M690.2 478.4L687.7 479.6M690.2 485.7L687.7 486.9M690.2 493.1L687.7 494.2M690.2 500.4L687.7 501.6M690.3 507.8L687.6 508.9M690.3 515.2L687.5 515.8M690.3 522.7L687.4 522.7M690.3 530L687.4 530M690.3 537.4L687.4 537.4M690.3 544.7L687.4 544.7M690.3 552L687.4 552M690.3 559.5L687.5 558.9M690.3 566.9L687.6 565.8M690.2 574.3L687.7 573.1M690.2 581.6L687.7 580.5M690.2 589L687.7 587.8M690.2 596.3L687.7 595.1M690.2 603.7L687.7 602.5M690.2 611L687.7 609.8" stroke="#111" stroke-width="0.78" fill="none"/>
<path d="M546.6 465.7L544.4 465.5L545 464.2zM546.6 473.1L544.4 472.9L545 471.5zM546.6 480.4L544.4 480.2L545 478.9zM546.6 487.7L544.4 487.6L545 486.2zM546.6 495.1L544.4 494.9L545 493.6zM546.6 502.4L544.4 502.3L545.1 500.9zM546.7 509.6L544.5 509.5L545.1 508.2zM546.9 516.2L544.8 516.5L545.1 515.1zM547 522.7L545 523.4L545 521.9zM547 530L545 530.7L545 529.3zM547 537.4L545 538.1L545 536.6zM547 544.7L545 545.4L545 544zM547 552L545 552.8L545 551.3zM546.9 558.5L545.1 559.6L544.8 558.2zM546.7 565.1L545.1 566.5L544.5 565.2zM546.6 572.3L545.1 573.8L544.4 572.4zM546.6 579.6L545 581.1L544.4 579.8zM546.6 587L545 588.5L544.4 587.1zM546.6 594.3L545 595.8L544.4 594.5zM546.6 601.6L545 603.2L544.4 601.8zM546.6 609L545 610.5L544.4 609.2zM554 465.7L551.8 465.5L552.4 464.2zM554 473.1L551.8 472.9L552.4 471.5zM554 480.4L551.8 480.2L552.4 478.9zM554 487.7L551.8 487.6L552.4 486.2zM554 495.1L551.8 494.9L552.4 493.6zM554 502.4L551.8 502.3L552.4 500.9zM554 509.6L551.9 509.5L552.4 508.2zM554.3 516.2L552.1 516.5L552.4 515.1zM554.4 522.7L552.3 523.4L552.3 521.9zM554.4 530L552.3 530.7L552.3 529.3zM554.4 537.4L552.3 538.1L552.3 536.6zM554.4 544.7L552.3 545.4L552.3 544zM554.4 552L552.3 552.8L552.3 551.3zM554.3 558.5L552.4 559.6L552.1 558.2zM554 565.1L552.4 566.5L551.9 565.2zM554 572.3L552.4 573.8L551.8 572.4zM554 579.6L552.4 581.1L551.8 579.8zM554 587L552.4 588.5L551.8 587.1zM554 594.3L552.4 595.8L551.8 594.5zM554 601.6L552.4 603.2L551.8 601.8zM554 609L552.4 610.5L551.8 609.2zM561.3 465.7L559.2 465.5L559.8 464.2zM561.3 473.1L559.2 472.9L559.8 471.5zM561.3 480.4L559.2 480.2L559.8 478.9zM561.3 487.7L559.2 487.6L559.8 486.2zM561.3 495.1L559.2 494.9L559.8 493.6zM561.4 502.4L559.2 502.3L559.8 500.9zM561.4 509.6L559.2 509.5L559.8 508.2zM561.6 516.2L559.5 516.5L559.8 515.1zM561.7 522.7L559.7 523.4L559.7 521.9zM561.7 530L559.7 530.7L559.7 529.3zM561.7 537.4L559.7 538.1L559.7 536.6zM561.7 544.7L559.7 545.4L559.7 544zM561.7 552L559.7 552.8L559.7 551.3zM561.6 558.5L559.8 559.6L559.5 558.2zM561.4 565.1L559.8 566.5L559.2 565.2zM561.4 572.3L559.8 573.8L559.2 572.4zM561.3 579.6L559.8 581.1L559.2 579.8zM561.3 587L559.8 588.5L559.2 587.1zM561.3 594.3L559.8 595.8L559.2 594.5zM561.3 601.6L559.8 603.2L559.2 601.8zM561.3 609L559.8 610.5L559.2 609.2zM568.7 465.7L566.5 465.5L567.1 464.2zM568.7 473.1L566.5 472.9L567.1 471.5zM568.7 480.4L566.5 480.2L567.1 478.9zM568.7 487.7L566.5 487.6L567.1 486.2zM568.7 495.1L566.5 494.9L567.1 493.6zM568.7 502.4L566.5 502.3L567.1 500.9zM568.8 509.6L566.6 509.5L567.1 508.2zM569 516.2L566.8 516.5L567.1 515.1zM569.1 522.7L567 523.4L567 521.9zM569.1 530L567 530.7L567 529.3zM569.1 537.4L567 538.1L567 536.6zM569.1 544.7L567 545.4L567 544zM569.1 552L567 552.8L567 551.3zM569 558.5L567.1 559.6L566.8 558.2zM568.8 565.1L567.1 566.5L566.6 565.2zM568.7 572.3L567.1 573.8L566.5 572.4zM568.7 579.6L567.1 581.1L566.5 579.8zM568.7 587L567.1 588.5L566.5 587.1zM568.7 594.3L567.1 595.8L566.5 594.5zM568.7 601.6L567.1 603.2L566.5 601.8zM568.7 609L567.1 610.5L566.5 609.2zM576.1 465.7L573.9 465.5L574.5 464.2zM576.1 473.1L573.9 472.9L574.5 471.5zM576.1 480.4L573.9 480.2L574.5 478.9zM576.1 487.7L573.9 487.6L574.5 486.2zM576.1 495.1L573.9 494.9L574.5 493.6zM576.1 502.4L573.9 502.3L574.5 500.9zM576.1 509.6L573.9 509.5L574.5 508.2zM576.4 516.2L574.2 516.5L574.5 515.1zM576.4 522.7L574.4 523.4L574.4 521.9zM576.4 530L574.4 530.7L574.4 529.3zM576.4 537.4L574.4 538.1L574.4 536.6zM576.4 544.7L574.4 545.4L574.4 544zM576.4 552L574.4 552.8L574.4 551.3zM576.4 558.5L574.5 559.6L574.2 558.2zM576.1 565.1L574.5 566.5L573.9 565.2zM576.1 572.3L574.5 573.8L573.9 572.4zM576.1 579.6L574.5 581.1L573.9 579.8zM576.1 587L574.5 588.5L573.9 587.1zM576.1 594.3L574.5 595.8L573.9 594.5zM576.1 601.6L574.5 603.2L573.9 601.8zM576.1 609L574.5 610.5L573.9 609.2zM583.1 465.5L581.1 465.4L581.6 464.2zM583.1 472.9L581.1 472.7L581.6 471.5zM583.1 480.2L581.1 480.1L581.6 478.9zM583.1 487.6L581.1 487.4L581.6 486.2zM583.1 494.9L581.1 494.8L581.6 493.5zM583.1 502.3L581.1 502.1L581.6 500.9zM583.1 509.5L581.1 509.4L581.6 508.2zM583.3 516.1L581.4 516.4L581.6 515.1zM583.4 522.7L581.5 523.3L581.5 522zM583.4 530L581.5 530.7L581.5 529.3zM583.4 537.4L581.5 538L581.5 536.7zM583.4 544.7L581.5 545.4L581.5 544zM583.4 552L581.5 552.7L581.5 551.4zM583.3 558.6L581.6 559.6L581.4 558.3zM583.1 565.2L581.6 566.5L581.1 565.3zM583.1 572.4L581.6 573.8L581.1 572.6zM583.1 579.8L581.6 581.2L581.1 579.9zM583.1 587.1L581.6 588.5L581.1 587.3zM583.1 594.5L581.6 595.8L581.1 594.6zM583.1 601.8L581.6 603.2L581.1 602zM583.1 609.2L581.6 610.5L581.1 609.3zM589.7 465.2L588.1 465.1L588.5 464.1zM589.7 472.6L588.1 472.4L588.5 471.5zM589.7 479.9L588.1 479.8L588.5 478.8zM589.7 487.3L588.1 487.1L588.5 486.1zM589.7 494.6L588.1 494.5L588.5 493.5zM589.7 501.9L588.1 501.8L588.5 500.8zM589.7 509.2L588.1 509.1L588.5 508.1zM589.9 516L588.3 516.2L588.5 515.1zM590 522.7L588.5 523.2L588.5 522.1zM590 530L588.5 530.5L588.5 529.5zM590 537.4L588.5 537.9L588.5 536.8zM590 544.7L588.5 545.2L588.5 544.2zM590 552L588.5 552.6L588.5 551.5zM589.9 558.7L588.5 559.6L588.3 558.5zM589.7 565.5L588.5 566.6L588.1 565.6zM589.7 572.8L588.5 573.9L588.1 572.9zM589.7 580.1L588.5 581.2L588.1 580.2zM589.7 587.4L588.5 588.6L588.1 587.6zM589.7 594.8L588.5 595.9L588.1 594.9zM589.7 602.1L588.5 603.2L588.1 602.3zM589.7 609.5L588.5 610.6L588.1 609.6zM596.3 464.9L595.1 464.8L595.5 464.1zM596.3 472.2L595.1 472.1L595.5 471.4zM596.3 479.6L595.1 479.5L595.5 478.7zM596.3 486.9L595.1 486.8L595.5 486.1zM596.3 494.3L595.1 494.2L595.5 493.4zM596.3 501.6L595.1 501.5L595.5 500.8zM596.3 508.9L595.2 508.8L595.5 508.1zM596.5 515.8L595.3 516L595.5 515.2zM596.5 522.7L595.4 523.1L595.4 522.3zM596.5 530L595.4 530.4L595.4 529.6zM596.5 537.4L595.4 537.8L595.4 536.9zM596.5 544.7L595.4 545.1L595.4 544.3zM596.5 552L595.4 552.4L595.4 551.6zM596.5 558.9L595.5 559.5L595.3 558.7zM596.3 565.8L595.5 566.6L595.2 565.9zM596.3 573.1L595.5 573.9L595.1 573.2zM596.3 580.4L595.5 581.3L595.1 580.5zM596.3 587.8L595.5 588.6L595.1 587.9zM596.3 595.1L595.5 596L595.1 595.2zM596.3 602.5L595.5 603.3L595.1 602.6zM596.3 609.8L595.5 610.6L595.1 609.9zM602.9 464.6L602.1 464.5L602.4 464zM602.9 471.9L602.1 471.8L602.4 471.4zM602.9 479.2L602.1 479.2L602.4 478.7zM602.9 486.6L602.1 486.5L602.4 486zM602.9 493.9L602.1 493.9L602.4 493.4zM602.9 501.3L602.2 501.2L602.4 500.7zM603 508.6L602.2 508.5L602.4 508zM603.1 515.6L602.3 515.8L602.4 515.2zM603.1 522.7L602.3 522.9L602.3 522.4zM603.1 530L602.3 530.3L602.3 529.7zM603.1 537.4L602.3 537.6L602.3 537.1zM603.1 544.7L602.3 545L602.3 544.4zM603.1 552L602.3 552.3L602.3 551.8zM603.1 559.1L602.4 559.5L602.3 558.9zM603 566.1L602.4 566.7L602.2 566.2zM602.9 573.4L602.4 574L602.2 573.5zM602.9 580.8L602.4 581.3L602.1 580.8zM602.9 588.1L602.4 588.7L602.1 588.2zM602.9 595.5L602.4 596L602.1 595.5zM602.9 602.8L602.4 603.3L602.1 602.9zM602.9 610.1L602.4 610.7L602.1 610.2zM629.5 464.6L630 464L630.3 464.5zM629.5 471.9L630 471.4L630.3 471.8zM629.5 479.2L630 478.7L630.3 479.2zM629.5 486.6L630 486L630.3 486.5zM629.5 493.9L630 493.4L630.3 493.9zM629.5 501.3L630 500.7L630.2 501.2zM629.4 508.6L630 508L630.2 508.5zM629.3 515.6L630 515.2L630.1 515.8zM629.3 522.7L630.1 522.4L630.1 522.9zM629.3 530L630.1 529.7L630.1 530.3zM629.3 537.4L630.1 537.1L630.1 537.6zM629.3 544.7L630.1 544.4L630.1 545zM629.3 552L630.1 551.8L630.1 552.3zM629.3 559.1L630.1 558.9L630 559.5zM629.4 566.1L630.2 566.2L630 566.7zM629.5 573.4L630.2 573.5L630 574zM629.5 580.8L630.3 580.8L630 581.3zM629.5 588.1L630.3 588.2L630 588.7zM629.5 595.5L630.3 595.5L630 596zM629.5 602.8L630.3 602.9L630 603.3zM629.5 610.1L630.3 610.2L630 610.7zM636.1 464.9L636.9 464.1L637.3 464.8zM636.1 472.2L636.9 471.4L637.3 472.1zM636.1 479.6L636.9 478.7L637.3 479.5zM636.1 486.9L636.9 486.1L637.3 486.8zM636.1 494.3L636.9 493.4L637.3 494.2zM636.1 501.6L636.9 500.8L637.3 501.5zM636.1 508.9L636.9 508.1L637.2 508.8zM635.9 515.8L636.9 515.2L637.1 516zM635.9 522.7L637 522.3L637 523.1zM635.9 530L637 529.6L637 530.4zM635.9 537.4L637 536.9L637 537.8zM635.9 544.7L637 544.3L637 545.1zM635.9 552L637 551.6L637 552.4zM635.9 558.9L637.1 558.7L636.9 559.5zM636.1 565.8L637.2 565.9L636.9 566.6zM636.1 573.1L637.3 573.2L636.9 573.9zM636.1 580.4L637.3 580.5L636.9 581.3zM636.1 587.8L637.3 587.9L636.9 588.6zM636.1 595.1L637.3 595.2L636.9 596zM636.1 602.5L637.3 602.6L636.9 603.3zM636.1 609.8L637.3 609.9L636.9 610.6zM642.7 465.2L643.9 464.1L644.3 465.1zM642.7 472.6L643.9 471.5L644.3 472.4zM642.7 479.9L643.9 478.8L644.3 479.8zM642.7 487.3L643.9 486.1L644.3 487.1zM642.7 494.6L643.9 493.5L644.3 494.5zM642.7 501.9L643.9 500.8L644.3 501.8zM642.7 509.2L643.9 508.1L644.3 509.1zM642.5 516L643.9 515.1L644.1 516.2zM642.4 522.7L643.9 522.1L643.9 523.2zM642.4 530L643.9 529.5L643.9 530.5zM642.4 537.4L643.9 536.8L643.9 537.9zM642.4 544.7L643.9 544.2L643.9 545.2zM642.4 552L643.9 551.5L643.9 552.6zM642.5 558.7L644.1 558.5L643.9 559.6zM642.7 565.5L644.3 565.6L643.9 566.6zM642.7 572.8L644.3 572.9L643.9 573.9zM642.7 580.1L644.3 580.2L643.9 581.2zM642.7 587.4L644.3 587.6L643.9 588.6zM642.7 594.8L644.3 594.9L643.9 595.9zM642.7 602.1L644.3 602.3L643.9 603.2zM642.7 609.5L644.3 609.6L643.9 610.6zM649.3 465.5L650.8 464.2L651.3 465.4zM649.3 472.9L650.8 471.5L651.3 472.7zM649.3 480.2L650.8 478.9L651.3 480.1zM649.3 487.6L650.8 486.2L651.3 487.4zM649.3 494.9L650.8 493.5L651.3 494.8zM649.3 502.3L650.8 500.9L651.3 502.1zM649.3 509.5L650.8 508.2L651.3 509.4zM649.1 516.1L650.8 515.1L651 516.4zM649 522.7L650.9 522L650.9 523.3zM649 530L650.9 529.3L650.9 530.7zM649 537.4L650.9 536.7L650.9 538zM649 544.7L650.9 544L650.9 545.4zM649 552L650.9 551.4L650.9 552.7zM649.1 558.6L651 558.3L650.8 559.6zM649.3 565.2L651.3 565.3L650.8 566.5zM649.3 572.4L651.3 572.6L650.8 573.8zM649.3 579.8L651.3 579.9L650.8 581.2zM649.3 587.1L651.3 587.3L650.8 588.5zM649.3 594.5L651.3 594.6L650.8 595.8zM649.3 601.8L651.3 602L650.8 603.2zM649.3 609.2L651.3 609.3L650.8 610.5zM656.3 465.7L657.9 464.2L658.5 465.5zM656.3 473.1L657.9 471.5L658.5 472.9zM656.3 480.4L657.9 478.9L658.5 480.2zM656.3 487.7L657.9 486.2L658.5 487.6zM656.3 495.1L657.9 493.6L658.5 494.9zM656.3 502.4L657.9 500.9L658.5 502.3zM656.3 509.6L657.9 508.2L658.5 509.5zM656 516.2L657.9 515.1L658.2 516.5zM656 522.7L658 521.9L658 523.4zM656 530L658 529.3L658 530.7zM656 537.4L658 536.6L658 538.1zM656 544.7L658 544L658 545.4zM656 552L658 551.3L658 552.8zM656 558.5L658.2 558.2L657.9 559.6zM656.3 565.1L658.5 565.2L657.9 566.5zM656.3 572.3L658.5 572.4L657.9 573.8zM656.3 579.6L658.5 579.8L657.9 581.1zM656.3 587L658.5 587.1L657.9 588.5zM656.3 594.3L658.5 594.5L657.9 595.8zM656.3 601.6L658.5 601.8L657.9 603.2zM656.3 609L658.5 609.2L657.9 610.5zM663.7 465.7L665.3 464.2L665.9 465.5zM663.7 473.1L665.3 471.5L665.9 472.9zM663.7 480.4L665.3 478.9L665.9 480.2zM663.7 487.7L665.3 486.2L665.9 487.6zM663.7 495.1L665.3 493.6L665.9 494.9zM663.7 502.4L665.3 500.9L665.9 502.3zM663.6 509.6L665.3 508.2L665.8 509.5zM663.4 516.2L665.3 515.1L665.6 516.5zM663.3 522.7L665.4 521.9L665.4 523.4zM663.3 530L665.4 529.3L665.4 530.7zM663.3 537.4L665.4 536.6L665.4 538.1zM663.3 544.7L665.4 544L665.4 545.4zM663.3 552L665.4 551.3L665.4 552.8zM663.4 558.5L665.6 558.2L665.3 559.6zM663.6 565.1L665.8 565.2L665.3 566.5zM663.7 572.3L665.9 572.4L665.3 573.8zM663.7 579.6L665.9 579.8L665.3 581.1zM663.7 587L665.9 587.1L665.3 588.5zM663.7 594.3L665.9 594.5L665.3 595.8zM663.7 601.6L665.9 601.8L665.3 603.2zM663.7 609L665.9 609.2L665.3 610.5zM671.1 465.7L672.6 464.2L673.2 465.5zM671.1 473.1L672.6 471.5L673.2 472.9zM671.1 480.4L672.6 478.9L673.2 480.2zM671.1 487.7L672.6 486.2L673.2 487.6zM671.1 495.1L672.6 493.6L673.2 494.9zM671 502.4L672.6 500.9L673.2 502.3zM671 509.6L672.6 508.2L673.2 509.5zM670.8 516.2L672.6 515.1L672.9 516.5zM670.7 522.7L672.7 521.9L672.7 523.4zM670.7 530L672.7 529.3L672.7 530.7zM670.7 537.4L672.7 536.6L672.7 538.1zM670.7 544.7L672.7 544L672.7 545.4zM670.7 552L672.7 551.3L672.7 552.8zM670.8 558.5L672.9 558.2L672.6 559.6zM671 565.1L673.2 565.2L672.6 566.5zM671 572.3L673.2 572.4L672.6 573.8zM671.1 579.6L673.2 579.8L672.6 581.1zM671.1 587L673.2 587.1L672.6 588.5zM671.1 594.3L673.2 594.5L672.6 595.8zM671.1 601.6L673.2 601.8L672.6 603.2zM671.1 609L673.2 609.2L672.6 610.5zM678.4 465.7L680 464.2L680.6 465.5zM678.4 473.1L680 471.5L680.6 472.9zM678.4 480.4L680 478.9L680.6 480.2zM678.4 487.7L680 486.2L680.6 487.6zM678.4 495.1L680 493.6L680.6 494.9zM678.4 502.4L680 500.9L680.6 502.3zM678.4 509.6L680 508.2L680.5 509.5zM678.1 516.2L680 515.1L680.3 516.5zM678 522.7L680.1 521.9L680.1 523.4zM678 530L680.1 529.3L680.1 530.7zM678 537.4L680.1 536.6L680.1 538.1zM678 544.7L680.1 544L680.1 545.4zM678 552L680.1 551.3L680.1 552.8zM678.1 558.5L680.3 558.2L680 559.6zM678.4 565.1L680.5 565.2L680 566.5zM678.4 572.3L680.6 572.4L680 573.8zM678.4 579.6L680.6 579.8L680 581.1zM678.4 587L680.6 587.1L680 588.5zM678.4 594.3L680.6 594.5L680 595.8zM678.4 601.6L680.6 601.8L680 603.2zM678.4 609L680.6 609.2L680 610.5zM685.8 465.7L687.4 464.2L688 465.5zM685.8 473.1L687.4 471.5L688 472.9zM685.8 480.4L687.4 478.9L688 480.2zM685.8 487.7L687.4 486.2L688 487.6zM685.8 495.1L687.4 493.6L688 494.9zM685.8 502.4L687.3 500.9L688 502.3zM685.7 509.6L687.3 508.2L687.9 509.5zM685.5 516.2L687.3 515.1L687.6 516.5zM685.4 522.7L687.4 521.9L687.4 523.4zM685.4 530L687.4 529.3L687.4 530.7zM685.4 537.4L687.4 536.6L687.4 538.1zM685.4 544.7L687.4 544L687.4 545.4zM685.4 552L687.4 551.3L687.4 552.8zM685.5 558.5L687.6 558.2L687.3 559.6zM685.7 565.1L687.9 565.2L687.3 566.5zM685.8 572.3L688 572.4L687.3 573.8zM685.8 579.6L688 579.8L687.4 581.1zM685.8 587L688 587.1L687.4 588.5zM685.8 594.3L688 594.5L687.4 595.8zM685.8 601.6L688 601.8L687.4 603.2zM685.8 609L688 609.2L687.4 610.5z" stroke="#111" stroke-width="0.3" fill="#111" stroke-linejoin="round"/>
</g>
<text x="537.1" y="469.9" text-anchor="end" class="ab">0.2</text>
<text x="537.1" y="506.6" text-anchor="end" class="ab">0.1</text>
<text x="537.1" y="543.4" text-anchor="end" class="ab">0</text>
<text x="537.1" y="580.1" text-anchor="end" class="ab">-0.1</text>
<text x="537.1" y="616.8" text-anchor="end" class="ab">-0.2</text>
<text x="542.6" y="631.5" text-anchor="middle" class="ab">-0.2</text>
<text x="616.2" y="631.5" text-anchor="middle" class="ab">0</text>
<text x="689.8" y="631.5" text-anchor="middle" class="ab">0.2</text>
<text x="616.2" y="653.5" text-anchor="middle" class="al">Kx</text>
<text transform="translate(504.4 537) rotate(-90)" text-anchor="middle" class="al">Ky</text>
<rect x="706" y="463.9" width="10.4" height="146.9" fill="url(#cbg)" stroke="#6a5a5a" stroke-opacity="0.45" stroke-width="0.6"/>
<path d="M706 464.1h10.4M706 610.6h10.4" stroke="#2a1a1a" stroke-opacity="0.6" stroke-width="0.8"/>
<text x="721.2" y="469.6" class="cb">0.4</text>
<path d="M716.4 500.6h-1.5" stroke="#333" stroke-width="0.6"/>
<text x="721.2" y="506.3" class="cb">0.2</text>
<path d="M716.4 537.4h-1.5" stroke="#333" stroke-width="0.6"/>
<text x="721.2" y="543.1" class="cb">0</text>
<path d="M716.4 574.1h-1.5" stroke="#333" stroke-width="0.6"/>
<text x="721.2" y="579.8" class="cb">-0.2</text>
<text x="721.2" y="616.5" class="cb">-0.4</text>
</g>
<g>
<clipPath id="hc7"><rect x="278.6" y="664.5" width="147.2" height="146.9"/></clipPath>
<g clip-path="url(#hc7)">
<rect x="277.6" y="663.5" width="149.2" height="148.9" fill="#189dff"/>
<path d="M390.2 656.5L390.2 664.5C390.8 668 392.6 678.5 393.5 685.5C394.4 692.5 395.3 699.5 395.8 706.5C396.3 713.5 396.2 720.5 396.3 727.5C396.4 734.5 396.4 741.4 396.3 748.4C396.2 755.4 396.1 762.4 395.5 769.4C394.9 776.4 393.9 783.4 393 790.4C392.1 797.4 390.7 807.9 390.2 811.4L390.2 819.4L270.6 819.4L270.6 656.5Z" fill="#189dff"/>
<path d="M373.9 656.5L373.9 664.5C374.1 668.6 374.9 680.8 375.2 689C375.5 697.1 375.8 705.3 375.9 713.5C376 721.6 375.9 729.8 375.9 738C375.8 746.1 375.8 754.3 375.6 762.4C375.4 770.6 375.1 778.8 374.8 786.9C374.5 795.1 374.1 807.3 374 811.4L374 819.4L270.6 819.4L270.6 656.5Z" fill="#46b1ff"/>
<path d="M360.6 656.5L360.6 664.5C360.7 668 361.1 678.5 361.3 685.5C361.5 692.5 361.6 699.5 361.6 706.5C361.7 713.5 361.4 720.5 361.6 727.5C361.8 734.5 362.6 741.4 362.6 748.4C362.6 755.4 361.8 762.4 361.6 769.4C361.4 776.4 361.4 783.4 361.2 790.4C361 797.4 360.7 807.9 360.6 811.4L360.6 819.4L270.6 819.4L270.6 656.5Z" fill="#a3d8ff"/>
<path d="M351.9 656.5L351.9 664.5C351.9 689 351.9 786.9 351.9 811.4L351.9 819.4L270.6 819.4L270.6 656.5Z" fill="#fffcfb"/>
<path d="M338.2 656.5L338.2 664.5C338.3 668 338.6 678.5 338.8 685.5C339 692.5 339.1 699.5 339.2 706.5C339.3 713.5 339.4 720.5 339.2 727.5C339 734.5 338 741.4 338 748.4C338 755.4 338.9 762.4 339 769.4C339.1 776.4 338.7 783.4 338.6 790.4C338.5 797.4 338.3 807.9 338.2 811.4L338.2 819.4L270.6 819.4L270.6 656.5Z" fill="#ffc5c5"/>
<path d="M328 656.5L328 664.5C327.8 668 327 678.5 326.6 685.5C326.2 692.5 325.9 699.5 325.6 706.5C325.3 713.5 325.1 720.5 325 727.5C324.9 734.5 324.9 741.4 325 748.4C325.1 755.4 325.4 762.4 325.8 769.4C326.2 776.4 326.7 783.4 327.2 790.4C327.7 797.4 328.7 807.9 329 811.4L329 819.4L270.6 819.4L270.6 656.5Z" fill="#ff8a8c"/>
<path d="M310.7 656.5L310.7 664.5C310.4 668 309.5 678.5 309 685.5C308.5 692.5 308 699.5 307.8 706.5C307.6 713.5 307.6 720.5 307.6 727.5C307.6 734.5 307.5 741.4 307.6 748.4C307.7 755.4 307.8 762.4 308.2 769.4C308.6 776.4 309.2 783.4 309.8 790.4C310.4 797.4 311.4 807.9 311.7 811.4L311.7 819.4L270.6 819.4L270.6 656.5Z" fill="#ff6d6f"/>
<path d="M278.2 664.3L280.4 665.3M278.2 671.7L280.4 672.6M278.2 679L280.4 680M278.2 686.4L280.4 687.3M278.2 693.7L280.4 694.7M278.2 701.1L280.4 702M278.2 708.4L280.4 709.3M278.2 715.8L280.4 716.6M278.2 723.1L280.4 723.8M278.2 730.6L280.5 730.7M278.2 737.9L280.5 738M278.2 745.3L280.5 745.3M278.2 752.6L280.5 752.6M278.2 760L280.5 760M278.2 767.3L280.5 767.3M278.2 774.7L280.5 774.7M278.2 782L280.5 782M278.2 789.4L280.5 789M278.2 796.8L280.4 796.1M278.2 804.2L280.4 803.3M278.2 811.6L280.4 810.6M285.6 664.3L287.7 665.3M285.6 671.7L287.7 672.6M285.6 679L287.7 680M285.6 686.4L287.7 687.3M285.6 693.7L287.7 694.7M285.6 701.1L287.7 702M285.6 708.4L287.7 709.3M285.6 715.8L287.7 716.6M285.6 723.1L287.8 723.8M285.6 730.6L287.9 730.7M285.6 737.9L287.9 738M285.6 745.3L287.9 745.3M285.6 752.6L287.9 752.6M285.6 760L287.9 760M285.6 767.3L287.9 767.3M285.6 774.7L287.9 774.7M285.6 782L287.9 782M285.6 789.4L287.8 789M285.6 796.8L287.8 796.1M285.6 804.2L287.7 803.3M285.6 811.6L287.7 810.6M293 664.3L295.1 665.3M293 671.7L295.1 672.6M293 679L295.1 680M293 686.4L295.1 687.3M293 693.7L295.1 694.7M293 701.1L295.1 702M293 708.4L295.1 709.3M292.9 715.8L295.1 716.6M292.9 723.1L295.2 723.8M292.9 730.6L295.2 730.7M292.9 737.9L295.2 738M292.9 745.3L295.2 745.3M292.9 752.6L295.2 752.7M292.9 760L295.2 760M292.9 767.3L295.2 767.3M292.9 774.7L295.2 774.6M292.9 782L295.2 782M292.9 789.4L295.2 789M292.9 796.8L295.1 796.1M293 804.2L295.1 803.3M293 811.6L295.1 810.6M300.3 664.3L302.4 665.3M300.3 671.7L302.4 672.6M300.3 679L302.4 680M300.3 686.4L302.4 687.3M300.3 693.7L302.4 694.7M300.3 701.1L302.4 702M300.3 708.4L302.4 709.3M300.3 715.8L302.5 716.6M300.3 723.1L302.5 723.8M300.3 730.6L302.6 730.7M300.3 737.9L302.6 738.1M300.3 745.3L302.6 745.4M300.3 752.6L302.6 752.7M300.3 760L302.6 759.9M300.3 767.4L302.6 767.2M300.3 774.7L302.6 774.6M300.3 782L302.6 781.9M300.3 789.4L302.6 789M300.3 796.8L302.5 796.1M300.3 804.2L302.4 803.3M300.3 811.6L302.4 810.6M307.7 664.3L309.8 665.3M307.7 671.7L309.8 672.6M307.7 679L309.8 680M307.7 686.4L309.8 687.3M307.7 693.7L309.8 694.7M307.7 701.1L309.8 702M307.7 708.4L309.8 709.3M307.7 715.8L309.8 716.6M307.7 723.1L309.9 723.8M307.6 730.5L309.9 730.9M307.6 737.9L309.9 738.2M307.6 745.2L309.9 745.6M307.6 752.6L309.9 752.9M307.6 760L309.9 759.7M307.6 767.4L309.9 767M307.6 774.7L309.9 774.4M307.6 782.1L309.9 781.7M307.6 789.4L309.9 789M307.7 796.8L309.8 796.1M307.7 804.2L309.8 803.3M307.7 811.6L309.8 810.6M315 664.3L317.2 665.3M315 671.7L317.2 672.6M315 679L317.2 680M315 686.4L317.2 687.3M315 693.7L317.2 694.7M315 701.1L317.2 702M315 708.4L317.2 709.3M315 715.8L317.2 716.6M315 723.1L317.2 723.9M315 730.5L317.2 731.3M315 737.8L317.2 738.6M315 745.2L317.2 746M315 752.5L317.2 753.3M315 760.1L317.2 759.3M315 767.5L317.2 766.7M315 774.8L317.2 774M315 782.2L317.2 781.4M315 789.5L317.2 788.7M315 796.8L317.2 796M315 804.2L317.2 803.3M315 811.6L317.2 810.6M322.4 664.2L324.3 665.7M322.4 671.6L324.3 673M322.4 678.9L324.3 680.4M322.4 686.3L324.3 687.7M322.4 693.6L324.3 695.1M322.4 701L324.3 702.4M322.4 708.3L324.3 709.8M322.4 715.7L324.3 717.1M322.4 723L324.3 724.5M322.4 730.4L324.3 731.8M322.4 737.7L324.3 739.2M322.4 745L324.3 746.5M322.4 752.4L324.3 753.8M322.4 760.2L324.3 758.8M322.4 767.6L324.3 766.1M322.4 774.9L324.3 773.5M322.4 782.3L324.3 780.8M322.4 789.6L324.3 788.2M322.4 797L324.3 795.5M322.4 804.3L324.3 802.9M322.4 811.7L324.3 810.2M329.9 664.1L331.2 666.3M329.9 671.5L331.2 673.7M329.9 678.8L331.2 681M329.9 686.2L331.2 688.4M329.9 693.5L331.2 695.7M329.9 700.8L331.2 703.1M329.9 708.2L331.2 710.4M329.9 715.5L331.2 717.8M329.9 722.9L331.2 725.1M329.9 730.2L331.2 732.4M329.9 737.6L331.2 739.8M329.9 744.9L331.2 747.1M330 752.4L330.7 753.7M330.1 760.1L330.4 759.5M329.9 767.7L331 765.8M329.9 775.1L331.2 772.8M329.9 782.4L331.2 780.2M329.9 789.7L331.2 787.5M329.9 797.1L331.2 794.9M329.9 804.4L331.2 802.2M329.9 811.8L331.2 809.6M337.4 663.9L338 667.2M337.4 671.3L338 674.6M337.4 678.6L338 681.9M337.4 686L338 689.2M337.4 693.3L338 696.6M337.4 700.7L338 703.9M337.4 708L338 711.3M337.4 715.4L338 718.6M337.4 722.7L338 726M337.4 730.1L338 733.3M337.4 737.4L338 740.7M337.4 744.7L338 748M337.4 752.3L337.8 754.1M337.5 760.1L337.6 759.3M337.4 767.8L337.9 765.1M337.4 775.2L338 772M337.4 782.6L338 779.3M337.4 789.9L338 786.7M337.4 797.3L338 794M337.4 804.6L338 801.3M337.4 812L338 808.7M344.8 663.8L344.9 668.6M344.8 671.1L344.9 676M344.8 678.5L344.9 683.3M344.8 685.8L344.9 690.7M344.8 693.2L344.9 698M344.8 700.5L344.9 705.3M344.8 707.9L344.9 712.7M344.8 715.2L344.9 720M344.8 722.5L344.9 727.4M344.8 729.9L344.9 734.7M344.8 737.2L344.9 742.1M344.8 744.6L344.9 749.4M344.8 752.2L344.9 754.5M344.8 760.2L344.9 759.1M344.8 767.9L344.9 764.3M344.8 775.4L344.9 770.6M344.8 782.7L344.9 777.9M344.8 790.1L344.9 785.2M344.8 797.4L344.9 792.6M344.8 804.8L344.9 799.9M344.8 812.1L344.9 807.3M352.2 663.8L352.1 668.6M352.2 671.1L352.1 676M352.2 678.5L352.1 683.3M352.2 685.8L352.1 690.7M352.2 693.2L352.1 698M352.2 700.5L352.1 705.3M352.2 707.9L352.1 712.7M352.2 715.2L352.1 720M352.2 722.5L352.1 727.4M352.2 729.9L352.1 734.7M352.2 737.2L352.1 742.1M352.2 744.6L352.1 749.4M352.2 752.2L352.2 754.5M352.2 760.2L352.2 759.1M352.2 767.9L352.1 764.3M352.2 775.4L352.1 770.6M352.2 782.7L352.1 777.9M352.2 790.1L352.1 785.2M352.2 797.4L352.1 792.6M352.2 804.8L352.1 799.9M352.2 812.1L352.1 807.3M359.7 663.9L359 667.2M359.7 671.3L359 674.6M359.7 678.6L359 681.9M359.7 686L359 689.2M359.7 693.3L359 696.6M359.7 700.7L359 703.9M359.7 708L359 711.3M359.7 715.4L359 718.6M359.7 722.7L359 726M359.7 730.1L359 733.3M359.7 737.4L359 740.7M359.7 744.7L359 748M359.6 752.3L359.3 754.1M359.6 760.1L359.4 759.3M359.7 767.8L359.1 765.1M359.7 775.2L359 772M359.7 782.6L359 779.3M359.7 789.9L359 786.7M359.7 797.3L359 794M359.7 804.6L359 801.3M359.7 812L359 808.7M367.1 664.1L365.8 666.3M367.1 671.5L365.8 673.7M367.1 678.8L365.8 681M367.1 686.2L365.8 688.4M367.1 693.5L365.8 695.7M367.1 700.8L365.8 703.1M367.1 708.2L365.8 710.4M367.1 715.5L365.8 717.8M367.1 722.9L365.8 725.1M367.1 730.2L365.8 732.4M367.1 737.6L365.8 739.8M367.1 744.9L365.8 747.1M367 752.4L366.3 753.7M367 760.1L366.6 759.5M367.1 767.7L366 765.8M367.1 775.1L365.8 772.8M367.1 782.4L365.8 780.2M367.1 789.7L365.8 787.5M367.1 797.1L365.8 794.9M367.1 804.4L365.8 802.2M367.1 811.8L365.8 809.6M374.6 664.2L372.7 665.7M374.6 671.6L372.7 673M374.6 678.9L372.7 680.4M374.6 686.3L372.7 687.7M374.6 693.6L372.7 695.1M374.6 701L372.7 702.4M374.6 708.3L372.7 709.8M374.6 715.7L372.7 717.1M374.6 723L372.7 724.5M374.6 730.4L372.7 731.8M374.6 737.7L372.7 739.2M374.6 745L372.7 746.5M374.6 752.4L372.7 753.8M374.6 760.2L372.7 758.8M374.6 767.6L372.7 766.1M374.6 774.9L372.7 773.5M374.6 782.3L372.7 780.8M374.6 789.6L372.7 788.2M374.6 797L372.7 795.5M374.6 804.3L372.7 802.9M374.6 811.7L372.7 810.2M382 664.3L379.9 665.3M382 671.7L379.9 672.6M382 679L379.9 680M382 686.4L379.9 687.3M382 693.7L379.9 694.7M382 701.1L379.9 702M382 708.4L379.9 709.3M382 715.8L379.9 716.6M382 723.1L379.8 723.9M382 730.5L379.8 731.3M382 737.8L379.8 738.6M382 745.2L379.8 746M382 752.5L379.8 753.3M382 760.1L379.8 759.3M382 767.5L379.8 766.7M382 774.8L379.8 774M382 782.2L379.8 781.4M382 789.5L379.8 788.7M382 796.8L379.8 796M382 804.2L379.9 803.3M382 811.6L379.9 810.6M389.4 664.3L387.2 665.3M389.4 671.7L387.2 672.6M389.4 679L387.2 680M389.4 686.4L387.2 687.3M389.4 693.7L387.2 694.7M389.4 701.1L387.2 702M389.4 708.4L387.2 709.3M389.4 715.8L387.2 716.6M389.4 723.1L387.2 723.8M389.4 730.5L387.1 730.9M389.4 737.9L387.1 738.2M389.4 745.2L387.1 745.6M389.4 752.6L387.1 752.9M389.4 760L387.1 759.7M389.4 767.4L387.1 767M389.4 774.7L387.1 774.4M389.4 782.1L387.1 781.7M389.4 789.4L387.1 789M389.4 796.8L387.2 796.1M389.4 804.2L387.2 803.3M389.4 811.6L387.2 810.6M396.7 664.3L394.6 665.3M396.7 671.7L394.6 672.6M396.7 679L394.6 680M396.7 686.4L394.6 687.3M396.7 693.7L394.6 694.7M396.7 701.1L394.6 702M396.7 708.4L394.6 709.3M396.7 715.8L394.6 716.6M396.7 723.1L394.5 723.8M396.8 730.6L394.4 730.7M396.8 737.9L394.4 738.1M396.8 745.3L394.4 745.4M396.8 752.6L394.4 752.7M396.8 760L394.4 759.9M396.8 767.4L394.4 767.2M396.8 774.7L394.4 774.6M396.8 782L394.4 781.9M396.8 789.4L394.5 789M396.7 796.8L394.6 796.1M396.7 804.2L394.6 803.3M396.7 811.6L394.6 810.6M404.1 664.3L402 665.3M404.1 671.7L402 672.6M404.1 679L402 680M404.1 686.4L402 687.3M404.1 693.7L402 694.7M404.1 701.1L402 702M404.1 708.4L402 709.3M404.1 715.8L401.9 716.6M404.1 723.1L401.9 723.8M404.1 730.6L401.8 730.7M404.1 737.9L401.8 738M404.1 745.3L401.8 745.3M404.1 752.6L401.8 752.7M404.1 760L401.8 760M404.1 767.3L401.8 767.3M404.1 774.7L401.8 774.6M404.1 782L401.8 782M404.1 789.4L401.8 789M404.1 796.8L401.9 796.1M404.1 804.2L402 803.3M404.1 811.6L402 810.6M411.4 664.3L409.3 665.3M411.4 671.7L409.3 672.6M411.4 679L409.3 680M411.4 686.4L409.3 687.3M411.4 693.7L409.3 694.7M411.4 701.1L409.3 702M411.4 708.4L409.3 709.3M411.5 715.8L409.3 716.6M411.5 723.1L409.2 723.8M411.5 730.6L409.2 730.7M411.5 737.9L409.2 738M411.5 745.3L409.2 745.3M411.5 752.6L409.2 752.6M411.5 760L409.2 760M411.5 767.3L409.2 767.3M411.5 774.7L409.2 774.7M411.5 782L409.2 782M411.5 789.4L409.2 789M411.5 796.8L409.3 796.1M411.4 804.2L409.3 803.3M411.4 811.6L409.3 810.6M418.8 664.3L416.7 665.3M418.8 671.7L416.7 672.6M418.8 679L416.7 680M418.8 686.4L416.7 687.3M418.8 693.7L416.7 694.7M418.8 701.1L416.7 702M418.8 708.4L416.7 709.3M418.8 715.8L416.7 716.6M418.8 723.1L416.6 723.8M418.8 730.6L416.5 730.7M418.8 737.9L416.5 738M418.8 745.3L416.5 745.3M418.8 752.6L416.5 752.6M418.8 760L416.5 760M418.8 767.3L416.5 767.3M418.8 774.7L416.5 774.7M418.8 782L416.5 782M418.8 789.4L416.6 789M418.8 796.8L416.6 796.1M418.8 804.2L416.7 803.3M418.8 811.6L416.7 810.6M426.2 664.3L424 665.3M426.2 671.7L424 672.6M426.2 679L424 680M426.2 686.4L424 687.3M426.2 693.7L424 694.7M426.2 701.1L424 702M426.2 708.4L424 709.3M426.2 715.8L424 716.6M426.2 723.1L424 723.8M426.2 730.6L423.9 730.7M426.2 737.9L423.9 738M426.2 745.3L423.9 745.3M426.2 752.6L423.9 752.6M426.2 760L423.9 760M426.2 767.3L423.9 767.3M426.2 774.7L423.9 774.7M426.2 782L423.9 782M426.2 789.4L423.9 789M426.2 796.8L424 796.1M426.2 804.2L424 803.3M426.2 811.6L424 810.6" stroke="#111" stroke-width="0.78" fill="none"/>
<path d="M281.9 666L280.1 665.8L280.6 664.7zM281.9 673.3L280.1 673.2L280.6 672.1zM281.9 680.7L280.1 680.5L280.6 679.4zM281.9 688L280.1 687.9L280.6 686.8zM281.9 695.3L280.1 695.2L280.6 694.1zM281.9 702.7L280.1 702.6L280.6 701.4zM281.9 710L280.1 709.9L280.6 708.8zM281.9 717.2L280.2 717.2L280.6 716.1zM282.1 724.3L280.3 724.4L280.6 723.2zM282.2 730.9L280.5 731.3L280.6 730.1zM282.2 738L280.5 738.6L280.5 737.3zM282.2 745.3L280.5 745.9L280.5 744.7zM282.2 752.6L280.5 753.2L280.5 752zM282.2 760L280.5 760.6L280.5 759.4zM282.2 767.3L280.5 767.9L280.5 766.7zM282.2 774.7L280.5 775.3L280.5 774.1zM282.2 782L280.5 782.6L280.5 781.4zM282.1 788.7L280.6 789.6L280.4 788.4zM282 795.5L280.6 796.6L280.2 795.5zM281.9 802.7L280.6 803.9L280.1 802.8zM281.9 810L280.6 811.2L280.1 810.1zM289.2 666L287.5 665.8L288 664.7zM289.2 673.3L287.5 673.2L288 672.1zM289.2 680.7L287.5 680.5L288 679.4zM289.2 688L287.5 687.9L288 686.8zM289.2 695.3L287.5 695.2L288 694.1zM289.3 702.7L287.5 702.6L288 701.4zM289.3 710L287.5 709.9L288 708.8zM289.3 717.2L287.5 717.2L288 716.1zM289.4 724.3L287.6 724.4L288 723.2zM289.6 730.9L287.8 731.3L287.9 730.1zM289.6 738L287.9 738.6L287.9 737.4zM289.6 745.3L287.9 745.9L287.9 744.7zM289.6 752.7L287.9 753.3L287.9 752zM289.6 760L287.9 760.6L287.9 759.4zM289.6 767.3L287.9 767.9L287.9 766.7zM289.6 774.7L287.9 775.3L287.9 774.1zM289.6 782L287.9 782.6L287.9 781.4zM289.5 788.7L288 789.6L287.7 788.4zM289.3 795.5L288 796.6L287.6 795.5zM289.3 802.7L288 803.9L287.5 802.8zM289.3 810L288 811.2L287.5 810.1zM296.6 666L294.8 665.8L295.3 664.7zM296.6 673.3L294.8 673.2L295.3 672.1zM296.6 680.7L294.8 680.5L295.3 679.4zM296.6 688L294.8 687.9L295.3 686.8zM296.6 695.3L294.8 695.2L295.3 694.1zM296.6 702.7L294.8 702.6L295.3 701.4zM296.6 710L294.8 709.9L295.3 708.8zM296.7 717.2L294.9 717.2L295.3 716.1zM296.8 724.3L295 724.4L295.3 723.2zM296.9 730.9L295.2 731.3L295.3 730.1zM296.9 738L295.2 738.6L295.2 737.4zM296.9 745.4L295.2 745.9L295.2 744.7zM296.9 752.7L295.2 753.3L295.2 752.1zM296.9 759.9L295.2 760.6L295.2 759.3zM296.9 767.3L295.2 767.9L295.2 766.7zM296.9 774.6L295.2 775.2L295.2 774zM296.9 782L295.2 782.6L295.2 781.4zM296.9 788.7L295.3 789.6L295.1 788.4zM296.7 795.5L295.3 796.6L294.9 795.5zM296.6 802.7L295.3 803.9L294.9 802.8zM296.6 810L295.3 811.2L294.8 810.1zM304 666L302.2 665.8L302.7 664.7zM304 673.3L302.2 673.2L302.7 672.1zM304 680.7L302.2 680.5L302.7 679.4zM304 688L302.2 687.9L302.7 686.8zM304 695.3L302.2 695.2L302.7 694.1zM304 702.7L302.2 702.6L302.7 701.4zM304 710L302.2 709.9L302.7 708.8zM304 717.2L302.2 717.2L302.7 716.1zM304.1 724.3L302.4 724.4L302.7 723.2zM304.3 730.9L302.6 731.3L302.6 730.1zM304.3 738.1L302.6 738.7L302.6 737.5zM304.3 745.5L302.6 746L302.6 744.8zM304.3 752.8L302.6 753.3L302.6 752.1zM304.3 759.8L302.6 760.5L302.6 759.3zM304.3 767.1L302.6 767.8L302.6 766.6zM304.3 774.5L302.6 775.2L302.6 774zM304.3 781.8L302.6 782.5L302.6 781.3zM304.2 788.7L302.7 789.6L302.4 788.4zM304.1 795.5L302.7 796.6L302.3 795.5zM304 802.7L302.7 803.9L302.2 802.8zM304 810L302.7 811.2L302.2 810.1zM311.3 666L309.5 665.8L310 664.7zM311.3 673.3L309.5 673.2L310 672.1zM311.3 680.7L309.5 680.5L310 679.4zM311.3 688L309.5 687.9L310 686.8zM311.3 695.3L309.5 695.2L310 694.1zM311.3 702.7L309.6 702.6L310 701.4zM311.3 710L309.6 709.9L310 708.8zM311.4 717.2L309.6 717.2L310 716.1zM311.5 724.3L309.7 724.4L310.1 723.2zM311.6 731.2L309.8 731.5L310 730.3zM311.6 738.5L309.8 738.8L310 737.6zM311.6 745.8L309.8 746.2L310 745zM311.6 753.2L309.8 753.5L310 752.3zM311.6 759.4L310 760.3L309.8 759.1zM311.6 766.8L310 767.6L309.8 766.4zM311.6 774.1L310 775L309.8 773.8zM311.6 781.5L310 782.3L309.8 781.1zM311.6 788.7L310 789.6L309.8 788.4zM311.4 795.5L310.1 796.6L309.6 795.5zM311.4 802.7L310 803.9L309.6 802.8zM311.3 810L310 811.2L309.6 810.1zM318.7 666L316.9 665.8L317.4 664.7zM318.7 673.3L316.9 673.2L317.4 672.1zM318.7 680.7L316.9 680.5L317.4 679.4zM318.7 688L316.9 687.9L317.4 686.8zM318.7 695.3L316.9 695.2L317.4 694.1zM318.7 702.7L316.9 702.6L317.4 701.4zM318.7 710L316.9 709.9L317.4 708.8zM318.7 717.2L317 717.2L317.4 716.1zM318.8 724.5L317 724.5L317.4 723.4zM318.8 731.9L317 731.8L317.4 730.7zM318.8 739.2L317 739.2L317.4 738zM318.8 746.5L317 746.5L317.4 745.4zM318.8 753.9L317 753.9L317.4 752.7zM318.8 758.7L317.4 759.9L317 758.8zM318.8 766.1L317.4 767.2L317 766.1zM318.8 773.4L317.4 774.6L317 773.4zM318.8 780.8L317.4 781.9L317 780.8zM318.8 788.1L317.4 789.3L317 788.1zM318.8 795.5L317.4 796.6L317 795.5zM318.7 802.7L317.4 803.9L316.9 802.8zM318.7 810L317.4 811.2L316.9 810.1zM325.6 666.8L323.9 666.2L324.7 665.2zM325.6 674.1L323.9 673.5L324.7 672.6zM325.6 681.4L323.9 680.9L324.7 679.9zM325.6 688.8L323.9 688.2L324.7 687.3zM325.6 696.1L323.9 695.6L324.7 694.6zM325.6 703.5L323.9 702.9L324.7 701.9zM325.6 710.8L323.9 710.3L324.7 709.3zM325.6 718.2L323.9 717.6L324.7 716.6zM325.6 725.5L323.9 724.9L324.7 724zM325.6 732.9L323.9 732.3L324.7 731.3zM325.6 740.2L323.9 739.6L324.7 738.7zM325.6 747.6L323.9 747L324.7 746zM325.6 754.9L323.9 754.3L324.7 753.4zM325.6 757.7L324.7 759.3L323.9 758.3zM325.6 765.1L324.7 766.6L323.9 765.6zM325.6 772.4L324.7 774L323.9 773zM325.6 779.8L324.7 781.3L323.9 780.3zM325.6 787.1L324.7 788.6L323.9 787.7zM325.6 794.5L324.7 796L323.9 795zM325.6 801.8L324.7 803.3L323.9 802.4zM325.6 809.1L324.7 810.7L323.9 809.7zM332.1 668L330.6 666.7L331.8 666zM332.1 675.3L330.6 674L331.8 673.3zM332.1 682.6L330.6 681.4L331.8 680.7zM332.1 690L330.6 688.7L331.8 688zM332.1 697.3L330.6 696.1L331.8 695.4zM332.1 704.7L330.6 703.4L331.8 702.7zM332.1 712L330.6 710.7L331.8 710.1zM332.1 719.4L330.6 718.1L331.8 717.4zM332.1 726.7L330.6 725.4L331.8 724.8zM332.1 734.1L330.6 732.8L331.8 732.1zM332.1 741.4L330.6 740.1L331.8 739.5zM332.1 748.7L330.6 747.5L331.8 746.8zM331.2 754.5L330.4 753.8L331 753.5zM330.6 759.1L330.6 759.6L330.2 759.4zM331.8 764.4L331.5 766.1L330.5 765.5zM332.1 771.2L331.8 773.2L330.6 772.5zM332.1 778.6L331.8 780.5L330.6 779.8zM332.1 785.9L331.8 787.9L330.6 787.2zM332.1 793.3L331.8 795.2L330.6 794.5zM332.1 800.6L331.8 802.6L330.6 801.9zM332.1 807.9L331.8 809.9L330.6 809.2zM338.5 669.5L337.2 667.4L338.8 667.1zM338.5 676.8L337.2 674.7L338.8 674.4zM338.5 684.2L337.2 682.1L338.8 681.7zM338.5 691.5L337.2 689.4L338.8 689.1zM338.5 698.9L337.2 696.8L338.8 696.4zM338.5 706.2L337.2 704.1L338.8 703.8zM338.5 713.5L337.2 711.4L338.8 711.1zM338.5 720.9L337.2 718.8L338.8 718.5zM338.5 728.2L337.2 726.1L338.8 725.8zM338.5 735.6L337.2 733.5L338.8 733.2zM338.5 742.9L337.2 740.8L338.8 740.5zM338.5 750.3L337.2 748.2L338.8 747.8zM338 755.4L337.3 754.2L338.2 754zM337.7 758.7L337.8 759.3L337.4 759.2zM338.3 763.2L338.6 765.3L337.2 765zM338.5 769.7L338.8 772.1L337.2 771.8zM338.5 777L338.8 779.5L337.2 779.1zM338.5 784.4L338.8 786.8L337.2 786.5zM338.5 791.7L338.8 794.2L337.2 793.8zM338.5 799.1L338.8 801.5L337.2 801.2zM338.5 806.4L338.8 808.8L337.2 808.5zM345 670.9L344.1 668.6L345.7 668.6zM345 678.3L344.1 676L345.7 675.9zM345 685.6L344.1 683.3L345.7 683.3zM345 693L344.1 690.7L345.7 690.6zM345 700.3L344.1 698L345.7 698zM345 707.6L344.1 705.4L345.7 705.3zM345 715L344.1 712.7L345.7 712.7zM345 722.3L344.1 720L345.7 720zM345 729.7L344.1 727.4L345.7 727.4zM345 737L344.1 734.7L345.7 734.7zM345 744.4L344.1 742.1L345.7 742.1zM345 751.7L344.1 749.4L345.7 749.4zM344.9 756.2L344.3 754.5L345.5 754.5zM344.9 758.3L345.1 759.1L344.6 759.1zM344.9 762L345.7 764.3L344.1 764.3zM345 768.3L345.7 770.6L344.1 770.5zM345 775.6L345.7 777.9L344.1 777.9zM345 782.9L345.7 785.3L344.1 785.2zM345 790.3L345.7 792.6L344.1 792.6zM345 797.6L345.7 800L344.1 799.9zM345 805L345.7 807.3L344.1 807.3zM352.1 670.9L351.3 668.6L353 668.6zM352.1 678.3L351.3 675.9L353 676zM352.1 685.6L351.3 683.3L353 683.3zM352.1 693L351.3 690.6L353 690.7zM352.1 700.3L351.3 698L353 698zM352.1 707.6L351.3 705.3L353 705.4zM352.1 715L351.3 712.7L353 712.7zM352.1 722.3L351.3 720L353 720zM352.1 729.7L351.3 727.4L353 727.4zM352.1 737L351.3 734.7L353 734.7zM352.1 744.4L351.3 742.1L353 742.1zM352.1 751.7L351.3 749.4L353 749.4zM352.1 756.2L351.6 754.5L352.8 754.5zM352.2 758.3L352.5 759.1L351.9 759.1zM352.1 762L353 764.3L351.3 764.3zM352.1 768.3L353 770.5L351.3 770.6zM352.1 775.6L353 777.9L351.3 777.9zM352.1 782.9L353 785.2L351.3 785.3zM352.1 790.3L353 792.6L351.3 792.6zM352.1 797.6L353 799.9L351.3 800zM352.1 805L353 807.3L351.3 807.3zM358.6 669.5L358.2 667.1L359.8 667.4zM358.6 676.8L358.2 674.4L359.8 674.7zM358.6 684.2L358.2 681.7L359.8 682.1zM358.6 691.5L358.2 689.1L359.8 689.4zM358.6 698.9L358.2 696.4L359.8 696.8zM358.6 706.2L358.2 703.8L359.8 704.1zM358.6 713.5L358.2 711.1L359.8 711.4zM358.6 720.9L358.2 718.5L359.8 718.8zM358.6 728.2L358.2 725.8L359.8 726.1zM358.6 735.6L358.2 733.2L359.8 733.5zM358.6 742.9L358.2 740.5L359.8 740.8zM358.6 750.3L358.2 747.8L359.8 748.2zM359 755.4L358.8 754L359.7 754.2zM359.3 758.7L359.6 759.2L359.2 759.3zM358.7 763.2L359.8 765L358.4 765.3zM358.6 769.7L359.8 771.8L358.2 772.1zM358.6 777L359.8 779.1L358.2 779.5zM358.6 784.4L359.8 786.5L358.2 786.8zM358.6 791.7L359.8 793.8L358.2 794.2zM358.6 799.1L359.8 801.2L358.2 801.5zM358.6 806.4L359.8 808.5L358.2 808.8zM364.9 668L365.3 666L366.4 666.7zM364.9 675.3L365.3 673.3L366.4 674zM364.9 682.6L365.3 680.7L366.4 681.4zM364.9 690L365.3 688L366.4 688.7zM364.9 697.3L365.3 695.4L366.4 696.1zM364.9 704.7L365.3 702.7L366.4 703.4zM364.9 712L365.3 710.1L366.4 710.7zM364.9 719.4L365.3 717.4L366.4 718.1zM364.9 726.7L365.3 724.8L366.4 725.4zM364.9 734.1L365.3 732.1L366.4 732.8zM364.9 741.4L365.3 739.5L366.4 740.1zM364.9 748.7L365.3 746.8L366.4 747.5zM365.8 754.5L366 753.5L366.6 753.8zM366.4 759.1L366.8 759.4L366.5 759.6zM365.2 764.4L366.5 765.5L365.5 766.1zM364.9 771.2L366.4 772.5L365.3 773.2zM364.9 778.6L366.4 779.8L365.3 780.5zM364.9 785.9L366.4 787.2L365.3 787.9zM364.9 793.3L366.4 794.5L365.3 795.2zM364.9 800.6L366.4 801.9L365.3 802.6zM364.9 807.9L366.4 809.2L365.3 809.9zM371.4 666.8L372.4 665.2L373.1 666.2zM371.4 674.1L372.4 672.6L373.1 673.5zM371.4 681.4L372.4 679.9L373.1 680.9zM371.4 688.8L372.4 687.3L373.1 688.2zM371.4 696.1L372.4 694.6L373.1 695.6zM371.4 703.5L372.4 701.9L373.1 702.9zM371.4 710.8L372.4 709.3L373.1 710.3zM371.4 718.2L372.4 716.6L373.1 717.6zM371.4 725.5L372.4 724L373.1 724.9zM371.4 732.9L372.4 731.3L373.1 732.3zM371.4 740.2L372.4 738.7L373.1 739.6zM371.4 747.6L372.4 746L373.1 747zM371.4 754.9L372.4 753.4L373.1 754.3zM371.4 757.7L373.1 758.3L372.4 759.3zM371.4 765.1L373.1 765.6L372.4 766.6zM371.4 772.4L373.1 773L372.4 774zM371.4 779.8L373.1 780.3L372.4 781.3zM371.4 787.1L373.1 787.7L372.4 788.6zM371.4 794.5L373.1 795L372.4 796zM371.4 801.8L373.1 802.4L372.4 803.3zM371.4 809.1L373.1 809.7L372.4 810.7zM378.3 666L379.6 664.7L380.1 665.8zM378.3 673.3L379.6 672.1L380.1 673.2zM378.3 680.7L379.6 679.4L380.1 680.5zM378.3 688L379.6 686.8L380.1 687.9zM378.3 695.3L379.6 694.1L380.1 695.2zM378.3 702.7L379.6 701.4L380.1 702.6zM378.3 710L379.6 708.8L380.1 709.9zM378.3 717.2L379.6 716.1L380.1 717.2zM378.3 724.5L379.6 723.4L380 724.5zM378.3 731.9L379.6 730.7L380 731.8zM378.3 739.2L379.6 738L380 739.2zM378.3 746.5L379.6 745.4L380 746.5zM378.3 753.9L379.6 752.7L380 753.9zM378.3 758.7L380 758.8L379.6 759.9zM378.3 766.1L380 766.1L379.6 767.2zM378.3 773.4L380 773.4L379.6 774.6zM378.3 780.8L380 780.8L379.6 781.9zM378.3 788.1L380 788.1L379.6 789.3zM378.3 795.5L380 795.5L379.6 796.6zM378.3 802.7L380.1 802.8L379.6 803.9zM378.3 810L380.1 810.1L379.6 811.2zM385.7 666L387 664.7L387.5 665.8zM385.7 673.3L387 672.1L387.5 673.2zM385.7 680.7L387 679.4L387.5 680.5zM385.7 688L387 686.8L387.5 687.9zM385.7 695.3L387 694.1L387.5 695.2zM385.7 702.7L387 701.4L387.5 702.6zM385.7 710L387 708.8L387.5 709.9zM385.7 717.2L387 716.1L387.4 717.2zM385.5 724.3L387 723.2L387.3 724.4zM385.4 731.2L387 730.3L387.2 731.5zM385.4 738.5L387 737.6L387.2 738.8zM385.4 745.8L387 745L387.2 746.2zM385.4 753.2L387 752.3L387.2 753.5zM385.4 759.4L387.2 759.1L387 760.3zM385.4 766.8L387.2 766.4L387 767.6zM385.4 774.1L387.2 773.8L387 775zM385.4 781.5L387.2 781.1L387 782.3zM385.5 788.7L387.2 788.4L387 789.6zM385.6 795.5L387.4 795.5L387 796.6zM385.7 802.7L387.5 802.8L387 803.9zM385.7 810L387.5 810.1L387 811.2zM393.1 666L394.4 664.7L394.9 665.8zM393.1 673.3L394.4 672.1L394.9 673.2zM393.1 680.7L394.4 679.4L394.9 680.5zM393.1 688L394.4 686.8L394.9 687.9zM393.1 695.3L394.4 694.1L394.9 695.2zM393.1 702.7L394.4 701.4L394.8 702.6zM393.1 710L394.4 708.8L394.8 709.9zM393 717.2L394.4 716.1L394.8 717.2zM392.9 724.3L394.3 723.2L394.7 724.4zM392.8 730.9L394.4 730.1L394.5 731.3zM392.8 738.1L394.4 737.5L394.5 738.7zM392.8 745.5L394.4 744.8L394.5 746zM392.8 752.8L394.4 752.1L394.5 753.3zM392.8 759.8L394.5 759.3L394.4 760.5zM392.8 767.1L394.5 766.6L394.4 767.8zM392.8 774.5L394.5 774L394.4 775.2zM392.8 781.8L394.5 781.3L394.4 782.5zM392.8 788.7L394.6 788.4L394.4 789.6zM393 795.5L394.8 795.5L394.3 796.6zM393 802.7L394.8 802.8L394.4 803.9zM393.1 810L394.8 810.1L394.4 811.2zM400.4 666L401.7 664.7L402.2 665.8zM400.4 673.3L401.7 672.1L402.2 673.2zM400.4 680.7L401.7 679.4L402.2 680.5zM400.4 688L401.7 686.8L402.2 687.9zM400.4 695.3L401.7 694.1L402.2 695.2zM400.4 702.7L401.7 701.4L402.2 702.6zM400.4 710L401.7 708.8L402.2 709.9zM400.4 717.2L401.7 716.1L402.2 717.2zM400.3 724.3L401.7 723.2L402 724.4zM400.1 730.9L401.8 730.1L401.8 731.3zM400.1 738L401.8 737.4L401.8 738.6zM400.1 745.4L401.8 744.7L401.8 745.9zM400.1 752.7L401.8 752.1L401.8 753.3zM400.1 759.9L401.8 759.3L401.8 760.6zM400.1 767.3L401.8 766.7L401.8 767.9zM400.1 774.6L401.8 774L401.8 775.2zM400.1 782L401.8 781.4L401.8 782.6zM400.2 788.7L402 788.4L401.7 789.6zM400.3 795.5L402.1 795.5L401.7 796.6zM400.4 802.7L402.2 802.8L401.7 803.9zM400.4 810L402.2 810.1L401.7 811.2zM407.8 666L409.1 664.7L409.6 665.8zM407.8 673.3L409.1 672.1L409.6 673.2zM407.8 680.7L409.1 679.4L409.6 680.5zM407.8 688L409.1 686.8L409.6 687.9zM407.8 695.3L409.1 694.1L409.6 695.2zM407.8 702.7L409.1 701.4L409.6 702.6zM407.8 710L409.1 708.8L409.6 709.9zM407.7 717.2L409.1 716.1L409.5 717.2zM407.6 724.3L409.1 723.2L409.4 724.4zM407.5 730.9L409.1 730.1L409.2 731.3zM407.5 738L409.2 737.4L409.2 738.6zM407.5 745.3L409.2 744.7L409.2 745.9zM407.5 752.7L409.2 752L409.2 753.3zM407.5 760L409.2 759.4L409.2 760.6zM407.5 767.3L409.2 766.7L409.2 767.9zM407.5 774.7L409.2 774.1L409.2 775.3zM407.5 782L409.2 781.4L409.2 782.6zM407.5 788.7L409.3 788.4L409.1 789.6zM407.7 795.5L409.5 795.5L409.1 796.6zM407.8 802.7L409.5 802.8L409.1 803.9zM407.8 810L409.6 810.1L409.1 811.2zM415.2 666L416.4 664.7L416.9 665.8zM415.2 673.3L416.4 672.1L416.9 673.2zM415.2 680.7L416.4 679.4L416.9 680.5zM415.2 688L416.4 686.8L416.9 687.9zM415.2 695.3L416.4 694.1L416.9 695.2zM415.1 702.7L416.4 701.4L416.9 702.6zM415.1 710L416.4 708.8L416.9 709.9zM415.1 717.2L416.4 716.1L416.9 717.2zM415 724.3L416.4 723.2L416.8 724.4zM414.8 730.9L416.5 730.1L416.6 731.3zM414.8 738L416.5 737.3L416.5 738.6zM414.8 745.3L416.5 744.7L416.5 745.9zM414.8 752.6L416.5 752L416.5 753.2zM414.8 760L416.5 759.4L416.5 760.6zM414.8 767.3L416.5 766.7L416.5 767.9zM414.8 774.7L416.5 774.1L416.5 775.3zM414.8 782L416.5 781.4L416.5 782.6zM414.9 788.7L416.7 788.4L416.4 789.6zM415.1 795.5L416.8 795.5L416.4 796.6zM415.1 802.7L416.9 802.8L416.4 803.9zM415.1 810L416.9 810.1L416.4 811.2zM422.5 666L423.8 664.7L424.3 665.8zM422.5 673.3L423.8 672.1L424.3 673.2zM422.5 680.7L423.8 679.4L424.3 680.5zM422.5 688L423.8 686.8L424.3 687.9zM422.5 695.3L423.8 694.1L424.3 695.2zM422.5 702.7L423.8 701.4L424.3 702.6zM422.5 710L423.8 708.8L424.3 709.9zM422.5 717.2L423.8 716.1L424.2 717.2zM422.3 724.3L423.8 723.2L424.1 724.4zM422.2 730.9L423.8 730.1L423.9 731.3zM422.2 738L423.9 737.3L423.9 738.6zM422.2 745.3L423.9 744.7L423.9 745.9zM422.2 752.6L423.9 752L423.9 753.2zM422.2 760L423.9 759.4L423.9 760.6zM422.2 767.3L423.9 766.7L423.9 767.9zM422.2 774.7L423.9 774.1L423.9 775.3zM422.2 782L423.9 781.4L423.9 782.6zM422.3 788.7L424 788.4L423.8 789.6zM422.4 795.5L424.2 795.5L423.8 796.6zM422.5 802.7L424.3 802.8L423.8 803.9zM422.5 810L424.3 810.1L423.8 811.2z" stroke="#111" stroke-width="0.3" fill="#111" stroke-linejoin="round"/>
</g>
<text x="273.1" y="670.5" text-anchor="end" class="ab">0.2</text>
<text x="273.1" y="707.2" text-anchor="end" class="ab">0.1</text>
<text x="273.1" y="744" text-anchor="end" class="ab">0</text>
<text x="273.1" y="780.7" text-anchor="end" class="ab">-0.1</text>
<text x="273.1" y="817.4" text-anchor="end" class="ab">-0.2</text>
<text x="278.6" y="832.1" text-anchor="middle" class="ab">-0.2</text>
<text x="352.2" y="832.1" text-anchor="middle" class="ab">0</text>
<text x="425.8" y="832.1" text-anchor="middle" class="ab">0.2</text>
<text x="352.2" y="854.1" text-anchor="middle" class="al">Kx</text>
<text transform="translate(240.4 737.6) rotate(-90)" text-anchor="middle" class="al">Ky</text>
<rect x="441.7" y="664.5" width="10.4" height="146.9" fill="url(#cbg)" stroke="#6a5a5a" stroke-opacity="0.45" stroke-width="0.6"/>
<path d="M441.7 664.7h10.4M441.7 811.2h10.4" stroke="#2a1a1a" stroke-opacity="0.6" stroke-width="0.8"/>
<text x="456.9" y="670.2" class="cb">0.5</text>
<path d="M452.1 738h-1.5" stroke="#333" stroke-width="0.6"/>
<text x="456.9" y="743.7" class="cb">0</text>
<text x="456.9" y="817.1" class="cb">-0.5</text>
</g>
<g>
<clipPath id="hc8"><rect x="542.6" y="664.5" width="147.2" height="146.9"/></clipPath>
<g clip-path="url(#hc8)">
<rect x="541.6" y="663.5" width="149.2" height="148.9" fill="#ff6d6f"/>
<path d="M654.2 656.5L654.2 664.5C654.8 668 656.6 678.5 657.5 685.5C658.4 692.5 659.3 699.5 659.8 706.5C660.3 713.5 660.2 720.5 660.3 727.5C660.4 734.5 660.4 741.4 660.3 748.4C660.2 755.4 660 762.4 659.5 769.4C659 776.4 657.9 783.4 657 790.4C656.1 797.4 654.7 807.9 654.2 811.4L654.2 819.4L534.6 819.4L534.6 656.5Z" fill="#ff8a8c"/>
<path d="M637.9 656.5L637.9 664.5C638.1 668.6 638.9 680.8 639.2 689C639.5 697.1 639.8 705.3 639.9 713.5C640 721.6 639.9 729.8 639.9 738C639.9 746.1 639.8 754.3 639.6 762.4C639.4 770.6 639.1 778.8 638.8 786.9C638.5 795.1 638.1 807.3 638 811.4L638 819.4L534.6 819.4L534.6 656.5Z" fill="#ffc5c5"/>
<path d="M624.6 656.5L624.6 664.5C624.7 668 625.1 678.5 625.3 685.5C625.5 692.5 625.5 699.5 625.6 706.5C625.7 713.5 625.4 720.5 625.6 727.5C625.8 734.5 626.6 741.4 626.6 748.4C626.6 755.4 625.8 762.4 625.6 769.4C625.4 776.4 625.4 783.4 625.2 790.4C625 797.4 624.7 807.9 624.6 811.4L624.6 819.4L534.6 819.4L534.6 656.5Z" fill="#fffcfb"/>
<path d="M615.9 656.5L615.9 664.5C615.9 689 615.9 786.9 615.9 811.4L615.9 819.4L534.6 819.4L534.6 656.5Z" fill="#a3d8ff"/>
<path d="M602.2 656.5L602.2 664.5C602.3 668 602.6 678.5 602.8 685.5C603 692.5 603.1 699.5 603.2 706.5C603.3 713.5 603.4 720.5 603.2 727.5C603 734.5 602 741.4 602 748.4C602 755.4 602.9 762.4 603 769.4C603.1 776.4 602.7 783.4 602.6 790.4C602.5 797.4 602.3 807.9 602.2 811.4L602.2 819.4L534.6 819.4L534.6 656.5Z" fill="#46b1ff"/>
<path d="M592 656.5L592 664.5C591.8 668 591 678.5 590.6 685.5C590.2 692.5 589.9 699.5 589.6 706.5C589.3 713.5 589.1 720.5 589 727.5C588.9 734.5 588.9 741.4 589 748.4C589.1 755.4 589.4 762.4 589.8 769.4C590.2 776.4 590.7 783.4 591.2 790.4C591.7 797.4 592.7 807.9 593 811.4L593 819.4L534.6 819.4L534.6 656.5Z" fill="#189dff"/>
<path d="M574.7 656.5L574.7 664.5C574.4 668 573.5 678.5 573 685.5C572.5 692.5 572 699.5 571.8 706.5C571.6 713.5 571.6 720.5 571.6 727.5C571.6 734.5 571.5 741.4 571.6 748.4C571.7 755.4 571.8 762.4 572.2 769.4C572.6 776.4 573.2 783.4 573.8 790.4C574.4 797.4 575.4 807.9 575.7 811.4L575.7 819.4L534.6 819.4L534.6 656.5Z" fill="#189dff"/>
<path d="M543 664.7L540.8 663.7M543 672L540.8 671.1M543 679.4L540.8 678.4M543 686.7L540.8 685.8M543 694L540.8 693.1M543 701.4L540.8 700.4M543 708.7L540.8 707.8M543 716.1L540.8 715.2M543 723.4L540.8 722.7M543 730.6L540.7 730.5M543 738L540.7 737.9M543 745.3L540.7 745.3M543 752.6L540.7 752.6M543 760L540.7 760M543 767.3L540.7 767.3M543 774.7L540.7 774.7M543 782L540.7 782M543 789.3L540.7 789.7M543 796.6L540.8 797.4M543 803.9L540.8 804.8M543 811.2L540.8 812.2M550.3 664.7L548.2 663.7M550.3 672L548.2 671.1M550.3 679.4L548.2 678.4M550.3 686.7L548.2 685.8M550.3 694L548.2 693.1M550.3 701.4L548.2 700.4M550.3 708.7L548.2 707.8M550.3 716.1L548.2 715.2M550.3 723.4L548.1 722.7M550.4 730.6L548 730.5M550.4 738L548 737.9M550.4 745.3L548 745.3M550.4 752.6L548 752.6M550.4 760L548 760M550.4 767.3L548 767.3M550.4 774.7L548 774.7M550.4 782L548 782M550.4 789.3L548.1 789.7M550.3 796.6L548.2 797.4M550.3 803.9L548.2 804.8M550.3 811.2L548.2 812.2M557.7 664.7L555.6 663.7M557.7 672L555.6 671.1M557.7 679.4L555.6 678.4M557.7 686.7L555.6 685.8M557.7 694L555.6 693.1M557.7 701.4L555.6 700.4M557.7 708.7L555.6 707.8M557.7 716.1L555.5 715.2M557.7 723.4L555.5 722.7M557.7 730.6L555.4 730.5M557.7 738L555.4 737.9M557.7 745.3L555.4 745.3M557.7 752.6L555.4 752.6M557.7 760L555.4 760M557.7 767.3L555.4 767.4M557.7 774.7L555.4 774.7M557.7 782L555.4 782.1M557.7 789.3L555.4 789.7M557.7 796.6L555.5 797.4M557.7 803.9L555.6 804.8M557.7 811.2L555.6 812.2M565 664.7L562.9 663.7M565 672L562.9 671.1M565 679.4L562.9 678.4M565 686.7L562.9 685.8M565 694L562.9 693.1M565 701.4L562.9 700.4M565 708.7L562.9 707.8M565.1 716.1L562.9 715.2M565.1 723.4L562.8 722.7M565.1 730.6L562.8 730.5M565.1 738L562.8 737.8M565.1 745.3L562.8 745.2M565.1 752.7L562.8 752.5M565.1 760L562.8 760.1M565.1 767.3L562.8 767.4M565.1 774.7L562.8 774.8M565.1 782L562.8 782.1M565.1 789.3L562.8 789.7M565.1 796.6L562.9 797.4M565 803.9L562.9 804.8M565 811.2L562.9 812.2M572.4 664.7L570.3 663.7M572.4 672L570.3 671.1M572.4 679.4L570.3 678.4M572.4 686.7L570.3 685.8M572.4 694L570.3 693.1M572.4 701.4L570.3 700.4M572.4 708.7L570.3 707.8M572.4 716.1L570.3 715.2M572.4 723.4L570.2 722.7M572.4 730.7L570.1 730.3M572.4 738L570.1 737.7M572.4 745.4L570.1 745M572.4 752.7L570.1 752.3M572.4 759.9L570.1 760.3M572.4 767.3L570.1 767.6M572.4 774.6L570.1 775M572.4 782L570.1 782.3M572.4 789.3L570.2 789.7M572.4 796.6L570.2 797.4M572.4 803.9L570.3 804.8M572.4 811.2L570.3 812.2M579.8 664.7L577.6 663.7M579.8 672L577.6 671.1M579.8 679.4L577.6 678.4M579.8 686.7L577.6 685.8M579.8 694L577.6 693.1M579.8 701.4L577.6 700.4M579.8 708.7L577.6 707.8M579.8 716.1L577.6 715.2M579.8 723.4L577.6 722.6M579.8 730.7L577.6 729.9M579.8 738.1L577.6 737.3M579.8 745.4L577.6 744.6M579.8 752.8L577.6 752M579.8 759.8L577.6 760.6M579.8 767.2L577.6 768M579.8 774.5L577.6 775.3M579.8 781.9L577.6 782.7M579.8 789.2L577.6 790M579.8 796.6L577.6 797.4M579.8 803.9L577.6 804.8M579.8 811.2L577.6 812.2M587.1 664.8L585.2 663.3M587.1 672.1L585.2 670.6M587.1 679.4L585.2 678M587.1 686.8L585.2 685.3M587.1 694.1L585.2 692.7M587.1 701.5L585.2 700M587.1 708.8L585.2 707.4M587.1 716.2L585.2 714.7M587.1 723.5L585.2 722.1M587.1 730.9L585.2 729.4M587.1 738.2L585.2 736.7M587.1 745.5L585.2 744.1M587.1 752.9L585.2 751.4M587.1 759.7L585.2 761.2M587.1 767.1L585.2 768.5M587.1 774.4L585.2 775.9M587.1 781.8L585.2 783.2M587.1 789.1L585.2 790.6M587.1 796.5L585.2 797.9M587.1 803.8L585.2 805.3M587.1 811.1L585.2 812.6M594.3 664.9L593 662.7M594.3 672.2L593 670M594.3 679.6L593 677.3M594.3 686.9L593 684.7M594.3 694.3L593 692M594.3 701.6L593 699.4M594.3 709L593 706.7M594.3 716.3L593 714.1M594.3 723.6L593 721.4M594.3 731L593 728.8M594.3 738.3L593 736.1M594.3 745.7L593 743.5M594.2 752.9L593.5 751.6M594.2 759.9L593.8 760.5M594.3 767L593.2 768.9M594.3 774.3L593 776.5M594.3 781.6L593 783.9M594.3 789L593 791.2M594.3 796.3L593 798.6M594.3 803.7L593 805.9M594.3 811L593 813.2M601.6 665.1L600.9 661.8M601.6 672.4L600.9 669.1M601.6 679.7L600.9 676.5M601.6 687.1L600.9 683.8M601.6 694.4L600.9 691.2M601.6 701.8L600.9 698.5M601.6 709.1L600.9 705.9M601.6 716.5L600.9 713.2M601.6 723.8L600.9 720.5M601.6 731.2L600.9 727.9M601.6 738.5L600.9 735.2M601.6 745.8L600.9 742.6M601.5 752.9L601.2 751.2M601.5 759.8L601.3 760.7M601.6 766.9L601 769.5M601.6 774.1L600.9 777.4M601.6 781.5L600.9 784.7M601.6 788.8L600.9 792.1M601.6 796.2L600.9 799.4M601.6 803.5L600.9 806.8M601.6 810.8L600.9 814.1M608.9 665.2L608.8 660.4M608.9 672.6L608.8 667.7M608.9 679.9L608.8 675.1M608.9 687.2L608.8 682.4M608.9 694.6L608.8 689.8M608.9 701.9L608.8 697.1M608.9 709.3L608.8 704.5M608.9 716.6L608.8 711.8M608.9 724L608.8 719.1M608.9 731.3L608.8 726.5M608.9 738.7L608.8 733.8M608.9 746L608.8 741.2M608.8 753L608.8 750.8M608.8 759.8L608.8 760.9M608.9 766.7L608.8 770.4M608.9 774L608.8 778.8M608.9 781.3L608.8 786.1M608.9 788.7L608.8 793.5M608.9 796L608.8 800.8M608.9 803.3L608.8 808.2M608.9 810.7L608.8 815.5M616.2 665.2L616.3 660.4M616.2 672.6L616.3 667.7M616.2 679.9L616.3 675.1M616.2 687.2L616.3 682.4M616.2 694.6L616.3 689.8M616.2 701.9L616.3 697.1M616.2 709.3L616.3 704.5M616.2 716.6L616.3 711.8M616.2 724L616.3 719.1M616.2 731.3L616.3 726.5M616.2 738.7L616.3 733.8M616.2 746L616.3 741.2M616.2 753L616.2 750.8M616.2 759.8L616.2 760.9M616.2 766.7L616.3 770.4M616.2 774L616.3 778.8M616.2 781.3L616.3 786.1M616.2 788.7L616.3 793.5M616.2 796L616.3 800.8M616.2 803.3L616.3 808.2M616.2 810.7L616.3 815.5M623.5 665.1L624.1 661.8M623.5 672.4L624.1 669.1M623.5 679.7L624.1 676.5M623.5 687.1L624.1 683.8M623.5 694.4L624.1 691.2M623.5 701.8L624.1 698.5M623.5 709.1L624.1 705.9M623.5 716.5L624.1 713.2M623.5 723.8L624.1 720.5M623.5 731.2L624.1 727.9M623.5 738.5L624.1 735.2M623.5 745.8L624.1 742.6M623.5 752.9L623.8 751.2M623.5 759.8L623.7 760.7M623.5 766.9L624 769.5M623.5 774.1L624.1 777.4M623.5 781.5L624.1 784.7M623.5 788.8L624.1 792.1M623.5 796.2L624.1 799.4M623.5 803.5L624.1 806.8M623.5 810.8L624.1 814.1M630.7 664.9L632 662.7M630.7 672.2L632 670M630.7 679.6L632 677.3M630.7 686.9L632 684.7M630.7 694.3L632 692M630.7 701.6L632 699.4M630.7 709L632 706.7M630.7 716.3L632 714.1M630.7 723.6L632 721.4M630.7 731L632 728.8M630.7 738.3L632 736.1M630.7 745.7L632 743.5M630.8 752.9L631.5 751.6M630.9 759.9L631.2 760.5M630.7 767L631.8 768.9M630.7 774.3L632 776.5M630.7 781.6L632 783.9M630.7 789L632 791.2M630.7 796.3L632 798.6M630.7 803.7L632 805.9M630.7 811L632 813.2M638 664.8L639.8 663.3M638 672.1L639.8 670.6M638 679.4L639.8 678M638 686.8L639.8 685.3M638 694.1L639.8 692.7M638 701.5L639.8 700M638 708.8L639.8 707.4M638 716.2L639.8 714.7M638 723.5L639.8 722.1M638 730.9L639.8 729.4M638 738.2L639.8 736.7M638 745.5L639.8 744.1M638 752.9L639.8 751.4M638 759.7L639.8 761.2M638 767.1L639.8 768.5M638 774.4L639.8 775.9M638 781.8L639.8 783.2M638 789.1L639.8 790.6M638 796.5L639.8 797.9M638 803.8L639.8 805.3M638 811.1L639.8 812.6M645.3 664.7L647.4 663.7M645.3 672L647.4 671.1M645.3 679.4L647.4 678.4M645.3 686.7L647.4 685.8M645.3 694L647.4 693.1M645.3 701.4L647.4 700.4M645.3 708.7L647.4 707.8M645.3 716.1L647.4 715.2M645.3 723.4L647.4 722.6M645.3 730.7L647.4 729.9M645.3 738.1L647.4 737.3M645.3 745.4L647.4 744.6M645.3 752.8L647.4 752M645.3 759.8L647.4 760.6M645.3 767.2L647.4 768M645.3 774.5L647.4 775.3M645.3 781.9L647.4 782.7M645.3 789.2L647.4 790M645.3 796.6L647.4 797.4M645.3 803.9L647.4 804.8M645.3 811.2L647.4 812.2M652.6 664.7L654.8 663.7M652.6 672L654.8 671.1M652.6 679.4L654.8 678.4M652.6 686.7L654.8 685.8M652.6 694L654.8 693.1M652.6 701.4L654.8 700.4M652.6 708.7L654.8 707.8M652.6 716.1L654.8 715.2M652.6 723.4L654.8 722.7M652.6 730.7L654.9 730.3M652.6 738L654.9 737.7M652.6 745.4L654.9 745M652.6 752.7L654.9 752.3M652.6 759.9L654.9 760.3M652.6 767.3L654.9 767.6M652.6 774.6L654.9 775M652.6 782L654.9 782.3M652.6 789.3L654.9 789.7M652.6 796.6L654.8 797.4M652.6 803.9L654.8 804.8M652.6 811.2L654.8 812.2M660 664.7L662.1 663.7M660 672L662.1 671.1M660 679.4L662.1 678.4M660 686.7L662.1 685.8M660 694L662.1 693.1M660 701.4L662.1 700.4M660 708.7L662.1 707.8M660 716.1L662.1 715.2M660 723.4L662.2 722.7M660 730.6L662.3 730.5M660 738L662.3 737.8M660 745.3L662.3 745.2M660 752.7L662.3 752.5M660 760L662.3 760.1M660 767.3L662.3 767.4M660 774.7L662.3 774.8M660 782L662.3 782.1M660 789.3L662.2 789.7M660 796.6L662.2 797.4M660 803.9L662.1 804.8M660 811.2L662.1 812.2M667.4 664.7L669.5 663.7M667.4 672L669.5 671.1M667.4 679.4L669.5 678.4M667.4 686.7L669.5 685.8M667.4 694L669.5 693.1M667.4 701.4L669.5 700.4M667.4 708.7L669.5 707.8M667.3 716.1L669.5 715.2M667.3 723.4L669.6 722.7M667.3 730.6L669.6 730.5M667.3 738L669.6 737.9M667.3 745.3L669.6 745.3M667.3 752.6L669.6 752.6M667.3 760L669.6 760M667.3 767.3L669.6 767.4M667.3 774.7L669.6 774.7M667.3 782L669.6 782.1M667.3 789.3L669.6 789.7M667.3 796.6L669.5 797.4M667.4 803.9L669.5 804.8M667.4 811.2L669.5 812.2M674.7 664.7L676.8 663.7M674.7 672L676.8 671.1M674.7 679.4L676.8 678.4M674.7 686.7L676.8 685.8M674.7 694L676.8 693.1M674.7 701.4L676.8 700.4M674.7 708.7L676.8 707.8M674.7 716.1L676.9 715.2M674.7 723.4L676.9 722.7M674.7 730.6L677 730.5M674.7 738L677 737.9M674.7 745.3L677 745.3M674.7 752.6L677 752.6M674.7 760L677 760M674.7 767.3L677 767.3M674.7 774.7L677 774.7M674.7 782L677 782M674.7 789.3L677 789.7M674.7 796.6L676.9 797.4M674.7 803.9L676.8 804.8M674.7 811.2L676.8 812.2M682.1 664.7L684.2 663.7M682.1 672L684.2 671.1M682.1 679.4L684.2 678.4M682.1 686.7L684.2 685.8M682.1 694L684.2 693.1M682.1 701.4L684.2 700.4M682.1 708.7L684.2 707.8M682.1 716.1L684.2 715.2M682.1 723.4L684.3 722.7M682 730.6L684.4 730.5M682 738L684.4 737.9M682 745.3L684.4 745.3M682 752.6L684.4 752.6M682 760L684.4 760M682 767.3L684.4 767.3M682 774.7L684.4 774.7M682 782L684.4 782M682 789.3L684.3 789.7M682.1 796.6L684.2 797.4M682.1 803.9L684.2 804.8M682.1 811.2L684.2 812.2M689.4 664.7L691.6 663.7M689.4 672L691.6 671.1M689.4 679.4L691.6 678.4M689.4 686.7L691.6 685.8M689.4 694L691.6 693.1M689.4 701.4L691.6 700.4M689.4 708.7L691.6 707.8M689.4 716.1L691.6 715.2M689.4 723.4L691.6 722.7M689.4 730.6L691.7 730.5M689.4 738L691.7 737.9M689.4 745.3L691.7 745.3M689.4 752.6L691.7 752.6M689.4 760L691.7 760M689.4 767.3L691.7 767.3M689.4 774.7L691.7 774.7M689.4 782L691.7 782M689.4 789.3L691.7 789.7M689.4 796.6L691.6 797.4M689.4 803.9L691.6 804.8M689.4 811.2L691.6 812.2" stroke="#111" stroke-width="0.78" fill="none"/>
<path d="M539.3 663L541.1 663.2L540.6 664.3zM539.3 670.4L541.1 670.5L540.6 671.6zM539.3 677.7L541.1 677.9L540.6 679zM539.3 685.1L541.1 685.2L540.6 686.3zM539.3 692.4L541.1 692.5L540.6 693.7zM539.3 699.8L541.1 699.9L540.6 701zM539.3 707.1L541.1 707.3L540.6 708.4zM539.3 714.6L541 714.6L540.6 715.8zM539.1 722.2L540.9 722.1L540.6 723.3zM539 730.4L540.7 729.9L540.6 731.1zM539 737.9L540.7 737.3L540.7 738.6zM539 745.3L540.7 744.7L540.7 745.9zM539 752.6L540.7 752L540.7 753.2zM539 760L540.7 759.4L540.7 760.6zM539 767.3L540.7 766.7L540.7 767.9zM539 774.7L540.7 774.1L540.7 775.3zM539 782L540.7 781.4L540.7 782.6zM539.1 790.1L540.6 789.1L540.8 790.3zM539.2 797.9L540.6 796.8L541 797.9zM539.3 805.5L540.6 804.2L541.1 805.4zM539.3 812.8L540.6 811.6L541.1 812.7zM546.7 663L548.5 663.2L548 664.3zM546.7 670.4L548.5 670.5L548 671.6zM546.7 677.7L548.5 677.9L548 679zM546.7 685.1L548.5 685.2L548 686.3zM546.7 692.4L548.5 692.5L548 693.7zM546.7 699.8L548.4 699.9L548 701zM546.7 707.1L548.4 707.3L548 708.4zM546.6 714.6L548.4 714.6L548 715.8zM546.5 722.2L548.3 722.1L547.9 723.3zM546.4 730.4L548.1 729.9L548 731.1zM546.4 737.9L548 737.3L548 738.5zM546.4 745.3L548 744.7L548 745.9zM546.4 752.6L548 752L548 753.2zM546.4 760L548 759.4L548 760.6zM546.4 767.3L548 766.7L548 767.9zM546.4 774.7L548 774.1L548 775.3zM546.4 782L548 781.4L548 782.6zM546.4 790.1L548 789.1L548.2 790.3zM546.6 797.9L547.9 796.8L548.4 797.9zM546.6 805.5L548 804.2L548.4 805.4zM546.7 812.8L548 811.6L548.4 812.7zM554 663L555.8 663.2L555.3 664.3zM554 670.4L555.8 670.5L555.3 671.6zM554 677.7L555.8 677.9L555.3 679zM554 685.1L555.8 685.2L555.3 686.3zM554 692.4L555.8 692.5L555.3 693.7zM554 699.8L555.8 699.9L555.3 701zM554 707.1L555.8 707.3L555.3 708.4zM554 714.6L555.8 714.6L555.3 715.8zM553.9 722.2L555.6 722.1L555.3 723.3zM553.7 730.4L555.4 729.9L555.4 731.1zM553.7 737.9L555.4 737.3L555.4 738.5zM553.7 745.2L555.4 744.7L555.4 745.9zM553.7 752.6L555.4 752L555.4 753.2zM553.7 760L555.4 759.4L555.4 760.6zM553.7 767.4L555.4 766.8L555.4 768zM553.7 774.7L555.4 774.1L555.4 775.3zM553.7 782.1L555.4 781.4L555.4 782.7zM553.8 790.1L555.3 789.1L555.6 790.3zM553.9 797.9L555.3 796.8L555.7 797.9zM554 805.5L555.3 804.2L555.8 805.4zM554 812.8L555.3 811.6L555.8 812.7zM561.4 663L563.2 663.2L562.7 664.3zM561.4 670.4L563.2 670.5L562.7 671.6zM561.4 677.7L563.2 677.9L562.7 679zM561.4 685.1L563.2 685.2L562.7 686.3zM561.4 692.4L563.2 692.5L562.7 693.7zM561.4 699.8L563.2 699.9L562.7 701zM561.4 707.1L563.2 707.3L562.7 708.4zM561.3 714.6L563.1 714.6L562.7 715.8zM561.2 722.2L563 722.1L562.7 723.3zM561.1 730.4L562.8 729.9L562.7 731.1zM561.1 737.8L562.8 737.2L562.7 738.4zM561.1 745.1L562.8 744.6L562.7 745.8zM561.1 752.4L562.8 751.9L562.7 753.1zM561.1 760.2L562.7 759.5L562.8 760.7zM561.1 767.5L562.7 766.8L562.8 768zM561.1 774.9L562.7 774.2L562.8 775.4zM561.1 782.2L562.7 781.5L562.8 782.7zM561.1 790.1L562.7 789.1L562.9 790.3zM561.3 797.9L562.7 796.8L563.1 797.9zM561.4 805.5L562.7 804.2L563.1 805.4zM561.4 812.8L562.7 811.6L563.2 812.7zM568.8 663L570.5 663.2L570 664.3zM568.8 670.4L570.5 670.5L570 671.6zM568.8 677.7L570.5 677.9L570 679zM568.8 685.1L570.5 685.2L570 686.3zM568.7 692.4L570.5 692.5L570 693.7zM568.7 699.8L570.5 699.9L570 701zM568.7 707.1L570.5 707.3L570 708.4zM568.7 714.6L570.5 714.6L570 715.8zM568.6 722.2L570.4 722.1L570 723.3zM568.5 730.1L570.2 729.7L570 730.9zM568.5 737.4L570.2 737.1L570 738.3zM568.5 744.7L570.2 744.4L570 745.6zM568.5 752.1L570.2 751.7L570 752.9zM568.5 760.5L570 759.7L570.2 760.9zM568.5 767.9L570 767L570.2 768.2zM568.5 775.2L570 774.4L570.2 775.6zM568.5 782.6L570 781.7L570.2 782.9zM568.5 790.1L570 789.1L570.3 790.3zM568.7 797.9L570 796.8L570.4 797.9zM568.7 805.5L570 804.2L570.5 805.4zM568.7 812.8L570 811.6L570.5 812.7zM576.1 663L577.9 663.2L577.4 664.3zM576.1 670.4L577.9 670.5L577.4 671.6zM576.1 677.7L577.9 677.9L577.4 679zM576.1 685.1L577.9 685.2L577.4 686.3zM576.1 692.4L577.9 692.5L577.4 693.7zM576.1 699.8L577.9 699.9L577.4 701zM576.1 707.1L577.9 707.3L577.4 708.4zM576.1 714.6L577.8 714.6L577.4 715.8zM576 722L577.8 722L577.4 723.2zM576 729.4L577.8 729.4L577.4 730.5zM576 736.7L577.8 736.7L577.4 737.9zM576 744L577.8 744.1L577.4 745.2zM576 751.4L577.8 751.4L577.4 752.5zM576 761.2L577.4 760.1L577.8 761.2zM576 768.6L577.4 767.4L577.8 768.6zM576 775.9L577.4 774.8L577.8 775.9zM576 783.3L577.4 782.1L577.8 783.3zM576 790.6L577.4 789.5L577.8 790.6zM576 798L577.4 796.8L577.8 797.9zM576.1 805.5L577.4 804.2L577.9 805.4zM576.1 812.8L577.4 811.6L577.9 812.7zM583.9 662.2L585.6 662.8L584.8 663.8zM583.9 669.6L585.6 670.2L584.8 671.1zM583.9 676.9L585.6 677.5L584.8 678.5zM583.9 684.3L585.6 684.8L584.8 685.8zM583.9 691.6L585.6 692.2L584.8 693.2zM583.9 699L585.6 699.5L584.8 700.5zM583.9 706.3L585.6 706.9L584.8 707.8zM583.9 713.7L585.6 714.2L584.8 715.2zM583.9 721L585.6 721.6L584.8 722.5zM583.9 728.3L585.6 728.9L584.8 729.9zM583.9 735.7L585.6 736.3L584.8 737.2zM583.9 743L585.6 743.6L584.8 744.6zM583.9 750.4L585.6 751L584.8 751.9zM583.9 762.2L584.8 760.7L585.6 761.7zM583.9 769.6L584.8 768.1L585.6 769zM583.9 776.9L584.8 775.4L585.6 776.4zM583.9 784.3L584.8 782.7L585.6 783.7zM583.9 791.6L584.8 790.1L585.6 791.1zM583.9 799L584.8 797.4L585.6 798.4zM583.9 806.3L584.8 804.8L585.6 805.7zM583.9 813.7L584.8 812.1L585.6 813.1zM592.1 661L593.6 662.3L592.5 663zM592.1 668.4L593.6 669.7L592.5 670.3zM592.1 675.7L593.6 677L592.5 677.7zM592.1 683.1L593.6 684.4L592.5 685zM592.1 690.4L593.6 691.7L592.5 692.4zM592.1 697.8L593.6 699L592.5 699.7zM592.1 705.1L593.6 706.4L592.5 707.1zM592.1 712.5L593.6 713.7L592.5 714.4zM592.1 719.8L593.6 721.1L592.5 721.8zM592.1 727.2L593.6 728.4L592.5 729.1zM592.1 734.5L593.6 735.8L592.5 736.4zM592.1 741.8L593.6 743.1L592.5 743.8zM593 750.7L593.8 751.4L593.2 751.8zM593.6 760.9L593.7 760.4L594 760.6zM592.4 770.2L592.7 768.6L593.7 769.1zM592.1 778.1L592.5 776.2L593.6 776.9zM592.1 785.5L592.5 783.5L593.6 784.2zM592.1 792.8L592.5 790.9L593.6 791.5zM592.1 800.2L592.5 798.2L593.6 798.9zM592.1 807.5L592.5 805.6L593.6 806.2zM592.1 814.9L592.5 812.9L593.6 813.6zM600.5 659.5L601.8 661.6L600.1 661.9zM600.5 666.9L601.8 669L600.1 669.3zM600.5 674.2L601.8 676.3L600.1 676.6zM600.5 681.6L601.8 683.7L600.1 684zM600.5 688.9L601.8 691L600.1 691.3zM600.5 696.3L601.8 698.3L600.1 698.7zM600.5 703.6L601.8 705.7L600.1 706zM600.5 710.9L601.8 713L600.1 713.4zM600.5 718.3L601.8 720.4L600.1 720.7zM600.5 725.6L601.8 727.7L600.1 728.1zM600.5 733L601.8 735.1L600.1 735.4zM600.5 740.3L601.8 742.4L600.1 742.7zM600.9 749.9L601.6 751.1L600.7 751.3zM601.2 761.3L601.1 760.6L601.6 760.7zM600.7 771.5L600.3 769.4L601.7 769.7zM600.5 779.6L600.1 777.2L601.8 777.6zM600.5 787L600.1 784.6L601.8 784.9zM600.5 794.3L600.1 791.9L601.8 792.2zM600.5 801.7L600.1 799.3L601.8 799.6zM600.5 809L600.1 806.6L601.8 806.9zM600.5 816.4L600.1 814L601.8 814.3zM608.7 658.1L609.6 660.4L607.9 660.4zM608.7 665.4L609.6 667.7L607.9 667.7zM608.7 672.8L609.6 675.1L607.9 675.1zM608.7 680.1L609.6 682.4L607.9 682.4zM608.7 687.5L609.6 689.7L607.9 689.8zM608.7 694.8L609.6 697.1L607.9 697.1zM608.7 702.2L609.6 704.4L607.9 704.5zM608.7 709.5L609.6 711.8L607.9 711.8zM608.7 716.8L609.6 719.1L607.9 719.2zM608.7 724.2L609.6 726.5L607.9 726.5zM608.7 731.5L609.6 733.8L607.9 733.8zM608.7 738.9L609.6 741.2L607.9 741.2zM608.8 749.1L609.4 750.8L608.2 750.8zM608.8 761.7L608.5 760.9L609.1 760.9zM608.7 772.7L608 770.4L609.6 770.4zM608.7 781.1L607.9 778.8L609.6 778.8zM608.7 788.4L607.9 786.1L609.6 786.2zM608.7 795.8L607.9 793.5L609.6 793.5zM608.7 803.1L607.9 800.8L609.6 800.8zM608.7 810.5L607.9 808.2L609.6 808.2zM608.7 817.8L607.9 815.5L609.6 815.5zM616.3 658.1L617.1 660.4L615.4 660.4zM616.3 665.4L617.1 667.7L615.4 667.7zM616.3 672.8L617.1 675.1L615.4 675.1zM616.3 680.1L617.1 682.4L615.4 682.4zM616.3 687.5L617.1 689.8L615.4 689.7zM616.3 694.8L617.1 697.1L615.4 697.1zM616.3 702.2L617.1 704.5L615.4 704.4zM616.3 709.5L617.1 711.8L615.4 711.8zM616.3 716.8L617.1 719.2L615.4 719.1zM616.3 724.2L617.1 726.5L615.4 726.5zM616.3 731.5L617.1 733.8L615.4 733.8zM616.3 738.9L617.1 741.2L615.4 741.2zM616.3 749.1L616.8 750.8L615.6 750.8zM616.2 761.7L615.9 760.9L616.5 760.9zM616.3 772.7L615.4 770.4L617.1 770.4zM616.3 781.1L615.4 778.8L617.1 778.8zM616.3 788.4L615.4 786.2L617.1 786.1zM616.3 795.8L615.4 793.5L617.1 793.5zM616.3 803.1L615.4 800.8L617.1 800.8zM616.3 810.5L615.4 808.2L617.1 808.2zM616.3 817.8L615.4 815.5L617.1 815.5zM624.5 659.5L624.9 661.9L623.3 661.6zM624.5 666.9L624.9 669.3L623.3 669zM624.5 674.2L624.9 676.6L623.3 676.3zM624.5 681.6L624.9 684L623.3 683.7zM624.5 688.9L624.9 691.3L623.3 691zM624.5 696.3L624.9 698.7L623.3 698.3zM624.5 703.6L624.9 706L623.3 705.7zM624.5 710.9L624.9 713.4L623.3 713zM624.5 718.3L624.9 720.7L623.3 720.4zM624.5 725.6L624.9 728.1L623.3 727.7zM624.5 733L624.9 735.4L623.3 735.1zM624.5 740.3L624.9 742.7L623.3 742.4zM624.1 749.9L624.3 751.3L623.4 751.1zM623.8 761.3L623.5 760.7L623.9 760.6zM624.4 771.5L623.3 769.7L624.7 769.4zM624.5 779.6L623.3 777.6L624.9 777.2zM624.5 787L623.3 784.9L624.9 784.6zM624.5 794.3L623.3 792.2L624.9 791.9zM624.5 801.7L623.3 799.6L624.9 799.3zM624.5 809L623.3 806.9L624.9 806.6zM624.5 816.4L623.3 814.3L624.9 814zM632.9 661L632.6 663L631.4 662.3zM632.9 668.4L632.6 670.3L631.4 669.7zM632.9 675.7L632.6 677.7L631.4 677zM632.9 683.1L632.6 685L631.4 684.4zM632.9 690.4L632.6 692.4L631.4 691.7zM632.9 697.8L632.6 699.7L631.4 699zM632.9 705.1L632.6 707.1L631.4 706.4zM632.9 712.5L632.6 714.4L631.4 713.7zM632.9 719.8L632.6 721.8L631.4 721.1zM632.9 727.2L632.6 729.1L631.4 728.4zM632.9 734.5L632.6 736.4L631.4 735.8zM632.9 741.8L632.6 743.8L631.4 743.1zM632 750.7L631.8 751.8L631.2 751.4zM631.4 760.9L631 760.6L631.4 760.4zM632.6 770.2L631.3 769.1L632.3 768.6zM632.9 778.1L631.4 776.9L632.6 776.2zM632.9 785.5L631.4 784.2L632.6 783.5zM632.9 792.8L631.4 791.5L632.6 790.9zM632.9 800.2L631.4 798.9L632.6 798.2zM632.9 807.5L631.4 806.2L632.6 805.6zM632.9 814.9L631.4 813.6L632.6 812.9zM641.2 662.2L640.2 663.8L639.4 662.8zM641.2 669.6L640.2 671.1L639.4 670.2zM641.2 676.9L640.2 678.5L639.4 677.5zM641.2 684.3L640.2 685.8L639.4 684.8zM641.2 691.6L640.2 693.2L639.4 692.2zM641.2 699L640.2 700.5L639.4 699.5zM641.2 706.3L640.2 707.8L639.4 706.9zM641.2 713.7L640.2 715.2L639.4 714.2zM641.2 721L640.2 722.5L639.4 721.6zM641.2 728.3L640.2 729.9L639.4 728.9zM641.2 735.7L640.2 737.2L639.4 736.3zM641.2 743L640.2 744.6L639.4 743.6zM641.2 750.4L640.2 751.9L639.4 751zM641.2 762.2L639.4 761.7L640.2 760.7zM641.2 769.6L639.4 769L640.2 768.1zM641.2 776.9L639.4 776.4L640.2 775.4zM641.2 784.3L639.4 783.7L640.2 782.7zM641.2 791.6L639.4 791.1L640.2 790.1zM641.2 799L639.4 798.4L640.2 797.4zM641.2 806.3L639.4 805.7L640.2 804.8zM641.2 813.7L639.4 813.1L640.2 812.1zM648.9 663L647.6 664.3L647.1 663.2zM648.9 670.4L647.6 671.6L647.1 670.5zM648.9 677.7L647.6 679L647.1 677.9zM648.9 685.1L647.6 686.3L647.2 685.2zM648.9 692.4L647.6 693.7L647.2 692.5zM648.9 699.8L647.6 701L647.2 699.9zM648.9 707.1L647.6 708.4L647.2 707.3zM649 714.6L647.6 715.8L647.2 714.6zM649 722L647.7 723.2L647.2 722zM649 729.4L647.7 730.5L647.2 729.4zM649 736.7L647.7 737.9L647.2 736.7zM649 744L647.7 745.2L647.2 744.1zM649 751.4L647.7 752.5L647.2 751.4zM649 761.2L647.2 761.2L647.7 760.1zM649 768.6L647.2 768.6L647.7 767.4zM649 775.9L647.2 775.9L647.7 774.8zM649 783.3L647.2 783.3L647.7 782.1zM649 790.6L647.2 790.6L647.7 789.5zM649 798L647.2 797.9L647.7 796.8zM649 805.5L647.2 805.4L647.6 804.2zM648.9 812.8L647.2 812.7L647.6 811.6zM656.3 663L655 664.3L654.5 663.2zM656.3 670.4L655 671.6L654.5 670.5zM656.3 677.7L655 679L654.5 677.9zM656.3 685.1L655 686.3L654.5 685.2zM656.3 692.4L655 693.7L654.5 692.5zM656.3 699.8L655 701L654.5 699.9zM656.3 707.1L655 708.4L654.5 707.3zM656.3 714.6L655 715.8L654.6 714.6zM656.5 722.2L655 723.3L654.7 722.1zM656.6 730.1L655 730.9L654.8 729.7zM656.6 737.4L655 738.3L654.8 737.1zM656.6 744.7L655 745.6L654.8 744.4zM656.6 752.1L655 752.9L654.8 751.7zM656.6 760.5L654.8 760.9L655 759.7zM656.6 767.9L654.8 768.2L655 767zM656.6 775.2L654.8 775.6L655 774.4zM656.6 782.6L654.8 782.9L655 781.7zM656.5 790.1L654.8 790.3L655 789.1zM656.4 797.9L654.6 797.9L655 796.8zM656.3 805.5L654.5 805.4L655 804.2zM656.3 812.8L654.5 812.7L655 811.6zM663.6 663L662.4 664.3L661.9 663.2zM663.6 670.4L662.4 671.6L661.9 670.5zM663.6 677.7L662.4 679L661.9 677.9zM663.6 685.1L662.4 686.3L661.9 685.2zM663.6 692.4L662.4 693.7L661.9 692.5zM663.7 699.8L662.4 701L661.9 699.9zM663.7 707.1L662.4 708.4L661.9 707.3zM663.7 714.6L662.4 715.8L661.9 714.6zM663.8 722.2L662.4 723.3L662 722.1zM664 730.4L662.3 731.1L662.2 729.9zM664 737.8L662.3 738.4L662.2 737.2zM664 745.1L662.3 745.8L662.2 744.6zM664 752.4L662.3 753.1L662.2 751.9zM664 760.2L662.2 760.7L662.3 759.5zM664 767.5L662.2 768L662.3 766.8zM664 774.9L662.2 775.4L662.3 774.2zM664 782.2L662.2 782.7L662.3 781.5zM663.9 790.1L662.1 790.3L662.4 789.1zM663.7 797.9L662 797.9L662.4 796.8zM663.7 805.5L661.9 805.4L662.4 804.2zM663.7 812.8L661.9 812.7L662.4 811.6zM671 663L669.7 664.3L669.2 663.2zM671 670.4L669.7 671.6L669.2 670.5zM671 677.7L669.7 679L669.2 677.9zM671 685.1L669.7 686.3L669.2 685.2zM671 692.4L669.7 693.7L669.2 692.5zM671 699.8L669.7 701L669.2 699.9zM671 707.1L669.7 708.4L669.2 707.3zM671.1 714.6L669.7 715.8L669.3 714.6zM671.2 722.2L669.7 723.3L669.4 722.1zM671.3 730.4L669.7 731.1L669.6 729.9zM671.3 737.9L669.6 738.5L669.6 737.3zM671.3 745.2L669.6 745.9L669.6 744.7zM671.3 752.6L669.6 753.2L669.6 752zM671.3 760L669.6 760.6L669.6 759.4zM671.3 767.4L669.6 768L669.6 766.8zM671.3 774.7L669.6 775.3L669.6 774.1zM671.3 782.1L669.6 782.7L669.6 781.4zM671.3 790.1L669.5 790.3L669.7 789.1zM671.1 797.9L669.3 797.9L669.7 796.8zM671 805.5L669.3 805.4L669.7 804.2zM671 812.8L669.2 812.7L669.7 811.6zM678.4 663L677.1 664.3L676.6 663.2zM678.4 670.4L677.1 671.6L676.6 670.5zM678.4 677.7L677.1 679L676.6 677.9zM678.4 685.1L677.1 686.3L676.6 685.2zM678.4 692.4L677.1 693.7L676.6 692.5zM678.4 699.8L677.1 701L676.6 699.9zM678.4 707.1L677.1 708.4L676.6 707.3zM678.4 714.6L677.1 715.8L676.6 714.6zM678.5 722.2L677.1 723.3L676.8 722.1zM678.7 730.4L677 731.1L677 729.9zM678.7 737.9L677 738.5L677 737.3zM678.7 745.3L677 745.9L677 744.7zM678.7 752.6L677 753.2L677 752zM678.7 760L677 760.6L677 759.4zM678.7 767.3L677 767.9L677 766.7zM678.7 774.7L677 775.3L677 774.1zM678.7 782L677 782.6L677 781.4zM678.6 790.1L676.8 790.3L677.1 789.1zM678.5 797.9L676.7 797.9L677.1 796.8zM678.4 805.5L676.6 805.4L677.1 804.2zM678.4 812.8L676.6 812.7L677.1 811.6zM685.7 663L684.4 664.3L683.9 663.2zM685.7 670.4L684.4 671.6L683.9 670.5zM685.7 677.7L684.4 679L683.9 677.9zM685.7 685.1L684.4 686.3L683.9 685.2zM685.7 692.4L684.4 693.7L683.9 692.5zM685.7 699.8L684.4 701L684 699.9zM685.7 707.1L684.4 708.4L684 707.3zM685.8 714.6L684.4 715.8L684 714.6zM685.9 722.2L684.5 723.3L684.1 722.1zM686 730.4L684.4 731.1L684.3 729.9zM686 737.9L684.4 738.6L684.4 737.3zM686 745.3L684.4 745.9L684.4 744.7zM686 752.6L684.4 753.2L684.4 752zM686 760L684.4 760.6L684.4 759.4zM686 767.3L684.4 767.9L684.4 766.7zM686 774.7L684.4 775.3L684.4 774.1zM686 782L684.4 782.6L684.4 781.4zM686 790.1L684.2 790.3L684.4 789.1zM685.8 797.9L684 797.9L684.5 796.8zM685.8 805.5L684 805.4L684.4 804.2zM685.7 812.8L684 812.7L684.4 811.6zM693.1 663L691.8 664.3L691.3 663.2zM693.1 670.4L691.8 671.6L691.3 670.5zM693.1 677.7L691.8 679L691.3 677.9zM693.1 685.1L691.8 686.3L691.3 685.2zM693.1 692.4L691.8 693.7L691.3 692.5zM693.1 699.8L691.8 701L691.3 699.9zM693.1 707.1L691.8 708.4L691.3 707.3zM693.1 714.6L691.8 715.8L691.4 714.6zM693.3 722.2L691.8 723.3L691.5 722.1zM693.4 730.4L691.8 731.1L691.7 729.9zM693.4 737.9L691.7 738.6L691.7 737.3zM693.4 745.3L691.7 745.9L691.7 744.7zM693.4 752.6L691.7 753.2L691.7 752zM693.4 760L691.7 760.6L691.7 759.4zM693.4 767.3L691.7 767.9L691.7 766.7zM693.4 774.7L691.7 775.3L691.7 774.1zM693.4 782L691.7 782.6L691.7 781.4zM693.3 790.1L691.6 790.3L691.8 789.1zM693.2 797.9L691.4 797.9L691.8 796.8zM693.1 805.5L691.3 805.4L691.8 804.2zM693.1 812.8L691.3 812.7L691.8 811.6z" stroke="#111" stroke-width="0.3" fill="#111" stroke-linejoin="round"/>
</g>
<text x="537.1" y="670.5" text-anchor="end" class="ab">0.2</text>
<text x="537.1" y="707.2" text-anchor="end" class="ab">0.1</text>
<text x="537.1" y="744" text-anchor="end" class="ab">0</text>
<text x="537.1" y="780.7" text-anchor="end" class="ab">-0.1</text>
<text x="537.1" y="817.4" text-anchor="end" class="ab">-0.2</text>
<text x="542.6" y="832.1" text-anchor="middle" class="ab">-0.2</text>
<text x="616.2" y="832.1" text-anchor="middle" class="ab">0</text>
<text x="689.8" y="832.1" text-anchor="middle" class="ab">0.2</text>
<text x="616.2" y="854.1" text-anchor="middle" class="al">Kx</text>
<text transform="translate(504.4 737.6) rotate(-90)" text-anchor="middle" class="al">Ky</text>
<rect x="706" y="664.5" width="10.4" height="146.9" fill="url(#cbg)" stroke="#6a5a5a" stroke-opacity="0.45" stroke-width="0.6"/>
<path d="M706 664.7h10.4M706 811.2h10.4" stroke="#2a1a1a" stroke-opacity="0.6" stroke-width="0.8"/>
<text x="721.2" y="670.2" class="cb">0.5</text>
<path d="M716.4 738h-1.5" stroke="#333" stroke-width="0.6"/>
<text x="721.2" y="743.7" class="cb">0</text>
<text x="721.2" y="817.1" class="cb">-0.5</text>
</g>
<text x="10.8" y="23.1" class="sb" font-size="24">a</text>
<text x="229" y="22.4" class="sb" font-size="22.8">b</text>
<text x="10.8" y="469.2" class="sb" font-size="24">c</text>
<text x="228.6" y="469.4" class="sb" font-size="22.8">d</text>
<text x="356" y="8.6" text-anchor="middle" class="sb" font-size="22.6">Lower</text>
<text x="356" y="455.4" text-anchor="middle" class="sb" font-size="22.6">Lower</text>
<text x="618.6" y="8.6" text-anchor="middle" class="sb" font-size="22.6">Upper</text>
<text x="618.6" y="455.4" text-anchor="middle" class="sb" font-size="22.6">Upper</text>
<text transform="translate(758.9 90.8) rotate(90)" text-anchor="middle" class="sb" font-size="22">Conduction band</text>
<text transform="translate(758.9 286.4) rotate(90)" text-anchor="middle" class="sb" font-size="22">Valence band</text>
<text transform="translate(758.9 537.4) rotate(90)" text-anchor="middle" class="sb" font-size="22">Conduction band</text>
<text transform="translate(758.9 735.1) rotate(90)" text-anchor="middle" class="sb" font-size="22">Valence band</text>
</svg></body></html>
